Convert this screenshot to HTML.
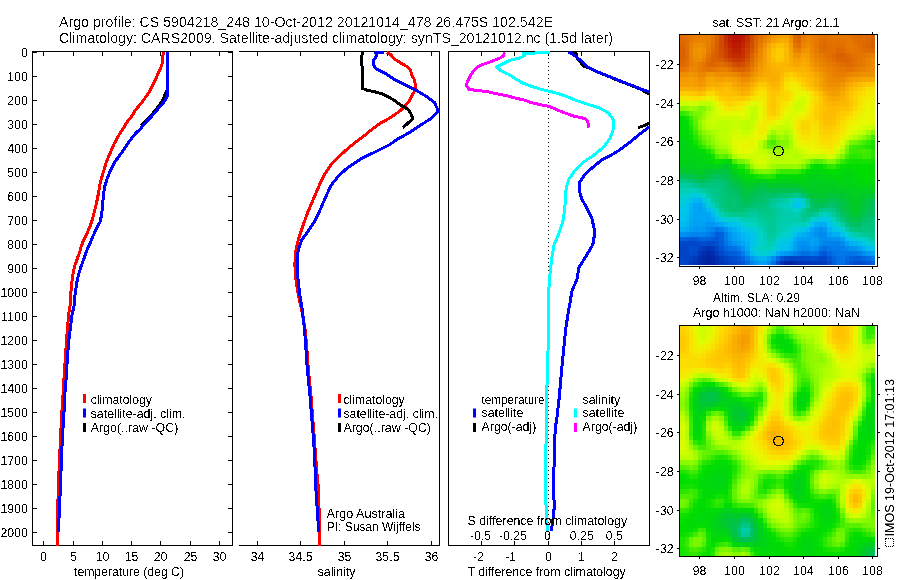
<!DOCTYPE html>
<html><head><meta charset="utf-8"><title>Argo profile</title>
<style>html,body{margin:0;padding:0;background:#fff;overflow:hidden}svg{display:block}</style></head>
<body><svg width="900" height="580" viewBox="0 0 900 580" font-family="Liberation Sans, Arial, Helvetica, sans-serif" fill="#000">
<rect width="900" height="580" fill="#fff"/>
<rect x="32" y="51" width="201" height="1"/>
<rect x="32" y="545" width="201" height="1"/>
<rect x="32" y="51" width="1" height="495"/>
<rect x="232" y="51" width="1" height="495"/>
<rect x="32" y="52" width="5" height="1"/>
<rect x="228" y="52" width="5" height="1"/>
<rect x="32" y="76" width="5" height="1"/>
<rect x="228" y="76" width="5" height="1"/>
<rect x="32" y="100" width="5" height="1"/>
<rect x="228" y="100" width="5" height="1"/>
<rect x="32" y="124" width="5" height="1"/>
<rect x="228" y="124" width="5" height="1"/>
<rect x="32" y="148" width="5" height="1"/>
<rect x="228" y="148" width="5" height="1"/>
<rect x="32" y="172" width="5" height="1"/>
<rect x="228" y="172" width="5" height="1"/>
<rect x="32" y="196" width="5" height="1"/>
<rect x="228" y="196" width="5" height="1"/>
<rect x="32" y="220" width="5" height="1"/>
<rect x="228" y="220" width="5" height="1"/>
<rect x="32" y="244" width="5" height="1"/>
<rect x="228" y="244" width="5" height="1"/>
<rect x="32" y="268" width="5" height="1"/>
<rect x="228" y="268" width="5" height="1"/>
<rect x="32" y="292" width="5" height="1"/>
<rect x="228" y="292" width="5" height="1"/>
<rect x="32" y="316" width="5" height="1"/>
<rect x="228" y="316" width="5" height="1"/>
<rect x="32" y="340" width="5" height="1"/>
<rect x="228" y="340" width="5" height="1"/>
<rect x="32" y="364" width="5" height="1"/>
<rect x="228" y="364" width="5" height="1"/>
<rect x="32" y="388" width="5" height="1"/>
<rect x="228" y="388" width="5" height="1"/>
<rect x="32" y="412" width="5" height="1"/>
<rect x="228" y="412" width="5" height="1"/>
<rect x="32" y="436" width="5" height="1"/>
<rect x="228" y="436" width="5" height="1"/>
<rect x="32" y="460" width="5" height="1"/>
<rect x="228" y="460" width="5" height="1"/>
<rect x="32" y="484" width="5" height="1"/>
<rect x="228" y="484" width="5" height="1"/>
<rect x="32" y="508" width="5" height="1"/>
<rect x="228" y="508" width="5" height="1"/>
<rect x="32" y="532" width="5" height="1"/>
<rect x="228" y="532" width="5" height="1"/>
<rect x="43" y="51" width="1" height="5"/>
<rect x="43" y="541" width="1" height="5"/>
<rect x="73" y="51" width="1" height="5"/>
<rect x="73" y="541" width="1" height="5"/>
<rect x="102" y="51" width="1" height="5"/>
<rect x="102" y="541" width="1" height="5"/>
<rect x="131" y="51" width="1" height="5"/>
<rect x="131" y="541" width="1" height="5"/>
<rect x="160" y="51" width="1" height="5"/>
<rect x="160" y="541" width="1" height="5"/>
<rect x="190" y="51" width="1" height="5"/>
<rect x="190" y="541" width="1" height="5"/>
<rect x="219" y="51" width="1" height="5"/>
<rect x="219" y="541" width="1" height="5"/>
<rect x="239" y="51" width="201" height="1"/>
<rect x="239" y="545" width="201" height="1"/>
<rect x="439" y="51" width="1" height="495"/>
<rect x="257" y="51" width="1" height="5"/>
<rect x="257" y="541" width="1" height="5"/>
<rect x="300" y="51" width="1" height="5"/>
<rect x="300" y="541" width="1" height="5"/>
<rect x="344" y="51" width="1" height="5"/>
<rect x="344" y="541" width="1" height="5"/>
<rect x="387" y="51" width="1" height="5"/>
<rect x="387" y="541" width="1" height="5"/>
<rect x="431" y="51" width="1" height="5"/>
<rect x="431" y="541" width="1" height="5"/>
<rect x="448" y="51" width="202" height="1"/>
<rect x="448" y="545" width="202" height="1"/>
<rect x="448" y="51" width="1" height="495"/>
<rect x="649" y="51" width="1" height="495"/>
<rect x="481" y="51" width="1" height="5"/>
<rect x="481" y="541" width="1" height="5"/>
<rect x="514" y="51" width="1" height="5"/>
<rect x="514" y="541" width="1" height="5"/>
<rect x="548" y="51" width="1" height="5"/>
<rect x="548" y="541" width="1" height="5"/>
<rect x="581" y="51" width="1" height="5"/>
<rect x="581" y="541" width="1" height="5"/>
<rect x="614" y="51" width="1" height="5"/>
<rect x="614" y="541" width="1" height="5"/>
<g><rect x="548" y="54" width="1" height="1"/><rect x="548" y="58" width="1" height="1"/><rect x="548" y="62" width="1" height="1"/><rect x="548" y="66" width="1" height="1"/><rect x="548" y="70" width="1" height="1"/><rect x="548" y="74" width="1" height="1"/><rect x="548" y="78" width="1" height="1"/><rect x="548" y="82" width="1" height="1"/><rect x="548" y="86" width="1" height="1"/><rect x="548" y="90" width="1" height="1"/><rect x="548" y="94" width="1" height="1"/><rect x="548" y="98" width="1" height="1"/><rect x="548" y="102" width="1" height="1"/><rect x="548" y="106" width="1" height="1"/><rect x="548" y="110" width="1" height="1"/><rect x="548" y="114" width="1" height="1"/><rect x="548" y="118" width="1" height="1"/><rect x="548" y="122" width="1" height="1"/><rect x="548" y="126" width="1" height="1"/><rect x="548" y="130" width="1" height="1"/><rect x="548" y="134" width="1" height="1"/><rect x="548" y="138" width="1" height="1"/><rect x="548" y="142" width="1" height="1"/><rect x="548" y="146" width="1" height="1"/><rect x="548" y="150" width="1" height="1"/><rect x="548" y="154" width="1" height="1"/><rect x="548" y="158" width="1" height="1"/><rect x="548" y="162" width="1" height="1"/><rect x="548" y="166" width="1" height="1"/><rect x="548" y="170" width="1" height="1"/><rect x="548" y="174" width="1" height="1"/><rect x="548" y="178" width="1" height="1"/><rect x="548" y="182" width="1" height="1"/><rect x="548" y="186" width="1" height="1"/><rect x="548" y="190" width="1" height="1"/><rect x="548" y="194" width="1" height="1"/><rect x="548" y="198" width="1" height="1"/><rect x="548" y="202" width="1" height="1"/><rect x="548" y="206" width="1" height="1"/><rect x="548" y="210" width="1" height="1"/><rect x="548" y="214" width="1" height="1"/><rect x="548" y="218" width="1" height="1"/><rect x="548" y="222" width="1" height="1"/><rect x="548" y="226" width="1" height="1"/><rect x="548" y="230" width="1" height="1"/><rect x="548" y="234" width="1" height="1"/><rect x="548" y="238" width="1" height="1"/><rect x="548" y="242" width="1" height="1"/><rect x="548" y="246" width="1" height="1"/><rect x="548" y="250" width="1" height="1"/><rect x="548" y="254" width="1" height="1"/><rect x="548" y="258" width="1" height="1"/><rect x="548" y="262" width="1" height="1"/><rect x="548" y="266" width="1" height="1"/><rect x="548" y="270" width="1" height="1"/><rect x="548" y="274" width="1" height="1"/><rect x="548" y="278" width="1" height="1"/><rect x="548" y="282" width="1" height="1"/><rect x="548" y="286" width="1" height="1"/><rect x="548" y="290" width="1" height="1"/><rect x="548" y="294" width="1" height="1"/><rect x="548" y="298" width="1" height="1"/><rect x="548" y="302" width="1" height="1"/><rect x="548" y="306" width="1" height="1"/><rect x="548" y="310" width="1" height="1"/><rect x="548" y="314" width="1" height="1"/><rect x="548" y="318" width="1" height="1"/><rect x="548" y="322" width="1" height="1"/><rect x="548" y="326" width="1" height="1"/><rect x="548" y="330" width="1" height="1"/><rect x="548" y="334" width="1" height="1"/><rect x="548" y="338" width="1" height="1"/><rect x="548" y="342" width="1" height="1"/><rect x="548" y="346" width="1" height="1"/><rect x="548" y="350" width="1" height="1"/><rect x="548" y="354" width="1" height="1"/><rect x="548" y="358" width="1" height="1"/><rect x="548" y="362" width="1" height="1"/><rect x="548" y="366" width="1" height="1"/><rect x="548" y="370" width="1" height="1"/><rect x="548" y="374" width="1" height="1"/><rect x="548" y="378" width="1" height="1"/><rect x="548" y="382" width="1" height="1"/><rect x="548" y="386" width="1" height="1"/><rect x="548" y="390" width="1" height="1"/><rect x="548" y="394" width="1" height="1"/><rect x="548" y="398" width="1" height="1"/><rect x="548" y="402" width="1" height="1"/><rect x="548" y="406" width="1" height="1"/><rect x="548" y="410" width="1" height="1"/><rect x="548" y="414" width="1" height="1"/><rect x="548" y="418" width="1" height="1"/><rect x="548" y="422" width="1" height="1"/><rect x="548" y="426" width="1" height="1"/><rect x="548" y="430" width="1" height="1"/><rect x="548" y="434" width="1" height="1"/><rect x="548" y="438" width="1" height="1"/><rect x="548" y="442" width="1" height="1"/><rect x="548" y="446" width="1" height="1"/><rect x="548" y="450" width="1" height="1"/><rect x="548" y="454" width="1" height="1"/><rect x="548" y="458" width="1" height="1"/><rect x="548" y="462" width="1" height="1"/><rect x="548" y="466" width="1" height="1"/><rect x="548" y="470" width="1" height="1"/><rect x="548" y="474" width="1" height="1"/><rect x="548" y="478" width="1" height="1"/><rect x="548" y="482" width="1" height="1"/><rect x="548" y="486" width="1" height="1"/><rect x="548" y="490" width="1" height="1"/><rect x="548" y="494" width="1" height="1"/><rect x="548" y="498" width="1" height="1"/><rect x="548" y="502" width="1" height="1"/><rect x="548" y="506" width="1" height="1"/><rect x="548" y="510" width="1" height="1"/><rect x="548" y="514" width="1" height="1"/><rect x="548" y="518" width="1" height="1"/><rect x="548" y="522" width="1" height="1"/><rect x="548" y="526" width="1" height="1"/><rect x="548" y="530" width="1" height="1"/><rect x="548" y="534" width="1" height="1"/><rect x="548" y="538" width="1" height="1"/><rect x="548" y="542" width="1" height="1"/></g>
<defs><filter id="crisp" x="0" y="0" width="900" height="580" filterUnits="userSpaceOnUse"><feComponentTransfer><feFuncA type="discrete" tableValues="0 1"/></feComponentTransfer></filter><filter id="crisp3" x="0" y="0" width="900" height="580" filterUnits="userSpaceOnUse"><feComponentTransfer><feFuncA type="linear" slope="1.6" intercept="-0.25"/></feComponentTransfer></filter><filter id="crisp2" x="0" y="0" width="900" height="580" filterUnits="userSpaceOnUse"><feComponentTransfer><feFuncA type="discrete" tableValues="0 0 0 1 1"/></feComponentTransfer></filter><clipPath id="c1"><rect x="32" y="51" width="201" height="495"/></clipPath><clipPath id="c2"><rect x="239" y="51" width="201" height="495"/></clipPath><clipPath id="c3"><rect x="448" y="51" width="202" height="495"/></clipPath></defs>
<path d="M163.3,52.0 L162.8,58.0 L162.0,64.0 L160.7,68.0 L158.3,73.0 L154.6,81.4 L149.8,91.0 L143.2,100.7 L135.3,110.3 L132.1,115.7 L127.2,121.9 L123.1,128.8 L117.6,137.1 L113.4,145.3 L109.3,155.0 L105.9,163.3 L103.1,172.9 L100.3,182.6 L98.6,192.0 L97.9,196.2 L96.4,203.4 L94.3,211.7 L92.2,220.0 L89.7,227.2 L86.6,234.5 L83.4,240.7 L80.6,248.0 L80.0,251.2 L77.4,258.4 L74.8,265.7 L73.3,271.9 L72.2,279.1 L71.2,288.4 L70.7,296.7 L70.2,304.5 L69.0,312.4 L67.5,326.9 L66.5,341.4 L65.2,360.0 L64.0,378.6 L63.0,395.2 L61.9,411.7 L60.5,438.3 L59.1,468.5 L58.1,496.4 L57.4,522.0 L57.0,548.0" fill="none" stroke="#ff0000" stroke-width="3" stroke-linejoin="round" stroke-linecap="butt" shape-rendering="crispEdges" clip-path="url(#c1)"/>
<path d="M167.5,52.0 L167.4,89.5 L165.6,93.0 L164.0,97.5 L162.2,101.3 L158.3,106.5 L153.9,112.0 L149.8,117.0 L143.8,122.3 L141.4,125.3" fill="none" stroke="#000000" stroke-width="3" stroke-linejoin="round" stroke-linecap="butt" shape-rendering="crispEdges" clip-path="url(#c1)"/>
<path d="M167.5,52.0 L167.5,94.3 L166.8,97.4 L164.5,101.3 L160.6,105.9 L155.9,111.4 L150.5,117.6 L145.9,122.2 L140.8,128.4 L135.5,133.6 L130.0,140.5 L125.2,147.4 L119.0,156.4 L114.8,161.9 L110.7,170.2 L107.2,178.4 L104.6,187.0 L103.6,194.0 L103.1,198.3 L102.6,206.6 L101.6,214.8 L100.0,222.1 L96.4,228.3 L93.3,235.5 L90.2,242.8 L87.1,249.5 L86.2,252.2 L83.6,259.5 L81.0,266.7 L79.0,272.9 L77.4,279.1 L75.9,288.4 L74.8,296.7 L74.3,304.5 L72.1,314.5 L70.0,331.0 L68.3,345.5 L67.3,360.0 L66.1,378.6 L64.8,395.2 L63.8,415.9 L62.3,438.3 L61.4,461.5 L60.5,484.8 L59.5,508.0 L58.4,532.0" fill="none" stroke="#0000ff" stroke-width="3" stroke-linejoin="round" stroke-linecap="butt" shape-rendering="crispEdges" clip-path="url(#c1)"/>
<path d="M386.9,52.0 L391.0,54.8 L394.3,58.9 L400.8,63.0 L406.5,66.3 L410.6,70.4 L411.9,75.3 L414.7,80.2 L415.5,87.6 L413.9,92.5 L412.2,95.2 L409.7,100.3 L405.5,105.5 L400.3,110.7 L395.2,114.3 L390.0,117.9 L379.5,123.7 L369.7,131.0 L365.2,135.0 L357.6,140.7 L348.1,148.3 L339.6,155.9 L332.0,163.5 L325.4,173.0 L319.7,184.3 L314.0,197.6 L308.3,210.9 L303.5,224.2 L299.7,235.6 L298.2,240.0 L295.5,252.4 L294.9,264.8 L296.1,281.4 L298.6,295.9 L301.7,310.4 L304.8,327.0 L306.5,343.5 L307.5,359.0 L309.0,376.0 L311.0,396.0 L312.6,417.0 L314.3,438.0 L315.8,458.0 L317.0,474.0 L318.0,484.0 L318.9,504.5 L319.5,525.0 L319.5,548.0" fill="none" stroke="#ff0000" stroke-width="3" stroke-linejoin="round" stroke-linecap="butt" shape-rendering="crispEdges" clip-path="url(#c2)"/>
<path d="M362.3,52.0 L361.5,59.7 L362.3,69.6 L362.3,88.4 L366.4,90.0 L374.6,91.7 L382.8,94.1 L390.0,97.8 L395.2,100.9 L400.3,105.0 L404.5,107.1 L408.1,109.7 L410.7,113.3 L412.8,117.9 L412.8,118.8 L408.2,122.9 L402.8,127.8" fill="none" stroke="#000000" stroke-width="3" stroke-linejoin="round" stroke-linecap="butt" shape-rendering="crispEdges" clip-path="url(#c2)"/>
<path d="M384.4,52.4 L375.4,52.9 L377.0,55.6 L373.8,59.7 L373.3,64.7 L376.2,68.8 L384.4,72.9 L394.3,79.4 L404.1,84.3 L415.6,90.0 L425.4,95.8 L434.4,102.3 L438.5,111.3 L431.9,117.9 L420.4,125.3 L410.6,131.8 L403.2,136.0 L397.5,139.2 L389.9,144.5 L374.7,152.1 L361.4,158.7 L348.1,167.3 L338.6,175.8 L331.0,185.3 L325.4,197.6 L319.7,210.9 L314.0,222.3 L306.4,233.7 L301.7,240.0 L298.2,250.4 L297.0,260.7 L297.6,275.2 L299.7,293.8 L302.4,310.4 L304.2,327.0 L305.7,343.5 L306.5,359.0 L308.0,376.0 L310.0,396.0 L311.7,417.0 L313.4,438.0 L314.8,458.5 L315.2,474.0 L315.5,483.8 L316.9,504.5 L318.3,525.2 L318.6,532.0" fill="none" stroke="#0000ff" stroke-width="3" stroke-linejoin="round" stroke-linecap="butt" shape-rendering="crispEdges" clip-path="url(#c2)"/>
<path d="M504.5,52.4 L503.3,55.9 L499.6,58.3 L494.8,60.1 L488.8,62.5 L481.5,64.9 L477.3,67.3 L473.1,71.5 L470.7,75.2 L468.9,78.8 L467.1,82.4 L466.5,86.0 L469.5,89.6 L479.1,90.6 L488.8,92.0 L497.2,93.9 L506.9,95.7 L515.3,98.1 L523.8,99.9 L532.2,102.9 L540.6,104.7 L549.1,106.5 L552.4,107.8 L564.5,112.9 L574.8,116.4 L585.2,118.6 L587.8,121.6 L588.6,127.6" fill="none" stroke="#ff00ff" stroke-width="3" stroke-linejoin="round" stroke-linecap="butt" shape-rendering="crispEdges" clip-path="url(#c3)"/>
<path d="M573.5,52.0 L577.0,54.3 L576.5,57.0 L579.7,61.5 L584.3,66.4 L589.0,67.9 L593.1,69.9 L597.2,72.0 L606.0,75.4 L617.7,80.2 L620.0,81.1 L630.3,85.0 L640.7,89.3 L646.0,92.3 L649.0,94.0 L670.0,100.0 L670.0,120.0 L649.0,123.1 L643.8,125.7 L638.1,127.7" fill="none" stroke="#000000" stroke-width="3" stroke-linejoin="round" stroke-linecap="butt" shape-rendering="crispEdges" clip-path="url(#c3)"/>
<path d="M568.3,52.1 L571.9,53.7 L575.0,55.8 L577.6,58.3 L580.7,60.4 L583.3,63.0 L585.9,65.6 L589.0,67.7 L593.1,69.7 L597.2,71.8 L606.0,75.2 L617.7,80.0 L620.0,80.9 L630.3,84.8 L640.7,89.0 L648.4,91.5 L670.0,100.0 L670.0,120.0 L648.4,127.7 L640.3,133.6 L630.0,142.2 L619.7,150.0 L611.0,155.2 L602.4,159.5 L593.8,166.4 L585.2,174.1 L579.1,182.8 L579.1,189.7 L581.7,199.1 L585.5,205.4 L591.8,217.8 L594.9,232.3 L592.8,244.7 L585.5,257.1 L578.9,267.5 L576.9,279.9 L572.1,290.2 L570.0,302.7 L568.0,314.0 L565.5,330.7 L563.5,351.4 L561.4,372.1 L559.3,397.0 L556.9,417.7 L555.2,429.0 L554.2,456.0 L553.7,487.1 L554.2,507.8 L552.7,522.3 L551.0,531.0" fill="none" stroke="#0000ff" stroke-width="3" stroke-linejoin="round" stroke-linecap="butt" shape-rendering="crispEdges" clip-path="url(#c3)"/>
<path d="M550.3,52.5 L539.4,52.8 L527.4,53.4 L523.2,53.7 L524.4,55.9 L518.9,58.3 L510.5,60.1 L504.5,63.1 L496.6,66.7 L500.8,70.9 L508.1,74.0 L515.3,78.8 L522.6,83.0 L532.2,86.6 L541.9,89.6 L555.0,92.6 L566.3,96.3 L574.8,100.0 L585.2,103.4 L599.0,107.8 L608.4,112.9 L613.6,119.8 L613.3,129.3 L610.2,137.9 L604.1,146.6 L593.8,155.2 L583.4,162.1 L574.8,170.7 L568.8,179.3 L566.2,187.9 L565.3,199.1 L564.8,209.5 L562.8,221.9 L558.6,234.3 L554.1,244.7 L552.0,257.1 L550.4,269.5 L549.3,282.0 L548.6,295.0 L549.0,310.0 L548.4,334.8 L547.5,372.1 L546.5,399.0 L546.3,429.0 L545.9,449.8 L545.3,474.7 L545.5,495.4 L546.5,514.0 L547.3,531.0" fill="none" stroke="#00ffff" stroke-width="3" stroke-linejoin="round" stroke-linecap="butt" shape-rendering="crispEdges" clip-path="url(#c3)"/>
<rect x="83" y="394" width="3" height="9" fill="#ff0000"/>
<rect x="83" y="408.5" width="3" height="9" fill="#0000ff"/>
<rect x="83" y="423" width="3" height="9" fill="#000000"/>
<rect x="338" y="394" width="3" height="9" fill="#ff0000"/>
<rect x="338" y="408.5" width="3" height="9" fill="#0000ff"/>
<rect x="338" y="423" width="3" height="9" fill="#000000"/>
<rect x="473" y="408.5" width="3" height="9" fill="#0000ff"/>
<rect x="473" y="423" width="3" height="9" fill="#000000"/>
<rect x="574" y="408.5" width="3" height="9" fill="#00ffff"/>
<rect x="574" y="423" width="3" height="9" fill="#ff00ff"/>
<g shape-rendering="crispEdges"><rect x="680.0" y="35.0" width="4.9" height="3.4" fill="#e06c00"/><rect x="684.6" y="35.0" width="4.6" height="3.4" fill="#e27000"/><rect x="689.0" y="35.0" width="4.6" height="3.4" fill="#e67900"/><rect x="693.3" y="35.0" width="17.6" height="3.4" fill="#e87d00"/><rect x="710.6" y="35.0" width="4.6" height="3.4" fill="#e47400"/><rect x="714.9" y="35.0" width="4.6" height="3.4" fill="#db6300"/><rect x="719.2" y="35.0" width="4.6" height="3.4" fill="#d14b00"/><rect x="723.6" y="35.0" width="4.6" height="3.4" fill="#c42d00"/><rect x="727.9" y="35.0" width="4.6" height="3.4" fill="#bc1900"/><rect x="732.2" y="35.0" width="8.9" height="3.4" fill="#b80f00"/><rect x="740.9" y="35.0" width="4.6" height="3.4" fill="#bc1900"/><rect x="745.2" y="35.0" width="4.6" height="3.4" fill="#c42d00"/><rect x="749.5" y="35.0" width="4.6" height="3.4" fill="#d14b00"/><rect x="753.9" y="35.0" width="4.6" height="3.4" fill="#da6100"/><rect x="758.2" y="35.0" width="4.6" height="3.4" fill="#e16f00"/><rect x="762.5" y="35.0" width="4.6" height="3.4" fill="#e87c00"/><rect x="766.8" y="35.0" width="4.6" height="3.4" fill="#ec8800"/><rect x="771.1" y="35.0" width="4.6" height="3.4" fill="#f09300"/><rect x="775.5" y="35.0" width="4.6" height="3.4" fill="#f39c00"/><rect x="779.8" y="35.0" width="9.0" height="3.4" fill="#f5a000"/><rect x="788.5" y="35.0" width="4.6" height="3.4" fill="#ee8d00"/><rect x="792.8" y="35.0" width="4.6" height="3.4" fill="#dd6600"/><rect x="797.1" y="35.0" width="4.6" height="3.4" fill="#da5f00"/><rect x="801.4" y="35.0" width="4.6" height="3.4" fill="#e57800"/><rect x="805.8" y="35.0" width="4.6" height="3.4" fill="#ea8200"/><rect x="810.1" y="35.0" width="4.6" height="3.4" fill="#e97f00"/><rect x="814.4" y="35.0" width="4.6" height="3.4" fill="#e67900"/><rect x="818.7" y="35.0" width="4.6" height="3.4" fill="#e27000"/><rect x="823.0" y="35.0" width="4.6" height="3.4" fill="#e16e00"/><rect x="827.4" y="35.0" width="4.6" height="3.4" fill="#e37300"/><rect x="831.7" y="35.0" width="17.6" height="3.4" fill="#e57600"/><rect x="849.0" y="35.0" width="4.6" height="3.4" fill="#e37300"/><rect x="853.3" y="35.0" width="4.6" height="3.4" fill="#e06c00"/><rect x="857.6" y="35.0" width="4.6" height="3.4" fill="#de6900"/><rect x="862.0" y="35.0" width="4.6" height="3.4" fill="#df6b00"/><rect x="866.3" y="35.0" width="4.6" height="3.4" fill="#dd6700"/><rect x="870.6" y="35.0" width="4.7" height="3.4" fill="#d95e00"/><rect x="680.0" y="38.1" width="4.9" height="5.1" fill="#de6900"/><rect x="684.6" y="38.1" width="4.6" height="5.1" fill="#e16f00"/><rect x="689.0" y="38.1" width="4.6" height="5.1" fill="#e77b00"/><rect x="693.3" y="38.1" width="4.6" height="5.1" fill="#ea8200"/><rect x="697.6" y="38.1" width="4.6" height="5.1" fill="#ea8300"/><rect x="701.9" y="38.1" width="4.6" height="5.1" fill="#ea8200"/><rect x="706.3" y="38.1" width="4.6" height="5.1" fill="#e87d00"/><rect x="710.6" y="38.1" width="4.6" height="5.1" fill="#e37200"/><rect x="714.9" y="38.1" width="4.6" height="5.1" fill="#da6100"/><rect x="719.2" y="38.1" width="4.6" height="5.1" fill="#d14b00"/><rect x="723.6" y="38.1" width="4.6" height="5.1" fill="#c53000"/><rect x="727.9" y="38.1" width="4.6" height="5.1" fill="#be1e00"/><rect x="732.2" y="38.1" width="8.9" height="5.1" fill="#b91200"/><rect x="740.9" y="38.1" width="4.6" height="5.1" fill="#be1e00"/><rect x="745.2" y="38.1" width="4.6" height="5.1" fill="#c63100"/><rect x="749.5" y="38.1" width="4.6" height="5.1" fill="#d14c00"/><rect x="753.9" y="38.1" width="4.6" height="5.1" fill="#db6300"/><rect x="758.2" y="38.1" width="4.6" height="5.1" fill="#e37400"/><rect x="762.5" y="38.1" width="4.6" height="5.1" fill="#ea8300"/><rect x="766.8" y="38.1" width="4.6" height="5.1" fill="#f09200"/><rect x="771.1" y="38.1" width="4.6" height="5.1" fill="#f49e00"/><rect x="775.5" y="38.1" width="4.6" height="5.1" fill="#f7a800"/><rect x="779.8" y="38.1" width="4.6" height="5.1" fill="#f8ab00"/><rect x="784.1" y="38.1" width="4.6" height="5.1" fill="#f7a700"/><rect x="788.5" y="38.1" width="4.6" height="5.1" fill="#f09200"/><rect x="792.8" y="38.1" width="4.6" height="5.1" fill="#e06c00"/><rect x="797.1" y="38.1" width="4.6" height="5.1" fill="#dc6500"/><rect x="801.4" y="38.1" width="4.6" height="5.1" fill="#e87d00"/><rect x="805.8" y="38.1" width="4.6" height="5.1" fill="#eb8600"/><rect x="810.1" y="38.1" width="4.6" height="5.1" fill="#e98000"/><rect x="814.4" y="38.1" width="4.6" height="5.1" fill="#e67800"/><rect x="818.7" y="38.1" width="4.6" height="5.1" fill="#e16e00"/><rect x="823.0" y="38.1" width="4.6" height="5.1" fill="#e06c00"/><rect x="827.4" y="38.1" width="4.6" height="5.1" fill="#e37200"/><rect x="831.7" y="38.1" width="4.6" height="5.1" fill="#e47400"/><rect x="836.0" y="38.1" width="4.6" height="5.1" fill="#e37300"/><rect x="840.4" y="38.1" width="4.6" height="5.1" fill="#e47400"/><rect x="844.7" y="38.1" width="4.6" height="5.1" fill="#e57600"/><rect x="849.0" y="38.1" width="4.6" height="5.1" fill="#e47500"/><rect x="853.3" y="38.1" width="4.6" height="5.1" fill="#e16f00"/><rect x="857.6" y="38.1" width="4.6" height="5.1" fill="#df6b00"/><rect x="862.0" y="38.1" width="4.6" height="5.1" fill="#df6a00"/><rect x="866.3" y="38.1" width="4.6" height="5.1" fill="#dd6600"/><rect x="870.6" y="38.1" width="4.7" height="5.1" fill="#d95e00"/><rect x="680.0" y="42.9" width="4.9" height="5.1" fill="#dc6400"/><rect x="684.6" y="42.9" width="4.6" height="5.1" fill="#e06d00"/><rect x="689.0" y="42.9" width="4.6" height="5.1" fill="#e98100"/><rect x="693.3" y="42.9" width="4.6" height="5.1" fill="#ee8c00"/><rect x="697.6" y="42.9" width="4.6" height="5.1" fill="#ef9000"/><rect x="701.9" y="42.9" width="4.6" height="5.1" fill="#ed8b00"/><rect x="706.3" y="42.9" width="4.6" height="5.1" fill="#e87e00"/><rect x="710.6" y="42.9" width="4.6" height="5.1" fill="#e16f00"/><rect x="714.9" y="42.9" width="4.6" height="5.1" fill="#d95e00"/><rect x="719.2" y="42.9" width="4.6" height="5.1" fill="#d04a00"/><rect x="723.6" y="42.9" width="4.6" height="5.1" fill="#c83700"/><rect x="727.9" y="42.9" width="4.6" height="5.1" fill="#c12600"/><rect x="732.2" y="42.9" width="8.9" height="5.1" fill="#bc1a00"/><rect x="740.9" y="42.9" width="4.6" height="5.1" fill="#c12600"/><rect x="745.2" y="42.9" width="4.6" height="5.1" fill="#c93800"/><rect x="749.5" y="42.9" width="4.6" height="5.1" fill="#d24f00"/><rect x="753.9" y="42.9" width="4.6" height="5.1" fill="#dd6600"/><rect x="758.2" y="42.9" width="4.6" height="5.1" fill="#e87d00"/><rect x="762.5" y="42.9" width="4.6" height="5.1" fill="#f09200"/><rect x="766.8" y="42.9" width="4.6" height="5.1" fill="#f6a500"/><rect x="771.1" y="42.9" width="4.6" height="5.1" fill="#fbb400"/><rect x="775.5" y="42.9" width="8.9" height="5.1" fill="#fec100"/><rect x="784.1" y="42.9" width="4.6" height="5.1" fill="#fbb400"/><rect x="788.5" y="42.9" width="4.6" height="5.1" fill="#f39b00"/><rect x="792.8" y="42.9" width="4.6" height="5.1" fill="#e57700"/><rect x="797.1" y="42.9" width="4.6" height="5.1" fill="#e27000"/><rect x="801.4" y="42.9" width="4.6" height="5.1" fill="#eb8600"/><rect x="805.8" y="42.9" width="4.6" height="5.1" fill="#ee8c00"/><rect x="810.1" y="42.9" width="4.6" height="5.1" fill="#ea8200"/><rect x="814.4" y="42.9" width="4.6" height="5.1" fill="#e57700"/><rect x="818.7" y="42.9" width="4.6" height="5.1" fill="#df6a00"/><rect x="823.0" y="42.9" width="4.6" height="5.1" fill="#de6800"/><rect x="827.4" y="42.9" width="4.6" height="5.1" fill="#e16f00"/><rect x="831.7" y="42.9" width="4.6" height="5.1" fill="#e27100"/><rect x="836.0" y="42.9" width="4.6" height="5.1" fill="#e06d00"/><rect x="840.4" y="42.9" width="4.6" height="5.1" fill="#e16f00"/><rect x="844.7" y="42.9" width="4.6" height="5.1" fill="#e57700"/><rect x="849.0" y="42.9" width="4.6" height="5.1" fill="#e67900"/><rect x="853.3" y="42.9" width="4.6" height="5.1" fill="#e47500"/><rect x="857.6" y="42.9" width="4.6" height="5.1" fill="#e16f00"/><rect x="862.0" y="42.9" width="4.6" height="5.1" fill="#de6900"/><rect x="866.3" y="42.9" width="4.6" height="5.1" fill="#db6300"/><rect x="870.6" y="42.9" width="4.7" height="5.1" fill="#d85d00"/><rect x="680.0" y="47.8" width="4.9" height="5.1" fill="#da6100"/><rect x="684.6" y="47.8" width="4.6" height="5.1" fill="#e06c00"/><rect x="689.0" y="47.8" width="4.6" height="5.1" fill="#ea8300"/><rect x="693.3" y="47.8" width="4.6" height="5.1" fill="#ef9100"/><rect x="697.6" y="47.8" width="4.6" height="5.1" fill="#f19600"/><rect x="701.9" y="47.8" width="4.6" height="5.1" fill="#ee8e00"/><rect x="706.3" y="47.8" width="4.6" height="5.1" fill="#e77b00"/><rect x="710.6" y="47.8" width="4.6" height="5.1" fill="#df6a00"/><rect x="714.9" y="47.8" width="4.6" height="5.1" fill="#d85c00"/><rect x="719.2" y="47.8" width="4.6" height="5.1" fill="#d14c00"/><rect x="723.6" y="47.8" width="4.6" height="5.1" fill="#ca3c00"/><rect x="727.9" y="47.8" width="4.6" height="5.1" fill="#c42e00"/><rect x="732.2" y="47.8" width="8.9" height="5.1" fill="#bf2100"/><rect x="740.9" y="47.8" width="4.6" height="5.1" fill="#c42e00"/><rect x="745.2" y="47.8" width="4.6" height="5.1" fill="#cc3f00"/><rect x="749.5" y="47.8" width="4.6" height="5.1" fill="#d55600"/><rect x="753.9" y="47.8" width="4.6" height="5.1" fill="#e06c00"/><rect x="758.2" y="47.8" width="4.6" height="5.1" fill="#eb8400"/><rect x="762.5" y="47.8" width="4.6" height="5.1" fill="#f39b00"/><rect x="766.8" y="47.8" width="4.6" height="5.1" fill="#f9af00"/><rect x="771.1" y="47.8" width="4.6" height="5.1" fill="#fec000"/><rect x="775.5" y="47.8" width="4.6" height="5.1" fill="#fdcc00"/><rect x="779.8" y="47.8" width="4.6" height="5.1" fill="#feca00"/><rect x="784.1" y="47.8" width="4.6" height="5.1" fill="#fcba00"/><rect x="788.5" y="47.8" width="4.6" height="5.1" fill="#f6a300"/><rect x="792.8" y="47.8" width="4.6" height="5.1" fill="#eb8500"/><rect x="797.1" y="47.8" width="4.6" height="5.1" fill="#e97f00"/><rect x="801.4" y="47.8" width="4.6" height="5.1" fill="#f09200"/><rect x="805.8" y="47.8" width="4.6" height="5.1" fill="#f09400"/><rect x="810.1" y="47.8" width="4.6" height="5.1" fill="#eb8600"/><rect x="814.4" y="47.8" width="4.6" height="5.1" fill="#e67900"/><rect x="818.7" y="47.8" width="4.6" height="5.1" fill="#e16e00"/><rect x="823.0" y="47.8" width="4.6" height="5.1" fill="#df6a00"/><rect x="827.4" y="47.8" width="4.6" height="5.1" fill="#e16f00"/><rect x="831.7" y="47.8" width="4.6" height="5.1" fill="#e16e00"/><rect x="836.0" y="47.8" width="4.6" height="5.1" fill="#de6800"/><rect x="840.4" y="47.8" width="4.6" height="5.1" fill="#de6900"/><rect x="844.7" y="47.8" width="4.6" height="5.1" fill="#e37200"/><rect x="849.0" y="47.8" width="4.6" height="5.1" fill="#e57600"/><rect x="853.3" y="47.8" width="4.6" height="5.1" fill="#e47600"/><rect x="857.6" y="47.8" width="4.6" height="5.1" fill="#e37300"/><rect x="862.0" y="47.8" width="4.6" height="5.1" fill="#e06d00"/><rect x="866.3" y="47.8" width="4.6" height="5.1" fill="#df6a00"/><rect x="870.6" y="47.8" width="4.7" height="5.1" fill="#de6800"/><rect x="680.0" y="52.6" width="4.9" height="5.1" fill="#da6100"/><rect x="684.6" y="52.6" width="4.6" height="5.1" fill="#e06c00"/><rect x="689.0" y="52.6" width="4.6" height="5.1" fill="#ea8300"/><rect x="693.3" y="52.6" width="4.6" height="5.1" fill="#ef9000"/><rect x="697.6" y="52.6" width="4.6" height="5.1" fill="#f19400"/><rect x="701.9" y="52.6" width="4.6" height="5.1" fill="#ed8a00"/><rect x="706.3" y="52.6" width="4.6" height="5.1" fill="#e37200"/><rect x="710.6" y="52.6" width="4.6" height="5.1" fill="#db6300"/><rect x="714.9" y="52.6" width="4.6" height="5.1" fill="#d85c00"/><rect x="719.2" y="52.6" width="4.6" height="5.1" fill="#d35000"/><rect x="723.6" y="52.6" width="4.6" height="5.1" fill="#cc4000"/><rect x="727.9" y="52.6" width="4.6" height="5.1" fill="#c73300"/><rect x="732.2" y="52.6" width="8.9" height="5.1" fill="#c32a00"/><rect x="740.9" y="52.6" width="4.6" height="5.1" fill="#c73300"/><rect x="745.2" y="52.6" width="4.6" height="5.1" fill="#ce4600"/><rect x="749.5" y="52.6" width="4.6" height="5.1" fill="#da6000"/><rect x="753.9" y="52.6" width="4.6" height="5.1" fill="#e57600"/><rect x="758.2" y="52.6" width="4.6" height="5.1" fill="#ed8a00"/><rect x="762.5" y="52.6" width="4.6" height="5.1" fill="#f49e00"/><rect x="766.8" y="52.6" width="4.6" height="5.1" fill="#fab100"/><rect x="771.1" y="52.6" width="4.6" height="5.1" fill="#ffc100"/><rect x="775.5" y="52.6" width="4.6" height="5.1" fill="#fdcd00"/><rect x="779.8" y="52.6" width="4.6" height="5.1" fill="#feca00"/><rect x="784.1" y="52.6" width="4.6" height="5.1" fill="#fcba00"/><rect x="788.5" y="52.6" width="4.6" height="5.1" fill="#f7a800"/><rect x="792.8" y="52.6" width="4.6" height="5.1" fill="#f19500"/><rect x="797.1" y="52.6" width="4.6" height="5.1" fill="#f09200"/><rect x="801.4" y="52.6" width="4.6" height="5.1" fill="#f59f00"/><rect x="805.8" y="52.6" width="4.6" height="5.1" fill="#f49c00"/><rect x="810.1" y="52.6" width="4.6" height="5.1" fill="#ed8b00"/><rect x="814.4" y="52.6" width="4.6" height="5.1" fill="#e97f00"/><rect x="818.7" y="52.6" width="4.6" height="5.1" fill="#e67900"/><rect x="823.0" y="52.6" width="4.6" height="5.1" fill="#e47400"/><rect x="827.4" y="52.6" width="4.6" height="5.1" fill="#e16f00"/><rect x="831.7" y="52.6" width="4.6" height="5.1" fill="#de6900"/><rect x="836.0" y="52.6" width="4.6" height="5.1" fill="#db6100"/><rect x="840.4" y="52.6" width="4.6" height="5.1" fill="#da6100"/><rect x="844.7" y="52.6" width="4.6" height="5.1" fill="#dd6700"/><rect x="849.0" y="52.6" width="4.6" height="5.1" fill="#e06d00"/><rect x="853.3" y="52.6" width="4.6" height="5.1" fill="#e27100"/><rect x="857.6" y="52.6" width="4.6" height="5.1" fill="#e47400"/><rect x="862.0" y="52.6" width="4.6" height="5.1" fill="#e57600"/><rect x="866.3" y="52.6" width="4.6" height="5.1" fill="#e67900"/><rect x="870.6" y="52.6" width="4.7" height="5.1" fill="#e97f00"/><rect x="680.0" y="57.5" width="4.9" height="5.1" fill="#dc6400"/><rect x="684.6" y="57.5" width="4.6" height="5.1" fill="#e16e00"/><rect x="689.0" y="57.5" width="4.6" height="5.1" fill="#ea8200"/><rect x="693.3" y="57.5" width="4.6" height="5.1" fill="#ee8c00"/><rect x="697.6" y="57.5" width="4.6" height="5.1" fill="#ee8d00"/><rect x="701.9" y="57.5" width="4.6" height="5.1" fill="#ea8200"/><rect x="706.3" y="57.5" width="4.6" height="5.1" fill="#e06c00"/><rect x="710.6" y="57.5" width="8.9" height="5.1" fill="#da6100"/><rect x="719.2" y="57.5" width="4.6" height="5.1" fill="#d85c00"/><rect x="723.6" y="57.5" width="4.6" height="5.1" fill="#d24f00"/><rect x="727.9" y="57.5" width="4.6" height="5.1" fill="#cd4300"/><rect x="732.2" y="57.5" width="4.6" height="5.1" fill="#c93900"/><rect x="736.5" y="57.5" width="4.6" height="5.1" fill="#c83700"/><rect x="740.9" y="57.5" width="4.6" height="5.1" fill="#cb3e00"/><rect x="745.2" y="57.5" width="4.6" height="5.1" fill="#d35000"/><rect x="749.5" y="57.5" width="4.6" height="5.1" fill="#de6900"/><rect x="753.9" y="57.5" width="4.6" height="5.1" fill="#e87e00"/><rect x="758.2" y="57.5" width="4.6" height="5.1" fill="#ef8f00"/><rect x="762.5" y="57.5" width="4.6" height="5.1" fill="#f5a000"/><rect x="766.8" y="57.5" width="4.6" height="5.1" fill="#fab100"/><rect x="771.1" y="57.5" width="4.6" height="5.1" fill="#febe00"/><rect x="775.5" y="57.5" width="4.6" height="5.1" fill="#fec700"/><rect x="779.8" y="57.5" width="4.6" height="5.1" fill="#ffc500"/><rect x="784.1" y="57.5" width="4.6" height="5.1" fill="#fcb800"/><rect x="788.5" y="57.5" width="4.6" height="5.1" fill="#f8ac00"/><rect x="792.8" y="57.5" width="4.6" height="5.1" fill="#f5a000"/><rect x="797.1" y="57.5" width="4.6" height="5.1" fill="#f49e00"/><rect x="801.4" y="57.5" width="4.6" height="5.1" fill="#f7a800"/><rect x="805.8" y="57.5" width="4.6" height="5.1" fill="#f6a300"/><rect x="810.1" y="57.5" width="4.6" height="5.1" fill="#f09100"/><rect x="814.4" y="57.5" width="4.6" height="5.1" fill="#eb8600"/><rect x="818.7" y="57.5" width="4.6" height="5.1" fill="#ea8100"/><rect x="823.0" y="57.5" width="4.6" height="5.1" fill="#e77b00"/><rect x="827.4" y="57.5" width="4.6" height="5.1" fill="#e37400"/><rect x="831.7" y="57.5" width="4.6" height="5.1" fill="#e06c00"/><rect x="836.0" y="57.5" width="4.6" height="5.1" fill="#dc6500"/><rect x="840.4" y="57.5" width="4.6" height="5.1" fill="#db6200"/><rect x="844.7" y="57.5" width="4.6" height="5.1" fill="#dc6400"/><rect x="849.0" y="57.5" width="4.6" height="5.1" fill="#de6900"/><rect x="853.3" y="57.5" width="4.6" height="5.1" fill="#e27000"/><rect x="857.6" y="57.5" width="4.6" height="5.1" fill="#e47600"/><rect x="862.0" y="57.5" width="4.6" height="5.1" fill="#e77b00"/><rect x="866.3" y="57.5" width="4.6" height="5.1" fill="#ea8100"/><rect x="870.6" y="57.5" width="4.7" height="5.1" fill="#ed8a00"/><rect x="680.0" y="62.3" width="4.9" height="5.1" fill="#de6900"/><rect x="684.6" y="62.3" width="4.6" height="5.1" fill="#e27000"/><rect x="689.0" y="62.3" width="4.6" height="5.1" fill="#e97f00"/><rect x="693.3" y="62.3" width="4.6" height="5.1" fill="#eb8400"/><rect x="697.6" y="62.3" width="4.6" height="5.1" fill="#e87e00"/><rect x="701.9" y="62.3" width="4.6" height="5.1" fill="#e47500"/><rect x="706.3" y="62.3" width="4.6" height="5.1" fill="#de6800"/><rect x="710.6" y="62.3" width="4.6" height="5.1" fill="#dc6400"/><rect x="714.9" y="62.3" width="4.6" height="5.1" fill="#e06c00"/><rect x="719.2" y="62.3" width="4.6" height="5.1" fill="#e06d00"/><rect x="723.6" y="62.3" width="4.6" height="5.1" fill="#de6800"/><rect x="727.9" y="62.3" width="4.6" height="5.1" fill="#d95e00"/><rect x="732.2" y="62.3" width="4.6" height="5.1" fill="#d24e00"/><rect x="736.5" y="62.3" width="4.6" height="5.1" fill="#cf4800"/><rect x="740.9" y="62.3" width="4.6" height="5.1" fill="#d24f00"/><rect x="745.2" y="62.3" width="4.6" height="5.1" fill="#d85d00"/><rect x="749.5" y="62.3" width="4.6" height="5.1" fill="#e27100"/><rect x="753.9" y="62.3" width="4.6" height="5.1" fill="#ea8300"/><rect x="758.2" y="62.3" width="4.6" height="5.1" fill="#f19500"/><rect x="762.5" y="62.3" width="4.6" height="5.1" fill="#f6a300"/><rect x="766.8" y="62.3" width="4.6" height="5.1" fill="#f9ae00"/><rect x="771.1" y="62.3" width="4.6" height="5.1" fill="#fbb600"/><rect x="775.5" y="62.3" width="4.6" height="5.1" fill="#fcb900"/><rect x="779.8" y="62.3" width="4.6" height="5.1" fill="#fcb800"/><rect x="784.1" y="62.3" width="4.6" height="5.1" fill="#fbb400"/><rect x="788.5" y="62.3" width="4.6" height="5.1" fill="#f9ae00"/><rect x="792.8" y="62.3" width="8.9" height="5.1" fill="#f7a600"/><rect x="801.4" y="62.3" width="4.6" height="5.1" fill="#f9ac00"/><rect x="805.8" y="62.3" width="4.6" height="5.1" fill="#f7a800"/><rect x="810.1" y="62.3" width="4.6" height="5.1" fill="#f29900"/><rect x="814.4" y="62.3" width="4.6" height="5.1" fill="#ee8d00"/><rect x="818.7" y="62.3" width="4.6" height="5.1" fill="#eb8600"/><rect x="823.0" y="62.3" width="4.6" height="5.1" fill="#e98000"/><rect x="827.4" y="62.3" width="4.6" height="5.1" fill="#e77b00"/><rect x="831.7" y="62.3" width="4.6" height="5.1" fill="#e57600"/><rect x="836.0" y="62.3" width="4.6" height="5.1" fill="#e27100"/><rect x="840.4" y="62.3" width="4.6" height="5.1" fill="#e06d00"/><rect x="844.7" y="62.3" width="4.6" height="5.1" fill="#de6900"/><rect x="849.0" y="62.3" width="4.6" height="5.1" fill="#df6b00"/><rect x="853.3" y="62.3" width="4.6" height="5.1" fill="#e27200"/><rect x="857.6" y="62.3" width="4.6" height="5.1" fill="#e57700"/><rect x="862.0" y="62.3" width="4.6" height="5.1" fill="#e77b00"/><rect x="866.3" y="62.3" width="4.6" height="5.1" fill="#ea8100"/><rect x="870.6" y="62.3" width="4.7" height="5.1" fill="#ed8a00"/><rect x="680.0" y="67.1" width="4.9" height="5.1" fill="#e57700"/><rect x="684.6" y="67.1" width="4.6" height="5.1" fill="#e77c00"/><rect x="689.0" y="67.1" width="8.9" height="5.1" fill="#eb8600"/><rect x="697.6" y="67.1" width="4.6" height="5.1" fill="#e87d00"/><rect x="701.9" y="67.1" width="4.6" height="5.1" fill="#e57700"/><rect x="706.3" y="67.1" width="4.6" height="5.1" fill="#e47400"/><rect x="710.6" y="67.1" width="4.6" height="5.1" fill="#e57600"/><rect x="714.9" y="67.1" width="4.6" height="5.1" fill="#e77b00"/><rect x="719.2" y="67.1" width="8.9" height="5.1" fill="#e87d00"/><rect x="727.9" y="67.1" width="4.6" height="5.1" fill="#e47500"/><rect x="732.2" y="67.1" width="4.6" height="5.1" fill="#de6800"/><rect x="736.5" y="67.1" width="4.6" height="5.1" fill="#db6100"/><rect x="740.9" y="67.1" width="4.6" height="5.1" fill="#db6200"/><rect x="745.2" y="67.1" width="4.6" height="5.1" fill="#df6b00"/><rect x="749.5" y="67.1" width="4.6" height="5.1" fill="#e77c00"/><rect x="753.9" y="67.1" width="4.6" height="5.1" fill="#ed8c00"/><rect x="758.2" y="67.1" width="4.6" height="5.1" fill="#f39b00"/><rect x="762.5" y="67.1" width="4.6" height="5.1" fill="#f7a600"/><rect x="766.8" y="67.1" width="4.6" height="5.1" fill="#f9ac00"/><rect x="771.1" y="67.1" width="4.6" height="5.1" fill="#fab000"/><rect x="775.5" y="67.1" width="4.6" height="5.1" fill="#fab100"/><rect x="779.8" y="67.1" width="4.6" height="5.1" fill="#fbb400"/><rect x="784.1" y="67.1" width="8.9" height="5.1" fill="#fcb900"/><rect x="792.8" y="67.1" width="4.6" height="5.1" fill="#fab300"/><rect x="797.1" y="67.1" width="4.6" height="5.1" fill="#fab100"/><rect x="801.4" y="67.1" width="4.6" height="5.1" fill="#fab300"/><rect x="805.8" y="67.1" width="4.6" height="5.1" fill="#f9ae00"/><rect x="810.1" y="67.1" width="4.6" height="5.1" fill="#f6a200"/><rect x="814.4" y="67.1" width="4.6" height="5.1" fill="#f29800"/><rect x="818.7" y="67.1" width="4.6" height="5.1" fill="#ee8e00"/><rect x="823.0" y="67.1" width="4.6" height="5.1" fill="#ec8700"/><rect x="827.4" y="67.1" width="4.6" height="5.1" fill="#ea8100"/><rect x="831.7" y="67.1" width="4.6" height="5.1" fill="#e87d00"/><rect x="836.0" y="67.1" width="4.6" height="5.1" fill="#e67900"/><rect x="840.4" y="67.1" width="4.6" height="5.1" fill="#e57600"/><rect x="844.7" y="67.1" width="4.6" height="5.1" fill="#e37300"/><rect x="849.0" y="67.1" width="4.6" height="5.1" fill="#e47500"/><rect x="853.3" y="67.1" width="4.6" height="5.1" fill="#e77b00"/><rect x="857.6" y="67.1" width="4.6" height="5.1" fill="#e97f00"/><rect x="862.0" y="67.1" width="4.6" height="5.1" fill="#ea8200"/><rect x="866.3" y="67.1" width="4.6" height="5.1" fill="#ec8700"/><rect x="870.6" y="67.1" width="4.7" height="5.1" fill="#ee8d00"/><rect x="680.0" y="72.0" width="4.9" height="5.1" fill="#ee8e00"/><rect x="684.6" y="72.0" width="4.6" height="5.1" fill="#ef9000"/><rect x="689.0" y="72.0" width="4.6" height="5.1" fill="#f19600"/><rect x="693.3" y="72.0" width="4.6" height="5.1" fill="#f09300"/><rect x="697.6" y="72.0" width="8.9" height="5.1" fill="#ec8800"/><rect x="706.3" y="72.0" width="4.6" height="5.1" fill="#f09300"/><rect x="710.6" y="72.0" width="4.6" height="5.1" fill="#f19600"/><rect x="714.9" y="72.0" width="4.6" height="5.1" fill="#ef9000"/><rect x="719.2" y="72.0" width="4.6" height="5.1" fill="#ee8e00"/><rect x="723.6" y="72.0" width="4.6" height="5.1" fill="#ef8f00"/><rect x="727.9" y="72.0" width="4.6" height="5.1" fill="#ee8d00"/><rect x="732.2" y="72.0" width="4.6" height="5.1" fill="#ec8700"/><rect x="736.5" y="72.0" width="4.6" height="5.1" fill="#e98000"/><rect x="740.9" y="72.0" width="4.6" height="5.1" fill="#e67800"/><rect x="745.2" y="72.0" width="4.6" height="5.1" fill="#e77c00"/><rect x="749.5" y="72.0" width="4.6" height="5.1" fill="#ed8b00"/><rect x="753.9" y="72.0" width="4.6" height="5.1" fill="#f29700"/><rect x="758.2" y="72.0" width="4.6" height="5.1" fill="#f6a200"/><rect x="762.5" y="72.0" width="4.6" height="5.1" fill="#f8a900"/><rect x="766.8" y="72.0" width="4.6" height="5.1" fill="#f8ab00"/><rect x="771.1" y="72.0" width="4.6" height="5.1" fill="#f9ae00"/><rect x="775.5" y="72.0" width="4.6" height="5.1" fill="#fab000"/><rect x="779.8" y="72.0" width="4.6" height="5.1" fill="#fcb900"/><rect x="784.1" y="72.0" width="4.6" height="5.1" fill="#fec800"/><rect x="788.5" y="72.0" width="4.6" height="5.1" fill="#fecc00"/><rect x="792.8" y="72.0" width="4.6" height="5.1" fill="#ffc500"/><rect x="797.1" y="72.0" width="4.6" height="5.1" fill="#febf00"/><rect x="801.4" y="72.0" width="4.6" height="5.1" fill="#fdbb00"/><rect x="805.8" y="72.0" width="4.6" height="5.1" fill="#fbb600"/><rect x="810.1" y="72.0" width="4.6" height="5.1" fill="#f9ae00"/><rect x="814.4" y="72.0" width="4.6" height="5.1" fill="#f6a500"/><rect x="818.7" y="72.0" width="4.6" height="5.1" fill="#f39900"/><rect x="823.0" y="72.0" width="4.6" height="5.1" fill="#ef8f00"/><rect x="827.4" y="72.0" width="4.6" height="5.1" fill="#ec8700"/><rect x="831.7" y="72.0" width="4.6" height="5.1" fill="#e98000"/><rect x="836.0" y="72.0" width="4.6" height="5.1" fill="#e87d00"/><rect x="840.4" y="72.0" width="4.6" height="5.1" fill="#e87e00"/><rect x="844.7" y="72.0" width="4.6" height="5.1" fill="#ea8200"/><rect x="849.0" y="72.0" width="4.6" height="5.1" fill="#ec8700"/><rect x="853.3" y="72.0" width="4.6" height="5.1" fill="#ed8b00"/><rect x="857.6" y="72.0" width="4.6" height="5.1" fill="#ef8f00"/><rect x="862.0" y="72.0" width="4.6" height="5.1" fill="#ef9100"/><rect x="866.3" y="72.0" width="4.6" height="5.1" fill="#f09200"/><rect x="870.6" y="72.0" width="4.7" height="5.1" fill="#f09300"/><rect x="680.0" y="76.8" width="4.9" height="5.1" fill="#f39b00"/><rect x="684.6" y="76.8" width="4.6" height="5.1" fill="#f49c00"/><rect x="689.0" y="76.8" width="4.6" height="5.1" fill="#f59f00"/><rect x="693.3" y="76.8" width="4.6" height="5.1" fill="#f39b00"/><rect x="697.6" y="76.8" width="4.6" height="5.1" fill="#ef9100"/><rect x="701.9" y="76.8" width="4.6" height="5.1" fill="#f19400"/><rect x="706.3" y="76.8" width="4.6" height="5.1" fill="#f6a400"/><rect x="710.6" y="76.8" width="4.6" height="5.1" fill="#f7a800"/><rect x="714.9" y="76.8" width="4.6" height="5.1" fill="#f5a000"/><rect x="719.2" y="76.8" width="4.6" height="5.1" fill="#f49e00"/><rect x="723.6" y="76.8" width="4.6" height="5.1" fill="#f6a200"/><rect x="727.9" y="76.8" width="4.6" height="5.1" fill="#f5a100"/><rect x="732.2" y="76.8" width="4.6" height="5.1" fill="#f49c00"/><rect x="736.5" y="76.8" width="4.6" height="5.1" fill="#f19500"/><rect x="740.9" y="76.8" width="4.6" height="5.1" fill="#ed8b00"/><rect x="745.2" y="76.8" width="4.6" height="5.1" fill="#ee8d00"/><rect x="749.5" y="76.8" width="4.6" height="5.1" fill="#f39a00"/><rect x="753.9" y="76.8" width="4.6" height="5.1" fill="#f7a600"/><rect x="758.2" y="76.8" width="4.6" height="5.1" fill="#fab100"/><rect x="762.5" y="76.8" width="4.6" height="5.1" fill="#fbb500"/><rect x="766.8" y="76.8" width="4.6" height="5.1" fill="#fab000"/><rect x="771.1" y="76.8" width="4.6" height="5.1" fill="#f9af00"/><rect x="775.5" y="76.8" width="4.6" height="5.1" fill="#fab200"/><rect x="779.8" y="76.8" width="4.6" height="5.1" fill="#febf00"/><rect x="784.1" y="76.8" width="4.6" height="5.1" fill="#fcd500"/><rect x="788.5" y="76.8" width="4.6" height="5.1" fill="#fbdd00"/><rect x="792.8" y="76.8" width="4.6" height="5.1" fill="#fcd700"/><rect x="797.1" y="76.8" width="4.6" height="5.1" fill="#fdcf00"/><rect x="801.4" y="76.8" width="4.6" height="5.1" fill="#ffc500"/><rect x="805.8" y="76.8" width="4.6" height="5.1" fill="#fdbc00"/><rect x="810.1" y="76.8" width="4.6" height="5.1" fill="#fbb600"/><rect x="814.4" y="76.8" width="4.6" height="5.1" fill="#f9ad00"/><rect x="818.7" y="76.8" width="4.6" height="5.1" fill="#f5a000"/><rect x="823.0" y="76.8" width="4.6" height="5.1" fill="#f19400"/><rect x="827.4" y="76.8" width="4.6" height="5.1" fill="#ed8b00"/><rect x="831.7" y="76.8" width="4.6" height="5.1" fill="#eb8600"/><rect x="836.0" y="76.8" width="4.6" height="5.1" fill="#eb8400"/><rect x="840.4" y="76.8" width="4.6" height="5.1" fill="#ec8800"/><rect x="844.7" y="76.8" width="4.6" height="5.1" fill="#f09200"/><rect x="849.0" y="76.8" width="4.6" height="5.1" fill="#f39a00"/><rect x="853.3" y="76.8" width="4.6" height="5.1" fill="#f49e00"/><rect x="857.6" y="76.8" width="4.6" height="5.1" fill="#f6a300"/><rect x="862.0" y="76.8" width="4.6" height="5.1" fill="#f7a600"/><rect x="866.3" y="76.8" width="4.6" height="5.1" fill="#f8a900"/><rect x="870.6" y="76.8" width="4.7" height="5.1" fill="#f8aa00"/><rect x="680.0" y="81.7" width="4.9" height="5.1" fill="#f49e00"/><rect x="684.6" y="81.7" width="4.6" height="5.1" fill="#f59f00"/><rect x="689.0" y="81.7" width="4.6" height="5.1" fill="#f5a000"/><rect x="693.3" y="81.7" width="4.6" height="5.1" fill="#f49d00"/><rect x="697.6" y="81.7" width="4.6" height="5.1" fill="#f29700"/><rect x="701.9" y="81.7" width="4.6" height="5.1" fill="#f39b00"/><rect x="706.3" y="81.7" width="4.6" height="5.1" fill="#f8a900"/><rect x="710.6" y="81.7" width="4.6" height="5.1" fill="#f9ae00"/><rect x="714.9" y="81.7" width="4.6" height="5.1" fill="#f8ac00"/><rect x="719.2" y="81.7" width="4.6" height="5.1" fill="#f9ae00"/><rect x="723.6" y="81.7" width="4.6" height="5.1" fill="#fbb500"/><rect x="727.9" y="81.7" width="4.6" height="5.1" fill="#fab300"/><rect x="732.2" y="81.7" width="4.6" height="5.1" fill="#f7a800"/><rect x="736.5" y="81.7" width="4.6" height="5.1" fill="#f5a000"/><rect x="740.9" y="81.7" width="4.6" height="5.1" fill="#f39a00"/><rect x="745.2" y="81.7" width="4.6" height="5.1" fill="#f49e00"/><rect x="749.5" y="81.7" width="4.6" height="5.1" fill="#f8aa00"/><rect x="753.9" y="81.7" width="4.6" height="5.1" fill="#fcb800"/><rect x="758.2" y="81.7" width="4.6" height="5.1" fill="#fec700"/><rect x="762.5" y="81.7" width="4.6" height="5.1" fill="#fec800"/><rect x="766.8" y="81.7" width="4.6" height="5.1" fill="#fdbc00"/><rect x="771.1" y="81.7" width="4.6" height="5.1" fill="#fbb500"/><rect x="775.5" y="81.7" width="4.6" height="5.1" fill="#fbb600"/><rect x="779.8" y="81.7" width="4.6" height="5.1" fill="#fec600"/><rect x="784.1" y="81.7" width="4.6" height="5.1" fill="#fae100"/><rect x="788.5" y="81.7" width="4.6" height="5.1" fill="#f2eb00"/><rect x="792.8" y="81.7" width="4.6" height="5.1" fill="#f3ea00"/><rect x="797.1" y="81.7" width="4.6" height="5.1" fill="#fae100"/><rect x="801.4" y="81.7" width="4.6" height="5.1" fill="#fdcf00"/><rect x="805.8" y="81.7" width="4.6" height="5.1" fill="#ffc300"/><rect x="810.1" y="81.7" width="4.6" height="5.1" fill="#fdbb00"/><rect x="814.4" y="81.7" width="4.6" height="5.1" fill="#f9af00"/><rect x="818.7" y="81.7" width="4.6" height="5.1" fill="#f5a000"/><rect x="823.0" y="81.7" width="4.6" height="5.1" fill="#f19600"/><rect x="827.4" y="81.7" width="4.6" height="5.1" fill="#ef8f00"/><rect x="831.7" y="81.7" width="4.6" height="5.1" fill="#ee8d00"/><rect x="836.0" y="81.7" width="4.6" height="5.1" fill="#ee8e00"/><rect x="840.4" y="81.7" width="4.6" height="5.1" fill="#f19600"/><rect x="844.7" y="81.7" width="4.6" height="5.1" fill="#f6a200"/><rect x="849.0" y="81.7" width="4.6" height="5.1" fill="#f9ac00"/><rect x="853.3" y="81.7" width="4.6" height="5.1" fill="#fbb400"/><rect x="857.6" y="81.7" width="4.6" height="5.1" fill="#fdbb00"/><rect x="862.0" y="81.7" width="4.6" height="5.1" fill="#ffc200"/><rect x="866.3" y="81.7" width="4.6" height="5.1" fill="#fec900"/><rect x="870.6" y="81.7" width="4.7" height="5.1" fill="#fdd000"/><rect x="680.0" y="86.5" width="4.9" height="5.1" fill="#fab000"/><rect x="684.6" y="86.5" width="4.6" height="5.1" fill="#f9af00"/><rect x="689.0" y="86.5" width="4.6" height="5.1" fill="#f9ae00"/><rect x="693.3" y="86.5" width="4.6" height="5.1" fill="#f8ab00"/><rect x="697.6" y="86.5" width="4.6" height="5.1" fill="#f7a600"/><rect x="701.9" y="86.5" width="4.6" height="5.1" fill="#f8ab00"/><rect x="706.3" y="86.5" width="4.6" height="5.1" fill="#fdbb00"/><rect x="710.6" y="86.5" width="4.6" height="5.1" fill="#fec000"/><rect x="714.9" y="86.5" width="8.9" height="5.1" fill="#fcb900"/><rect x="723.6" y="86.5" width="4.6" height="5.1" fill="#fec000"/><rect x="727.9" y="86.5" width="4.6" height="5.1" fill="#febe00"/><rect x="732.2" y="86.5" width="4.6" height="5.1" fill="#fab300"/><rect x="736.5" y="86.5" width="4.6" height="5.1" fill="#f8ac00"/><rect x="740.9" y="86.5" width="4.6" height="5.1" fill="#f7a700"/><rect x="745.2" y="86.5" width="4.6" height="5.1" fill="#f8ac00"/><rect x="749.5" y="86.5" width="4.6" height="5.1" fill="#fcba00"/><rect x="753.9" y="86.5" width="4.6" height="5.1" fill="#fec900"/><rect x="758.2" y="86.5" width="4.6" height="5.1" fill="#fcd700"/><rect x="762.5" y="86.5" width="4.6" height="5.1" fill="#fcd600"/><rect x="766.8" y="86.5" width="4.6" height="5.1" fill="#ffc500"/><rect x="771.1" y="86.5" width="4.6" height="5.1" fill="#fdbc00"/><rect x="775.5" y="86.5" width="4.6" height="5.1" fill="#febe00"/><rect x="779.8" y="86.5" width="4.6" height="5.1" fill="#fecb00"/><rect x="784.1" y="86.5" width="4.6" height="5.1" fill="#fae200"/><rect x="788.5" y="86.5" width="4.6" height="5.1" fill="#f0ed00"/><rect x="792.8" y="86.5" width="4.6" height="5.1" fill="#ecf200"/><rect x="797.1" y="86.5" width="4.6" height="5.1" fill="#f0ee00"/><rect x="801.4" y="86.5" width="4.6" height="5.1" fill="#fae200"/><rect x="805.8" y="86.5" width="4.6" height="5.1" fill="#fcd500"/><rect x="810.1" y="86.5" width="4.6" height="5.1" fill="#fec900"/><rect x="814.4" y="86.5" width="4.6" height="5.1" fill="#fdbb00"/><rect x="818.7" y="86.5" width="4.6" height="5.1" fill="#f8aa00"/><rect x="823.0" y="86.5" width="4.6" height="5.1" fill="#f49e00"/><rect x="827.4" y="86.5" width="4.6" height="5.1" fill="#f29700"/><rect x="831.7" y="86.5" width="4.6" height="5.1" fill="#f19500"/><rect x="836.0" y="86.5" width="4.6" height="5.1" fill="#f29800"/><rect x="840.4" y="86.5" width="4.6" height="5.1" fill="#f5a100"/><rect x="844.7" y="86.5" width="4.6" height="5.1" fill="#f9af00"/><rect x="849.0" y="86.5" width="4.6" height="5.1" fill="#fdbb00"/><rect x="853.3" y="86.5" width="4.6" height="5.1" fill="#ffc400"/><rect x="857.6" y="86.5" width="4.6" height="5.1" fill="#fdcc00"/><rect x="862.0" y="86.5" width="4.6" height="5.1" fill="#fcd400"/><rect x="866.3" y="86.5" width="4.6" height="5.1" fill="#fbdd00"/><rect x="870.6" y="86.5" width="4.7" height="5.1" fill="#f7e500"/><rect x="680.0" y="91.3" width="4.9" height="5.1" fill="#fdce00"/><rect x="684.6" y="91.3" width="4.6" height="5.1" fill="#fecc00"/><rect x="689.0" y="91.3" width="4.6" height="5.1" fill="#fec800"/><rect x="693.3" y="91.3" width="4.6" height="5.1" fill="#ffc400"/><rect x="697.6" y="91.3" width="4.6" height="5.1" fill="#fdbc00"/><rect x="701.9" y="91.3" width="4.6" height="5.1" fill="#ffc400"/><rect x="706.3" y="91.3" width="4.6" height="5.1" fill="#fcd700"/><rect x="710.6" y="91.3" width="4.6" height="5.1" fill="#fbd900"/><rect x="714.9" y="91.3" width="4.6" height="5.1" fill="#fec800"/><rect x="719.2" y="91.3" width="4.6" height="5.1" fill="#fec000"/><rect x="723.6" y="91.3" width="4.6" height="5.1" fill="#ffc200"/><rect x="727.9" y="91.3" width="4.6" height="5.1" fill="#fec100"/><rect x="732.2" y="91.3" width="4.6" height="5.1" fill="#febe00"/><rect x="736.5" y="91.3" width="4.6" height="5.1" fill="#fcb800"/><rect x="740.9" y="91.3" width="4.6" height="5.1" fill="#fab100"/><rect x="745.2" y="91.3" width="4.6" height="5.1" fill="#fbb700"/><rect x="749.5" y="91.3" width="4.6" height="5.1" fill="#fec800"/><rect x="753.9" y="91.3" width="4.6" height="5.1" fill="#fcd700"/><rect x="758.2" y="91.3" width="4.6" height="5.1" fill="#f8e300"/><rect x="762.5" y="91.3" width="4.6" height="5.1" fill="#fae000"/><rect x="766.8" y="91.3" width="4.6" height="5.1" fill="#fecb00"/><rect x="771.1" y="91.3" width="4.6" height="5.1" fill="#ffc400"/><rect x="775.5" y="91.3" width="4.6" height="5.1" fill="#fec900"/><rect x="779.8" y="91.3" width="4.6" height="5.1" fill="#fdd000"/><rect x="784.1" y="91.3" width="4.6" height="5.1" fill="#fcd700"/><rect x="788.5" y="91.3" width="4.6" height="5.1" fill="#f8e300"/><rect x="792.8" y="91.3" width="4.6" height="5.1" fill="#edf100"/><rect x="797.1" y="91.3" width="8.9" height="5.1" fill="#e8f800"/><rect x="805.8" y="91.3" width="4.6" height="5.1" fill="#eef000"/><rect x="810.1" y="91.3" width="4.6" height="5.1" fill="#fae100"/><rect x="814.4" y="91.3" width="4.6" height="5.1" fill="#fdcf00"/><rect x="818.7" y="91.3" width="4.6" height="5.1" fill="#fdbd00"/><rect x="823.0" y="91.3" width="4.6" height="5.1" fill="#f9ad00"/><rect x="827.4" y="91.3" width="4.6" height="5.1" fill="#f5a200"/><rect x="831.7" y="91.3" width="4.6" height="5.1" fill="#f49d00"/><rect x="836.0" y="91.3" width="4.6" height="5.1" fill="#f5a100"/><rect x="840.4" y="91.3" width="4.6" height="5.1" fill="#f8aa00"/><rect x="844.7" y="91.3" width="4.6" height="5.1" fill="#fcb800"/><rect x="849.0" y="91.3" width="4.6" height="5.1" fill="#ffc400"/><rect x="853.3" y="91.3" width="4.6" height="5.1" fill="#fdce00"/><rect x="857.6" y="91.3" width="4.6" height="5.1" fill="#fcd700"/><rect x="862.0" y="91.3" width="4.6" height="5.1" fill="#fae000"/><rect x="866.3" y="91.3" width="4.6" height="5.1" fill="#f6e600"/><rect x="870.6" y="91.3" width="4.7" height="5.1" fill="#f1ec00"/><rect x="680.0" y="96.2" width="4.9" height="5.1" fill="#f2eb00"/><rect x="684.6" y="96.2" width="4.6" height="5.1" fill="#f3e900"/><rect x="689.0" y="96.2" width="4.6" height="5.1" fill="#f6e600"/><rect x="693.3" y="96.2" width="4.6" height="5.1" fill="#f8e300"/><rect x="697.6" y="96.2" width="4.6" height="5.1" fill="#f9e200"/><rect x="701.9" y="96.2" width="4.6" height="5.1" fill="#f5e700"/><rect x="706.3" y="96.2" width="4.6" height="5.1" fill="#ecf300"/><rect x="710.6" y="96.2" width="4.6" height="5.1" fill="#eef000"/><rect x="714.9" y="96.2" width="4.6" height="5.1" fill="#fbdd00"/><rect x="719.2" y="96.2" width="4.6" height="5.1" fill="#fdcf00"/><rect x="723.6" y="96.2" width="4.6" height="5.1" fill="#feca00"/><rect x="727.9" y="96.2" width="4.6" height="5.1" fill="#fec800"/><rect x="732.2" y="96.2" width="4.6" height="5.1" fill="#feca00"/><rect x="736.5" y="96.2" width="4.6" height="5.1" fill="#fec900"/><rect x="740.9" y="96.2" width="4.6" height="5.1" fill="#fec700"/><rect x="745.2" y="96.2" width="4.6" height="5.1" fill="#fdce00"/><rect x="749.5" y="96.2" width="4.6" height="5.1" fill="#fae000"/><rect x="753.9" y="96.2" width="4.6" height="5.1" fill="#f3ea00"/><rect x="758.2" y="96.2" width="4.6" height="5.1" fill="#f0ed00"/><rect x="762.5" y="96.2" width="4.6" height="5.1" fill="#f7e500"/><rect x="766.8" y="96.2" width="4.6" height="5.1" fill="#fdce00"/><rect x="771.1" y="96.2" width="4.6" height="5.1" fill="#fec600"/><rect x="775.5" y="96.2" width="4.6" height="5.1" fill="#fdd000"/><rect x="779.8" y="96.2" width="4.6" height="5.1" fill="#fcd600"/><rect x="784.1" y="96.2" width="4.6" height="5.1" fill="#fbd900"/><rect x="788.5" y="96.2" width="4.6" height="5.1" fill="#f7e500"/><rect x="792.8" y="96.2" width="4.6" height="5.1" fill="#e8f700"/><rect x="797.1" y="96.2" width="4.6" height="5.1" fill="#d9fb00"/><rect x="801.4" y="96.2" width="4.6" height="5.1" fill="#d5fc00"/><rect x="805.8" y="96.2" width="4.6" height="5.1" fill="#e4fa00"/><rect x="810.1" y="96.2" width="4.6" height="5.1" fill="#f4e800"/><rect x="814.4" y="96.2" width="4.6" height="5.1" fill="#fcd700"/><rect x="818.7" y="96.2" width="4.6" height="5.1" fill="#fec700"/><rect x="823.0" y="96.2" width="4.6" height="5.1" fill="#fcb800"/><rect x="827.4" y="96.2" width="4.6" height="5.1" fill="#f8ac00"/><rect x="831.7" y="96.2" width="4.6" height="5.1" fill="#f7a800"/><rect x="836.0" y="96.2" width="4.6" height="5.1" fill="#f8ab00"/><rect x="840.4" y="96.2" width="4.6" height="5.1" fill="#fab100"/><rect x="844.7" y="96.2" width="4.6" height="5.1" fill="#fdbb00"/><rect x="849.0" y="96.2" width="4.6" height="5.1" fill="#fec700"/><rect x="853.3" y="96.2" width="4.6" height="5.1" fill="#fcd200"/><rect x="857.6" y="96.2" width="4.6" height="5.1" fill="#fbdd00"/><rect x="862.0" y="96.2" width="4.6" height="5.1" fill="#f6e700"/><rect x="866.3" y="96.2" width="4.6" height="5.1" fill="#f0ed00"/><rect x="870.6" y="96.2" width="4.7" height="5.1" fill="#ecf200"/><rect x="680.0" y="101.0" width="4.9" height="5.1" fill="#cbfd00"/><rect x="684.6" y="101.0" width="4.6" height="5.1" fill="#cefd00"/><rect x="689.0" y="101.0" width="4.6" height="5.1" fill="#d3fc00"/><rect x="693.3" y="101.0" width="4.6" height="5.1" fill="#cefd00"/><rect x="697.6" y="101.0" width="4.6" height="5.1" fill="#c0fe00"/><rect x="701.9" y="101.0" width="4.6" height="5.1" fill="#bbff00"/><rect x="706.3" y="101.0" width="4.6" height="5.1" fill="#befe00"/><rect x="710.6" y="101.0" width="4.6" height="5.1" fill="#cffd00"/><rect x="714.9" y="101.0" width="4.6" height="5.1" fill="#e9f600"/><rect x="719.2" y="101.0" width="4.6" height="5.1" fill="#f6e600"/><rect x="723.6" y="101.0" width="4.6" height="5.1" fill="#fcd700"/><rect x="727.9" y="101.0" width="4.6" height="5.1" fill="#fdd100"/><rect x="732.2" y="101.0" width="4.6" height="5.1" fill="#fcd700"/><rect x="736.5" y="101.0" width="4.6" height="5.1" fill="#fbdd00"/><rect x="740.9" y="101.0" width="4.6" height="5.1" fill="#f8e400"/><rect x="745.2" y="101.0" width="4.6" height="5.1" fill="#efee00"/><rect x="749.5" y="101.0" width="4.6" height="5.1" fill="#e0fb00"/><rect x="753.9" y="101.0" width="4.6" height="5.1" fill="#dcfb00"/><rect x="758.2" y="101.0" width="4.6" height="5.1" fill="#e9f600"/><rect x="762.5" y="101.0" width="4.6" height="5.1" fill="#f6e600"/><rect x="766.8" y="101.0" width="4.6" height="5.1" fill="#fecc00"/><rect x="771.1" y="101.0" width="4.6" height="5.1" fill="#ffc500"/><rect x="775.5" y="101.0" width="4.6" height="5.1" fill="#fcd200"/><rect x="779.8" y="101.0" width="4.6" height="5.1" fill="#fbde00"/><rect x="784.1" y="101.0" width="4.6" height="5.1" fill="#f5e700"/><rect x="788.5" y="101.0" width="4.6" height="5.1" fill="#ebf300"/><rect x="792.8" y="101.0" width="4.6" height="5.1" fill="#d3fc00"/><rect x="797.1" y="101.0" width="4.6" height="5.1" fill="#cafd00"/><rect x="801.4" y="101.0" width="4.6" height="5.1" fill="#d4fc00"/><rect x="805.8" y="101.0" width="4.6" height="5.1" fill="#e8f700"/><rect x="810.1" y="101.0" width="4.6" height="5.1" fill="#f7e500"/><rect x="814.4" y="101.0" width="4.6" height="5.1" fill="#fcd400"/><rect x="818.7" y="101.0" width="4.6" height="5.1" fill="#fec800"/><rect x="823.0" y="101.0" width="4.6" height="5.1" fill="#fdbe00"/><rect x="827.4" y="101.0" width="4.6" height="5.1" fill="#fbb600"/><rect x="831.7" y="101.0" width="4.6" height="5.1" fill="#fbb300"/><rect x="836.0" y="101.0" width="4.6" height="5.1" fill="#fbb600"/><rect x="840.4" y="101.0" width="4.6" height="5.1" fill="#fcb800"/><rect x="844.7" y="101.0" width="4.6" height="5.1" fill="#fcba00"/><rect x="849.0" y="101.0" width="4.6" height="5.1" fill="#ffc300"/><rect x="853.3" y="101.0" width="4.6" height="5.1" fill="#fdd100"/><rect x="857.6" y="101.0" width="4.6" height="5.1" fill="#fadf00"/><rect x="862.0" y="101.0" width="4.6" height="5.1" fill="#f2ea00"/><rect x="866.3" y="101.0" width="4.6" height="5.1" fill="#ecf200"/><rect x="870.6" y="101.0" width="4.7" height="5.1" fill="#e9f600"/><rect x="680.0" y="105.9" width="4.9" height="5.1" fill="#88f800"/><rect x="684.6" y="105.9" width="4.6" height="5.1" fill="#8ff900"/><rect x="689.0" y="105.9" width="4.6" height="5.1" fill="#9cfb00"/><rect x="693.3" y="105.9" width="4.6" height="5.1" fill="#97fa00"/><rect x="697.6" y="105.9" width="4.6" height="5.1" fill="#7ff700"/><rect x="701.9" y="105.9" width="4.6" height="5.1" fill="#82f800"/><rect x="706.3" y="105.9" width="4.6" height="5.1" fill="#9ffc00"/><rect x="710.6" y="105.9" width="4.6" height="5.1" fill="#befe00"/><rect x="714.9" y="105.9" width="4.6" height="5.1" fill="#d7fc00"/><rect x="719.2" y="105.9" width="4.6" height="5.1" fill="#eaf500"/><rect x="723.6" y="105.9" width="4.6" height="5.1" fill="#f5e800"/><rect x="727.9" y="105.9" width="4.6" height="5.1" fill="#f8e300"/><rect x="732.2" y="105.9" width="4.6" height="5.1" fill="#f4e800"/><rect x="736.5" y="105.9" width="4.6" height="5.1" fill="#f0ed00"/><rect x="740.9" y="105.9" width="4.6" height="5.1" fill="#ebf300"/><rect x="745.2" y="105.9" width="4.6" height="5.1" fill="#dffb00"/><rect x="749.5" y="105.9" width="4.6" height="5.1" fill="#c4fe00"/><rect x="753.9" y="105.9" width="4.6" height="5.1" fill="#c6fe00"/><rect x="758.2" y="105.9" width="4.6" height="5.1" fill="#e4fa00"/><rect x="762.5" y="105.9" width="4.6" height="5.1" fill="#f5e700"/><rect x="766.8" y="105.9" width="4.6" height="5.1" fill="#fdce00"/><rect x="771.1" y="105.9" width="4.6" height="5.1" fill="#fec700"/><rect x="775.5" y="105.9" width="4.6" height="5.1" fill="#fcd500"/><rect x="779.8" y="105.9" width="4.6" height="5.1" fill="#f8e400"/><rect x="784.1" y="105.9" width="4.6" height="5.1" fill="#edf100"/><rect x="788.5" y="105.9" width="4.6" height="5.1" fill="#e1fb00"/><rect x="792.8" y="105.9" width="4.6" height="5.1" fill="#cefd00"/><rect x="797.1" y="105.9" width="4.6" height="5.1" fill="#ccfd00"/><rect x="801.4" y="105.9" width="4.6" height="5.1" fill="#ddfb00"/><rect x="805.8" y="105.9" width="4.6" height="5.1" fill="#ecf200"/><rect x="810.1" y="105.9" width="4.6" height="5.1" fill="#fae100"/><rect x="814.4" y="105.9" width="4.6" height="5.1" fill="#fdd100"/><rect x="818.7" y="105.9" width="4.6" height="5.1" fill="#fec700"/><rect x="823.0" y="105.9" width="4.6" height="5.1" fill="#febf00"/><rect x="827.4" y="105.9" width="4.6" height="5.1" fill="#fdbb00"/><rect x="831.7" y="105.9" width="4.6" height="5.1" fill="#fcba00"/><rect x="836.0" y="105.9" width="4.6" height="5.1" fill="#febe00"/><rect x="840.4" y="105.9" width="4.6" height="5.1" fill="#fec000"/><rect x="844.7" y="105.9" width="4.6" height="5.1" fill="#fec100"/><rect x="849.0" y="105.9" width="4.6" height="5.1" fill="#fec900"/><rect x="853.3" y="105.9" width="4.6" height="5.1" fill="#fcd800"/><rect x="857.6" y="105.9" width="4.6" height="5.1" fill="#f7e500"/><rect x="862.0" y="105.9" width="4.6" height="5.1" fill="#efee00"/><rect x="866.3" y="105.9" width="4.6" height="5.1" fill="#eaf500"/><rect x="870.6" y="105.9" width="4.7" height="5.1" fill="#e7f800"/><rect x="680.0" y="110.7" width="4.9" height="5.1" fill="#31e800"/><rect x="684.6" y="110.7" width="4.6" height="5.1" fill="#43ec00"/><rect x="689.0" y="110.7" width="4.6" height="5.1" fill="#67f400"/><rect x="693.3" y="110.7" width="4.6" height="5.1" fill="#78f600"/><rect x="697.6" y="110.7" width="4.6" height="5.1" fill="#7df700"/><rect x="701.9" y="110.7" width="4.6" height="5.1" fill="#90fa00"/><rect x="706.3" y="110.7" width="4.6" height="5.1" fill="#b3fe00"/><rect x="710.6" y="110.7" width="4.6" height="5.1" fill="#c7fd00"/><rect x="714.9" y="110.7" width="4.6" height="5.1" fill="#d5fc00"/><rect x="719.2" y="110.7" width="4.6" height="5.1" fill="#defb00"/><rect x="723.6" y="110.7" width="4.6" height="5.1" fill="#e3fa00"/><rect x="727.9" y="110.7" width="4.6" height="5.1" fill="#e5fa00"/><rect x="732.2" y="110.7" width="8.9" height="5.1" fill="#e2fa00"/><rect x="740.9" y="110.7" width="4.6" height="5.1" fill="#e6fa00"/><rect x="745.2" y="110.7" width="4.6" height="5.1" fill="#dbfb00"/><rect x="749.5" y="110.7" width="4.6" height="5.1" fill="#c0fe00"/><rect x="753.9" y="110.7" width="4.6" height="5.1" fill="#c3fe00"/><rect x="758.2" y="110.7" width="4.6" height="5.1" fill="#e3fa00"/><rect x="762.5" y="110.7" width="4.6" height="5.1" fill="#f4e800"/><rect x="766.8" y="110.7" width="4.6" height="5.1" fill="#fcd200"/><rect x="771.1" y="110.7" width="4.6" height="5.1" fill="#fdcc00"/><rect x="775.5" y="110.7" width="4.6" height="5.1" fill="#fbd900"/><rect x="779.8" y="110.7" width="4.6" height="5.1" fill="#f4e800"/><rect x="784.1" y="110.7" width="4.6" height="5.1" fill="#e7f900"/><rect x="788.5" y="110.7" width="4.6" height="5.1" fill="#d9fb00"/><rect x="792.8" y="110.7" width="4.6" height="5.1" fill="#dafb00"/><rect x="797.1" y="110.7" width="4.6" height="5.1" fill="#e1fb00"/><rect x="801.4" y="110.7" width="4.6" height="5.1" fill="#eaf500"/><rect x="805.8" y="110.7" width="4.6" height="5.1" fill="#f2eb00"/><rect x="810.1" y="110.7" width="4.6" height="5.1" fill="#fbdc00"/><rect x="814.4" y="110.7" width="4.6" height="5.1" fill="#fdce00"/><rect x="818.7" y="110.7" width="4.6" height="5.1" fill="#ffc400"/><rect x="823.0" y="110.7" width="4.6" height="5.1" fill="#fdbc00"/><rect x="827.4" y="110.7" width="4.6" height="5.1" fill="#fcba00"/><rect x="831.7" y="110.7" width="4.6" height="5.1" fill="#fdbc00"/><rect x="836.0" y="110.7" width="4.6" height="5.1" fill="#ffc300"/><rect x="840.4" y="110.7" width="4.6" height="5.1" fill="#fec900"/><rect x="844.7" y="110.7" width="4.6" height="5.1" fill="#fdce00"/><rect x="849.0" y="110.7" width="4.6" height="5.1" fill="#fcd800"/><rect x="853.3" y="110.7" width="4.6" height="5.1" fill="#f6e600"/><rect x="857.6" y="110.7" width="4.6" height="5.1" fill="#efee00"/><rect x="862.0" y="110.7" width="4.6" height="5.1" fill="#ecf200"/><rect x="866.3" y="110.7" width="4.6" height="5.1" fill="#e9f600"/><rect x="870.6" y="110.7" width="4.7" height="5.1" fill="#e7f900"/><rect x="680.0" y="115.5" width="4.9" height="5.1" fill="#00dd02"/><rect x="684.6" y="115.5" width="4.6" height="5.1" fill="#10e100"/><rect x="689.0" y="115.5" width="4.6" height="5.1" fill="#3aea00"/><rect x="693.3" y="115.5" width="4.6" height="5.1" fill="#63f300"/><rect x="697.6" y="115.5" width="4.6" height="5.1" fill="#81f800"/><rect x="701.9" y="115.5" width="4.6" height="5.1" fill="#9ffc00"/><rect x="706.3" y="115.5" width="4.6" height="5.1" fill="#befe00"/><rect x="710.6" y="115.5" width="4.6" height="5.1" fill="#cbfd00"/><rect x="714.9" y="115.5" width="8.9" height="5.1" fill="#cffd00"/><rect x="723.6" y="115.5" width="4.6" height="5.1" fill="#ccfd00"/><rect x="727.9" y="115.5" width="4.6" height="5.1" fill="#cbfd00"/><rect x="732.2" y="115.5" width="4.6" height="5.1" fill="#ccfd00"/><rect x="736.5" y="115.5" width="4.6" height="5.1" fill="#d0fc00"/><rect x="740.9" y="115.5" width="4.6" height="5.1" fill="#d6fc00"/><rect x="745.2" y="115.5" width="4.6" height="5.1" fill="#d0fc00"/><rect x="749.5" y="115.5" width="4.6" height="5.1" fill="#befe00"/><rect x="753.9" y="115.5" width="4.6" height="5.1" fill="#c7fe00"/><rect x="758.2" y="115.5" width="4.6" height="5.1" fill="#e7f900"/><rect x="762.5" y="115.5" width="4.6" height="5.1" fill="#f3ea00"/><rect x="766.8" y="115.5" width="4.6" height="5.1" fill="#fbdd00"/><rect x="771.1" y="115.5" width="4.6" height="5.1" fill="#fbdc00"/><rect x="775.5" y="115.5" width="4.6" height="5.1" fill="#f6e600"/><rect x="779.8" y="115.5" width="4.6" height="5.1" fill="#edf200"/><rect x="784.1" y="115.5" width="4.6" height="5.1" fill="#dafb00"/><rect x="788.5" y="115.5" width="4.6" height="5.1" fill="#d6fc00"/><rect x="792.8" y="115.5" width="4.6" height="5.1" fill="#e7f900"/><rect x="797.1" y="115.5" width="4.6" height="5.1" fill="#eef000"/><rect x="801.4" y="115.5" width="4.6" height="5.1" fill="#f4e900"/><rect x="805.8" y="115.5" width="4.6" height="5.1" fill="#f9e200"/><rect x="810.1" y="115.5" width="4.6" height="5.1" fill="#fbdb00"/><rect x="814.4" y="115.5" width="4.6" height="5.1" fill="#fdd100"/><rect x="818.7" y="115.5" width="4.6" height="5.1" fill="#ffc500"/><rect x="823.0" y="115.5" width="4.6" height="5.1" fill="#fdbd00"/><rect x="827.4" y="115.5" width="4.6" height="5.1" fill="#fdbc00"/><rect x="831.7" y="115.5" width="4.6" height="5.1" fill="#fec000"/><rect x="836.0" y="115.5" width="4.6" height="5.1" fill="#fec900"/><rect x="840.4" y="115.5" width="4.6" height="5.1" fill="#fdd100"/><rect x="844.7" y="115.5" width="4.6" height="5.1" fill="#fbdb00"/><rect x="849.0" y="115.5" width="4.6" height="5.1" fill="#f7e500"/><rect x="853.3" y="115.5" width="4.6" height="5.1" fill="#efee00"/><rect x="857.6" y="115.5" width="4.6" height="5.1" fill="#ebf400"/><rect x="862.0" y="115.5" width="4.6" height="5.1" fill="#eaf500"/><rect x="866.3" y="115.5" width="4.6" height="5.1" fill="#e8f800"/><rect x="870.6" y="115.5" width="4.7" height="5.1" fill="#e5fa00"/><rect x="680.0" y="120.4" width="4.9" height="5.1" fill="#00db07"/><rect x="684.6" y="120.4" width="4.6" height="5.1" fill="#03df00"/><rect x="689.0" y="120.4" width="4.6" height="5.1" fill="#2be700"/><rect x="693.3" y="120.4" width="4.6" height="5.1" fill="#5df200"/><rect x="697.6" y="120.4" width="4.6" height="5.1" fill="#8cf900"/><rect x="701.9" y="120.4" width="4.6" height="5.1" fill="#affe00"/><rect x="706.3" y="120.4" width="4.6" height="5.1" fill="#c5fe00"/><rect x="710.6" y="120.4" width="4.6" height="5.1" fill="#cafd00"/><rect x="714.9" y="120.4" width="4.6" height="5.1" fill="#c4fe00"/><rect x="719.2" y="120.4" width="4.6" height="5.1" fill="#c0fe00"/><rect x="723.6" y="120.4" width="4.6" height="5.1" fill="#bffe00"/><rect x="727.9" y="120.4" width="4.6" height="5.1" fill="#c1fe00"/><rect x="732.2" y="120.4" width="8.9" height="5.1" fill="#c6fe00"/><rect x="740.9" y="120.4" width="4.6" height="5.1" fill="#c0fe00"/><rect x="745.2" y="120.4" width="4.6" height="5.1" fill="#befe00"/><rect x="749.5" y="120.4" width="4.6" height="5.1" fill="#c0fe00"/><rect x="753.9" y="120.4" width="4.6" height="5.1" fill="#d2fc00"/><rect x="758.2" y="120.4" width="4.6" height="5.1" fill="#ecf200"/><rect x="762.5" y="120.4" width="4.6" height="5.1" fill="#f2eb00"/><rect x="766.8" y="120.4" width="4.6" height="5.1" fill="#f0ed00"/><rect x="771.1" y="120.4" width="4.6" height="5.1" fill="#ecf200"/><rect x="775.5" y="120.4" width="4.6" height="5.1" fill="#e6fa00"/><rect x="779.8" y="120.4" width="4.6" height="5.1" fill="#dafb00"/><rect x="784.1" y="120.4" width="4.6" height="5.1" fill="#cffd00"/><rect x="788.5" y="120.4" width="4.6" height="5.1" fill="#d9fc00"/><rect x="792.8" y="120.4" width="4.6" height="5.1" fill="#eef000"/><rect x="797.1" y="120.4" width="4.6" height="5.1" fill="#f9e300"/><rect x="801.4" y="120.4" width="4.6" height="5.1" fill="#fbd800"/><rect x="805.8" y="120.4" width="4.6" height="5.1" fill="#fcd600"/><rect x="810.1" y="120.4" width="4.6" height="5.1" fill="#fade00"/><rect x="814.4" y="120.4" width="4.6" height="5.1" fill="#fbda00"/><rect x="818.7" y="120.4" width="4.6" height="5.1" fill="#feca00"/><rect x="823.0" y="120.4" width="9.0" height="5.1" fill="#fec100"/><rect x="831.7" y="120.4" width="4.6" height="5.1" fill="#ffc600"/><rect x="836.0" y="120.4" width="4.6" height="5.1" fill="#fdcf00"/><rect x="840.4" y="120.4" width="4.6" height="5.1" fill="#fbdb00"/><rect x="844.7" y="120.4" width="4.6" height="5.1" fill="#f5e700"/><rect x="849.0" y="120.4" width="4.6" height="5.1" fill="#efee00"/><rect x="853.3" y="120.4" width="4.6" height="5.1" fill="#ecf200"/><rect x="857.6" y="120.4" width="4.6" height="5.1" fill="#eaf500"/><rect x="862.0" y="120.4" width="4.6" height="5.1" fill="#e8f800"/><rect x="866.3" y="120.4" width="4.6" height="5.1" fill="#e5fa00"/><rect x="870.6" y="120.4" width="4.7" height="5.1" fill="#dffb00"/><rect x="680.0" y="125.2" width="4.9" height="5.1" fill="#00da09"/><rect x="684.6" y="125.2" width="4.6" height="5.1" fill="#00dd02"/><rect x="689.0" y="125.2" width="4.6" height="5.1" fill="#1ee400"/><rect x="693.3" y="125.2" width="4.6" height="5.1" fill="#4fef00"/><rect x="697.6" y="125.2" width="4.6" height="5.1" fill="#85f800"/><rect x="701.9" y="125.2" width="4.6" height="5.1" fill="#a7fd00"/><rect x="706.3" y="125.2" width="4.6" height="5.1" fill="#bdff00"/><rect x="710.6" y="125.2" width="4.6" height="5.1" fill="#c1fe00"/><rect x="714.9" y="125.2" width="4.6" height="5.1" fill="#bcff00"/><rect x="719.2" y="125.2" width="4.6" height="5.1" fill="#baff00"/><rect x="723.6" y="125.2" width="4.6" height="5.1" fill="#bbff00"/><rect x="727.9" y="125.2" width="4.6" height="5.1" fill="#bffe00"/><rect x="732.2" y="125.2" width="4.6" height="5.1" fill="#c8fd00"/><rect x="736.5" y="125.2" width="4.6" height="5.1" fill="#c7fe00"/><rect x="740.9" y="125.2" width="4.6" height="5.1" fill="#bbff00"/><rect x="745.2" y="125.2" width="4.6" height="5.1" fill="#bcff00"/><rect x="749.5" y="125.2" width="4.6" height="5.1" fill="#c8fd00"/><rect x="753.9" y="125.2" width="4.6" height="5.1" fill="#ddfb00"/><rect x="758.2" y="125.2" width="4.6" height="5.1" fill="#efee00"/><rect x="762.5" y="125.2" width="4.6" height="5.1" fill="#f0ee00"/><rect x="766.8" y="125.2" width="4.6" height="5.1" fill="#defb00"/><rect x="771.1" y="125.2" width="4.6" height="5.1" fill="#cefd00"/><rect x="775.5" y="125.2" width="4.6" height="5.1" fill="#cbfd00"/><rect x="779.8" y="125.2" width="4.6" height="5.1" fill="#c7fd00"/><rect x="784.1" y="125.2" width="4.6" height="5.1" fill="#c1fe00"/><rect x="788.5" y="125.2" width="4.6" height="5.1" fill="#d1fc00"/><rect x="792.8" y="125.2" width="4.6" height="5.1" fill="#eef000"/><rect x="797.1" y="125.2" width="4.6" height="5.1" fill="#fae000"/><rect x="801.4" y="125.2" width="4.6" height="5.1" fill="#fcd300"/><rect x="805.8" y="125.2" width="4.6" height="5.1" fill="#fcd400"/><rect x="810.1" y="125.2" width="4.6" height="5.1" fill="#f9e200"/><rect x="814.4" y="125.2" width="4.6" height="5.1" fill="#fae000"/><rect x="818.7" y="125.2" width="4.6" height="5.1" fill="#fdcf00"/><rect x="823.0" y="125.2" width="4.6" height="5.1" fill="#fec700"/><rect x="827.4" y="125.2" width="4.6" height="5.1" fill="#fec800"/><rect x="831.7" y="125.2" width="4.6" height="5.1" fill="#fdcd00"/><rect x="836.0" y="125.2" width="4.6" height="5.1" fill="#fcd600"/><rect x="840.4" y="125.2" width="4.6" height="5.1" fill="#f9e200"/><rect x="844.7" y="125.2" width="4.6" height="5.1" fill="#efef00"/><rect x="849.0" y="125.2" width="4.6" height="5.1" fill="#e9f700"/><rect x="853.3" y="125.2" width="4.6" height="5.1" fill="#e6f900"/><rect x="857.6" y="125.2" width="4.6" height="5.1" fill="#e1fb00"/><rect x="862.0" y="125.2" width="4.6" height="5.1" fill="#d9fb00"/><rect x="866.3" y="125.2" width="4.6" height="5.1" fill="#d0fc00"/><rect x="870.6" y="125.2" width="4.7" height="5.1" fill="#c5fe00"/><rect x="680.0" y="130.1" width="4.9" height="5.1" fill="#00da09"/><rect x="684.6" y="130.1" width="4.6" height="5.1" fill="#00dc04"/><rect x="689.0" y="130.1" width="4.6" height="5.1" fill="#11e200"/><rect x="693.3" y="130.1" width="4.6" height="5.1" fill="#38ea00"/><rect x="697.6" y="130.1" width="4.6" height="5.1" fill="#6bf400"/><rect x="701.9" y="130.1" width="4.6" height="5.1" fill="#87f800"/><rect x="706.3" y="130.1" width="4.6" height="5.1" fill="#9cfb00"/><rect x="710.6" y="130.1" width="4.6" height="5.1" fill="#abfd00"/><rect x="714.9" y="130.1" width="4.6" height="5.1" fill="#b4fe00"/><rect x="719.2" y="130.1" width="4.6" height="5.1" fill="#bbff00"/><rect x="723.6" y="130.1" width="4.6" height="5.1" fill="#befe00"/><rect x="727.9" y="130.1" width="4.6" height="5.1" fill="#c6fe00"/><rect x="732.2" y="130.1" width="4.6" height="5.1" fill="#d1fc00"/><rect x="736.5" y="130.1" width="4.6" height="5.1" fill="#d2fc00"/><rect x="740.9" y="130.1" width="4.6" height="5.1" fill="#c7fe00"/><rect x="745.2" y="130.1" width="4.6" height="5.1" fill="#c8fd00"/><rect x="749.5" y="130.1" width="4.6" height="5.1" fill="#d7fc00"/><rect x="753.9" y="130.1" width="4.6" height="5.1" fill="#e7f800"/><rect x="758.2" y="130.1" width="4.6" height="5.1" fill="#f1ec00"/><rect x="762.5" y="130.1" width="4.6" height="5.1" fill="#ebf400"/><rect x="766.8" y="130.1" width="4.6" height="5.1" fill="#bcff00"/><rect x="771.1" y="130.1" width="4.6" height="5.1" fill="#9ffc00"/><rect x="775.5" y="130.1" width="4.6" height="5.1" fill="#b7ff00"/><rect x="779.8" y="130.1" width="4.6" height="5.1" fill="#baff00"/><rect x="784.1" y="130.1" width="4.6" height="5.1" fill="#aafd00"/><rect x="788.5" y="130.1" width="4.6" height="5.1" fill="#bffe00"/><rect x="792.8" y="130.1" width="4.6" height="5.1" fill="#e7f900"/><rect x="797.1" y="130.1" width="4.6" height="5.1" fill="#f4e800"/><rect x="801.4" y="130.1" width="9.0" height="5.1" fill="#fbdb00"/><rect x="810.1" y="130.1" width="4.6" height="5.1" fill="#f6e600"/><rect x="814.4" y="130.1" width="4.6" height="5.1" fill="#f7e500"/><rect x="818.7" y="130.1" width="4.6" height="5.1" fill="#fcd400"/><rect x="823.0" y="130.1" width="4.6" height="5.1" fill="#fdce00"/><rect x="827.4" y="130.1" width="4.6" height="5.1" fill="#fdd100"/><rect x="831.7" y="130.1" width="4.6" height="5.1" fill="#fcd600"/><rect x="836.0" y="130.1" width="4.6" height="5.1" fill="#fbdc00"/><rect x="840.4" y="130.1" width="4.6" height="5.1" fill="#f6e600"/><rect x="844.7" y="130.1" width="4.6" height="5.1" fill="#eaf500"/><rect x="849.0" y="130.1" width="4.6" height="5.1" fill="#defb00"/><rect x="853.3" y="130.1" width="4.6" height="5.1" fill="#d5fc00"/><rect x="857.6" y="130.1" width="4.6" height="5.1" fill="#c9fd00"/><rect x="862.0" y="130.1" width="4.6" height="5.1" fill="#bbff00"/><rect x="866.3" y="130.1" width="4.6" height="5.1" fill="#a0fc00"/><rect x="870.6" y="130.1" width="4.7" height="5.1" fill="#81f800"/><rect x="680.0" y="134.9" width="4.9" height="5.1" fill="#00d80c"/><rect x="684.6" y="134.9" width="4.6" height="5.1" fill="#00da08"/><rect x="689.0" y="134.9" width="4.6" height="5.1" fill="#05df00"/><rect x="693.3" y="134.9" width="4.6" height="5.1" fill="#24e600"/><rect x="697.6" y="134.9" width="4.6" height="5.1" fill="#4cee00"/><rect x="701.9" y="134.9" width="4.6" height="5.1" fill="#6ff500"/><rect x="706.3" y="134.9" width="4.6" height="5.1" fill="#84f800"/><rect x="710.6" y="134.9" width="4.6" height="5.1" fill="#98fb00"/><rect x="714.9" y="134.9" width="4.6" height="5.1" fill="#abfd00"/><rect x="719.2" y="134.9" width="4.6" height="5.1" fill="#b9ff00"/><rect x="723.6" y="134.9" width="4.6" height="5.1" fill="#bdfe00"/><rect x="727.9" y="134.9" width="4.6" height="5.1" fill="#c8fd00"/><rect x="732.2" y="134.9" width="4.6" height="5.1" fill="#d9fb00"/><rect x="736.5" y="134.9" width="4.6" height="5.1" fill="#defb00"/><rect x="740.9" y="134.9" width="4.6" height="5.1" fill="#d6fc00"/><rect x="745.2" y="134.9" width="4.6" height="5.1" fill="#d8fc00"/><rect x="749.5" y="134.9" width="4.6" height="5.1" fill="#e5fa00"/><rect x="753.9" y="134.9" width="4.6" height="5.1" fill="#e9f700"/><rect x="758.2" y="134.9" width="4.6" height="5.1" fill="#e9f600"/><rect x="762.5" y="134.9" width="4.6" height="5.1" fill="#d3fc00"/><rect x="766.8" y="134.9" width="4.6" height="5.1" fill="#8cf900"/><rect x="771.1" y="134.9" width="4.6" height="5.1" fill="#71f500"/><rect x="775.5" y="134.9" width="4.6" height="5.1" fill="#94fa00"/><rect x="779.8" y="134.9" width="4.6" height="5.1" fill="#a1fc00"/><rect x="784.1" y="134.9" width="4.6" height="5.1" fill="#95fa00"/><rect x="788.5" y="134.9" width="4.6" height="5.1" fill="#b1fe00"/><rect x="792.8" y="134.9" width="4.6" height="5.1" fill="#dcfb00"/><rect x="797.1" y="134.9" width="4.6" height="5.1" fill="#eeef00"/><rect x="801.4" y="134.9" width="4.6" height="5.1" fill="#f7e500"/><rect x="805.8" y="134.9" width="4.6" height="5.1" fill="#f8e400"/><rect x="810.1" y="134.9" width="4.6" height="5.1" fill="#f2eb00"/><rect x="814.4" y="134.9" width="4.6" height="5.1" fill="#f4e800"/><rect x="818.7" y="134.9" width="4.6" height="5.1" fill="#fbdb00"/><rect x="823.0" y="134.9" width="4.6" height="5.1" fill="#fcd500"/><rect x="827.4" y="134.9" width="4.6" height="5.1" fill="#fbd900"/><rect x="831.7" y="134.9" width="4.6" height="5.1" fill="#fbdd00"/><rect x="836.0" y="134.9" width="4.6" height="5.1" fill="#f8e300"/><rect x="840.4" y="134.9" width="4.6" height="5.1" fill="#efef00"/><rect x="844.7" y="134.9" width="4.6" height="5.1" fill="#d7fc00"/><rect x="849.0" y="134.9" width="4.6" height="5.1" fill="#c1fe00"/><rect x="853.3" y="134.9" width="4.6" height="5.1" fill="#b6ff00"/><rect x="857.6" y="134.9" width="4.6" height="5.1" fill="#a1fc00"/><rect x="862.0" y="134.9" width="4.6" height="5.1" fill="#88f800"/><rect x="866.3" y="134.9" width="4.6" height="5.1" fill="#6bf400"/><rect x="870.6" y="134.9" width="4.7" height="5.1" fill="#3feb00"/><rect x="680.0" y="139.7" width="4.9" height="5.1" fill="#00d513"/><rect x="684.6" y="139.7" width="4.6" height="5.1" fill="#00d70e"/><rect x="689.0" y="139.7" width="4.6" height="5.1" fill="#00dc03"/><rect x="693.3" y="139.7" width="4.6" height="5.1" fill="#15e200"/><rect x="697.6" y="139.7" width="4.6" height="5.1" fill="#35e900"/><rect x="701.9" y="139.7" width="4.6" height="5.1" fill="#57f000"/><rect x="706.3" y="139.7" width="4.6" height="5.1" fill="#76f600"/><rect x="710.6" y="139.7" width="4.6" height="5.1" fill="#8df900"/><rect x="714.9" y="139.7" width="4.6" height="5.1" fill="#a3fc00"/><rect x="719.2" y="139.7" width="4.6" height="5.1" fill="#b2fe00"/><rect x="723.6" y="139.7" width="4.6" height="5.1" fill="#b9ff00"/><rect x="727.9" y="139.7" width="4.6" height="5.1" fill="#c7fd00"/><rect x="732.2" y="139.7" width="4.6" height="5.1" fill="#dffb00"/><rect x="736.5" y="139.7" width="4.6" height="5.1" fill="#e8f800"/><rect x="740.9" y="139.7" width="4.6" height="5.1" fill="#e7f800"/><rect x="745.2" y="139.7" width="4.6" height="5.1" fill="#e9f700"/><rect x="749.5" y="139.7" width="4.6" height="5.1" fill="#ecf300"/><rect x="753.9" y="139.7" width="4.6" height="5.1" fill="#e6fa00"/><rect x="758.2" y="139.7" width="4.6" height="5.1" fill="#c6fe00"/><rect x="762.5" y="139.7" width="4.6" height="5.1" fill="#97fa00"/><rect x="766.8" y="139.7" width="4.6" height="5.1" fill="#56f000"/><rect x="771.1" y="139.7" width="4.6" height="5.1" fill="#43ec00"/><rect x="775.5" y="139.7" width="4.6" height="5.1" fill="#71f500"/><rect x="779.8" y="139.7" width="4.6" height="5.1" fill="#83f800"/><rect x="784.1" y="139.7" width="4.6" height="5.1" fill="#86f800"/><rect x="788.5" y="139.7" width="4.6" height="5.1" fill="#a9fd00"/><rect x="792.8" y="139.7" width="4.6" height="5.1" fill="#d6fc00"/><rect x="797.1" y="139.7" width="4.6" height="5.1" fill="#e9f600"/><rect x="801.4" y="139.7" width="4.6" height="5.1" fill="#eef100"/><rect x="805.8" y="139.7" width="4.6" height="5.1" fill="#efef00"/><rect x="810.1" y="139.7" width="4.6" height="5.1" fill="#eef000"/><rect x="814.4" y="139.7" width="4.6" height="5.1" fill="#f1ec00"/><rect x="818.7" y="139.7" width="4.6" height="5.1" fill="#f9e200"/><rect x="823.0" y="139.7" width="4.6" height="5.1" fill="#fbdd00"/><rect x="827.4" y="139.7" width="4.6" height="5.1" fill="#fade00"/><rect x="831.7" y="139.7" width="4.6" height="5.1" fill="#f8e300"/><rect x="836.0" y="139.7" width="4.6" height="5.1" fill="#f2ea00"/><rect x="840.4" y="139.7" width="4.6" height="5.1" fill="#e2fa00"/><rect x="844.7" y="139.7" width="4.6" height="5.1" fill="#a9fd00"/><rect x="849.0" y="139.7" width="4.6" height="5.1" fill="#7af700"/><rect x="853.3" y="139.7" width="4.6" height="5.1" fill="#6ff500"/><rect x="857.6" y="139.7" width="4.6" height="5.1" fill="#5df100"/><rect x="862.0" y="139.7" width="4.6" height="5.1" fill="#45ed00"/><rect x="866.3" y="139.7" width="4.6" height="5.1" fill="#2fe800"/><rect x="870.6" y="139.7" width="4.7" height="5.1" fill="#19e300"/><rect x="680.0" y="144.6" width="4.9" height="5.1" fill="#00d316"/><rect x="684.6" y="144.6" width="4.6" height="5.1" fill="#00d512"/><rect x="689.0" y="144.6" width="4.6" height="5.1" fill="#00d90a"/><rect x="693.3" y="144.6" width="4.6" height="5.1" fill="#00de01"/><rect x="697.6" y="144.6" width="4.6" height="5.1" fill="#15e200"/><rect x="701.9" y="144.6" width="4.6" height="5.1" fill="#31e800"/><rect x="706.3" y="144.6" width="4.6" height="5.1" fill="#52ef00"/><rect x="710.6" y="144.6" width="4.6" height="5.1" fill="#75f600"/><rect x="714.9" y="144.6" width="4.6" height="5.1" fill="#92fa00"/><rect x="719.2" y="144.6" width="4.6" height="5.1" fill="#a3fc00"/><rect x="723.6" y="144.6" width="4.6" height="5.1" fill="#a8fd00"/><rect x="727.9" y="144.6" width="4.6" height="5.1" fill="#bffe00"/><rect x="732.2" y="144.6" width="4.6" height="5.1" fill="#dcfb00"/><rect x="736.5" y="144.6" width="4.6" height="5.1" fill="#e9f700"/><rect x="740.9" y="144.6" width="4.6" height="5.1" fill="#eaf500"/><rect x="745.2" y="144.6" width="9.0" height="5.1" fill="#ebf400"/><rect x="753.9" y="144.6" width="4.6" height="5.1" fill="#dffb00"/><rect x="758.2" y="144.6" width="4.6" height="5.1" fill="#baff00"/><rect x="762.5" y="144.6" width="4.6" height="5.1" fill="#8af900"/><rect x="766.8" y="144.6" width="4.6" height="5.1" fill="#66f300"/><rect x="771.1" y="144.6" width="4.6" height="5.1" fill="#5bf100"/><rect x="775.5" y="144.6" width="4.6" height="5.1" fill="#74f600"/><rect x="779.8" y="144.6" width="4.6" height="5.1" fill="#83f800"/><rect x="784.1" y="144.6" width="4.6" height="5.1" fill="#8ff900"/><rect x="788.5" y="144.6" width="4.6" height="5.1" fill="#abfd00"/><rect x="792.8" y="144.6" width="4.6" height="5.1" fill="#cafd00"/><rect x="797.1" y="144.6" width="4.6" height="5.1" fill="#dcfb00"/><rect x="801.4" y="144.6" width="4.6" height="5.1" fill="#e5fa00"/><rect x="805.8" y="144.6" width="4.6" height="5.1" fill="#e8f700"/><rect x="810.1" y="144.6" width="4.6" height="5.1" fill="#eaf500"/><rect x="814.4" y="144.6" width="4.6" height="5.1" fill="#edf100"/><rect x="818.7" y="144.6" width="4.6" height="5.1" fill="#f2eb00"/><rect x="823.0" y="144.6" width="4.6" height="5.1" fill="#f5e700"/><rect x="827.4" y="144.6" width="4.6" height="5.1" fill="#f7e500"/><rect x="831.7" y="144.6" width="4.6" height="5.1" fill="#f3ea00"/><rect x="836.0" y="144.6" width="4.6" height="5.1" fill="#e9f600"/><rect x="840.4" y="144.6" width="4.6" height="5.1" fill="#c9fd00"/><rect x="844.7" y="144.6" width="4.6" height="5.1" fill="#7ef700"/><rect x="849.0" y="144.6" width="4.6" height="5.1" fill="#43ec00"/><rect x="853.3" y="144.6" width="4.6" height="5.1" fill="#3bea00"/><rect x="857.6" y="144.6" width="4.6" height="5.1" fill="#33e900"/><rect x="862.0" y="144.6" width="4.6" height="5.1" fill="#2be700"/><rect x="866.3" y="144.6" width="4.6" height="5.1" fill="#1fe400"/><rect x="870.6" y="144.6" width="4.7" height="5.1" fill="#10e100"/><rect x="680.0" y="149.4" width="4.9" height="5.1" fill="#00d316"/><rect x="684.6" y="149.4" width="4.6" height="5.1" fill="#00d415"/><rect x="689.0" y="149.4" width="4.6" height="5.1" fill="#00d512"/><rect x="693.3" y="149.4" width="4.6" height="5.1" fill="#00d70e"/><rect x="697.6" y="149.4" width="4.6" height="5.1" fill="#00da08"/><rect x="701.9" y="149.4" width="4.6" height="5.1" fill="#00de00"/><rect x="706.3" y="149.4" width="4.6" height="5.1" fill="#16e300"/><rect x="710.6" y="149.4" width="4.6" height="5.1" fill="#40eb00"/><rect x="714.9" y="149.4" width="4.6" height="5.1" fill="#79f600"/><rect x="719.2" y="149.4" width="4.6" height="5.1" fill="#8df900"/><rect x="723.6" y="149.4" width="4.6" height="5.1" fill="#8cf900"/><rect x="727.9" y="149.4" width="4.6" height="5.1" fill="#a8fd00"/><rect x="732.2" y="149.4" width="4.6" height="5.1" fill="#d1fc00"/><rect x="736.5" y="149.4" width="4.6" height="5.1" fill="#e3fa00"/><rect x="740.9" y="149.4" width="4.6" height="5.1" fill="#e7f900"/><rect x="745.2" y="149.4" width="4.6" height="5.1" fill="#e6fa00"/><rect x="749.5" y="149.4" width="4.6" height="5.1" fill="#defb00"/><rect x="753.9" y="149.4" width="4.6" height="5.1" fill="#d5fc00"/><rect x="758.2" y="149.4" width="4.6" height="5.1" fill="#c8fd00"/><rect x="762.5" y="149.4" width="4.6" height="5.1" fill="#bcff00"/><rect x="766.8" y="149.4" width="4.6" height="5.1" fill="#acfd00"/><rect x="771.1" y="149.4" width="4.6" height="5.1" fill="#a1fc00"/><rect x="775.5" y="149.4" width="4.6" height="5.1" fill="#9dfb00"/><rect x="779.8" y="149.4" width="4.6" height="5.1" fill="#a2fc00"/><rect x="784.1" y="149.4" width="4.6" height="5.1" fill="#b0fe00"/><rect x="788.5" y="149.4" width="4.6" height="5.1" fill="#b8ff00"/><rect x="792.8" y="149.4" width="4.6" height="5.1" fill="#baff00"/><rect x="797.1" y="149.4" width="4.6" height="5.1" fill="#c3fe00"/><rect x="801.4" y="149.4" width="4.6" height="5.1" fill="#d5fc00"/><rect x="805.8" y="149.4" width="4.6" height="5.1" fill="#e1fb00"/><rect x="810.1" y="149.4" width="4.6" height="5.1" fill="#e6fa00"/><rect x="814.4" y="149.4" width="8.9" height="5.1" fill="#e8f800"/><rect x="823.0" y="149.4" width="4.6" height="5.1" fill="#ebf400"/><rect x="827.4" y="149.4" width="4.6" height="5.1" fill="#f0ee00"/><rect x="831.7" y="149.4" width="4.6" height="5.1" fill="#ebf300"/><rect x="836.0" y="149.4" width="4.6" height="5.1" fill="#d1fc00"/><rect x="840.4" y="149.4" width="4.6" height="5.1" fill="#a8fd00"/><rect x="844.7" y="149.4" width="4.6" height="5.1" fill="#69f400"/><rect x="849.0" y="149.4" width="4.6" height="5.1" fill="#3bea00"/><rect x="853.3" y="149.4" width="4.6" height="5.1" fill="#38ea00"/><rect x="857.6" y="149.4" width="4.6" height="5.1" fill="#3bea00"/><rect x="862.0" y="149.4" width="4.6" height="5.1" fill="#43ec00"/><rect x="866.3" y="149.4" width="4.6" height="5.1" fill="#3ceb00"/><rect x="870.6" y="149.4" width="4.7" height="5.1" fill="#24e600"/><rect x="680.0" y="154.3" width="13.6" height="5.1" fill="#00d316"/><rect x="693.3" y="154.3" width="4.6" height="5.1" fill="#00d415"/><rect x="697.6" y="154.3" width="4.6" height="5.1" fill="#00d511"/><rect x="701.9" y="154.3" width="4.6" height="5.1" fill="#00d80d"/><rect x="706.3" y="154.3" width="4.6" height="5.1" fill="#00db06"/><rect x="710.6" y="154.3" width="4.6" height="5.1" fill="#13e200"/><rect x="714.9" y="154.3" width="4.6" height="5.1" fill="#4aee00"/><rect x="719.2" y="154.3" width="4.6" height="5.1" fill="#5ef200"/><rect x="723.6" y="154.3" width="4.6" height="5.1" fill="#4fef00"/><rect x="727.9" y="154.3" width="4.6" height="5.1" fill="#71f500"/><rect x="732.2" y="154.3" width="4.6" height="5.1" fill="#acfd00"/><rect x="736.5" y="154.3" width="4.6" height="5.1" fill="#c5fe00"/><rect x="740.9" y="154.3" width="4.6" height="5.1" fill="#c8fd00"/><rect x="745.2" y="154.3" width="4.6" height="5.1" fill="#cbfd00"/><rect x="749.5" y="154.3" width="4.6" height="5.1" fill="#cefd00"/><rect x="753.9" y="154.3" width="4.6" height="5.1" fill="#d0fc00"/><rect x="758.2" y="154.3" width="4.6" height="5.1" fill="#d2fc00"/><rect x="762.5" y="154.3" width="4.6" height="5.1" fill="#cefd00"/><rect x="766.8" y="154.3" width="4.6" height="5.1" fill="#c5fe00"/><rect x="771.1" y="154.3" width="4.6" height="5.1" fill="#bcff00"/><rect x="775.5" y="154.3" width="8.9" height="5.1" fill="#b3fe00"/><rect x="784.1" y="154.3" width="8.9" height="5.1" fill="#bcff00"/><rect x="792.8" y="154.3" width="4.6" height="5.1" fill="#b2fe00"/><rect x="797.1" y="154.3" width="4.6" height="5.1" fill="#b6ff00"/><rect x="801.4" y="154.3" width="4.6" height="5.1" fill="#c3fe00"/><rect x="805.8" y="154.3" width="4.6" height="5.1" fill="#c8fd00"/><rect x="810.1" y="154.3" width="4.6" height="5.1" fill="#c5fe00"/><rect x="814.4" y="154.3" width="4.6" height="5.1" fill="#c3fe00"/><rect x="818.7" y="154.3" width="4.6" height="5.1" fill="#c1fe00"/><rect x="823.0" y="154.3" width="4.6" height="5.1" fill="#c7fd00"/><rect x="827.4" y="154.3" width="4.6" height="5.1" fill="#d7fc00"/><rect x="831.7" y="154.3" width="4.6" height="5.1" fill="#cefd00"/><rect x="836.0" y="154.3" width="4.6" height="5.1" fill="#a7fd00"/><rect x="840.4" y="154.3" width="4.6" height="5.1" fill="#79f600"/><rect x="844.7" y="154.3" width="4.6" height="5.1" fill="#45ed00"/><rect x="849.0" y="154.3" width="8.9" height="5.1" fill="#29e700"/><rect x="857.6" y="154.3" width="4.6" height="5.1" fill="#2fe800"/><rect x="862.0" y="154.3" width="4.6" height="5.1" fill="#3ceb00"/><rect x="866.3" y="154.3" width="4.6" height="5.1" fill="#38ea00"/><rect x="870.6" y="154.3" width="4.7" height="5.1" fill="#23e500"/><rect x="680.0" y="159.1" width="17.9" height="5.1" fill="#00d316"/><rect x="697.6" y="159.1" width="4.6" height="5.1" fill="#00d415"/><rect x="701.9" y="159.1" width="4.6" height="5.1" fill="#00d512"/><rect x="706.3" y="159.1" width="4.6" height="5.1" fill="#00d80d"/><rect x="710.6" y="159.1" width="4.6" height="5.1" fill="#00db06"/><rect x="714.9" y="159.1" width="4.6" height="5.1" fill="#08e000"/><rect x="719.2" y="159.1" width="4.6" height="5.1" fill="#02de00"/><rect x="723.6" y="159.1" width="4.6" height="5.1" fill="#00d80d"/><rect x="727.9" y="159.1" width="4.6" height="5.1" fill="#00dc03"/><rect x="732.2" y="159.1" width="4.6" height="5.1" fill="#4cee00"/><rect x="736.5" y="159.1" width="4.6" height="5.1" fill="#75f600"/><rect x="740.9" y="159.1" width="4.6" height="5.1" fill="#76f600"/><rect x="745.2" y="159.1" width="4.6" height="5.1" fill="#91fa00"/><rect x="749.5" y="159.1" width="4.6" height="5.1" fill="#c0fe00"/><rect x="753.9" y="159.1" width="4.6" height="5.1" fill="#d2fc00"/><rect x="758.2" y="159.1" width="4.6" height="5.1" fill="#d7fc00"/><rect x="762.5" y="159.1" width="4.6" height="5.1" fill="#d2fc00"/><rect x="766.8" y="159.1" width="4.6" height="5.1" fill="#c3fe00"/><rect x="771.1" y="159.1" width="4.6" height="5.1" fill="#baff00"/><rect x="775.5" y="159.1" width="8.9" height="5.1" fill="#b7ff00"/><rect x="784.1" y="159.1" width="4.6" height="5.1" fill="#baff00"/><rect x="788.5" y="159.1" width="8.9" height="5.1" fill="#bcff00"/><rect x="797.1" y="159.1" width="4.6" height="5.1" fill="#b7ff00"/><rect x="801.4" y="159.1" width="4.6" height="5.1" fill="#a7fd00"/><rect x="805.8" y="159.1" width="4.6" height="5.1" fill="#8ef900"/><rect x="810.1" y="159.1" width="4.6" height="5.1" fill="#6bf400"/><rect x="814.4" y="159.1" width="4.6" height="5.1" fill="#55f000"/><rect x="818.7" y="159.1" width="4.6" height="5.1" fill="#5bf100"/><rect x="823.0" y="159.1" width="4.6" height="5.1" fill="#6ef500"/><rect x="827.4" y="159.1" width="4.6" height="5.1" fill="#86f800"/><rect x="831.7" y="159.1" width="4.6" height="5.1" fill="#81f800"/><rect x="836.0" y="159.1" width="4.6" height="5.1" fill="#5af100"/><rect x="840.4" y="159.1" width="4.6" height="5.1" fill="#35e900"/><rect x="844.7" y="159.1" width="4.6" height="5.1" fill="#1be400"/><rect x="849.0" y="159.1" width="8.9" height="5.1" fill="#0ee100"/><rect x="857.6" y="159.1" width="4.6" height="5.1" fill="#10e100"/><rect x="862.0" y="159.1" width="4.6" height="5.1" fill="#14e200"/><rect x="866.3" y="159.1" width="4.6" height="5.1" fill="#13e200"/><rect x="870.6" y="159.1" width="4.7" height="5.1" fill="#0ce000"/><rect x="680.0" y="163.9" width="9.3" height="5.1" fill="#00cf1f"/><rect x="689.0" y="163.9" width="4.6" height="5.1" fill="#00d01d"/><rect x="693.3" y="163.9" width="4.6" height="5.1" fill="#00d11c"/><rect x="697.6" y="163.9" width="8.9" height="5.1" fill="#00d11a"/><rect x="706.3" y="163.9" width="8.9" height="5.1" fill="#00d11b"/><rect x="714.9" y="163.9" width="4.6" height="5.1" fill="#00d11a"/><rect x="719.2" y="163.9" width="4.6" height="5.1" fill="#00ce20"/><rect x="723.6" y="163.9" width="4.6" height="5.1" fill="#00c82c"/><rect x="727.9" y="163.9" width="4.6" height="5.1" fill="#00cd23"/><rect x="732.2" y="163.9" width="4.6" height="5.1" fill="#00dc04"/><rect x="736.5" y="163.9" width="4.6" height="5.1" fill="#1ee400"/><rect x="740.9" y="163.9" width="4.6" height="5.1" fill="#22e500"/><rect x="745.2" y="163.9" width="4.6" height="5.1" fill="#50ef00"/><rect x="749.5" y="163.9" width="4.6" height="5.1" fill="#97fa00"/><rect x="753.9" y="163.9" width="4.6" height="5.1" fill="#bbff00"/><rect x="758.2" y="163.9" width="4.6" height="5.1" fill="#c3fe00"/><rect x="762.5" y="163.9" width="4.6" height="5.1" fill="#c0fe00"/><rect x="766.8" y="163.9" width="4.6" height="5.1" fill="#aefe00"/><rect x="771.1" y="163.9" width="4.6" height="5.1" fill="#9ffc00"/><rect x="775.5" y="163.9" width="4.6" height="5.1" fill="#97fa00"/><rect x="779.8" y="163.9" width="9.0" height="5.1" fill="#94fa00"/><rect x="788.5" y="163.9" width="4.6" height="5.1" fill="#96fa00"/><rect x="792.8" y="163.9" width="4.6" height="5.1" fill="#9cfb00"/><rect x="797.1" y="163.9" width="4.6" height="5.1" fill="#91fa00"/><rect x="801.4" y="163.9" width="4.6" height="5.1" fill="#75f600"/><rect x="805.8" y="163.9" width="4.6" height="5.1" fill="#47ed00"/><rect x="810.1" y="163.9" width="4.6" height="5.1" fill="#0ee100"/><rect x="814.4" y="163.9" width="4.6" height="5.1" fill="#00dc03"/><rect x="818.7" y="163.9" width="4.6" height="5.1" fill="#03df00"/><rect x="823.0" y="163.9" width="4.6" height="5.1" fill="#15e200"/><rect x="827.4" y="163.9" width="4.6" height="5.1" fill="#2fe800"/><rect x="831.7" y="163.9" width="4.6" height="5.1" fill="#30e800"/><rect x="836.0" y="163.9" width="4.6" height="5.1" fill="#17e300"/><rect x="840.4" y="163.9" width="4.6" height="5.1" fill="#05df00"/><rect x="844.7" y="163.9" width="4.6" height="5.1" fill="#00dc03"/><rect x="849.0" y="163.9" width="4.6" height="5.1" fill="#00dc04"/><rect x="853.3" y="163.9" width="4.6" height="5.1" fill="#00dd01"/><rect x="857.6" y="163.9" width="17.7" height="5.1" fill="#00de00"/><rect x="680.0" y="168.8" width="4.9" height="5.1" fill="#00c732"/><rect x="684.6" y="168.8" width="4.6" height="5.1" fill="#00c82f"/><rect x="689.0" y="168.8" width="4.6" height="5.1" fill="#00ca2a"/><rect x="693.3" y="168.8" width="4.6" height="5.1" fill="#00cc26"/><rect x="697.6" y="168.8" width="4.6" height="5.1" fill="#00cd22"/><rect x="701.9" y="168.8" width="4.6" height="5.1" fill="#00cb26"/><rect x="706.3" y="168.8" width="4.6" height="5.1" fill="#00c731"/><rect x="710.6" y="168.8" width="4.6" height="5.1" fill="#00c639"/><rect x="714.9" y="168.8" width="4.6" height="5.1" fill="#00c63c"/><rect x="719.2" y="168.8" width="4.6" height="5.1" fill="#00c53e"/><rect x="723.6" y="168.8" width="4.6" height="5.1" fill="#00c53f"/><rect x="727.9" y="168.8" width="4.6" height="5.1" fill="#00c732"/><rect x="732.2" y="168.8" width="4.6" height="5.1" fill="#00d218"/><rect x="736.5" y="168.8" width="4.6" height="5.1" fill="#00da09"/><rect x="740.9" y="168.8" width="4.6" height="5.1" fill="#00dc04"/><rect x="745.2" y="168.8" width="4.6" height="5.1" fill="#15e200"/><rect x="749.5" y="168.8" width="4.6" height="5.1" fill="#45ed00"/><rect x="753.9" y="168.8" width="4.6" height="5.1" fill="#6af400"/><rect x="758.2" y="168.8" width="4.6" height="5.1" fill="#7cf700"/><rect x="762.5" y="168.8" width="4.6" height="5.1" fill="#81f800"/><rect x="766.8" y="168.8" width="4.6" height="5.1" fill="#79f700"/><rect x="771.1" y="168.8" width="4.6" height="5.1" fill="#69f400"/><rect x="775.5" y="168.8" width="4.6" height="5.1" fill="#48ed00"/><rect x="779.8" y="168.8" width="9.0" height="5.1" fill="#37ea00"/><rect x="788.5" y="168.8" width="4.6" height="5.1" fill="#38ea00"/><rect x="792.8" y="168.8" width="4.6" height="5.1" fill="#3bea00"/><rect x="797.1" y="168.8" width="4.6" height="5.1" fill="#30e800"/><rect x="801.4" y="168.8" width="4.6" height="5.1" fill="#17e300"/><rect x="805.8" y="168.8" width="4.6" height="5.1" fill="#00de01"/><rect x="810.1" y="168.8" width="4.6" height="5.1" fill="#00d80c"/><rect x="814.4" y="168.8" width="4.6" height="5.1" fill="#00d70f"/><rect x="818.7" y="168.8" width="4.6" height="5.1" fill="#00d90a"/><rect x="823.0" y="168.8" width="4.6" height="5.1" fill="#00db05"/><rect x="827.4" y="168.8" width="4.6" height="5.1" fill="#00de00"/><rect x="831.7" y="168.8" width="4.6" height="5.1" fill="#01de00"/><rect x="836.0" y="168.8" width="4.6" height="5.1" fill="#00dd03"/><rect x="840.4" y="168.8" width="4.6" height="5.1" fill="#00da08"/><rect x="844.7" y="168.8" width="4.6" height="5.1" fill="#00d70e"/><rect x="849.0" y="168.8" width="4.6" height="5.1" fill="#00d80d"/><rect x="853.3" y="168.8" width="4.6" height="5.1" fill="#00dc04"/><rect x="857.6" y="168.8" width="17.7" height="5.1" fill="#00de00"/><rect x="680.0" y="173.6" width="4.9" height="5.1" fill="#00c254"/><rect x="684.6" y="173.6" width="4.6" height="5.1" fill="#00c24f"/><rect x="689.0" y="173.6" width="4.6" height="5.1" fill="#00c447"/><rect x="693.3" y="173.6" width="4.6" height="5.1" fill="#00c53e"/><rect x="697.6" y="173.6" width="4.6" height="5.1" fill="#00c736"/><rect x="701.9" y="173.6" width="4.6" height="5.1" fill="#00c63a"/><rect x="706.3" y="173.6" width="4.6" height="5.1" fill="#00c34a"/><rect x="710.6" y="173.6" width="4.6" height="5.1" fill="#00c255"/><rect x="714.9" y="173.6" width="4.6" height="5.1" fill="#00c15a"/><rect x="719.2" y="173.6" width="4.6" height="5.1" fill="#00c159"/><rect x="723.6" y="173.6" width="4.6" height="5.1" fill="#00c252"/><rect x="727.9" y="173.6" width="4.6" height="5.1" fill="#00c543"/><rect x="732.2" y="173.6" width="4.6" height="5.1" fill="#00c92a"/><rect x="736.5" y="173.6" width="4.6" height="5.1" fill="#00d11b"/><rect x="740.9" y="173.6" width="4.6" height="5.1" fill="#00d513"/><rect x="745.2" y="173.6" width="4.6" height="5.1" fill="#00d90a"/><rect x="749.5" y="173.6" width="4.6" height="5.1" fill="#00dd02"/><rect x="753.9" y="173.6" width="4.6" height="5.1" fill="#0ce100"/><rect x="758.2" y="173.6" width="4.6" height="5.1" fill="#1ae300"/><rect x="762.5" y="173.6" width="4.6" height="5.1" fill="#24e600"/><rect x="766.8" y="173.6" width="4.6" height="5.1" fill="#2be700"/><rect x="771.1" y="173.6" width="4.6" height="5.1" fill="#1ee400"/><rect x="775.5" y="173.6" width="4.6" height="5.1" fill="#00dd01"/><rect x="779.8" y="173.6" width="9.0" height="5.1" fill="#00da08"/><rect x="788.5" y="173.6" width="4.6" height="5.1" fill="#00da07"/><rect x="792.8" y="173.6" width="4.6" height="5.1" fill="#00db06"/><rect x="797.1" y="173.6" width="4.6" height="5.1" fill="#00da08"/><rect x="801.4" y="173.6" width="4.6" height="5.1" fill="#00d80d"/><rect x="805.8" y="173.6" width="4.6" height="5.1" fill="#00d512"/><rect x="810.1" y="173.6" width="4.6" height="5.1" fill="#00d316"/><rect x="814.4" y="173.6" width="4.6" height="5.1" fill="#00d317"/><rect x="818.7" y="173.6" width="4.6" height="5.1" fill="#00d414"/><rect x="823.0" y="173.6" width="4.6" height="5.1" fill="#00d611"/><rect x="827.4" y="173.6" width="4.6" height="5.1" fill="#00d60f"/><rect x="831.7" y="173.6" width="4.6" height="5.1" fill="#00d70e"/><rect x="836.0" y="173.6" width="4.6" height="5.1" fill="#00d80c"/><rect x="840.4" y="173.6" width="4.6" height="5.1" fill="#00d70e"/><rect x="844.7" y="173.6" width="4.6" height="5.1" fill="#00d414"/><rect x="849.0" y="173.6" width="4.6" height="5.1" fill="#00d512"/><rect x="853.3" y="173.6" width="4.6" height="5.1" fill="#00da08"/><rect x="857.6" y="173.6" width="4.6" height="5.1" fill="#00dc03"/><rect x="862.0" y="173.6" width="4.6" height="5.1" fill="#00dd03"/><rect x="866.3" y="173.6" width="9.0" height="5.1" fill="#00dd02"/><rect x="680.0" y="178.5" width="4.9" height="5.1" fill="#00c683"/><rect x="684.6" y="178.5" width="4.6" height="5.1" fill="#00c57e"/><rect x="689.0" y="178.5" width="4.6" height="5.1" fill="#00c372"/><rect x="693.3" y="178.5" width="4.6" height="5.1" fill="#00c166"/><rect x="697.6" y="178.5" width="8.9" height="5.1" fill="#00c157"/><rect x="706.3" y="178.5" width="4.6" height="5.1" fill="#00c165"/><rect x="710.6" y="178.5" width="4.6" height="5.1" fill="#00c26e"/><rect x="714.9" y="178.5" width="4.6" height="5.1" fill="#00c373"/><rect x="719.2" y="178.5" width="4.6" height="5.1" fill="#00c370"/><rect x="723.6" y="178.5" width="4.6" height="5.1" fill="#00c166"/><rect x="727.9" y="178.5" width="4.6" height="5.1" fill="#00c255"/><rect x="732.2" y="178.5" width="4.6" height="5.1" fill="#00c53e"/><rect x="736.5" y="178.5" width="4.6" height="5.1" fill="#00c92c"/><rect x="740.9" y="178.5" width="4.6" height="5.1" fill="#00ce20"/><rect x="745.2" y="178.5" width="4.6" height="5.1" fill="#00d218"/><rect x="749.5" y="178.5" width="4.6" height="5.1" fill="#00d316"/><rect x="753.9" y="178.5" width="4.6" height="5.1" fill="#00d317"/><rect x="758.2" y="178.5" width="4.6" height="5.1" fill="#00d01d"/><rect x="762.5" y="178.5" width="4.6" height="5.1" fill="#00d11b"/><rect x="766.8" y="178.5" width="4.6" height="5.1" fill="#00d513"/><rect x="771.1" y="178.5" width="4.6" height="5.1" fill="#00d611"/><rect x="775.5" y="178.5" width="4.6" height="5.1" fill="#00d415"/><rect x="779.8" y="178.5" width="9.0" height="5.1" fill="#00d218"/><rect x="788.5" y="178.5" width="4.6" height="5.1" fill="#00d316"/><rect x="792.8" y="178.5" width="4.6" height="5.1" fill="#00d513"/><rect x="797.1" y="178.5" width="4.6" height="5.1" fill="#00d512"/><rect x="801.4" y="178.5" width="4.6" height="5.1" fill="#00d513"/><rect x="805.8" y="178.5" width="4.6" height="5.1" fill="#00d316"/><rect x="810.1" y="178.5" width="4.6" height="5.1" fill="#00d11b"/><rect x="814.4" y="178.5" width="4.6" height="5.1" fill="#00d01d"/><rect x="818.7" y="178.5" width="4.6" height="5.1" fill="#00d11c"/><rect x="823.0" y="178.5" width="4.6" height="5.1" fill="#00d11b"/><rect x="827.4" y="178.5" width="4.6" height="5.1" fill="#00d11a"/><rect x="831.7" y="178.5" width="4.6" height="5.1" fill="#00d317"/><rect x="836.0" y="178.5" width="4.6" height="5.1" fill="#00d512"/><rect x="840.4" y="178.5" width="4.6" height="5.1" fill="#00d511"/><rect x="844.7" y="178.5" width="4.6" height="5.1" fill="#00d415"/><rect x="849.0" y="178.5" width="4.6" height="5.1" fill="#00d513"/><rect x="853.3" y="178.5" width="4.6" height="5.1" fill="#00d80d"/><rect x="857.6" y="178.5" width="4.6" height="5.1" fill="#00d909"/><rect x="862.0" y="178.5" width="4.6" height="5.1" fill="#00da08"/><rect x="866.3" y="178.5" width="9.0" height="5.1" fill="#00db07"/><rect x="680.0" y="183.3" width="4.9" height="5.1" fill="#00cca4"/><rect x="684.6" y="183.3" width="4.6" height="5.1" fill="#00cba1"/><rect x="689.0" y="183.3" width="4.6" height="5.1" fill="#00ca9a"/><rect x="693.3" y="183.3" width="4.6" height="5.1" fill="#00c88e"/><rect x="697.6" y="183.3" width="4.6" height="5.1" fill="#00c57e"/><rect x="701.9" y="183.3" width="4.6" height="5.1" fill="#00c478"/><rect x="706.3" y="183.3" width="4.6" height="5.1" fill="#00c57c"/><rect x="710.6" y="183.3" width="4.6" height="5.1" fill="#00c57f"/><rect x="714.9" y="183.3" width="4.6" height="5.1" fill="#00c581"/><rect x="719.2" y="183.3" width="4.6" height="5.1" fill="#00c57c"/><rect x="723.6" y="183.3" width="4.6" height="5.1" fill="#00c370"/><rect x="727.9" y="183.3" width="4.6" height="5.1" fill="#00c062"/><rect x="732.2" y="183.3" width="4.6" height="5.1" fill="#00c250"/><rect x="736.5" y="183.3" width="4.6" height="5.1" fill="#00c53f"/><rect x="740.9" y="183.3" width="4.6" height="5.1" fill="#00c82e"/><rect x="745.2" y="183.3" width="4.6" height="5.1" fill="#00cb27"/><rect x="749.5" y="183.3" width="4.6" height="5.1" fill="#00ca2a"/><rect x="753.9" y="183.3" width="4.6" height="5.1" fill="#00c830"/><rect x="758.2" y="183.3" width="8.9" height="5.1" fill="#00c63b"/><rect x="766.8" y="183.3" width="4.6" height="5.1" fill="#00c830"/><rect x="771.1" y="183.3" width="4.6" height="5.1" fill="#00c92c"/><rect x="775.5" y="183.3" width="4.6" height="5.1" fill="#00c82d"/><rect x="779.8" y="183.3" width="9.0" height="5.1" fill="#00c82e"/><rect x="788.5" y="183.3" width="4.6" height="5.1" fill="#00c82d"/><rect x="792.8" y="183.3" width="4.6" height="5.1" fill="#00c92b"/><rect x="797.1" y="183.3" width="4.6" height="5.1" fill="#00cb27"/><rect x="801.4" y="183.3" width="4.6" height="5.1" fill="#00ce21"/><rect x="805.8" y="183.3" width="4.6" height="5.1" fill="#00cf1f"/><rect x="810.1" y="183.3" width="4.6" height="5.1" fill="#00ce20"/><rect x="814.4" y="183.3" width="13.3" height="5.1" fill="#00ce21"/><rect x="827.4" y="183.3" width="4.6" height="5.1" fill="#00cd22"/><rect x="831.7" y="183.3" width="4.6" height="5.1" fill="#00ce20"/><rect x="836.0" y="183.3" width="4.6" height="5.1" fill="#00d11b"/><rect x="840.4" y="183.3" width="8.9" height="5.1" fill="#00d219"/><rect x="849.0" y="183.3" width="4.6" height="5.1" fill="#00d317"/><rect x="853.3" y="183.3" width="4.6" height="5.1" fill="#00d414"/><rect x="857.6" y="183.3" width="4.6" height="5.1" fill="#00d511"/><rect x="862.0" y="183.3" width="13.3" height="5.1" fill="#00d610"/><rect x="680.0" y="188.1" width="4.9" height="5.1" fill="#00ceb5"/><rect x="684.6" y="188.1" width="4.6" height="5.1" fill="#00cfb8"/><rect x="689.0" y="188.1" width="4.6" height="5.1" fill="#00d0bf"/><rect x="693.3" y="188.1" width="4.6" height="5.1" fill="#00d0bb"/><rect x="697.6" y="188.1" width="4.6" height="5.1" fill="#00cdac"/><rect x="701.9" y="188.1" width="4.6" height="5.1" fill="#00ca9e"/><rect x="706.3" y="188.1" width="4.6" height="5.1" fill="#00c891"/><rect x="710.6" y="188.1" width="4.6" height="5.1" fill="#00c789"/><rect x="714.9" y="188.1" width="4.6" height="5.1" fill="#00c684"/><rect x="719.2" y="188.1" width="4.6" height="5.1" fill="#00c57d"/><rect x="723.6" y="188.1" width="4.6" height="5.1" fill="#00c372"/><rect x="727.9" y="188.1" width="4.6" height="5.1" fill="#00c269"/><rect x="732.2" y="188.1" width="4.6" height="5.1" fill="#00c062"/><rect x="736.5" y="188.1" width="4.6" height="5.1" fill="#00c253"/><rect x="740.9" y="188.1" width="4.6" height="5.1" fill="#00c53f"/><rect x="745.2" y="188.1" width="4.6" height="5.1" fill="#00c638"/><rect x="749.5" y="188.1" width="4.6" height="5.1" fill="#00c540"/><rect x="753.9" y="188.1" width="4.6" height="5.1" fill="#00c448"/><rect x="758.2" y="188.1" width="8.9" height="5.1" fill="#00c251"/><rect x="766.8" y="188.1" width="4.6" height="5.1" fill="#00c448"/><rect x="771.1" y="188.1" width="4.6" height="5.1" fill="#00c446"/><rect x="775.5" y="188.1" width="4.6" height="5.1" fill="#00c34c"/><rect x="779.8" y="188.1" width="9.0" height="5.1" fill="#00c34f"/><rect x="788.5" y="188.1" width="4.6" height="5.1" fill="#00c250"/><rect x="792.8" y="188.1" width="4.6" height="5.1" fill="#00c252"/><rect x="797.1" y="188.1" width="4.6" height="5.1" fill="#00c34a"/><rect x="801.4" y="188.1" width="4.6" height="5.1" fill="#00c638"/><rect x="805.8" y="188.1" width="4.6" height="5.1" fill="#00c92b"/><rect x="810.1" y="188.1" width="4.6" height="5.1" fill="#00cc26"/><rect x="814.4" y="188.1" width="8.9" height="5.1" fill="#00cd23"/><rect x="823.0" y="188.1" width="4.6" height="5.1" fill="#00cc25"/><rect x="827.4" y="188.1" width="4.6" height="5.1" fill="#00ca28"/><rect x="831.7" y="188.1" width="4.6" height="5.1" fill="#00ca29"/><rect x="836.0" y="188.1" width="4.6" height="5.1" fill="#00cb27"/><rect x="840.4" y="188.1" width="4.6" height="5.1" fill="#00cc24"/><rect x="844.7" y="188.1" width="4.6" height="5.1" fill="#00cf1f"/><rect x="849.0" y="188.1" width="4.6" height="5.1" fill="#00d01d"/><rect x="853.3" y="188.1" width="8.9" height="5.1" fill="#00d11c"/><rect x="862.0" y="188.1" width="13.3" height="5.1" fill="#00d01d"/><rect x="680.0" y="193.0" width="4.9" height="5.1" fill="#00d2c7"/><rect x="684.6" y="193.0" width="4.6" height="5.1" fill="#00d0ce"/><rect x="689.0" y="193.0" width="4.6" height="5.1" fill="#00cbdb"/><rect x="693.3" y="193.0" width="4.6" height="5.1" fill="#00c9df"/><rect x="697.6" y="193.0" width="4.6" height="5.1" fill="#00ccd9"/><rect x="701.9" y="193.0" width="4.6" height="5.1" fill="#00d1ca"/><rect x="706.3" y="193.0" width="4.6" height="5.1" fill="#00cca9"/><rect x="710.6" y="193.0" width="4.6" height="5.1" fill="#00c892"/><rect x="714.9" y="193.0" width="4.6" height="5.1" fill="#00c687"/><rect x="719.2" y="193.0" width="4.6" height="5.1" fill="#00c57d"/><rect x="723.6" y="193.0" width="4.6" height="5.1" fill="#00c373"/><rect x="727.9" y="193.0" width="4.6" height="5.1" fill="#00c26e"/><rect x="732.2" y="193.0" width="4.6" height="5.1" fill="#00c26d"/><rect x="736.5" y="193.0" width="4.6" height="5.1" fill="#00c062"/><rect x="740.9" y="193.0" width="4.6" height="5.1" fill="#00c34c"/><rect x="745.2" y="193.0" width="4.6" height="5.1" fill="#00c446"/><rect x="749.5" y="193.0" width="4.6" height="5.1" fill="#00c251"/><rect x="753.9" y="193.0" width="4.6" height="5.1" fill="#00c159"/><rect x="758.2" y="193.0" width="4.6" height="5.1" fill="#00c060"/><rect x="762.5" y="193.0" width="8.9" height="5.1" fill="#00c163"/><rect x="771.1" y="193.0" width="4.6" height="5.1" fill="#00c167"/><rect x="775.5" y="193.0" width="4.6" height="5.1" fill="#00c370"/><rect x="779.8" y="193.0" width="4.6" height="5.1" fill="#00c475"/><rect x="784.1" y="193.0" width="4.6" height="5.1" fill="#00c476"/><rect x="788.5" y="193.0" width="4.6" height="5.1" fill="#00c57f"/><rect x="792.8" y="193.0" width="4.6" height="5.1" fill="#00c88f"/><rect x="797.1" y="193.0" width="4.6" height="5.1" fill="#00c789"/><rect x="801.4" y="193.0" width="4.6" height="5.1" fill="#00c26b"/><rect x="805.8" y="193.0" width="4.6" height="5.1" fill="#00c251"/><rect x="810.1" y="193.0" width="4.6" height="5.1" fill="#00c63a"/><rect x="814.4" y="193.0" width="4.6" height="5.1" fill="#00c82e"/><rect x="818.7" y="193.0" width="4.6" height="5.1" fill="#00c82c"/><rect x="823.0" y="193.0" width="4.6" height="5.1" fill="#00c830"/><rect x="827.4" y="193.0" width="4.6" height="5.1" fill="#00c638"/><rect x="831.7" y="193.0" width="4.6" height="5.1" fill="#00c63a"/><rect x="836.0" y="193.0" width="4.6" height="5.1" fill="#00c637"/><rect x="840.4" y="193.0" width="4.6" height="5.1" fill="#00c731"/><rect x="844.7" y="193.0" width="4.6" height="5.1" fill="#00cb27"/><rect x="849.0" y="193.0" width="4.6" height="5.1" fill="#00cd22"/><rect x="853.3" y="193.0" width="4.6" height="5.1" fill="#00ce21"/><rect x="857.6" y="193.0" width="4.6" height="5.1" fill="#00cd23"/><rect x="862.0" y="193.0" width="4.6" height="5.1" fill="#00ca28"/><rect x="866.3" y="193.0" width="4.6" height="5.1" fill="#00c82d"/><rect x="870.6" y="193.0" width="4.7" height="5.1" fill="#00c732"/><rect x="680.0" y="197.8" width="4.9" height="5.1" fill="#00cdd5"/><rect x="684.6" y="197.8" width="4.6" height="5.1" fill="#00c9df"/><rect x="689.0" y="197.8" width="4.6" height="5.1" fill="#00c0f0"/><rect x="693.3" y="197.8" width="4.6" height="5.1" fill="#00b6f2"/><rect x="697.6" y="197.8" width="4.6" height="5.1" fill="#00b4f2"/><rect x="701.9" y="197.8" width="4.6" height="5.1" fill="#00c4ed"/><rect x="706.3" y="197.8" width="4.6" height="5.1" fill="#00d1c2"/><rect x="710.6" y="197.8" width="4.6" height="5.1" fill="#00ca9c"/><rect x="714.9" y="197.8" width="4.6" height="5.1" fill="#00c78a"/><rect x="719.2" y="197.8" width="4.6" height="5.1" fill="#00c57d"/><rect x="723.6" y="197.8" width="4.6" height="5.1" fill="#00c373"/><rect x="727.9" y="197.8" width="4.6" height="5.1" fill="#00c370"/><rect x="732.2" y="197.8" width="4.6" height="5.1" fill="#00c373"/><rect x="736.5" y="197.8" width="4.6" height="5.1" fill="#00c26a"/><rect x="740.9" y="197.8" width="4.6" height="5.1" fill="#00c255"/><rect x="745.2" y="197.8" width="4.6" height="5.1" fill="#00c251"/><rect x="749.5" y="197.8" width="4.6" height="5.1" fill="#00c05d"/><rect x="753.9" y="197.8" width="4.6" height="5.1" fill="#00c165"/><rect x="758.2" y="197.8" width="4.6" height="5.1" fill="#00c268"/><rect x="762.5" y="197.8" width="4.6" height="5.1" fill="#00c372"/><rect x="766.8" y="197.8" width="4.6" height="5.1" fill="#00c581"/><rect x="771.1" y="197.8" width="4.6" height="5.1" fill="#00c88e"/><rect x="775.5" y="197.8" width="4.6" height="5.1" fill="#00ca9a"/><rect x="779.8" y="197.8" width="4.6" height="5.1" fill="#00cba2"/><rect x="784.1" y="197.8" width="4.6" height="5.1" fill="#00cca6"/><rect x="788.5" y="197.8" width="4.6" height="5.1" fill="#00d0be"/><rect x="792.8" y="197.8" width="8.9" height="5.1" fill="#00c9e0"/><rect x="801.4" y="197.8" width="4.6" height="5.1" fill="#00d0bf"/><rect x="805.8" y="197.8" width="4.6" height="5.1" fill="#00c88f"/><rect x="810.1" y="197.8" width="4.6" height="5.1" fill="#00c05d"/><rect x="814.4" y="197.8" width="4.6" height="5.1" fill="#00c443"/><rect x="818.7" y="197.8" width="4.6" height="5.1" fill="#00c53f"/><rect x="823.0" y="197.8" width="4.6" height="5.1" fill="#00c444"/><rect x="827.4" y="197.8" width="4.6" height="5.1" fill="#00c253"/><rect x="831.7" y="197.8" width="4.6" height="5.1" fill="#00c255"/><rect x="836.0" y="197.8" width="4.6" height="5.1" fill="#00c34c"/><rect x="840.4" y="197.8" width="4.6" height="5.1" fill="#00c540"/><rect x="844.7" y="197.8" width="4.6" height="5.1" fill="#00c731"/><rect x="849.0" y="197.8" width="4.6" height="5.1" fill="#00ca28"/><rect x="853.3" y="197.8" width="4.6" height="5.1" fill="#00cc25"/><rect x="857.6" y="197.8" width="4.6" height="5.1" fill="#00ca28"/><rect x="862.0" y="197.8" width="4.6" height="5.1" fill="#00c734"/><rect x="866.3" y="197.8" width="4.6" height="5.1" fill="#00c541"/><rect x="870.6" y="197.8" width="4.7" height="5.1" fill="#00c250"/><rect x="680.0" y="202.7" width="4.9" height="5.1" fill="#00c9df"/><rect x="684.6" y="202.7" width="4.6" height="5.1" fill="#00c5ea"/><rect x="689.0" y="202.7" width="4.6" height="5.1" fill="#00b4f2"/><rect x="693.3" y="202.7" width="4.6" height="5.1" fill="#00a7f4"/><rect x="697.6" y="202.7" width="4.6" height="5.1" fill="#00a2f5"/><rect x="701.9" y="202.7" width="4.6" height="5.1" fill="#00b2f2"/><rect x="706.3" y="202.7" width="4.6" height="5.1" fill="#00cadc"/><rect x="710.6" y="202.7" width="4.6" height="5.1" fill="#00cfb9"/><rect x="714.9" y="202.7" width="4.6" height="5.1" fill="#00ca9b"/><rect x="719.2" y="202.7" width="4.6" height="5.1" fill="#00c685"/><rect x="723.6" y="202.7" width="4.6" height="5.1" fill="#00c477"/><rect x="727.9" y="202.7" width="4.6" height="5.1" fill="#00c371"/><rect x="732.2" y="202.7" width="4.6" height="5.1" fill="#00c373"/><rect x="736.5" y="202.7" width="4.6" height="5.1" fill="#00c26e"/><rect x="740.9" y="202.7" width="4.6" height="5.1" fill="#00c162"/><rect x="745.2" y="202.7" width="4.6" height="5.1" fill="#00c163"/><rect x="749.5" y="202.7" width="4.6" height="5.1" fill="#00c36f"/><rect x="753.9" y="202.7" width="4.6" height="5.1" fill="#00c475"/><rect x="758.2" y="202.7" width="4.6" height="5.1" fill="#00c375"/><rect x="762.5" y="202.7" width="4.6" height="5.1" fill="#00c57c"/><rect x="766.8" y="202.7" width="4.6" height="5.1" fill="#00c78d"/><rect x="771.1" y="202.7" width="4.6" height="5.1" fill="#00ca9c"/><rect x="775.5" y="202.7" width="4.6" height="5.1" fill="#00cdab"/><rect x="779.8" y="202.7" width="4.6" height="5.1" fill="#00ceb5"/><rect x="784.1" y="202.7" width="4.6" height="5.1" fill="#00d0ba"/><rect x="788.5" y="202.7" width="4.6" height="5.1" fill="#00cfd0"/><rect x="792.8" y="202.7" width="8.9" height="5.1" fill="#00c4ee"/><rect x="801.4" y="202.7" width="4.6" height="5.1" fill="#00cfcf"/><rect x="805.8" y="202.7" width="4.6" height="5.1" fill="#00cba1"/><rect x="810.1" y="202.7" width="4.6" height="5.1" fill="#00c26f"/><rect x="814.4" y="202.7" width="4.6" height="5.1" fill="#00c158"/><rect x="818.7" y="202.7" width="4.6" height="5.1" fill="#00c05d"/><rect x="823.0" y="202.7" width="4.6" height="5.1" fill="#00c165"/><rect x="827.4" y="202.7" width="4.6" height="5.1" fill="#00c370"/><rect x="831.7" y="202.7" width="4.6" height="5.1" fill="#00c26d"/><rect x="836.0" y="202.7" width="4.6" height="5.1" fill="#00c05c"/><rect x="840.4" y="202.7" width="4.6" height="5.1" fill="#00c34b"/><rect x="844.7" y="202.7" width="4.6" height="5.1" fill="#00c639"/><rect x="849.0" y="202.7" width="4.6" height="5.1" fill="#00c82c"/><rect x="853.3" y="202.7" width="4.6" height="5.1" fill="#00cb26"/><rect x="857.6" y="202.7" width="4.6" height="5.1" fill="#00c92b"/><rect x="862.0" y="202.7" width="4.6" height="5.1" fill="#00c63c"/><rect x="866.3" y="202.7" width="4.6" height="5.1" fill="#00c34e"/><rect x="870.6" y="202.7" width="4.7" height="5.1" fill="#00c060"/><rect x="680.0" y="207.5" width="4.9" height="5.1" fill="#00c7e5"/><rect x="684.6" y="207.5" width="4.6" height="5.1" fill="#00c3ef"/><rect x="689.0" y="207.5" width="4.6" height="5.1" fill="#00b1f3"/><rect x="693.3" y="207.5" width="4.6" height="5.1" fill="#00a6f4"/><rect x="697.6" y="207.5" width="4.6" height="5.1" fill="#00a2f5"/><rect x="701.9" y="207.5" width="4.6" height="5.1" fill="#00a9f4"/><rect x="706.3" y="207.5" width="4.6" height="5.1" fill="#00baf1"/><rect x="710.6" y="207.5" width="4.6" height="5.1" fill="#00c9df"/><rect x="714.9" y="207.5" width="4.6" height="5.1" fill="#00cfb9"/><rect x="719.2" y="207.5" width="4.6" height="5.1" fill="#00c996"/><rect x="723.6" y="207.5" width="4.6" height="5.1" fill="#00c580"/><rect x="727.9" y="207.5" width="4.6" height="5.1" fill="#00c373"/><rect x="732.2" y="207.5" width="8.9" height="5.1" fill="#00c36f"/><rect x="740.9" y="207.5" width="4.6" height="5.1" fill="#00c373"/><rect x="745.2" y="207.5" width="4.6" height="5.1" fill="#00c57c"/><rect x="749.5" y="207.5" width="4.6" height="5.1" fill="#00c788"/><rect x="753.9" y="207.5" width="4.6" height="5.1" fill="#00c78b"/><rect x="758.2" y="207.5" width="4.6" height="5.1" fill="#00c684"/><rect x="762.5" y="207.5" width="4.6" height="5.1" fill="#00c683"/><rect x="766.8" y="207.5" width="4.6" height="5.1" fill="#00c686"/><rect x="771.1" y="207.5" width="4.6" height="5.1" fill="#00c88f"/><rect x="775.5" y="207.5" width="4.6" height="5.1" fill="#00cb9f"/><rect x="779.8" y="207.5" width="4.6" height="5.1" fill="#00ccaa"/><rect x="784.1" y="207.5" width="4.6" height="5.1" fill="#00ceaf"/><rect x="788.5" y="207.5" width="4.6" height="5.1" fill="#00d0bb"/><rect x="792.8" y="207.5" width="4.6" height="5.1" fill="#00d1cc"/><rect x="797.1" y="207.5" width="4.6" height="5.1" fill="#00d1c4"/><rect x="801.4" y="207.5" width="4.6" height="5.1" fill="#00cb9f"/><rect x="805.8" y="207.5" width="4.6" height="5.1" fill="#00c683"/><rect x="810.1" y="207.5" width="4.6" height="5.1" fill="#00c26d"/><rect x="814.4" y="207.5" width="4.6" height="5.1" fill="#00c26e"/><rect x="818.7" y="207.5" width="4.6" height="5.1" fill="#00c685"/><rect x="823.0" y="207.5" width="4.6" height="5.1" fill="#00c890"/><rect x="827.4" y="207.5" width="4.6" height="5.1" fill="#00c88f"/><rect x="831.7" y="207.5" width="4.6" height="5.1" fill="#00c682"/><rect x="836.0" y="207.5" width="4.6" height="5.1" fill="#00c168"/><rect x="840.4" y="207.5" width="4.6" height="5.1" fill="#00c252"/><rect x="844.7" y="207.5" width="4.6" height="5.1" fill="#00c53e"/><rect x="849.0" y="207.5" width="4.6" height="5.1" fill="#00c82f"/><rect x="853.3" y="207.5" width="4.6" height="5.1" fill="#00cc25"/><rect x="857.6" y="207.5" width="4.6" height="5.1" fill="#00c92b"/><rect x="862.0" y="207.5" width="4.6" height="5.1" fill="#00c541"/><rect x="866.3" y="207.5" width="4.6" height="5.1" fill="#00c253"/><rect x="870.6" y="207.5" width="4.7" height="5.1" fill="#00c062"/><rect x="680.0" y="212.3" width="4.9" height="5.1" fill="#00c5ea"/><rect x="684.6" y="212.3" width="4.6" height="5.1" fill="#00c0f0"/><rect x="689.0" y="212.3" width="4.6" height="5.1" fill="#00aef3"/><rect x="693.3" y="212.3" width="4.6" height="5.1" fill="#00a4f4"/><rect x="697.6" y="212.3" width="4.6" height="5.1" fill="#00a3f5"/><rect x="701.9" y="212.3" width="4.6" height="5.1" fill="#00a4f4"/><rect x="706.3" y="212.3" width="4.6" height="5.1" fill="#00a9f4"/><rect x="710.6" y="212.3" width="4.6" height="5.1" fill="#00bbf1"/><rect x="714.9" y="212.3" width="4.6" height="5.1" fill="#00cdd7"/><rect x="719.2" y="212.3" width="4.6" height="5.1" fill="#00cfb8"/><rect x="723.6" y="212.3" width="4.6" height="5.1" fill="#00cba1"/><rect x="727.9" y="212.3" width="4.6" height="5.1" fill="#00c892"/><rect x="732.2" y="212.3" width="4.6" height="5.1" fill="#00c78b"/><rect x="736.5" y="212.3" width="4.6" height="5.1" fill="#00c78a"/><rect x="740.9" y="212.3" width="4.6" height="5.1" fill="#00c88e"/><rect x="745.2" y="212.3" width="4.6" height="5.1" fill="#00c994"/><rect x="749.5" y="212.3" width="4.6" height="5.1" fill="#00ca9e"/><rect x="753.9" y="212.3" width="4.6" height="5.1" fill="#00ca9d"/><rect x="758.2" y="212.3" width="4.6" height="5.1" fill="#00c891"/><rect x="762.5" y="212.3" width="4.6" height="5.1" fill="#00c78a"/><rect x="766.8" y="212.3" width="4.6" height="5.1" fill="#00c687"/><rect x="771.1" y="212.3" width="4.6" height="5.1" fill="#00c78d"/><rect x="775.5" y="212.3" width="4.6" height="5.1" fill="#00ca9c"/><rect x="779.8" y="212.3" width="4.6" height="5.1" fill="#00cca6"/><rect x="784.1" y="212.3" width="4.6" height="5.1" fill="#00cdaa"/><rect x="788.5" y="212.3" width="4.6" height="5.1" fill="#00cdaf"/><rect x="792.8" y="212.3" width="4.6" height="5.1" fill="#00ceb3"/><rect x="797.1" y="212.3" width="4.6" height="5.1" fill="#00cca7"/><rect x="801.4" y="212.3" width="4.6" height="5.1" fill="#00c78b"/><rect x="805.8" y="212.3" width="4.6" height="5.1" fill="#00c682"/><rect x="810.1" y="212.3" width="4.6" height="5.1" fill="#00c789"/><rect x="814.4" y="212.3" width="4.6" height="5.1" fill="#00ca9b"/><rect x="818.7" y="212.3" width="4.6" height="5.1" fill="#00cfb9"/><rect x="823.0" y="212.3" width="4.6" height="5.1" fill="#00d1c1"/><rect x="827.4" y="212.3" width="4.6" height="5.1" fill="#00ceb4"/><rect x="831.7" y="212.3" width="4.6" height="5.1" fill="#00ca9d"/><rect x="836.0" y="212.3" width="4.6" height="5.1" fill="#00c57e"/><rect x="840.4" y="212.3" width="4.6" height="5.1" fill="#00c163"/><rect x="844.7" y="212.3" width="4.6" height="5.1" fill="#00c34b"/><rect x="849.0" y="212.3" width="4.6" height="5.1" fill="#00c639"/><rect x="853.3" y="212.3" width="4.6" height="5.1" fill="#00c82f"/><rect x="857.6" y="212.3" width="4.6" height="5.1" fill="#00c636"/><rect x="862.0" y="212.3" width="4.6" height="5.1" fill="#00c34e"/><rect x="866.3" y="212.3" width="4.6" height="5.1" fill="#00c05f"/><rect x="870.6" y="212.3" width="4.7" height="5.1" fill="#00c168"/><rect x="680.0" y="217.2" width="4.9" height="5.1" fill="#00c4ee"/><rect x="684.6" y="217.2" width="4.6" height="5.1" fill="#00bcf1"/><rect x="689.0" y="217.2" width="4.6" height="5.1" fill="#00aaf4"/><rect x="693.3" y="217.2" width="4.6" height="5.1" fill="#00a3f5"/><rect x="697.6" y="217.2" width="8.9" height="5.1" fill="#00a4f4"/><rect x="706.3" y="217.2" width="4.6" height="5.1" fill="#00a1f5"/><rect x="710.6" y="217.2" width="4.6" height="5.1" fill="#00aaf4"/><rect x="714.9" y="217.2" width="4.6" height="5.1" fill="#00c0f0"/><rect x="719.2" y="217.2" width="4.6" height="5.1" fill="#00c8e2"/><rect x="723.6" y="217.2" width="4.6" height="5.1" fill="#00cdd6"/><rect x="727.9" y="217.2" width="4.6" height="5.1" fill="#00cfd0"/><rect x="732.2" y="217.2" width="4.6" height="5.1" fill="#00d0cd"/><rect x="736.5" y="217.2" width="4.6" height="5.1" fill="#00d1c5"/><rect x="740.9" y="217.2" width="4.6" height="5.1" fill="#00cfb5"/><rect x="745.2" y="217.2" width="4.6" height="5.1" fill="#00cdaf"/><rect x="749.5" y="217.2" width="4.6" height="5.1" fill="#00ceb0"/><rect x="753.9" y="217.2" width="4.6" height="5.1" fill="#00cdaa"/><rect x="758.2" y="217.2" width="4.6" height="5.1" fill="#00ca9d"/><rect x="762.5" y="217.2" width="4.6" height="5.1" fill="#00c994"/><rect x="766.8" y="217.2" width="4.6" height="5.1" fill="#00c88f"/><rect x="771.1" y="217.2" width="4.6" height="5.1" fill="#00c994"/><rect x="775.5" y="217.2" width="4.6" height="5.1" fill="#00cba3"/><rect x="779.8" y="217.2" width="4.6" height="5.1" fill="#00cdaa"/><rect x="784.1" y="217.2" width="4.6" height="5.1" fill="#00cdac"/><rect x="788.5" y="217.2" width="4.6" height="5.1" fill="#00cdad"/><rect x="792.8" y="217.2" width="4.6" height="5.1" fill="#00cdaf"/><rect x="797.1" y="217.2" width="4.6" height="5.1" fill="#00cca6"/><rect x="801.4" y="217.2" width="4.6" height="5.1" fill="#00c893"/><rect x="805.8" y="217.2" width="4.6" height="5.1" fill="#00ca9e"/><rect x="810.1" y="217.2" width="4.6" height="5.1" fill="#00d1c5"/><rect x="814.4" y="217.2" width="4.6" height="5.1" fill="#00cbdb"/><rect x="818.7" y="217.2" width="4.6" height="5.1" fill="#00c6e9"/><rect x="823.0" y="217.2" width="4.6" height="5.1" fill="#00c6e8"/><rect x="827.4" y="217.2" width="4.6" height="5.1" fill="#00ccd7"/><rect x="831.7" y="217.2" width="4.6" height="5.1" fill="#00d1c1"/><rect x="836.0" y="217.2" width="4.6" height="5.1" fill="#00cba0"/><rect x="840.4" y="217.2" width="4.6" height="5.1" fill="#00c57f"/><rect x="844.7" y="217.2" width="4.6" height="5.1" fill="#00c05e"/><rect x="849.0" y="217.2" width="4.6" height="5.1" fill="#00c34b"/><rect x="853.3" y="217.2" width="4.6" height="5.1" fill="#00c446"/><rect x="857.6" y="217.2" width="4.6" height="5.1" fill="#00c34e"/><rect x="862.0" y="217.2" width="4.6" height="5.1" fill="#00c163"/><rect x="866.3" y="217.2" width="4.6" height="5.1" fill="#00c370"/><rect x="870.6" y="217.2" width="4.7" height="5.1" fill="#00c373"/><rect x="680.0" y="222.0" width="4.9" height="5.1" fill="#00bcf1"/><rect x="684.6" y="222.0" width="4.6" height="5.1" fill="#00b4f2"/><rect x="689.0" y="222.0" width="4.6" height="5.1" fill="#00a5f4"/><rect x="693.3" y="222.0" width="4.6" height="5.1" fill="#009ff5"/><rect x="697.6" y="222.0" width="4.6" height="5.1" fill="#00a1f5"/><rect x="701.9" y="222.0" width="4.6" height="5.1" fill="#009ff5"/><rect x="706.3" y="222.0" width="8.9" height="5.1" fill="#0097f3"/><rect x="714.9" y="222.0" width="4.6" height="5.1" fill="#009ff5"/><rect x="719.2" y="222.0" width="4.6" height="5.1" fill="#00a9f4"/><rect x="723.6" y="222.0" width="4.6" height="5.1" fill="#00b5f2"/><rect x="727.9" y="222.0" width="4.6" height="5.1" fill="#00bef1"/><rect x="732.2" y="222.0" width="4.6" height="5.1" fill="#00c2f0"/><rect x="736.5" y="222.0" width="4.6" height="5.1" fill="#00c7e6"/><rect x="740.9" y="222.0" width="4.6" height="5.1" fill="#00cdd4"/><rect x="745.2" y="222.0" width="4.6" height="5.1" fill="#00d1cb"/><rect x="749.5" y="222.0" width="4.6" height="5.1" fill="#00d2c8"/><rect x="753.9" y="222.0" width="4.6" height="5.1" fill="#00d0be"/><rect x="758.2" y="222.0" width="4.6" height="5.1" fill="#00cdac"/><rect x="762.5" y="222.0" width="4.6" height="5.1" fill="#00ca9e"/><rect x="766.8" y="222.0" width="4.6" height="5.1" fill="#00c995"/><rect x="771.1" y="222.0" width="4.6" height="5.1" fill="#00c998"/><rect x="775.5" y="222.0" width="4.6" height="5.1" fill="#00cca6"/><rect x="779.8" y="222.0" width="4.6" height="5.1" fill="#00cdae"/><rect x="784.1" y="222.0" width="4.6" height="5.1" fill="#00ceb2"/><rect x="788.5" y="222.0" width="4.6" height="5.1" fill="#00cfb7"/><rect x="792.8" y="222.0" width="8.9" height="5.1" fill="#00d0be"/><rect x="801.4" y="222.0" width="4.6" height="5.1" fill="#00cfb7"/><rect x="805.8" y="222.0" width="4.6" height="5.1" fill="#00d1ca"/><rect x="810.1" y="222.0" width="4.6" height="5.1" fill="#00c4ee"/><rect x="814.4" y="222.0" width="4.6" height="5.1" fill="#00b2f2"/><rect x="818.7" y="222.0" width="4.6" height="5.1" fill="#00a9f4"/><rect x="823.0" y="222.0" width="4.6" height="5.1" fill="#00aff3"/><rect x="827.4" y="222.0" width="4.6" height="5.1" fill="#00c3ef"/><rect x="831.7" y="222.0" width="4.6" height="5.1" fill="#00cbda"/><rect x="836.0" y="222.0" width="4.6" height="5.1" fill="#00d2c8"/><rect x="840.4" y="222.0" width="4.6" height="5.1" fill="#00cca5"/><rect x="844.7" y="222.0" width="4.6" height="5.1" fill="#00c47b"/><rect x="849.0" y="222.0" width="4.6" height="5.1" fill="#00c164"/><rect x="853.3" y="222.0" width="4.6" height="5.1" fill="#00c060"/><rect x="857.6" y="222.0" width="4.6" height="5.1" fill="#00c165"/><rect x="862.0" y="222.0" width="4.6" height="5.1" fill="#00c373"/><rect x="866.3" y="222.0" width="4.6" height="5.1" fill="#00c47a"/><rect x="870.6" y="222.0" width="4.7" height="5.1" fill="#00c47b"/><rect x="680.0" y="226.9" width="4.9" height="5.1" fill="#00aef3"/><rect x="684.6" y="226.9" width="4.6" height="5.1" fill="#00a9f4"/><rect x="689.0" y="226.9" width="4.6" height="5.1" fill="#009ef4"/><rect x="693.3" y="226.9" width="8.9" height="5.1" fill="#0099f3"/><rect x="701.9" y="226.9" width="4.6" height="5.1" fill="#0096f2"/><rect x="706.3" y="226.9" width="4.6" height="5.1" fill="#008df0"/><rect x="710.6" y="226.9" width="4.6" height="5.1" fill="#0083ed"/><rect x="714.9" y="226.9" width="4.6" height="5.1" fill="#0075e7"/><rect x="719.2" y="226.9" width="4.6" height="5.1" fill="#007bea"/><rect x="723.6" y="226.9" width="4.6" height="5.1" fill="#0092f1"/><rect x="727.9" y="226.9" width="4.6" height="5.1" fill="#00a3f5"/><rect x="732.2" y="226.9" width="4.6" height="5.1" fill="#00aef3"/><rect x="736.5" y="226.9" width="4.6" height="5.1" fill="#00baf1"/><rect x="740.9" y="226.9" width="4.6" height="5.1" fill="#00c5ec"/><rect x="745.2" y="226.9" width="4.6" height="5.1" fill="#00c8e2"/><rect x="749.5" y="226.9" width="4.6" height="5.1" fill="#00c9df"/><rect x="753.9" y="226.9" width="4.6" height="5.1" fill="#00ced4"/><rect x="758.2" y="226.9" width="4.6" height="5.1" fill="#00d0be"/><rect x="762.5" y="226.9" width="4.6" height="5.1" fill="#00cca9"/><rect x="766.8" y="226.9" width="4.6" height="5.1" fill="#00c999"/><rect x="771.1" y="226.9" width="4.6" height="5.1" fill="#00c998"/><rect x="775.5" y="226.9" width="4.6" height="5.1" fill="#00cca6"/><rect x="779.8" y="226.9" width="4.6" height="5.1" fill="#00ceb2"/><rect x="784.1" y="226.9" width="4.6" height="5.1" fill="#00d0bc"/><rect x="788.5" y="226.9" width="4.6" height="5.1" fill="#00d1ca"/><rect x="792.8" y="226.9" width="4.6" height="5.1" fill="#00cbda"/><rect x="797.1" y="226.9" width="4.6" height="5.1" fill="#00c8e4"/><rect x="801.4" y="226.9" width="4.6" height="5.1" fill="#00c6e8"/><rect x="805.8" y="226.9" width="4.6" height="5.1" fill="#00bcf1"/><rect x="810.1" y="226.9" width="4.6" height="5.1" fill="#00a7f4"/><rect x="814.4" y="226.9" width="4.6" height="5.1" fill="#0097f2"/><rect x="818.7" y="226.9" width="4.6" height="5.1" fill="#008ef0"/><rect x="823.0" y="226.9" width="4.6" height="5.1" fill="#0098f3"/><rect x="827.4" y="226.9" width="4.6" height="5.1" fill="#00b4f2"/><rect x="831.7" y="226.9" width="4.6" height="5.1" fill="#00c4ee"/><rect x="836.0" y="226.9" width="4.6" height="5.1" fill="#00c6e8"/><rect x="840.4" y="226.9" width="4.6" height="5.1" fill="#00ced2"/><rect x="844.7" y="226.9" width="4.6" height="5.1" fill="#00cba3"/><rect x="849.0" y="226.9" width="4.6" height="5.1" fill="#00c685"/><rect x="853.3" y="226.9" width="4.6" height="5.1" fill="#00c57d"/><rect x="857.6" y="226.9" width="4.6" height="5.1" fill="#00c47b"/><rect x="862.0" y="226.9" width="4.6" height="5.1" fill="#00c57e"/><rect x="866.3" y="226.9" width="9.0" height="5.1" fill="#00c580"/><rect x="680.0" y="231.7" width="4.9" height="5.1" fill="#0091f1"/><rect x="684.6" y="231.7" width="4.6" height="5.1" fill="#008df0"/><rect x="689.0" y="231.7" width="4.6" height="5.1" fill="#0085ed"/><rect x="693.3" y="231.7" width="4.6" height="5.1" fill="#0083ed"/><rect x="697.6" y="231.7" width="4.6" height="5.1" fill="#0086ee"/><rect x="701.9" y="231.7" width="4.6" height="5.1" fill="#0084ed"/><rect x="706.3" y="231.7" width="4.6" height="5.1" fill="#007ceb"/><rect x="710.6" y="231.7" width="4.6" height="5.1" fill="#006ee4"/><rect x="714.9" y="231.7" width="4.6" height="5.1" fill="#005bda"/><rect x="719.2" y="231.7" width="4.6" height="5.1" fill="#0061dd"/><rect x="723.6" y="231.7" width="4.6" height="5.1" fill="#007fec"/><rect x="727.9" y="231.7" width="4.6" height="5.1" fill="#0093f1"/><rect x="732.2" y="231.7" width="4.6" height="5.1" fill="#00a2f5"/><rect x="736.5" y="231.7" width="4.6" height="5.1" fill="#00aff3"/><rect x="740.9" y="231.7" width="4.6" height="5.1" fill="#00b9f1"/><rect x="745.2" y="231.7" width="4.6" height="5.1" fill="#00c1f0"/><rect x="749.5" y="231.7" width="4.6" height="5.1" fill="#00c4ed"/><rect x="753.9" y="231.7" width="4.6" height="5.1" fill="#00c9df"/><rect x="758.2" y="231.7" width="4.6" height="5.1" fill="#00d1ca"/><rect x="762.5" y="231.7" width="4.6" height="5.1" fill="#00ceb2"/><rect x="766.8" y="231.7" width="9.0" height="5.1" fill="#00ca9e"/><rect x="775.5" y="231.7" width="4.6" height="5.1" fill="#00ceb3"/><rect x="779.8" y="231.7" width="4.6" height="5.1" fill="#00d1c2"/><rect x="784.1" y="231.7" width="4.6" height="5.1" fill="#00d1cb"/><rect x="788.5" y="231.7" width="4.6" height="5.1" fill="#00cbda"/><rect x="792.8" y="231.7" width="4.6" height="5.1" fill="#00c2f0"/><rect x="797.1" y="231.7" width="4.6" height="5.1" fill="#00b4f2"/><rect x="801.4" y="231.7" width="4.6" height="5.1" fill="#00aef3"/><rect x="805.8" y="231.7" width="4.6" height="5.1" fill="#00a5f4"/><rect x="810.1" y="231.7" width="4.6" height="5.1" fill="#009bf4"/><rect x="814.4" y="231.7" width="4.6" height="5.1" fill="#0090f1"/><rect x="818.7" y="231.7" width="4.6" height="5.1" fill="#0086ee"/><rect x="823.0" y="231.7" width="4.6" height="5.1" fill="#008def"/><rect x="827.4" y="231.7" width="4.6" height="5.1" fill="#00a3f5"/><rect x="831.7" y="231.7" width="8.9" height="5.1" fill="#00aef3"/><rect x="840.4" y="231.7" width="4.6" height="5.1" fill="#00bff1"/><rect x="844.7" y="231.7" width="4.6" height="5.1" fill="#00cfcf"/><rect x="849.0" y="231.7" width="4.6" height="5.1" fill="#00ceb2"/><rect x="853.3" y="231.7" width="4.6" height="5.1" fill="#00cca7"/><rect x="857.6" y="231.7" width="4.6" height="5.1" fill="#00ca9e"/><rect x="862.0" y="231.7" width="4.6" height="5.1" fill="#00c998"/><rect x="866.3" y="231.7" width="4.6" height="5.1" fill="#00c891"/><rect x="870.6" y="231.7" width="4.7" height="5.1" fill="#00c78a"/><rect x="680.0" y="236.5" width="4.9" height="5.1" fill="#0062de"/><rect x="684.6" y="236.5" width="4.6" height="5.1" fill="#005edc"/><rect x="689.0" y="236.5" width="4.6" height="5.1" fill="#0058d8"/><rect x="693.3" y="236.5" width="4.6" height="5.1" fill="#0059d9"/><rect x="697.6" y="236.5" width="4.6" height="5.1" fill="#0064de"/><rect x="701.9" y="236.5" width="4.6" height="5.1" fill="#0066e0"/><rect x="706.3" y="236.5" width="4.6" height="5.1" fill="#0061dd"/><rect x="710.6" y="236.5" width="4.6" height="5.1" fill="#005cda"/><rect x="714.9" y="236.5" width="4.6" height="5.1" fill="#0056d8"/><rect x="719.2" y="236.5" width="4.6" height="5.1" fill="#0061dd"/><rect x="723.6" y="236.5" width="4.6" height="5.1" fill="#007bea"/><rect x="727.9" y="236.5" width="4.6" height="5.1" fill="#008ff0"/><rect x="732.2" y="236.5" width="4.6" height="5.1" fill="#00a0f5"/><rect x="736.5" y="236.5" width="4.6" height="5.1" fill="#00abf3"/><rect x="740.9" y="236.5" width="4.6" height="5.1" fill="#00b2f2"/><rect x="745.2" y="236.5" width="4.6" height="5.1" fill="#00baf1"/><rect x="749.5" y="236.5" width="4.6" height="5.1" fill="#00c1f0"/><rect x="753.9" y="236.5" width="4.6" height="5.1" fill="#00c8e4"/><rect x="758.2" y="236.5" width="4.6" height="5.1" fill="#00cfcf"/><rect x="762.5" y="236.5" width="4.6" height="5.1" fill="#00cfb9"/><rect x="766.8" y="236.5" width="4.6" height="5.1" fill="#00cba4"/><rect x="771.1" y="236.5" width="4.6" height="5.1" fill="#00cdaa"/><rect x="775.5" y="236.5" width="4.6" height="5.1" fill="#00d1cc"/><rect x="779.8" y="236.5" width="4.6" height="5.1" fill="#00ccd9"/><rect x="784.1" y="236.5" width="4.6" height="5.1" fill="#00cbdc"/><rect x="788.5" y="236.5" width="4.6" height="5.1" fill="#00c5ec"/><rect x="792.8" y="236.5" width="4.6" height="5.1" fill="#00aef3"/><rect x="797.1" y="236.5" width="4.6" height="5.1" fill="#00a0f5"/><rect x="801.4" y="236.5" width="9.0" height="5.1" fill="#009ef4"/><rect x="810.1" y="236.5" width="4.6" height="5.1" fill="#00a2f5"/><rect x="814.4" y="236.5" width="4.6" height="5.1" fill="#009df4"/><rect x="818.7" y="236.5" width="4.6" height="5.1" fill="#0090f1"/><rect x="823.0" y="236.5" width="4.6" height="5.1" fill="#008cef"/><rect x="827.4" y="236.5" width="4.6" height="5.1" fill="#0090f0"/><rect x="831.7" y="236.5" width="8.9" height="5.1" fill="#0092f1"/><rect x="840.4" y="236.5" width="4.6" height="5.1" fill="#00a1f5"/><rect x="844.7" y="236.5" width="4.6" height="5.1" fill="#00bff1"/><rect x="849.0" y="236.5" width="4.6" height="5.1" fill="#00c9e0"/><rect x="853.3" y="236.5" width="4.6" height="5.1" fill="#00ccd8"/><rect x="857.6" y="236.5" width="4.6" height="5.1" fill="#00cfcf"/><rect x="862.0" y="236.5" width="4.6" height="5.1" fill="#00d1c5"/><rect x="866.3" y="236.5" width="4.6" height="5.1" fill="#00ceb2"/><rect x="870.6" y="236.5" width="4.7" height="5.1" fill="#00ca99"/><rect x="680.0" y="241.4" width="4.9" height="5.1" fill="#0048ca"/><rect x="684.6" y="241.4" width="4.6" height="5.1" fill="#0047c9"/><rect x="689.0" y="241.4" width="4.6" height="5.1" fill="#0046c8"/><rect x="693.3" y="241.4" width="4.6" height="5.1" fill="#0048ca"/><rect x="697.6" y="241.4" width="4.6" height="5.1" fill="#004cce"/><rect x="701.9" y="241.4" width="4.6" height="5.1" fill="#004dcf"/><rect x="706.3" y="241.4" width="4.6" height="5.1" fill="#0049cb"/><rect x="710.6" y="241.4" width="4.6" height="5.1" fill="#004acc"/><rect x="714.9" y="241.4" width="4.6" height="5.1" fill="#0050d2"/><rect x="719.2" y="241.4" width="4.6" height="5.1" fill="#005ddb"/><rect x="723.6" y="241.4" width="4.6" height="5.1" fill="#0072e6"/><rect x="727.9" y="241.4" width="4.6" height="5.1" fill="#0084ed"/><rect x="732.2" y="241.4" width="4.6" height="5.1" fill="#0091f1"/><rect x="736.5" y="241.4" width="4.6" height="5.1" fill="#009cf4"/><rect x="740.9" y="241.4" width="4.6" height="5.1" fill="#00a6f4"/><rect x="745.2" y="241.4" width="4.6" height="5.1" fill="#00b2f2"/><rect x="749.5" y="241.4" width="4.6" height="5.1" fill="#00c2f0"/><rect x="753.9" y="241.4" width="4.6" height="5.1" fill="#00c9df"/><rect x="758.2" y="241.4" width="4.6" height="5.1" fill="#00d0ce"/><rect x="762.5" y="241.4" width="4.6" height="5.1" fill="#00d0bd"/><rect x="766.8" y="241.4" width="4.6" height="5.1" fill="#00cdae"/><rect x="771.1" y="241.4" width="4.6" height="5.1" fill="#00cfba"/><rect x="775.5" y="241.4" width="4.6" height="5.1" fill="#00ccd9"/><rect x="779.8" y="241.4" width="9.0" height="5.1" fill="#00c6e8"/><rect x="788.5" y="241.4" width="4.6" height="5.1" fill="#00bcf1"/><rect x="792.8" y="241.4" width="4.6" height="5.1" fill="#00a2f5"/><rect x="797.1" y="241.4" width="4.6" height="5.1" fill="#0094f2"/><rect x="801.4" y="241.4" width="4.6" height="5.1" fill="#0091f1"/><rect x="805.8" y="241.4" width="4.6" height="5.1" fill="#0095f2"/><rect x="810.1" y="241.4" width="4.6" height="5.1" fill="#00a0f5"/><rect x="814.4" y="241.4" width="4.6" height="5.1" fill="#009cf4"/><rect x="818.7" y="241.4" width="4.6" height="5.1" fill="#008bef"/><rect x="823.0" y="241.4" width="9.0" height="5.1" fill="#0082ec"/><rect x="831.7" y="241.4" width="8.9" height="5.1" fill="#0081ec"/><rect x="840.4" y="241.4" width="4.6" height="5.1" fill="#008cef"/><rect x="844.7" y="241.4" width="4.6" height="5.1" fill="#00a2f5"/><rect x="849.0" y="241.4" width="4.6" height="5.1" fill="#00b0f3"/><rect x="853.3" y="241.4" width="4.6" height="5.1" fill="#00b6f2"/><rect x="857.6" y="241.4" width="4.6" height="5.1" fill="#00bff0"/><rect x="862.0" y="241.4" width="4.6" height="5.1" fill="#00c7e6"/><rect x="866.3" y="241.4" width="4.6" height="5.1" fill="#00cdd5"/><rect x="870.6" y="241.4" width="4.7" height="5.1" fill="#00d0bd"/><rect x="680.0" y="246.2" width="4.9" height="5.1" fill="#0043c5"/><rect x="684.6" y="246.2" width="4.6" height="5.1" fill="#0046c8"/><rect x="689.0" y="246.2" width="4.6" height="5.1" fill="#004cce"/><rect x="693.3" y="246.2" width="4.6" height="5.1" fill="#004bcd"/><rect x="697.6" y="246.2" width="4.6" height="5.1" fill="#0041c3"/><rect x="701.9" y="246.2" width="4.6" height="5.1" fill="#0039bb"/><rect x="706.3" y="246.2" width="4.6" height="5.1" fill="#0034b6"/><rect x="710.6" y="246.2" width="4.6" height="5.1" fill="#0039bb"/><rect x="714.9" y="246.2" width="4.6" height="5.1" fill="#0046c8"/><rect x="719.2" y="246.2" width="4.6" height="5.1" fill="#0054d6"/><rect x="723.6" y="246.2" width="4.6" height="5.1" fill="#0065df"/><rect x="727.9" y="246.2" width="4.6" height="5.1" fill="#006fe4"/><rect x="732.2" y="246.2" width="4.6" height="5.1" fill="#0074e7"/><rect x="736.5" y="246.2" width="4.6" height="5.1" fill="#0081ec"/><rect x="740.9" y="246.2" width="4.6" height="5.1" fill="#0093f1"/><rect x="745.2" y="246.2" width="4.6" height="5.1" fill="#00abf3"/><rect x="749.5" y="246.2" width="4.6" height="5.1" fill="#00c6e9"/><rect x="753.9" y="246.2" width="4.6" height="5.1" fill="#00ced2"/><rect x="758.2" y="246.2" width="4.6" height="5.1" fill="#00d1c4"/><rect x="762.5" y="246.2" width="4.6" height="5.1" fill="#00d0bc"/><rect x="766.8" y="246.2" width="4.6" height="5.1" fill="#00d0bd"/><rect x="771.1" y="246.2" width="4.6" height="5.1" fill="#00d1cb"/><rect x="775.5" y="246.2" width="4.6" height="5.1" fill="#00c8e2"/><rect x="779.8" y="246.2" width="4.6" height="5.1" fill="#00c4ee"/><rect x="784.1" y="246.2" width="4.6" height="5.1" fill="#00c2f0"/><rect x="788.5" y="246.2" width="4.6" height="5.1" fill="#00b6f2"/><rect x="792.8" y="246.2" width="4.6" height="5.1" fill="#00a0f5"/><rect x="797.1" y="246.2" width="4.6" height="5.1" fill="#0091f1"/><rect x="801.4" y="246.2" width="4.6" height="5.1" fill="#0088ee"/><rect x="805.8" y="246.2" width="4.6" height="5.1" fill="#0089ee"/><rect x="810.1" y="246.2" width="4.6" height="5.1" fill="#0095f2"/><rect x="814.4" y="246.2" width="4.6" height="5.1" fill="#008ef0"/><rect x="818.7" y="246.2" width="4.6" height="5.1" fill="#0075e7"/><rect x="823.0" y="246.2" width="4.6" height="5.1" fill="#006ce3"/><rect x="827.4" y="246.2" width="4.6" height="5.1" fill="#0077e8"/><rect x="831.7" y="246.2" width="8.9" height="5.1" fill="#007cea"/><rect x="840.4" y="246.2" width="4.6" height="5.1" fill="#0080ec"/><rect x="844.7" y="246.2" width="4.6" height="5.1" fill="#0089ee"/><rect x="849.0" y="246.2" width="4.6" height="5.1" fill="#0090f0"/><rect x="853.3" y="246.2" width="4.6" height="5.1" fill="#0095f2"/><rect x="857.6" y="246.2" width="4.6" height="5.1" fill="#00a0f5"/><rect x="862.0" y="246.2" width="4.6" height="5.1" fill="#00b0f3"/><rect x="866.3" y="246.2" width="4.6" height="5.1" fill="#00bef1"/><rect x="870.6" y="246.2" width="4.7" height="5.1" fill="#00c6e9"/><rect x="680.0" y="251.1" width="4.9" height="5.1" fill="#0042c4"/><rect x="684.6" y="251.1" width="4.6" height="5.1" fill="#0045c7"/><rect x="689.0" y="251.1" width="4.6" height="5.1" fill="#004acc"/><rect x="693.3" y="251.1" width="4.6" height="5.1" fill="#0046c8"/><rect x="697.6" y="251.1" width="4.6" height="5.1" fill="#0037b9"/><rect x="701.9" y="251.1" width="4.6" height="5.1" fill="#002eae"/><rect x="706.3" y="251.1" width="4.6" height="5.1" fill="#0029a8"/><rect x="710.6" y="251.1" width="4.6" height="5.1" fill="#002dae"/><rect x="714.9" y="251.1" width="4.6" height="5.1" fill="#003cbe"/><rect x="719.2" y="251.1" width="4.6" height="5.1" fill="#0049cb"/><rect x="723.6" y="251.1" width="4.6" height="5.1" fill="#0055d7"/><rect x="727.9" y="251.1" width="4.6" height="5.1" fill="#005cda"/><rect x="732.2" y="251.1" width="4.6" height="5.1" fill="#005ddb"/><rect x="736.5" y="251.1" width="4.6" height="5.1" fill="#0069e1"/><rect x="740.9" y="251.1" width="4.6" height="5.1" fill="#007fec"/><rect x="745.2" y="251.1" width="4.6" height="5.1" fill="#0099f3"/><rect x="749.5" y="251.1" width="4.6" height="5.1" fill="#00baf1"/><rect x="753.9" y="251.1" width="4.6" height="5.1" fill="#00c8e2"/><rect x="758.2" y="251.1" width="4.6" height="5.1" fill="#00cdd7"/><rect x="762.5" y="251.1" width="4.6" height="5.1" fill="#00cdd6"/><rect x="766.8" y="251.1" width="4.6" height="5.1" fill="#00c9df"/><rect x="771.1" y="251.1" width="4.6" height="5.1" fill="#00c3f0"/><rect x="775.5" y="251.1" width="4.6" height="5.1" fill="#00adf3"/><rect x="779.8" y="251.1" width="4.6" height="5.1" fill="#009ff5"/><rect x="784.1" y="251.1" width="4.6" height="5.1" fill="#0099f3"/><rect x="788.5" y="251.1" width="4.6" height="5.1" fill="#008ff0"/><rect x="792.8" y="251.1" width="4.6" height="5.1" fill="#0083ed"/><rect x="797.1" y="251.1" width="4.6" height="5.1" fill="#0078e9"/><rect x="801.4" y="251.1" width="4.6" height="5.1" fill="#006fe4"/><rect x="805.8" y="251.1" width="4.6" height="5.1" fill="#0070e4"/><rect x="810.1" y="251.1" width="4.6" height="5.1" fill="#007bea"/><rect x="814.4" y="251.1" width="4.6" height="5.1" fill="#0074e6"/><rect x="818.7" y="251.1" width="4.6" height="5.1" fill="#005bda"/><rect x="823.0" y="251.1" width="4.6" height="5.1" fill="#0057d8"/><rect x="827.4" y="251.1" width="4.6" height="5.1" fill="#0067e0"/><rect x="831.7" y="251.1" width="4.6" height="5.1" fill="#0072e5"/><rect x="836.0" y="251.1" width="4.6" height="5.1" fill="#0076e8"/><rect x="840.4" y="251.1" width="4.6" height="5.1" fill="#0078e8"/><rect x="844.7" y="251.1" width="9.0" height="5.1" fill="#0075e7"/><rect x="853.3" y="251.1" width="4.6" height="5.1" fill="#0078e8"/><rect x="857.6" y="251.1" width="4.6" height="5.1" fill="#0080ec"/><rect x="862.0" y="251.1" width="4.6" height="5.1" fill="#008ef0"/><rect x="866.3" y="251.1" width="4.6" height="5.1" fill="#009af3"/><rect x="870.6" y="251.1" width="4.7" height="5.1" fill="#00a3f5"/><rect x="680.0" y="255.9" width="4.9" height="5.1" fill="#0045c7"/><rect x="684.6" y="255.9" width="4.6" height="5.1" fill="#0043c5"/><rect x="689.0" y="255.9" width="4.6" height="5.1" fill="#003fc1"/><rect x="693.3" y="255.9" width="4.6" height="5.1" fill="#0039bb"/><rect x="697.6" y="255.9" width="4.6" height="5.1" fill="#002fb0"/><rect x="701.9" y="255.9" width="4.6" height="5.1" fill="#0029a8"/><rect x="706.3" y="255.9" width="4.6" height="5.1" fill="#0024a2"/><rect x="710.6" y="255.9" width="4.6" height="5.1" fill="#0027a5"/><rect x="714.9" y="255.9" width="4.6" height="5.1" fill="#0030b2"/><rect x="719.2" y="255.9" width="4.6" height="5.1" fill="#003abc"/><rect x="723.6" y="255.9" width="4.6" height="5.1" fill="#0044c6"/><rect x="727.9" y="255.9" width="4.6" height="5.1" fill="#004bcd"/><rect x="732.2" y="255.9" width="4.6" height="5.1" fill="#004fd1"/><rect x="736.5" y="255.9" width="4.6" height="5.1" fill="#0057d8"/><rect x="740.9" y="255.9" width="4.6" height="5.1" fill="#0065df"/><rect x="745.2" y="255.9" width="4.6" height="5.1" fill="#007bea"/><rect x="749.5" y="255.9" width="4.6" height="5.1" fill="#0096f2"/><rect x="753.9" y="255.9" width="4.6" height="5.1" fill="#00a8f4"/><rect x="758.2" y="255.9" width="4.6" height="5.1" fill="#00b4f2"/><rect x="762.5" y="255.9" width="4.6" height="5.1" fill="#00b2f2"/><rect x="766.8" y="255.9" width="4.6" height="5.1" fill="#00a4f4"/><rect x="771.1" y="255.9" width="4.6" height="5.1" fill="#008df0"/><rect x="775.5" y="255.9" width="4.6" height="5.1" fill="#006ce3"/><rect x="779.8" y="255.9" width="4.6" height="5.1" fill="#0055d7"/><rect x="784.1" y="255.9" width="4.6" height="5.1" fill="#0049cb"/><rect x="788.5" y="255.9" width="4.6" height="5.1" fill="#0044c6"/><rect x="792.8" y="255.9" width="4.6" height="5.1" fill="#0046c8"/><rect x="797.1" y="255.9" width="4.6" height="5.1" fill="#0047c9"/><rect x="801.4" y="255.9" width="4.6" height="5.1" fill="#0046c8"/><rect x="805.8" y="255.9" width="4.6" height="5.1" fill="#0048ca"/><rect x="810.1" y="255.9" width="4.6" height="5.1" fill="#004dcf"/><rect x="814.4" y="255.9" width="4.6" height="5.1" fill="#004bcd"/><rect x="818.7" y="255.9" width="4.6" height="5.1" fill="#0042c4"/><rect x="823.0" y="255.9" width="4.6" height="5.1" fill="#0045c7"/><rect x="827.4" y="255.9" width="4.6" height="5.1" fill="#0053d5"/><rect x="831.7" y="255.9" width="4.6" height="5.1" fill="#0062de"/><rect x="836.0" y="255.9" width="4.6" height="5.1" fill="#0071e5"/><rect x="840.4" y="255.9" width="4.6" height="5.1" fill="#0073e6"/><rect x="844.7" y="255.9" width="4.6" height="5.1" fill="#0068e0"/><rect x="849.0" y="255.9" width="4.6" height="5.1" fill="#0060dc"/><rect x="853.3" y="255.9" width="4.6" height="5.1" fill="#005bda"/><rect x="857.6" y="255.9" width="4.6" height="5.1" fill="#005ddb"/><rect x="862.0" y="255.9" width="4.6" height="5.1" fill="#0065df"/><rect x="866.3" y="255.9" width="4.6" height="5.1" fill="#006ee4"/><rect x="870.6" y="255.9" width="4.7" height="5.1" fill="#0078e8"/><rect x="680.0" y="260.7" width="4.9" height="4.6" fill="#0047c9"/><rect x="684.6" y="260.7" width="4.6" height="4.6" fill="#0043c5"/><rect x="689.0" y="260.7" width="4.6" height="4.6" fill="#003abc"/><rect x="693.3" y="260.7" width="4.6" height="4.6" fill="#0032b4"/><rect x="697.6" y="260.7" width="4.6" height="4.6" fill="#002cac"/><rect x="701.9" y="260.7" width="4.6" height="4.6" fill="#0027a5"/><rect x="706.3" y="260.7" width="4.6" height="4.6" fill="#00229f"/><rect x="710.6" y="260.7" width="4.6" height="4.6" fill="#0024a1"/><rect x="714.9" y="260.7" width="4.6" height="4.6" fill="#002bab"/><rect x="719.2" y="260.7" width="4.6" height="4.6" fill="#0033b5"/><rect x="723.6" y="260.7" width="4.6" height="4.6" fill="#003cbe"/><rect x="727.9" y="260.7" width="4.6" height="4.6" fill="#0043c5"/><rect x="732.2" y="260.7" width="4.6" height="4.6" fill="#0048ca"/><rect x="736.5" y="260.7" width="4.6" height="4.6" fill="#004fd1"/><rect x="740.9" y="260.7" width="4.6" height="4.6" fill="#0058d8"/><rect x="745.2" y="260.7" width="4.6" height="4.6" fill="#006ae2"/><rect x="749.5" y="260.7" width="4.6" height="4.6" fill="#0083ed"/><rect x="753.9" y="260.7" width="4.6" height="4.6" fill="#0095f2"/><rect x="758.2" y="260.7" width="4.6" height="4.6" fill="#00a1f5"/><rect x="762.5" y="260.7" width="4.6" height="4.6" fill="#009ef4"/><rect x="766.8" y="260.7" width="4.6" height="4.6" fill="#008df0"/><rect x="771.1" y="260.7" width="4.6" height="4.6" fill="#0071e5"/><rect x="775.5" y="260.7" width="4.6" height="4.6" fill="#004acc"/><rect x="779.8" y="260.7" width="4.6" height="4.6" fill="#0032b4"/><rect x="784.1" y="260.7" width="4.6" height="4.6" fill="#0026a4"/><rect x="788.5" y="260.7" width="4.6" height="4.6" fill="#0024a1"/><rect x="792.8" y="260.7" width="4.6" height="4.6" fill="#002bab"/><rect x="797.1" y="260.7" width="4.6" height="4.6" fill="#0030b2"/><rect x="801.4" y="260.7" width="4.6" height="4.6" fill="#0034b6"/><rect x="805.8" y="260.7" width="4.6" height="4.6" fill="#0036b8"/><rect x="810.1" y="260.7" width="8.9" height="4.6" fill="#0038ba"/><rect x="818.7" y="260.7" width="4.6" height="4.6" fill="#0036b8"/><rect x="823.0" y="260.7" width="4.6" height="4.6" fill="#003cbe"/><rect x="827.4" y="260.7" width="4.6" height="4.6" fill="#004acc"/><rect x="831.7" y="260.7" width="4.6" height="4.6" fill="#005bda"/><rect x="836.0" y="260.7" width="4.6" height="4.6" fill="#006fe4"/><rect x="840.4" y="260.7" width="4.6" height="4.6" fill="#0071e5"/><rect x="844.7" y="260.7" width="4.6" height="4.6" fill="#0061dd"/><rect x="849.0" y="260.7" width="4.6" height="4.6" fill="#0055d7"/><rect x="853.3" y="260.7" width="4.6" height="4.6" fill="#004ed0"/><rect x="857.6" y="260.7" width="4.6" height="4.6" fill="#004cce"/><rect x="862.0" y="260.7" width="4.6" height="4.6" fill="#0050d2"/><rect x="866.3" y="260.7" width="4.6" height="4.6" fill="#0056d8"/><rect x="870.6" y="260.7" width="4.7" height="4.6" fill="#0060dc"/></g><rect x="679" y="34" width="199" height="1"/><rect x="679" y="266" width="199" height="1"/><rect x="679" y="34" width="1" height="233"/><rect x="877" y="34" width="1" height="233"/><rect x="699" y="32" width="1" height="2"/><rect x="699" y="267" width="1" height="2"/><rect x="734" y="32" width="1" height="2"/><rect x="734" y="267" width="1" height="2"/><rect x="769" y="32" width="1" height="2"/><rect x="769" y="267" width="1" height="2"/><rect x="803" y="32" width="1" height="2"/><rect x="803" y="267" width="1" height="2"/><rect x="838" y="32" width="1" height="2"/><rect x="838" y="267" width="1" height="2"/><rect x="872" y="32" width="1" height="2"/><rect x="872" y="267" width="1" height="2"/><rect x="677" y="64" width="2" height="1"/><rect x="878" y="64" width="2" height="1"/><rect x="677" y="103" width="2" height="1"/><rect x="878" y="103" width="2" height="1"/><rect x="677" y="141" width="2" height="1"/><rect x="878" y="141" width="2" height="1"/><rect x="677" y="180" width="2" height="1"/><rect x="878" y="180" width="2" height="1"/><rect x="677" y="219" width="2" height="1"/><rect x="878" y="219" width="2" height="1"/><rect x="677" y="257" width="2" height="1"/><rect x="878" y="257" width="2" height="1"/><circle cx="778.5" cy="151" r="4.8" fill="none" stroke="#000" stroke-width="1.2" shape-rendering="crispEdges"/>
<g shape-rendering="crispEdges"><rect x="680.0" y="326.0" width="4.9" height="3.4" fill="#fcd200"/><rect x="684.6" y="326.0" width="4.6" height="3.4" fill="#fbdb00"/><rect x="689.0" y="326.0" width="4.6" height="3.4" fill="#f2eb00"/><rect x="693.3" y="326.0" width="4.6" height="3.4" fill="#e7f900"/><rect x="697.6" y="326.0" width="4.6" height="3.4" fill="#d2fc00"/><rect x="701.9" y="326.0" width="4.6" height="3.4" fill="#ccfd00"/><rect x="706.3" y="326.0" width="4.6" height="3.4" fill="#d7fc00"/><rect x="710.6" y="326.0" width="4.6" height="3.4" fill="#e8f700"/><rect x="714.9" y="326.0" width="4.6" height="3.4" fill="#f4e900"/><rect x="719.2" y="326.0" width="4.6" height="3.4" fill="#fbdd00"/><rect x="723.6" y="326.0" width="4.6" height="3.4" fill="#fcd600"/><rect x="727.9" y="326.0" width="4.6" height="3.4" fill="#fecc00"/><rect x="732.2" y="326.0" width="4.6" height="3.4" fill="#febf00"/><rect x="736.5" y="326.0" width="4.6" height="3.4" fill="#fbb400"/><rect x="740.9" y="326.0" width="8.9" height="3.4" fill="#f8ab00"/><rect x="749.5" y="326.0" width="4.6" height="3.4" fill="#fbb400"/><rect x="753.9" y="326.0" width="4.6" height="3.4" fill="#fec900"/><rect x="758.2" y="326.0" width="4.6" height="3.4" fill="#f6e600"/><rect x="762.5" y="326.0" width="4.6" height="3.4" fill="#dffb00"/><rect x="766.8" y="326.0" width="4.6" height="3.4" fill="#b5fe00"/><rect x="771.1" y="326.0" width="4.6" height="3.4" fill="#81f800"/><rect x="775.5" y="326.0" width="8.9" height="3.4" fill="#52ef00"/><rect x="784.1" y="326.0" width="4.6" height="3.4" fill="#81f800"/><rect x="788.5" y="326.0" width="4.6" height="3.4" fill="#a1fc00"/><rect x="792.8" y="326.0" width="4.6" height="3.4" fill="#baff00"/><rect x="797.1" y="326.0" width="8.9" height="3.4" fill="#c2fe00"/><rect x="805.8" y="326.0" width="4.6" height="3.4" fill="#c0fe00"/><rect x="810.1" y="326.0" width="4.6" height="3.4" fill="#bbff00"/><rect x="814.4" y="326.0" width="4.6" height="3.4" fill="#c2fe00"/><rect x="818.7" y="326.0" width="4.6" height="3.4" fill="#d4fc00"/><rect x="823.0" y="326.0" width="4.6" height="3.4" fill="#ebf400"/><rect x="827.4" y="326.0" width="4.6" height="3.4" fill="#fadf00"/><rect x="831.7" y="326.0" width="4.6" height="3.4" fill="#fdcd00"/><rect x="836.0" y="326.0" width="8.9" height="3.4" fill="#ffc200"/><rect x="844.7" y="326.0" width="4.6" height="3.4" fill="#fdcd00"/><rect x="849.0" y="326.0" width="4.6" height="3.4" fill="#fadf00"/><rect x="853.3" y="326.0" width="4.6" height="3.4" fill="#ebf400"/><rect x="857.6" y="326.0" width="4.6" height="3.4" fill="#c3fe00"/><rect x="862.0" y="326.0" width="4.6" height="3.4" fill="#74f600"/><rect x="866.3" y="326.0" width="4.6" height="3.4" fill="#31e800"/><rect x="870.6" y="326.0" width="4.7" height="3.4" fill="#27e600"/><rect x="680.0" y="329.1" width="4.9" height="5.1" fill="#fdd000"/><rect x="684.6" y="329.1" width="4.6" height="5.1" fill="#fbd800"/><rect x="689.0" y="329.1" width="4.6" height="5.1" fill="#f4e800"/><rect x="693.3" y="329.1" width="4.6" height="5.1" fill="#e9f600"/><rect x="697.6" y="329.1" width="4.6" height="5.1" fill="#d3fc00"/><rect x="701.9" y="329.1" width="4.6" height="5.1" fill="#cdfd00"/><rect x="706.3" y="329.1" width="4.6" height="5.1" fill="#dbfb00"/><rect x="710.6" y="329.1" width="4.6" height="5.1" fill="#eaf500"/><rect x="714.9" y="329.1" width="4.6" height="5.1" fill="#f5e700"/><rect x="719.2" y="329.1" width="4.6" height="5.1" fill="#fbdb00"/><rect x="723.6" y="329.1" width="4.6" height="5.1" fill="#fcd300"/><rect x="727.9" y="329.1" width="4.6" height="5.1" fill="#fec800"/><rect x="732.2" y="329.1" width="4.6" height="5.1" fill="#fdbb00"/><rect x="736.5" y="329.1" width="4.6" height="5.1" fill="#f9b000"/><rect x="740.9" y="329.1" width="4.6" height="5.1" fill="#f7a700"/><rect x="745.2" y="329.1" width="4.6" height="5.1" fill="#f7a800"/><rect x="749.5" y="329.1" width="4.6" height="5.1" fill="#fbb400"/><rect x="753.9" y="329.1" width="4.6" height="5.1" fill="#fecb00"/><rect x="758.2" y="329.1" width="4.6" height="5.1" fill="#f3ea00"/><rect x="762.5" y="329.1" width="4.6" height="5.1" fill="#d4fc00"/><rect x="766.8" y="329.1" width="4.6" height="5.1" fill="#9cfb00"/><rect x="771.1" y="329.1" width="4.6" height="5.1" fill="#65f300"/><rect x="775.5" y="329.1" width="8.9" height="5.1" fill="#38ea00"/><rect x="784.1" y="329.1" width="4.6" height="5.1" fill="#65f300"/><rect x="788.5" y="329.1" width="4.6" height="5.1" fill="#86f800"/><rect x="792.8" y="329.1" width="4.6" height="5.1" fill="#a3fc00"/><rect x="797.1" y="329.1" width="4.6" height="5.1" fill="#b5fe00"/><rect x="801.4" y="329.1" width="4.6" height="5.1" fill="#bbff00"/><rect x="805.8" y="329.1" width="4.6" height="5.1" fill="#bcff00"/><rect x="810.1" y="329.1" width="4.6" height="5.1" fill="#b8ff00"/><rect x="814.4" y="329.1" width="4.6" height="5.1" fill="#c0fe00"/><rect x="818.7" y="329.1" width="4.6" height="5.1" fill="#d3fc00"/><rect x="823.0" y="329.1" width="4.6" height="5.1" fill="#ebf400"/><rect x="827.4" y="329.1" width="4.6" height="5.1" fill="#fbdd00"/><rect x="831.7" y="329.1" width="4.6" height="5.1" fill="#fecb00"/><rect x="836.0" y="329.1" width="8.9" height="5.1" fill="#ffc300"/><rect x="844.7" y="329.1" width="4.6" height="5.1" fill="#fecc00"/><rect x="849.0" y="329.1" width="4.6" height="5.1" fill="#fbde00"/><rect x="853.3" y="329.1" width="4.6" height="5.1" fill="#eaf500"/><rect x="857.6" y="329.1" width="4.6" height="5.1" fill="#c2fe00"/><rect x="862.0" y="329.1" width="4.6" height="5.1" fill="#73f600"/><rect x="866.3" y="329.1" width="4.6" height="5.1" fill="#36e900"/><rect x="870.6" y="329.1" width="4.7" height="5.1" fill="#35e900"/><rect x="680.0" y="333.9" width="4.9" height="5.1" fill="#fecb00"/><rect x="684.6" y="333.9" width="4.6" height="5.1" fill="#fcd300"/><rect x="689.0" y="333.9" width="4.6" height="5.1" fill="#f9e300"/><rect x="693.3" y="333.9" width="4.6" height="5.1" fill="#edf200"/><rect x="697.6" y="333.9" width="4.6" height="5.1" fill="#d6fc00"/><rect x="701.9" y="333.9" width="4.6" height="5.1" fill="#d0fc00"/><rect x="706.3" y="333.9" width="4.6" height="5.1" fill="#e1fa00"/><rect x="710.6" y="333.9" width="4.6" height="5.1" fill="#edf100"/><rect x="714.9" y="333.9" width="4.6" height="5.1" fill="#f8e400"/><rect x="719.2" y="333.9" width="4.6" height="5.1" fill="#fcd700"/><rect x="723.6" y="333.9" width="4.6" height="5.1" fill="#fdcc00"/><rect x="727.9" y="333.9" width="4.6" height="5.1" fill="#fec000"/><rect x="732.2" y="333.9" width="4.6" height="5.1" fill="#fab200"/><rect x="736.5" y="333.9" width="4.6" height="5.1" fill="#f7a700"/><rect x="740.9" y="333.9" width="4.6" height="5.1" fill="#f49e00"/><rect x="745.2" y="333.9" width="4.6" height="5.1" fill="#f6a200"/><rect x="749.5" y="333.9" width="4.6" height="5.1" fill="#fab300"/><rect x="753.9" y="333.9" width="4.6" height="5.1" fill="#fdcf00"/><rect x="758.2" y="333.9" width="4.6" height="5.1" fill="#edf200"/><rect x="762.5" y="333.9" width="4.6" height="5.1" fill="#befe00"/><rect x="766.8" y="333.9" width="4.6" height="5.1" fill="#69f400"/><rect x="771.1" y="333.9" width="4.6" height="5.1" fill="#1ce400"/><rect x="775.5" y="333.9" width="8.9" height="5.1" fill="#02de00"/><rect x="784.1" y="333.9" width="4.6" height="5.1" fill="#1ce400"/><rect x="788.5" y="333.9" width="4.6" height="5.1" fill="#43ec00"/><rect x="792.8" y="333.9" width="4.6" height="5.1" fill="#73f600"/><rect x="797.1" y="333.9" width="4.6" height="5.1" fill="#90fa00"/><rect x="801.4" y="333.9" width="4.6" height="5.1" fill="#a6fc00"/><rect x="805.8" y="333.9" width="4.6" height="5.1" fill="#b1fe00"/><rect x="810.1" y="333.9" width="4.6" height="5.1" fill="#affe00"/><rect x="814.4" y="333.9" width="4.6" height="5.1" fill="#bdff00"/><rect x="818.7" y="333.9" width="4.6" height="5.1" fill="#d2fc00"/><rect x="823.0" y="333.9" width="4.6" height="5.1" fill="#ecf300"/><rect x="827.4" y="333.9" width="4.6" height="5.1" fill="#fbda00"/><rect x="831.7" y="333.9" width="4.6" height="5.1" fill="#fec900"/><rect x="836.0" y="333.9" width="4.6" height="5.1" fill="#ffc400"/><rect x="840.4" y="333.9" width="4.6" height="5.1" fill="#ffc500"/><rect x="844.7" y="333.9" width="4.6" height="5.1" fill="#feca00"/><rect x="849.0" y="333.9" width="4.6" height="5.1" fill="#fbdc00"/><rect x="853.3" y="333.9" width="4.6" height="5.1" fill="#eaf500"/><rect x="857.6" y="333.9" width="4.6" height="5.1" fill="#c1fe00"/><rect x="862.0" y="333.9" width="4.6" height="5.1" fill="#72f600"/><rect x="866.3" y="333.9" width="4.6" height="5.1" fill="#40eb00"/><rect x="870.6" y="333.9" width="4.7" height="5.1" fill="#52ef00"/><rect x="680.0" y="338.8" width="4.9" height="5.1" fill="#fec900"/><rect x="684.6" y="338.8" width="4.6" height="5.1" fill="#fdd100"/><rect x="689.0" y="338.8" width="4.6" height="5.1" fill="#fae100"/><rect x="693.3" y="338.8" width="4.6" height="5.1" fill="#efef00"/><rect x="697.6" y="338.8" width="4.6" height="5.1" fill="#dffb00"/><rect x="701.9" y="338.8" width="4.6" height="5.1" fill="#dbfb00"/><rect x="706.3" y="338.8" width="4.6" height="5.1" fill="#eaf500"/><rect x="710.6" y="338.8" width="4.6" height="5.1" fill="#f3ea00"/><rect x="714.9" y="338.8" width="4.6" height="5.1" fill="#fbde00"/><rect x="719.2" y="338.8" width="4.6" height="5.1" fill="#fdd100"/><rect x="723.6" y="338.8" width="4.6" height="5.1" fill="#fec600"/><rect x="727.9" y="338.8" width="4.6" height="5.1" fill="#fcba00"/><rect x="732.2" y="338.8" width="4.6" height="5.1" fill="#f9ae00"/><rect x="736.5" y="338.8" width="4.6" height="5.1" fill="#f6a400"/><rect x="740.9" y="338.8" width="4.6" height="5.1" fill="#f49c00"/><rect x="745.2" y="338.8" width="4.6" height="5.1" fill="#f5a200"/><rect x="749.5" y="338.8" width="4.6" height="5.1" fill="#fbb400"/><rect x="753.9" y="338.8" width="4.6" height="5.1" fill="#fdd100"/><rect x="758.2" y="338.8" width="4.6" height="5.1" fill="#ebf400"/><rect x="762.5" y="338.8" width="4.6" height="5.1" fill="#b9ff00"/><rect x="766.8" y="338.8" width="4.6" height="5.1" fill="#52ef00"/><rect x="771.1" y="338.8" width="4.6" height="5.1" fill="#04df00"/><rect x="775.5" y="338.8" width="4.6" height="5.1" fill="#00db06"/><rect x="779.8" y="338.8" width="4.6" height="5.1" fill="#00da08"/><rect x="784.1" y="338.8" width="4.6" height="5.1" fill="#00dc05"/><rect x="788.5" y="338.8" width="4.6" height="5.1" fill="#10e100"/><rect x="792.8" y="338.8" width="4.6" height="5.1" fill="#40eb00"/><rect x="797.1" y="338.8" width="4.6" height="5.1" fill="#6ff500"/><rect x="801.4" y="338.8" width="4.6" height="5.1" fill="#8ff900"/><rect x="805.8" y="338.8" width="4.6" height="5.1" fill="#a0fc00"/><rect x="810.1" y="338.8" width="4.6" height="5.1" fill="#a3fc00"/><rect x="814.4" y="338.8" width="4.6" height="5.1" fill="#b6ff00"/><rect x="818.7" y="338.8" width="4.6" height="5.1" fill="#ccfd00"/><rect x="823.0" y="338.8" width="4.6" height="5.1" fill="#e8f800"/><rect x="827.4" y="338.8" width="4.6" height="5.1" fill="#fae100"/><rect x="831.7" y="338.8" width="4.6" height="5.1" fill="#fdd100"/><rect x="836.0" y="338.8" width="4.6" height="5.1" fill="#feca00"/><rect x="840.4" y="338.8" width="4.6" height="5.1" fill="#fec900"/><rect x="844.7" y="338.8" width="4.6" height="5.1" fill="#fdce00"/><rect x="849.0" y="338.8" width="4.6" height="5.1" fill="#fade00"/><rect x="853.3" y="338.8" width="4.6" height="5.1" fill="#eaf500"/><rect x="857.6" y="338.8" width="4.6" height="5.1" fill="#c6fe00"/><rect x="862.0" y="338.8" width="4.6" height="5.1" fill="#88f800"/><rect x="866.3" y="338.8" width="4.6" height="5.1" fill="#6ef500"/><rect x="870.6" y="338.8" width="4.7" height="5.1" fill="#81f800"/><rect x="680.0" y="343.6" width="4.9" height="5.1" fill="#fec900"/><rect x="684.6" y="343.6" width="4.6" height="5.1" fill="#fcd200"/><rect x="689.0" y="343.6" width="4.6" height="5.1" fill="#f8e400"/><rect x="693.3" y="343.6" width="4.6" height="5.1" fill="#efef00"/><rect x="697.6" y="343.6" width="4.6" height="5.1" fill="#eaf500"/><rect x="701.9" y="343.6" width="4.6" height="5.1" fill="#ebf400"/><rect x="706.3" y="343.6" width="4.6" height="5.1" fill="#f2eb00"/><rect x="710.6" y="343.6" width="4.6" height="5.1" fill="#fae100"/><rect x="714.9" y="343.6" width="4.6" height="5.1" fill="#fcd400"/><rect x="719.2" y="343.6" width="4.6" height="5.1" fill="#fec900"/><rect x="723.6" y="343.6" width="4.6" height="5.1" fill="#fec000"/><rect x="727.9" y="343.6" width="4.6" height="5.1" fill="#fcb700"/><rect x="732.2" y="343.6" width="4.6" height="5.1" fill="#f9ae00"/><rect x="736.5" y="343.6" width="4.6" height="5.1" fill="#f7a700"/><rect x="740.9" y="343.6" width="4.6" height="5.1" fill="#f5a000"/><rect x="745.2" y="343.6" width="4.6" height="5.1" fill="#f7a600"/><rect x="749.5" y="343.6" width="4.6" height="5.1" fill="#fcb800"/><rect x="753.9" y="343.6" width="4.6" height="5.1" fill="#fdd200"/><rect x="758.2" y="343.6" width="4.6" height="5.1" fill="#eef000"/><rect x="762.5" y="343.6" width="4.6" height="5.1" fill="#c4fe00"/><rect x="766.8" y="343.6" width="4.6" height="5.1" fill="#6ef500"/><rect x="771.1" y="343.6" width="4.6" height="5.1" fill="#1de400"/><rect x="775.5" y="343.6" width="4.6" height="5.1" fill="#04df00"/><rect x="779.8" y="343.6" width="4.6" height="5.1" fill="#00dc05"/><rect x="784.1" y="343.6" width="4.6" height="5.1" fill="#00da08"/><rect x="788.5" y="343.6" width="4.6" height="5.1" fill="#00dc03"/><rect x="792.8" y="343.6" width="4.6" height="5.1" fill="#1be400"/><rect x="797.1" y="343.6" width="4.6" height="5.1" fill="#46ed00"/><rect x="801.4" y="343.6" width="4.6" height="5.1" fill="#76f600"/><rect x="805.8" y="343.6" width="4.6" height="5.1" fill="#8cf900"/><rect x="810.1" y="343.6" width="4.6" height="5.1" fill="#95fa00"/><rect x="814.4" y="343.6" width="4.6" height="5.1" fill="#a8fd00"/><rect x="818.7" y="343.6" width="4.6" height="5.1" fill="#c0fe00"/><rect x="823.0" y="343.6" width="4.6" height="5.1" fill="#d8fc00"/><rect x="827.4" y="343.6" width="4.6" height="5.1" fill="#edf100"/><rect x="831.7" y="343.6" width="4.6" height="5.1" fill="#f9e300"/><rect x="836.0" y="343.6" width="4.6" height="5.1" fill="#fcd400"/><rect x="840.4" y="343.6" width="4.6" height="5.1" fill="#fdd000"/><rect x="844.7" y="343.6" width="4.6" height="5.1" fill="#fcd800"/><rect x="849.0" y="343.6" width="4.6" height="5.1" fill="#f7e400"/><rect x="853.3" y="343.6" width="4.6" height="5.1" fill="#ebf400"/><rect x="857.6" y="343.6" width="4.6" height="5.1" fill="#d4fc00"/><rect x="862.0" y="343.6" width="4.6" height="5.1" fill="#b5fe00"/><rect x="866.3" y="343.6" width="4.6" height="5.1" fill="#a6fc00"/><rect x="870.6" y="343.6" width="4.7" height="5.1" fill="#b9ff00"/><rect x="680.0" y="348.5" width="4.9" height="5.1" fill="#fdcd00"/><rect x="684.6" y="348.5" width="4.6" height="5.1" fill="#fcd500"/><rect x="689.0" y="348.5" width="4.6" height="5.1" fill="#f8e300"/><rect x="693.3" y="348.5" width="4.6" height="5.1" fill="#f3ea00"/><rect x="697.6" y="348.5" width="4.6" height="5.1" fill="#f1ec00"/><rect x="701.9" y="348.5" width="4.6" height="5.1" fill="#f4e900"/><rect x="706.3" y="348.5" width="4.6" height="5.1" fill="#fae000"/><rect x="710.6" y="348.5" width="4.6" height="5.1" fill="#fcd600"/><rect x="714.9" y="348.5" width="4.6" height="5.1" fill="#fdcc00"/><rect x="719.2" y="348.5" width="4.6" height="5.1" fill="#ffc500"/><rect x="723.6" y="348.5" width="4.6" height="5.1" fill="#febe00"/><rect x="727.9" y="348.5" width="4.6" height="5.1" fill="#fcb700"/><rect x="732.2" y="348.5" width="4.6" height="5.1" fill="#fab000"/><rect x="736.5" y="348.5" width="4.6" height="5.1" fill="#f8ab00"/><rect x="740.9" y="348.5" width="4.6" height="5.1" fill="#f7a800"/><rect x="745.2" y="348.5" width="4.6" height="5.1" fill="#f9af00"/><rect x="749.5" y="348.5" width="4.6" height="5.1" fill="#febf00"/><rect x="753.9" y="348.5" width="4.6" height="5.1" fill="#fcd400"/><rect x="758.2" y="348.5" width="4.6" height="5.1" fill="#f0ed00"/><rect x="762.5" y="348.5" width="4.6" height="5.1" fill="#d1fc00"/><rect x="766.8" y="348.5" width="4.6" height="5.1" fill="#92fa00"/><rect x="771.1" y="348.5" width="4.6" height="5.1" fill="#55f000"/><rect x="775.5" y="348.5" width="4.6" height="5.1" fill="#2fe800"/><rect x="779.8" y="348.5" width="4.6" height="5.1" fill="#12e200"/><rect x="784.1" y="348.5" width="4.6" height="5.1" fill="#00de01"/><rect x="788.5" y="348.5" width="4.6" height="5.1" fill="#00de00"/><rect x="792.8" y="348.5" width="4.6" height="5.1" fill="#14e200"/><rect x="797.1" y="348.5" width="4.6" height="5.1" fill="#38ea00"/><rect x="801.4" y="348.5" width="4.6" height="5.1" fill="#6df500"/><rect x="805.8" y="348.5" width="4.6" height="5.1" fill="#84f800"/><rect x="810.1" y="348.5" width="4.6" height="5.1" fill="#8ef900"/><rect x="814.4" y="348.5" width="4.6" height="5.1" fill="#9cfb00"/><rect x="818.7" y="348.5" width="4.6" height="5.1" fill="#adfd00"/><rect x="823.0" y="348.5" width="4.6" height="5.1" fill="#c2fe00"/><rect x="827.4" y="348.5" width="4.6" height="5.1" fill="#d9fb00"/><rect x="831.7" y="348.5" width="4.6" height="5.1" fill="#ecf200"/><rect x="836.0" y="348.5" width="4.6" height="5.1" fill="#fae100"/><rect x="840.4" y="348.5" width="4.6" height="5.1" fill="#fbdb00"/><rect x="844.7" y="348.5" width="4.6" height="5.1" fill="#fae100"/><rect x="849.0" y="348.5" width="4.6" height="5.1" fill="#f3ea00"/><rect x="853.3" y="348.5" width="4.6" height="5.1" fill="#eaf500"/><rect x="857.6" y="348.5" width="4.6" height="5.1" fill="#dcfb00"/><rect x="862.0" y="348.5" width="4.6" height="5.1" fill="#c8fd00"/><rect x="866.3" y="348.5" width="4.6" height="5.1" fill="#c3fe00"/><rect x="870.6" y="348.5" width="4.7" height="5.1" fill="#cbfd00"/><rect x="680.0" y="353.3" width="4.9" height="5.1" fill="#fcd700"/><rect x="684.6" y="353.3" width="4.6" height="5.1" fill="#fbd900"/><rect x="689.0" y="353.3" width="4.6" height="5.1" fill="#fbde00"/><rect x="693.3" y="353.3" width="8.9" height="5.1" fill="#fae100"/><rect x="701.9" y="353.3" width="4.6" height="5.1" fill="#fbdd00"/><rect x="706.3" y="353.3" width="4.6" height="5.1" fill="#fcd400"/><rect x="710.6" y="353.3" width="4.6" height="5.1" fill="#fdcc00"/><rect x="714.9" y="353.3" width="4.6" height="5.1" fill="#fec700"/><rect x="719.2" y="353.3" width="4.6" height="5.1" fill="#ffc400"/><rect x="723.6" y="353.3" width="4.6" height="5.1" fill="#ffc100"/><rect x="727.9" y="353.3" width="4.6" height="5.1" fill="#fdbc00"/><rect x="732.2" y="353.3" width="4.6" height="5.1" fill="#fbb400"/><rect x="736.5" y="353.3" width="4.6" height="5.1" fill="#fab100"/><rect x="740.9" y="353.3" width="4.6" height="5.1" fill="#fbb400"/><rect x="745.2" y="353.3" width="4.6" height="5.1" fill="#fdbc00"/><rect x="749.5" y="353.3" width="4.6" height="5.1" fill="#fec800"/><rect x="753.9" y="353.3" width="4.6" height="5.1" fill="#fbd900"/><rect x="758.2" y="353.3" width="4.6" height="5.1" fill="#f2ec00"/><rect x="762.5" y="353.3" width="4.6" height="5.1" fill="#e1fb00"/><rect x="766.8" y="353.3" width="4.6" height="5.1" fill="#c2fe00"/><rect x="771.1" y="353.3" width="4.6" height="5.1" fill="#99fb00"/><rect x="775.5" y="353.3" width="4.6" height="5.1" fill="#70f500"/><rect x="779.8" y="353.3" width="4.6" height="5.1" fill="#46ed00"/><rect x="784.1" y="353.3" width="4.6" height="5.1" fill="#2de700"/><rect x="788.5" y="353.3" width="4.6" height="5.1" fill="#24e600"/><rect x="792.8" y="353.3" width="4.6" height="5.1" fill="#2be700"/><rect x="797.1" y="353.3" width="4.6" height="5.1" fill="#46ed00"/><rect x="801.4" y="353.3" width="4.6" height="5.1" fill="#73f600"/><rect x="805.8" y="353.3" width="4.6" height="5.1" fill="#87f800"/><rect x="810.1" y="353.3" width="4.6" height="5.1" fill="#8ff900"/><rect x="814.4" y="353.3" width="4.6" height="5.1" fill="#93fa00"/><rect x="818.7" y="353.3" width="4.6" height="5.1" fill="#91fa00"/><rect x="823.0" y="353.3" width="4.6" height="5.1" fill="#a0fc00"/><rect x="827.4" y="353.3" width="4.6" height="5.1" fill="#befe00"/><rect x="831.7" y="353.3" width="4.6" height="5.1" fill="#d8fc00"/><rect x="836.0" y="353.3" width="4.6" height="5.1" fill="#eef000"/><rect x="840.4" y="353.3" width="4.6" height="5.1" fill="#f5e800"/><rect x="844.7" y="353.3" width="4.6" height="5.1" fill="#f3e900"/><rect x="849.0" y="353.3" width="4.6" height="5.1" fill="#efee00"/><rect x="853.3" y="353.3" width="4.6" height="5.1" fill="#e9f600"/><rect x="857.6" y="353.3" width="4.6" height="5.1" fill="#dffb00"/><rect x="862.0" y="353.3" width="4.6" height="5.1" fill="#d1fc00"/><rect x="866.3" y="353.3" width="4.6" height="5.1" fill="#cbfd00"/><rect x="870.6" y="353.3" width="4.7" height="5.1" fill="#cefd00"/><rect x="680.0" y="358.1" width="13.6" height="5.1" fill="#fbdd00"/><rect x="693.3" y="358.1" width="4.6" height="5.1" fill="#fbdc00"/><rect x="697.6" y="358.1" width="4.6" height="5.1" fill="#fbdb00"/><rect x="701.9" y="358.1" width="4.6" height="5.1" fill="#fcd700"/><rect x="706.3" y="358.1" width="4.6" height="5.1" fill="#fdcf00"/><rect x="710.6" y="358.1" width="4.6" height="5.1" fill="#feca00"/><rect x="714.9" y="358.1" width="4.6" height="5.1" fill="#fec600"/><rect x="719.2" y="358.1" width="4.6" height="5.1" fill="#ffc600"/><rect x="723.6" y="358.1" width="4.6" height="5.1" fill="#fec800"/><rect x="727.9" y="358.1" width="4.6" height="5.1" fill="#ffc400"/><rect x="732.2" y="358.1" width="4.6" height="5.1" fill="#fcba00"/><rect x="736.5" y="358.1" width="4.6" height="5.1" fill="#fbb700"/><rect x="740.9" y="358.1" width="4.6" height="5.1" fill="#fdbb00"/><rect x="745.2" y="358.1" width="4.6" height="5.1" fill="#ffc600"/><rect x="749.5" y="358.1" width="4.6" height="5.1" fill="#fcd400"/><rect x="753.9" y="358.1" width="4.6" height="5.1" fill="#fae100"/><rect x="758.2" y="358.1" width="4.6" height="5.1" fill="#f2eb00"/><rect x="762.5" y="358.1" width="4.6" height="5.1" fill="#ecf200"/><rect x="766.8" y="358.1" width="4.6" height="5.1" fill="#e7f900"/><rect x="771.1" y="358.1" width="4.6" height="5.1" fill="#d5fc00"/><rect x="775.5" y="358.1" width="4.6" height="5.1" fill="#bbff00"/><rect x="779.8" y="358.1" width="4.6" height="5.1" fill="#96fa00"/><rect x="784.1" y="358.1" width="4.6" height="5.1" fill="#75f600"/><rect x="788.5" y="358.1" width="4.6" height="5.1" fill="#56f000"/><rect x="792.8" y="358.1" width="4.6" height="5.1" fill="#41ec00"/><rect x="797.1" y="358.1" width="4.6" height="5.1" fill="#4bee00"/><rect x="801.4" y="358.1" width="4.6" height="5.1" fill="#71f500"/><rect x="805.8" y="358.1" width="4.6" height="5.1" fill="#84f800"/><rect x="810.1" y="358.1" width="4.6" height="5.1" fill="#8ef900"/><rect x="814.4" y="358.1" width="4.6" height="5.1" fill="#91fa00"/><rect x="818.7" y="358.1" width="4.6" height="5.1" fill="#8bf900"/><rect x="823.0" y="358.1" width="4.6" height="5.1" fill="#94fa00"/><rect x="827.4" y="358.1" width="4.6" height="5.1" fill="#adfd00"/><rect x="831.7" y="358.1" width="4.6" height="5.1" fill="#c7fd00"/><rect x="836.0" y="358.1" width="4.6" height="5.1" fill="#e3fa00"/><rect x="840.4" y="358.1" width="4.6" height="5.1" fill="#ecf300"/><rect x="844.7" y="358.1" width="4.6" height="5.1" fill="#edf100"/><rect x="849.0" y="358.1" width="4.6" height="5.1" fill="#ebf300"/><rect x="853.3" y="358.1" width="4.6" height="5.1" fill="#e7f900"/><rect x="857.6" y="358.1" width="4.6" height="5.1" fill="#ddfb00"/><rect x="862.0" y="358.1" width="4.6" height="5.1" fill="#cffd00"/><rect x="866.3" y="358.1" width="4.6" height="5.1" fill="#c5fe00"/><rect x="870.6" y="358.1" width="4.7" height="5.1" fill="#bffe00"/><rect x="680.0" y="363.0" width="13.6" height="5.1" fill="#fadf00"/><rect x="693.3" y="363.0" width="4.6" height="5.1" fill="#fade00"/><rect x="697.6" y="363.0" width="4.6" height="5.1" fill="#fbdc00"/><rect x="701.9" y="363.0" width="4.6" height="5.1" fill="#fbd800"/><rect x="706.3" y="363.0" width="4.6" height="5.1" fill="#fcd300"/><rect x="710.6" y="363.0" width="4.6" height="5.1" fill="#fdce00"/><rect x="714.9" y="363.0" width="4.6" height="5.1" fill="#feca00"/><rect x="719.2" y="363.0" width="4.6" height="5.1" fill="#fecb00"/><rect x="723.6" y="363.0" width="4.6" height="5.1" fill="#fdd200"/><rect x="727.9" y="363.0" width="4.6" height="5.1" fill="#fdce00"/><rect x="732.2" y="363.0" width="4.6" height="5.1" fill="#fec100"/><rect x="736.5" y="363.0" width="4.6" height="5.1" fill="#fdbb00"/><rect x="740.9" y="363.0" width="4.6" height="5.1" fill="#febf00"/><rect x="745.2" y="363.0" width="4.6" height="5.1" fill="#fdcc00"/><rect x="749.5" y="363.0" width="4.6" height="5.1" fill="#f9e200"/><rect x="753.9" y="363.0" width="4.6" height="5.1" fill="#f2eb00"/><rect x="758.2" y="363.0" width="4.6" height="5.1" fill="#f3ea00"/><rect x="762.5" y="363.0" width="4.6" height="5.1" fill="#f6e600"/><rect x="766.8" y="363.0" width="4.6" height="5.1" fill="#fadf00"/><rect x="771.1" y="363.0" width="4.6" height="5.1" fill="#f9e200"/><rect x="775.5" y="363.0" width="4.6" height="5.1" fill="#f0ee00"/><rect x="779.8" y="363.0" width="4.6" height="5.1" fill="#dffb00"/><rect x="784.1" y="363.0" width="4.6" height="5.1" fill="#baff00"/><rect x="788.5" y="363.0" width="4.6" height="5.1" fill="#88f800"/><rect x="792.8" y="363.0" width="4.6" height="5.1" fill="#56f000"/><rect x="797.1" y="363.0" width="4.6" height="5.1" fill="#47ed00"/><rect x="801.4" y="363.0" width="4.6" height="5.1" fill="#66f300"/><rect x="805.8" y="363.0" width="4.6" height="5.1" fill="#7cf700"/><rect x="810.1" y="363.0" width="4.6" height="5.1" fill="#8cf900"/><rect x="814.4" y="363.0" width="4.6" height="5.1" fill="#96fa00"/><rect x="818.7" y="363.0" width="4.6" height="5.1" fill="#9cfb00"/><rect x="823.0" y="363.0" width="4.6" height="5.1" fill="#a5fc00"/><rect x="827.4" y="363.0" width="4.6" height="5.1" fill="#b2fe00"/><rect x="831.7" y="363.0" width="4.6" height="5.1" fill="#c1fe00"/><rect x="836.0" y="363.0" width="4.6" height="5.1" fill="#d2fc00"/><rect x="840.4" y="363.0" width="4.6" height="5.1" fill="#dffb00"/><rect x="844.7" y="363.0" width="9.0" height="5.1" fill="#e7f900"/><rect x="853.3" y="363.0" width="4.6" height="5.1" fill="#e2fa00"/><rect x="857.6" y="363.0" width="4.6" height="5.1" fill="#d5fc00"/><rect x="862.0" y="363.0" width="4.6" height="5.1" fill="#c2fe00"/><rect x="866.3" y="363.0" width="4.6" height="5.1" fill="#a9fd00"/><rect x="870.6" y="363.0" width="4.7" height="5.1" fill="#8df900"/><rect x="680.0" y="367.8" width="4.9" height="5.1" fill="#f8e400"/><rect x="684.6" y="367.8" width="4.6" height="5.1" fill="#f6e600"/><rect x="689.0" y="367.8" width="4.6" height="5.1" fill="#f2eb00"/><rect x="693.3" y="367.8" width="4.6" height="5.1" fill="#f0ee00"/><rect x="697.6" y="367.8" width="4.6" height="5.1" fill="#eeef00"/><rect x="701.9" y="367.8" width="4.6" height="5.1" fill="#f0ee00"/><rect x="706.3" y="367.8" width="4.6" height="5.1" fill="#f3e900"/><rect x="710.6" y="367.8" width="4.6" height="5.1" fill="#f8e400"/><rect x="714.9" y="367.8" width="4.6" height="5.1" fill="#fbdb00"/><rect x="719.2" y="367.8" width="4.6" height="5.1" fill="#fbd900"/><rect x="723.6" y="367.8" width="4.6" height="5.1" fill="#fadf00"/><rect x="727.9" y="367.8" width="4.6" height="5.1" fill="#fbd900"/><rect x="732.2" y="367.8" width="4.6" height="5.1" fill="#fec700"/><rect x="736.5" y="367.8" width="4.6" height="5.1" fill="#fec000"/><rect x="740.9" y="367.8" width="4.6" height="5.1" fill="#ffc500"/><rect x="745.2" y="367.8" width="4.6" height="5.1" fill="#fcd400"/><rect x="749.5" y="367.8" width="4.6" height="5.1" fill="#f0ed00"/><rect x="753.9" y="367.8" width="4.6" height="5.1" fill="#eaf500"/><rect x="758.2" y="367.8" width="4.6" height="5.1" fill="#efee00"/><rect x="762.5" y="367.8" width="4.6" height="5.1" fill="#f8e300"/><rect x="766.8" y="367.8" width="4.6" height="5.1" fill="#fdd100"/><rect x="771.1" y="367.8" width="4.6" height="5.1" fill="#fdcd00"/><rect x="775.5" y="367.8" width="4.6" height="5.1" fill="#fcd800"/><rect x="779.8" y="367.8" width="4.6" height="5.1" fill="#f3ea00"/><rect x="784.1" y="367.8" width="4.6" height="5.1" fill="#d9fb00"/><rect x="788.5" y="367.8" width="4.6" height="5.1" fill="#adfd00"/><rect x="792.8" y="367.8" width="4.6" height="5.1" fill="#70f500"/><rect x="797.1" y="367.8" width="4.6" height="5.1" fill="#4cee00"/><rect x="801.4" y="367.8" width="4.6" height="5.1" fill="#59f100"/><rect x="805.8" y="367.8" width="4.6" height="5.1" fill="#6ff500"/><rect x="810.1" y="367.8" width="4.6" height="5.1" fill="#85f800"/><rect x="814.4" y="367.8" width="4.6" height="5.1" fill="#96fa00"/><rect x="818.7" y="367.8" width="4.6" height="5.1" fill="#a3fc00"/><rect x="823.0" y="367.8" width="4.6" height="5.1" fill="#aefe00"/><rect x="827.4" y="367.8" width="4.6" height="5.1" fill="#b5fe00"/><rect x="831.7" y="367.8" width="4.6" height="5.1" fill="#bffe00"/><rect x="836.0" y="367.8" width="4.6" height="5.1" fill="#cafd00"/><rect x="840.4" y="367.8" width="4.6" height="5.1" fill="#d5fc00"/><rect x="844.7" y="367.8" width="4.6" height="5.1" fill="#e0fb00"/><rect x="849.0" y="367.8" width="4.6" height="5.1" fill="#e2fa00"/><rect x="853.3" y="367.8" width="4.6" height="5.1" fill="#dbfb00"/><rect x="857.6" y="367.8" width="4.6" height="5.1" fill="#cafd00"/><rect x="862.0" y="367.8" width="4.6" height="5.1" fill="#a8fd00"/><rect x="866.3" y="367.8" width="4.6" height="5.1" fill="#80f700"/><rect x="870.6" y="367.8" width="4.7" height="5.1" fill="#54f000"/><rect x="680.0" y="372.7" width="4.9" height="5.1" fill="#f2ea00"/><rect x="684.6" y="372.7" width="4.6" height="5.1" fill="#edf100"/><rect x="689.0" y="372.7" width="4.6" height="5.1" fill="#dcfb00"/><rect x="693.3" y="372.7" width="4.6" height="5.1" fill="#c8fd00"/><rect x="697.6" y="372.7" width="4.6" height="5.1" fill="#b7ff00"/><rect x="701.9" y="372.7" width="4.6" height="5.1" fill="#b2fe00"/><rect x="706.3" y="372.7" width="4.6" height="5.1" fill="#bffe00"/><rect x="710.6" y="372.7" width="4.6" height="5.1" fill="#d2fc00"/><rect x="714.9" y="372.7" width="4.6" height="5.1" fill="#e9f600"/><rect x="719.2" y="372.7" width="4.6" height="5.1" fill="#efee00"/><rect x="723.6" y="372.7" width="4.6" height="5.1" fill="#f0ed00"/><rect x="727.9" y="372.7" width="4.6" height="5.1" fill="#f8e300"/><rect x="732.2" y="372.7" width="4.6" height="5.1" fill="#fdcd00"/><rect x="736.5" y="372.7" width="4.6" height="5.1" fill="#ffc500"/><rect x="740.9" y="372.7" width="4.6" height="5.1" fill="#fecb00"/><rect x="745.2" y="372.7" width="4.6" height="5.1" fill="#fbde00"/><rect x="749.5" y="372.7" width="4.6" height="5.1" fill="#e7f800"/><rect x="753.9" y="372.7" width="4.6" height="5.1" fill="#d9fb00"/><rect x="758.2" y="372.7" width="4.6" height="5.1" fill="#e7f900"/><rect x="762.5" y="372.7" width="4.6" height="5.1" fill="#f3ea00"/><rect x="766.8" y="372.7" width="4.6" height="5.1" fill="#fdd200"/><rect x="771.1" y="372.7" width="4.6" height="5.1" fill="#fec900"/><rect x="775.5" y="372.7" width="4.6" height="5.1" fill="#fdd100"/><rect x="779.8" y="372.7" width="4.6" height="5.1" fill="#f9e200"/><rect x="784.1" y="372.7" width="4.6" height="5.1" fill="#e9f600"/><rect x="788.5" y="372.7" width="4.6" height="5.1" fill="#c6fe00"/><rect x="792.8" y="372.7" width="4.6" height="5.1" fill="#88f800"/><rect x="797.1" y="372.7" width="4.6" height="5.1" fill="#59f100"/><rect x="801.4" y="372.7" width="4.6" height="5.1" fill="#4cee00"/><rect x="805.8" y="372.7" width="4.6" height="5.1" fill="#59f100"/><rect x="810.1" y="372.7" width="4.6" height="5.1" fill="#7bf700"/><rect x="814.4" y="372.7" width="4.6" height="5.1" fill="#91fa00"/><rect x="818.7" y="372.7" width="4.6" height="5.1" fill="#a2fc00"/><rect x="823.0" y="372.7" width="4.6" height="5.1" fill="#aefe00"/><rect x="827.4" y="372.7" width="4.6" height="5.1" fill="#b5fe00"/><rect x="831.7" y="372.7" width="4.6" height="5.1" fill="#bffe00"/><rect x="836.0" y="372.7" width="4.6" height="5.1" fill="#cafd00"/><rect x="840.4" y="372.7" width="4.6" height="5.1" fill="#d5fc00"/><rect x="844.7" y="372.7" width="9.0" height="5.1" fill="#e0fb00"/><rect x="853.3" y="372.7" width="4.6" height="5.1" fill="#d3fc00"/><rect x="857.6" y="372.7" width="4.6" height="5.1" fill="#baff00"/><rect x="862.0" y="372.7" width="4.6" height="5.1" fill="#7ff700"/><rect x="866.3" y="372.7" width="4.6" height="5.1" fill="#43ec00"/><rect x="870.6" y="372.7" width="4.7" height="5.1" fill="#15e200"/><rect x="680.0" y="377.5" width="4.9" height="5.1" fill="#e8f700"/><rect x="684.6" y="377.5" width="4.6" height="5.1" fill="#dafb00"/><rect x="689.0" y="377.5" width="4.6" height="5.1" fill="#b6ff00"/><rect x="693.3" y="377.5" width="4.6" height="5.1" fill="#89f900"/><rect x="697.6" y="377.5" width="4.6" height="5.1" fill="#65f300"/><rect x="701.9" y="377.5" width="4.6" height="5.1" fill="#54f000"/><rect x="706.3" y="377.5" width="4.6" height="5.1" fill="#62f200"/><rect x="710.6" y="377.5" width="4.6" height="5.1" fill="#81f800"/><rect x="714.9" y="377.5" width="4.6" height="5.1" fill="#affe00"/><rect x="719.2" y="377.5" width="4.6" height="5.1" fill="#c6fe00"/><rect x="723.6" y="377.5" width="4.6" height="5.1" fill="#cffd00"/><rect x="727.9" y="377.5" width="4.6" height="5.1" fill="#e6fa00"/><rect x="732.2" y="377.5" width="4.6" height="5.1" fill="#f6e600"/><rect x="736.5" y="377.5" width="4.6" height="5.1" fill="#fbdc00"/><rect x="740.9" y="377.5" width="4.6" height="5.1" fill="#fadf00"/><rect x="745.2" y="377.5" width="4.6" height="5.1" fill="#f1ec00"/><rect x="749.5" y="377.5" width="4.6" height="5.1" fill="#d7fc00"/><rect x="753.9" y="377.5" width="4.6" height="5.1" fill="#c6fe00"/><rect x="758.2" y="377.5" width="4.6" height="5.1" fill="#ccfd00"/><rect x="762.5" y="377.5" width="4.6" height="5.1" fill="#e7f800"/><rect x="766.8" y="377.5" width="4.6" height="5.1" fill="#fbdb00"/><rect x="771.1" y="377.5" width="4.6" height="5.1" fill="#fdcc00"/><rect x="775.5" y="377.5" width="4.6" height="5.1" fill="#fdd000"/><rect x="779.8" y="377.5" width="4.6" height="5.1" fill="#fbde00"/><rect x="784.1" y="377.5" width="4.6" height="5.1" fill="#ecf200"/><rect x="788.5" y="377.5" width="4.6" height="5.1" fill="#ccfd00"/><rect x="792.8" y="377.5" width="4.6" height="5.1" fill="#8ff900"/><rect x="797.1" y="377.5" width="4.6" height="5.1" fill="#59f100"/><rect x="801.4" y="377.5" width="4.6" height="5.1" fill="#39ea00"/><rect x="805.8" y="377.5" width="4.6" height="5.1" fill="#41ec00"/><rect x="810.1" y="377.5" width="4.6" height="5.1" fill="#6ff500"/><rect x="814.4" y="377.5" width="4.6" height="5.1" fill="#8cf900"/><rect x="818.7" y="377.5" width="4.6" height="5.1" fill="#a6fd00"/><rect x="823.0" y="377.5" width="4.6" height="5.1" fill="#b9ff00"/><rect x="827.4" y="377.5" width="4.6" height="5.1" fill="#c1fe00"/><rect x="831.7" y="377.5" width="4.6" height="5.1" fill="#cdfd00"/><rect x="836.0" y="377.5" width="4.6" height="5.1" fill="#defb00"/><rect x="840.4" y="377.5" width="4.6" height="5.1" fill="#e8f700"/><rect x="844.7" y="377.5" width="4.6" height="5.1" fill="#ecf200"/><rect x="849.0" y="377.5" width="4.6" height="5.1" fill="#ebf400"/><rect x="853.3" y="377.5" width="4.6" height="5.1" fill="#e2fa00"/><rect x="857.6" y="377.5" width="4.6" height="5.1" fill="#c2fe00"/><rect x="862.0" y="377.5" width="4.6" height="5.1" fill="#79f600"/><rect x="866.3" y="377.5" width="4.6" height="5.1" fill="#2be700"/><rect x="870.6" y="377.5" width="4.7" height="5.1" fill="#00dc03"/><rect x="680.0" y="382.3" width="4.9" height="5.1" fill="#cafd00"/><rect x="684.6" y="382.3" width="4.6" height="5.1" fill="#b6ff00"/><rect x="689.0" y="382.3" width="4.6" height="5.1" fill="#78f600"/><rect x="693.3" y="382.3" width="4.6" height="5.1" fill="#3feb00"/><rect x="697.6" y="382.3" width="4.6" height="5.1" fill="#1ce400"/><rect x="701.9" y="382.3" width="4.6" height="5.1" fill="#04df00"/><rect x="706.3" y="382.3" width="4.6" height="5.1" fill="#00dc04"/><rect x="710.6" y="382.3" width="4.6" height="5.1" fill="#02de00"/><rect x="714.9" y="382.3" width="4.6" height="5.1" fill="#27e600"/><rect x="719.2" y="382.3" width="4.6" height="5.1" fill="#4cee00"/><rect x="723.6" y="382.3" width="4.6" height="5.1" fill="#70f500"/><rect x="727.9" y="382.3" width="4.6" height="5.1" fill="#97fa00"/><rect x="732.2" y="382.3" width="4.6" height="5.1" fill="#c4fe00"/><rect x="736.5" y="382.3" width="4.6" height="5.1" fill="#d9fc00"/><rect x="740.9" y="382.3" width="4.6" height="5.1" fill="#e2fa00"/><rect x="745.2" y="382.3" width="4.6" height="5.1" fill="#dcfb00"/><rect x="749.5" y="382.3" width="4.6" height="5.1" fill="#c7fd00"/><rect x="753.9" y="382.3" width="4.6" height="5.1" fill="#b4fe00"/><rect x="758.2" y="382.3" width="4.6" height="5.1" fill="#9efb00"/><rect x="762.5" y="382.3" width="4.6" height="5.1" fill="#c1fe00"/><rect x="766.8" y="382.3" width="4.6" height="5.1" fill="#f1ec00"/><rect x="771.1" y="382.3" width="4.6" height="5.1" fill="#fcd800"/><rect x="775.5" y="382.3" width="4.6" height="5.1" fill="#fcd400"/><rect x="779.8" y="382.3" width="4.6" height="5.1" fill="#fadf00"/><rect x="784.1" y="382.3" width="4.6" height="5.1" fill="#eaf500"/><rect x="788.5" y="382.3" width="4.6" height="5.1" fill="#c6fe00"/><rect x="792.8" y="382.3" width="4.6" height="5.1" fill="#87f800"/><rect x="797.1" y="382.3" width="4.6" height="5.1" fill="#4aed00"/><rect x="801.4" y="382.3" width="4.6" height="5.1" fill="#22e500"/><rect x="805.8" y="382.3" width="4.6" height="5.1" fill="#28e600"/><rect x="810.1" y="382.3" width="4.6" height="5.1" fill="#5cf100"/><rect x="814.4" y="382.3" width="4.6" height="5.1" fill="#88f800"/><rect x="818.7" y="382.3" width="4.6" height="5.1" fill="#b2fe00"/><rect x="823.0" y="382.3" width="4.6" height="5.1" fill="#c7fd00"/><rect x="827.4" y="382.3" width="4.6" height="5.1" fill="#d4fc00"/><rect x="831.7" y="382.3" width="4.6" height="5.1" fill="#e7f800"/><rect x="836.0" y="382.3" width="4.6" height="5.1" fill="#f4e900"/><rect x="840.4" y="382.3" width="4.6" height="5.1" fill="#fadf00"/><rect x="844.7" y="382.3" width="4.6" height="5.1" fill="#fbdb00"/><rect x="849.0" y="382.3" width="4.6" height="5.1" fill="#fade00"/><rect x="853.3" y="382.3" width="4.6" height="5.1" fill="#f5e700"/><rect x="857.6" y="382.3" width="4.6" height="5.1" fill="#e2fa00"/><rect x="862.0" y="382.3" width="4.6" height="5.1" fill="#97fa00"/><rect x="866.3" y="382.3" width="4.6" height="5.1" fill="#40eb00"/><rect x="870.6" y="382.3" width="4.7" height="5.1" fill="#00de00"/><rect x="680.0" y="387.2" width="4.9" height="5.1" fill="#b0fe00"/><rect x="684.6" y="387.2" width="4.6" height="5.1" fill="#8ff900"/><rect x="689.0" y="387.2" width="4.6" height="5.1" fill="#40eb00"/><rect x="693.3" y="387.2" width="4.6" height="5.1" fill="#00de00"/><rect x="697.6" y="387.2" width="4.6" height="5.1" fill="#00d70e"/><rect x="701.9" y="387.2" width="4.6" height="5.1" fill="#00d11c"/><rect x="706.3" y="387.2" width="8.9" height="5.1" fill="#00ca28"/><rect x="714.9" y="387.2" width="4.6" height="5.1" fill="#00d01d"/><rect x="719.2" y="387.2" width="4.6" height="5.1" fill="#00d70f"/><rect x="723.6" y="387.2" width="4.6" height="5.1" fill="#06df00"/><rect x="727.9" y="387.2" width="4.6" height="5.1" fill="#3aea00"/><rect x="732.2" y="387.2" width="4.6" height="5.1" fill="#74f600"/><rect x="736.5" y="387.2" width="4.6" height="5.1" fill="#94fa00"/><rect x="740.9" y="387.2" width="4.6" height="5.1" fill="#adfd00"/><rect x="745.2" y="387.2" width="4.6" height="5.1" fill="#b1fe00"/><rect x="749.5" y="387.2" width="4.6" height="5.1" fill="#a0fc00"/><rect x="753.9" y="387.2" width="4.6" height="5.1" fill="#88f800"/><rect x="758.2" y="387.2" width="4.6" height="5.1" fill="#68f400"/><rect x="762.5" y="387.2" width="4.6" height="5.1" fill="#94fa00"/><rect x="766.8" y="387.2" width="4.6" height="5.1" fill="#e6fa00"/><rect x="771.1" y="387.2" width="4.6" height="5.1" fill="#f8e400"/><rect x="775.5" y="387.2" width="4.6" height="5.1" fill="#fbdc00"/><rect x="779.8" y="387.2" width="4.6" height="5.1" fill="#f8e400"/><rect x="784.1" y="387.2" width="4.6" height="5.1" fill="#e5fa00"/><rect x="788.5" y="387.2" width="4.6" height="5.1" fill="#baff00"/><rect x="792.8" y="387.2" width="4.6" height="5.1" fill="#71f500"/><rect x="797.1" y="387.2" width="4.6" height="5.1" fill="#2ae700"/><rect x="801.4" y="387.2" width="4.6" height="5.1" fill="#05df00"/><rect x="805.8" y="387.2" width="4.6" height="5.1" fill="#11e200"/><rect x="810.1" y="387.2" width="4.6" height="5.1" fill="#4fef00"/><rect x="814.4" y="387.2" width="4.6" height="5.1" fill="#89f900"/><rect x="818.7" y="387.2" width="4.6" height="5.1" fill="#bcff00"/><rect x="823.0" y="387.2" width="4.6" height="5.1" fill="#d5fc00"/><rect x="827.4" y="387.2" width="4.6" height="5.1" fill="#e7f900"/><rect x="831.7" y="387.2" width="4.6" height="5.1" fill="#f2eb00"/><rect x="836.0" y="387.2" width="4.6" height="5.1" fill="#fbd900"/><rect x="840.4" y="387.2" width="4.6" height="5.1" fill="#fdcd00"/><rect x="844.7" y="387.2" width="4.6" height="5.1" fill="#feca00"/><rect x="849.0" y="387.2" width="4.6" height="5.1" fill="#fdce00"/><rect x="853.3" y="387.2" width="4.6" height="5.1" fill="#fbda00"/><rect x="857.6" y="387.2" width="4.6" height="5.1" fill="#ecf300"/><rect x="862.0" y="387.2" width="4.6" height="5.1" fill="#a7fd00"/><rect x="866.3" y="387.2" width="4.6" height="5.1" fill="#4aee00"/><rect x="870.6" y="387.2" width="4.7" height="5.1" fill="#03df00"/><rect x="680.0" y="392.0" width="4.9" height="5.1" fill="#9dfb00"/><rect x="684.6" y="392.0" width="4.6" height="5.1" fill="#7cf700"/><rect x="689.0" y="392.0" width="4.6" height="5.1" fill="#20e500"/><rect x="693.3" y="392.0" width="4.6" height="5.1" fill="#00d611"/><rect x="697.6" y="392.0" width="4.6" height="5.1" fill="#00cc24"/><rect x="701.9" y="392.0" width="4.6" height="5.1" fill="#00c636"/><rect x="706.3" y="392.0" width="4.6" height="5.1" fill="#00c447"/><rect x="710.6" y="392.0" width="4.6" height="5.1" fill="#00c446"/><rect x="714.9" y="392.0" width="4.6" height="5.1" fill="#00c735"/><rect x="719.2" y="392.0" width="4.6" height="5.1" fill="#00cd24"/><rect x="723.6" y="392.0" width="4.6" height="5.1" fill="#00d513"/><rect x="727.9" y="392.0" width="4.6" height="5.1" fill="#00dc03"/><rect x="732.2" y="392.0" width="4.6" height="5.1" fill="#1ee400"/><rect x="736.5" y="392.0" width="4.6" height="5.1" fill="#41ec00"/><rect x="740.9" y="392.0" width="4.6" height="5.1" fill="#5ff200"/><rect x="745.2" y="392.0" width="4.6" height="5.1" fill="#64f300"/><rect x="749.5" y="392.0" width="4.6" height="5.1" fill="#51ef00"/><rect x="753.9" y="392.0" width="4.6" height="5.1" fill="#3deb00"/><rect x="758.2" y="392.0" width="4.6" height="5.1" fill="#26e600"/><rect x="762.5" y="392.0" width="4.6" height="5.1" fill="#6ef500"/><rect x="766.8" y="392.0" width="4.6" height="5.1" fill="#d0fc00"/><rect x="771.1" y="392.0" width="4.6" height="5.1" fill="#efef00"/><rect x="775.5" y="392.0" width="4.6" height="5.1" fill="#f6e600"/><rect x="779.8" y="392.0" width="4.6" height="5.1" fill="#f1ed00"/><rect x="784.1" y="392.0" width="4.6" height="5.1" fill="#d5fc00"/><rect x="788.5" y="392.0" width="4.6" height="5.1" fill="#9efb00"/><rect x="792.8" y="392.0" width="4.6" height="5.1" fill="#40eb00"/><rect x="797.1" y="392.0" width="4.6" height="5.1" fill="#00dd03"/><rect x="801.4" y="392.0" width="4.6" height="5.1" fill="#00d80c"/><rect x="805.8" y="392.0" width="4.6" height="5.1" fill="#00dd01"/><rect x="810.1" y="392.0" width="4.6" height="5.1" fill="#48ed00"/><rect x="814.4" y="392.0" width="4.6" height="5.1" fill="#8df900"/><rect x="818.7" y="392.0" width="4.6" height="5.1" fill="#c5fe00"/><rect x="823.0" y="392.0" width="4.6" height="5.1" fill="#e3fa00"/><rect x="827.4" y="392.0" width="4.6" height="5.1" fill="#f0ee00"/><rect x="831.7" y="392.0" width="4.6" height="5.1" fill="#fae000"/><rect x="836.0" y="392.0" width="4.6" height="5.1" fill="#fdcf00"/><rect x="840.4" y="392.0" width="4.6" height="5.1" fill="#ffc500"/><rect x="844.7" y="392.0" width="4.6" height="5.1" fill="#ffc200"/><rect x="849.0" y="392.0" width="4.6" height="5.1" fill="#fec800"/><rect x="853.3" y="392.0" width="4.6" height="5.1" fill="#fcd600"/><rect x="857.6" y="392.0" width="4.6" height="5.1" fill="#edf100"/><rect x="862.0" y="392.0" width="4.6" height="5.1" fill="#a9fd00"/><rect x="866.3" y="392.0" width="4.6" height="5.1" fill="#4aee00"/><rect x="870.6" y="392.0" width="4.7" height="5.1" fill="#03df00"/><rect x="680.0" y="396.9" width="4.9" height="5.1" fill="#90fa00"/><rect x="684.6" y="396.9" width="4.6" height="5.1" fill="#6ff500"/><rect x="689.0" y="396.9" width="4.6" height="5.1" fill="#0fe100"/><rect x="693.3" y="396.9" width="4.6" height="5.1" fill="#00d218"/><rect x="697.6" y="396.9" width="4.6" height="5.1" fill="#00c82d"/><rect x="701.9" y="396.9" width="4.6" height="5.1" fill="#00c53e"/><rect x="706.3" y="396.9" width="4.6" height="5.1" fill="#00c449"/><rect x="710.6" y="396.9" width="4.6" height="5.1" fill="#00c446"/><rect x="714.9" y="396.9" width="4.6" height="5.1" fill="#00c735"/><rect x="719.2" y="396.9" width="4.6" height="5.1" fill="#00cb27"/><rect x="723.6" y="396.9" width="4.6" height="5.1" fill="#00d01c"/><rect x="727.9" y="396.9" width="4.6" height="5.1" fill="#00d414"/><rect x="732.2" y="396.9" width="4.6" height="5.1" fill="#00d70e"/><rect x="736.5" y="396.9" width="4.6" height="5.1" fill="#00db06"/><rect x="740.9" y="396.9" width="4.6" height="5.1" fill="#0ee100"/><rect x="745.2" y="396.9" width="4.6" height="5.1" fill="#17e300"/><rect x="749.5" y="396.9" width="8.9" height="5.1" fill="#0fe100"/><rect x="758.2" y="396.9" width="4.6" height="5.1" fill="#17e300"/><rect x="762.5" y="396.9" width="4.6" height="5.1" fill="#69f400"/><rect x="766.8" y="396.9" width="4.6" height="5.1" fill="#cafd00"/><rect x="771.1" y="396.9" width="4.6" height="5.1" fill="#ebf400"/><rect x="775.5" y="396.9" width="4.6" height="5.1" fill="#f2eb00"/><rect x="779.8" y="396.9" width="4.6" height="5.1" fill="#edf200"/><rect x="784.1" y="396.9" width="4.6" height="5.1" fill="#ccfd00"/><rect x="788.5" y="396.9" width="4.6" height="5.1" fill="#8df900"/><rect x="792.8" y="396.9" width="4.6" height="5.1" fill="#25e600"/><rect x="797.1" y="396.9" width="4.6" height="5.1" fill="#00d80c"/><rect x="801.4" y="396.9" width="4.6" height="5.1" fill="#00d511"/><rect x="805.8" y="396.9" width="4.6" height="5.1" fill="#00dd01"/><rect x="810.1" y="396.9" width="4.6" height="5.1" fill="#5bf100"/><rect x="814.4" y="396.9" width="4.6" height="5.1" fill="#a0fc00"/><rect x="818.7" y="396.9" width="4.6" height="5.1" fill="#d0fc00"/><rect x="823.0" y="396.9" width="4.6" height="5.1" fill="#ebf400"/><rect x="827.4" y="396.9" width="4.6" height="5.1" fill="#f7e500"/><rect x="831.7" y="396.9" width="4.6" height="5.1" fill="#fcd600"/><rect x="836.0" y="396.9" width="4.6" height="5.1" fill="#fec800"/><rect x="840.4" y="396.9" width="4.6" height="5.1" fill="#fec000"/><rect x="844.7" y="396.9" width="4.6" height="5.1" fill="#febf00"/><rect x="849.0" y="396.9" width="4.6" height="5.1" fill="#fec700"/><rect x="853.3" y="396.9" width="4.6" height="5.1" fill="#fbd900"/><rect x="857.6" y="396.9" width="4.6" height="5.1" fill="#e9f600"/><rect x="862.0" y="396.9" width="4.6" height="5.1" fill="#98fb00"/><rect x="866.3" y="396.9" width="4.6" height="5.1" fill="#36e900"/><rect x="870.6" y="396.9" width="4.7" height="5.1" fill="#00dd02"/><rect x="680.0" y="401.7" width="4.9" height="5.1" fill="#88f800"/><rect x="684.6" y="401.7" width="4.6" height="5.1" fill="#67f400"/><rect x="689.0" y="401.7" width="4.6" height="5.1" fill="#0ce100"/><rect x="693.3" y="401.7" width="4.6" height="5.1" fill="#00d316"/><rect x="697.6" y="401.7" width="4.6" height="5.1" fill="#00cb28"/><rect x="701.9" y="401.7" width="4.6" height="5.1" fill="#00c830"/><rect x="706.3" y="401.7" width="4.6" height="5.1" fill="#00c82f"/><rect x="710.6" y="401.7" width="4.6" height="5.1" fill="#00ca29"/><rect x="714.9" y="401.7" width="4.6" height="5.1" fill="#00d01d"/><rect x="719.2" y="401.7" width="8.9" height="5.1" fill="#00d317"/><rect x="727.9" y="401.7" width="4.6" height="5.1" fill="#00d219"/><rect x="732.2" y="401.7" width="4.6" height="5.1" fill="#00cf1f"/><rect x="736.5" y="401.7" width="4.6" height="5.1" fill="#00d01c"/><rect x="740.9" y="401.7" width="4.6" height="5.1" fill="#00d611"/><rect x="745.2" y="401.7" width="4.6" height="5.1" fill="#00d90a"/><rect x="749.5" y="401.7" width="4.6" height="5.1" fill="#00db06"/><rect x="753.9" y="401.7" width="4.6" height="5.1" fill="#0ce100"/><rect x="758.2" y="401.7" width="4.6" height="5.1" fill="#3bea00"/><rect x="762.5" y="401.7" width="4.6" height="5.1" fill="#8af900"/><rect x="766.8" y="401.7" width="4.6" height="5.1" fill="#d4fc00"/><rect x="771.1" y="401.7" width="4.6" height="5.1" fill="#edf100"/><rect x="775.5" y="401.7" width="4.6" height="5.1" fill="#f3ea00"/><rect x="779.8" y="401.7" width="4.6" height="5.1" fill="#ecf200"/><rect x="784.1" y="401.7" width="4.6" height="5.1" fill="#c8fd00"/><rect x="788.5" y="401.7" width="4.6" height="5.1" fill="#87f800"/><rect x="792.8" y="401.7" width="4.6" height="5.1" fill="#22e500"/><rect x="797.1" y="401.7" width="4.6" height="5.1" fill="#00d90b"/><rect x="801.4" y="401.7" width="4.6" height="5.1" fill="#00d70e"/><rect x="805.8" y="401.7" width="4.6" height="5.1" fill="#13e200"/><rect x="810.1" y="401.7" width="4.6" height="5.1" fill="#7ff700"/><rect x="814.4" y="401.7" width="4.6" height="5.1" fill="#befe00"/><rect x="818.7" y="401.7" width="4.6" height="5.1" fill="#defb00"/><rect x="823.0" y="401.7" width="4.6" height="5.1" fill="#f0ee00"/><rect x="827.4" y="401.7" width="4.6" height="5.1" fill="#fadf00"/><rect x="831.7" y="401.7" width="4.6" height="5.1" fill="#fdd000"/><rect x="836.0" y="401.7" width="4.6" height="5.1" fill="#ffc400"/><rect x="840.4" y="401.7" width="4.6" height="5.1" fill="#febf00"/><rect x="844.7" y="401.7" width="4.6" height="5.1" fill="#fec000"/><rect x="849.0" y="401.7" width="4.6" height="5.1" fill="#fdcd00"/><rect x="853.3" y="401.7" width="4.6" height="5.1" fill="#f8e300"/><rect x="857.6" y="401.7" width="4.6" height="5.1" fill="#d9fb00"/><rect x="862.0" y="401.7" width="4.6" height="5.1" fill="#73f600"/><rect x="866.3" y="401.7" width="4.6" height="5.1" fill="#0ce100"/><rect x="870.6" y="401.7" width="4.7" height="5.1" fill="#00da07"/><rect x="680.0" y="406.5" width="4.9" height="5.1" fill="#92fa00"/><rect x="684.6" y="406.5" width="4.6" height="5.1" fill="#71f500"/><rect x="689.0" y="406.5" width="4.6" height="5.1" fill="#12e200"/><rect x="693.3" y="406.5" width="4.6" height="5.1" fill="#00d513"/><rect x="697.6" y="406.5" width="4.6" height="5.1" fill="#00ce21"/><rect x="701.9" y="406.5" width="4.6" height="5.1" fill="#00ce20"/><rect x="706.3" y="406.5" width="4.6" height="5.1" fill="#00d611"/><rect x="710.6" y="406.5" width="4.6" height="5.1" fill="#00dc05"/><rect x="714.9" y="406.5" width="4.6" height="5.1" fill="#07df00"/><rect x="719.2" y="406.5" width="4.6" height="5.1" fill="#02de00"/><rect x="723.6" y="406.5" width="4.6" height="5.1" fill="#00d90b"/><rect x="727.9" y="406.5" width="4.6" height="5.1" fill="#00d219"/><rect x="732.2" y="406.5" width="4.6" height="5.1" fill="#00ca29"/><rect x="736.5" y="406.5" width="4.6" height="5.1" fill="#00c92c"/><rect x="740.9" y="406.5" width="4.6" height="5.1" fill="#00cd23"/><rect x="745.2" y="406.5" width="4.6" height="5.1" fill="#00d218"/><rect x="749.5" y="406.5" width="4.6" height="5.1" fill="#00d80d"/><rect x="753.9" y="406.5" width="4.6" height="5.1" fill="#16e300"/><rect x="758.2" y="406.5" width="4.6" height="5.1" fill="#63f300"/><rect x="762.5" y="406.5" width="4.6" height="5.1" fill="#adfd00"/><rect x="766.8" y="406.5" width="4.6" height="5.1" fill="#e6fa00"/><rect x="771.1" y="406.5" width="4.6" height="5.1" fill="#f4e900"/><rect x="775.5" y="406.5" width="4.6" height="5.1" fill="#f8e400"/><rect x="779.8" y="406.5" width="4.6" height="5.1" fill="#efef00"/><rect x="784.1" y="406.5" width="4.6" height="5.1" fill="#cafd00"/><rect x="788.5" y="406.5" width="4.6" height="5.1" fill="#8bf900"/><rect x="792.8" y="406.5" width="4.6" height="5.1" fill="#31e800"/><rect x="797.1" y="406.5" width="4.6" height="5.1" fill="#00de00"/><rect x="801.4" y="406.5" width="4.6" height="5.1" fill="#06df00"/><rect x="805.8" y="406.5" width="4.6" height="5.1" fill="#43ec00"/><rect x="810.1" y="406.5" width="4.6" height="5.1" fill="#a0fc00"/><rect x="814.4" y="406.5" width="4.6" height="5.1" fill="#d0fc00"/><rect x="818.7" y="406.5" width="4.6" height="5.1" fill="#e9f600"/><rect x="823.0" y="406.5" width="4.6" height="5.1" fill="#f5e700"/><rect x="827.4" y="406.5" width="4.6" height="5.1" fill="#fcd700"/><rect x="831.7" y="406.5" width="4.6" height="5.1" fill="#feca00"/><rect x="836.0" y="406.5" width="4.6" height="5.1" fill="#ffc200"/><rect x="840.4" y="406.5" width="4.6" height="5.1" fill="#fec100"/><rect x="844.7" y="406.5" width="4.6" height="5.1" fill="#fec600"/><rect x="849.0" y="406.5" width="4.6" height="5.1" fill="#fcd700"/><rect x="853.3" y="406.5" width="4.6" height="5.1" fill="#eef000"/><rect x="857.6" y="406.5" width="4.6" height="5.1" fill="#c1fe00"/><rect x="862.0" y="406.5" width="4.6" height="5.1" fill="#4cee00"/><rect x="866.3" y="406.5" width="4.6" height="5.1" fill="#00dc05"/><rect x="870.6" y="406.5" width="4.7" height="5.1" fill="#00d90b"/><rect x="680.0" y="411.4" width="4.9" height="5.1" fill="#acfd00"/><rect x="684.6" y="411.4" width="4.6" height="5.1" fill="#85f800"/><rect x="689.0" y="411.4" width="4.6" height="5.1" fill="#20e500"/><rect x="693.3" y="411.4" width="4.6" height="5.1" fill="#00d70f"/><rect x="697.6" y="411.4" width="4.6" height="5.1" fill="#00d218"/><rect x="701.9" y="411.4" width="4.6" height="5.1" fill="#00d80c"/><rect x="706.3" y="411.4" width="4.6" height="5.1" fill="#31e800"/><rect x="710.6" y="411.4" width="4.6" height="5.1" fill="#5ff200"/><rect x="714.9" y="411.4" width="4.6" height="5.1" fill="#6df500"/><rect x="719.2" y="411.4" width="4.6" height="5.1" fill="#53ef00"/><rect x="723.6" y="411.4" width="4.6" height="5.1" fill="#13e200"/><rect x="727.9" y="411.4" width="4.6" height="5.1" fill="#00d512"/><rect x="732.2" y="411.4" width="4.6" height="5.1" fill="#00c92b"/><rect x="736.5" y="411.4" width="4.6" height="5.1" fill="#00c736"/><rect x="740.9" y="411.4" width="4.6" height="5.1" fill="#00c731"/><rect x="745.2" y="411.4" width="4.6" height="5.1" fill="#00cd23"/><rect x="749.5" y="411.4" width="4.6" height="5.1" fill="#00d80d"/><rect x="753.9" y="411.4" width="4.6" height="5.1" fill="#2ce700"/><rect x="758.2" y="411.4" width="4.6" height="5.1" fill="#85f800"/><rect x="762.5" y="411.4" width="4.6" height="5.1" fill="#c9fd00"/><rect x="766.8" y="411.4" width="4.6" height="5.1" fill="#f2eb00"/><rect x="771.1" y="411.4" width="4.6" height="5.1" fill="#fbda00"/><rect x="775.5" y="411.4" width="4.6" height="5.1" fill="#fbd800"/><rect x="779.8" y="411.4" width="4.6" height="5.1" fill="#f5e800"/><rect x="784.1" y="411.4" width="4.6" height="5.1" fill="#d1fc00"/><rect x="788.5" y="411.4" width="4.6" height="5.1" fill="#97fa00"/><rect x="792.8" y="411.4" width="4.6" height="5.1" fill="#50ef00"/><rect x="797.1" y="411.4" width="4.6" height="5.1" fill="#31e800"/><rect x="801.4" y="411.4" width="4.6" height="5.1" fill="#4dee00"/><rect x="805.8" y="411.4" width="4.6" height="5.1" fill="#82f800"/><rect x="810.1" y="411.4" width="4.6" height="5.1" fill="#c0fe00"/><rect x="814.4" y="411.4" width="4.6" height="5.1" fill="#e2fa00"/><rect x="818.7" y="411.4" width="4.6" height="5.1" fill="#f0ed00"/><rect x="823.0" y="411.4" width="4.6" height="5.1" fill="#fade00"/><rect x="827.4" y="411.4" width="4.6" height="5.1" fill="#fdcf00"/><rect x="831.7" y="411.4" width="4.6" height="5.1" fill="#ffc500"/><rect x="836.0" y="411.4" width="4.6" height="5.1" fill="#ffc300"/><rect x="840.4" y="411.4" width="4.6" height="5.1" fill="#fec600"/><rect x="844.7" y="411.4" width="4.6" height="5.1" fill="#fdd000"/><rect x="849.0" y="411.4" width="4.6" height="5.1" fill="#f7e500"/><rect x="853.3" y="411.4" width="4.6" height="5.1" fill="#dafb00"/><rect x="857.6" y="411.4" width="4.6" height="5.1" fill="#9bfb00"/><rect x="862.0" y="411.4" width="4.6" height="5.1" fill="#2fe800"/><rect x="866.3" y="411.4" width="4.6" height="5.1" fill="#00da08"/><rect x="870.6" y="411.4" width="4.7" height="5.1" fill="#00d80c"/><rect x="680.0" y="416.2" width="4.9" height="5.1" fill="#c2fe00"/><rect x="684.6" y="416.2" width="4.6" height="5.1" fill="#9bfb00"/><rect x="689.0" y="416.2" width="4.6" height="5.1" fill="#2ce700"/><rect x="693.3" y="416.2" width="4.6" height="5.1" fill="#00d80c"/><rect x="697.6" y="416.2" width="4.6" height="5.1" fill="#00d513"/><rect x="701.9" y="416.2" width="4.6" height="5.1" fill="#05df00"/><rect x="706.3" y="416.2" width="4.6" height="5.1" fill="#78f600"/><rect x="710.6" y="416.2" width="4.6" height="5.1" fill="#a2fc00"/><rect x="714.9" y="416.2" width="4.6" height="5.1" fill="#a5fc00"/><rect x="719.2" y="416.2" width="4.6" height="5.1" fill="#87f800"/><rect x="723.6" y="416.2" width="4.6" height="5.1" fill="#36e900"/><rect x="727.9" y="416.2" width="4.6" height="5.1" fill="#00d90a"/><rect x="732.2" y="416.2" width="4.6" height="5.1" fill="#00cb26"/><rect x="736.5" y="416.2" width="4.6" height="5.1" fill="#00c732"/><rect x="740.9" y="416.2" width="4.6" height="5.1" fill="#00c82e"/><rect x="745.2" y="416.2" width="4.6" height="5.1" fill="#00cf1e"/><rect x="749.5" y="416.2" width="4.6" height="5.1" fill="#00dd03"/><rect x="753.9" y="416.2" width="4.6" height="5.1" fill="#58f000"/><rect x="758.2" y="416.2" width="4.6" height="5.1" fill="#b2fe00"/><rect x="762.5" y="416.2" width="4.6" height="5.1" fill="#e6fa00"/><rect x="766.8" y="416.2" width="4.6" height="5.1" fill="#fbdd00"/><rect x="771.1" y="416.2" width="8.9" height="5.1" fill="#fdcd00"/><rect x="779.8" y="416.2" width="4.6" height="5.1" fill="#fbdd00"/><rect x="784.1" y="416.2" width="4.6" height="5.1" fill="#e8f800"/><rect x="788.5" y="416.2" width="4.6" height="5.1" fill="#c3fe00"/><rect x="792.8" y="416.2" width="4.6" height="5.1" fill="#96fa00"/><rect x="797.1" y="416.2" width="4.6" height="5.1" fill="#85f800"/><rect x="801.4" y="416.2" width="4.6" height="5.1" fill="#96fa00"/><rect x="805.8" y="416.2" width="4.6" height="5.1" fill="#b8ff00"/><rect x="810.1" y="416.2" width="4.6" height="5.1" fill="#d6fc00"/><rect x="814.4" y="416.2" width="4.6" height="5.1" fill="#ecf300"/><rect x="818.7" y="416.2" width="4.6" height="5.1" fill="#f8e400"/><rect x="823.0" y="416.2" width="4.6" height="5.1" fill="#fcd500"/><rect x="827.4" y="416.2" width="4.6" height="5.1" fill="#fec800"/><rect x="831.7" y="416.2" width="4.6" height="5.1" fill="#ffc200"/><rect x="836.0" y="416.2" width="4.6" height="5.1" fill="#ffc300"/><rect x="840.4" y="416.2" width="4.6" height="5.1" fill="#fecb00"/><rect x="844.7" y="416.2" width="4.6" height="5.1" fill="#fbda00"/><rect x="849.0" y="416.2" width="4.6" height="5.1" fill="#edf200"/><rect x="853.3" y="416.2" width="4.6" height="5.1" fill="#bcff00"/><rect x="857.6" y="416.2" width="4.6" height="5.1" fill="#6ef500"/><rect x="862.0" y="416.2" width="4.6" height="5.1" fill="#13e200"/><rect x="866.3" y="416.2" width="4.6" height="5.1" fill="#00d80c"/><rect x="870.6" y="416.2" width="4.7" height="5.1" fill="#00d80d"/><rect x="680.0" y="421.1" width="4.9" height="5.1" fill="#d4fc00"/><rect x="684.6" y="421.1" width="4.6" height="5.1" fill="#b2fe00"/><rect x="689.0" y="421.1" width="4.6" height="5.1" fill="#37ea00"/><rect x="693.3" y="421.1" width="4.6" height="5.1" fill="#00d80c"/><rect x="697.6" y="421.1" width="4.6" height="5.1" fill="#00d513"/><rect x="701.9" y="421.1" width="4.6" height="5.1" fill="#19e300"/><rect x="706.3" y="421.1" width="4.6" height="5.1" fill="#a2fc00"/><rect x="710.6" y="421.1" width="4.6" height="5.1" fill="#cafd00"/><rect x="714.9" y="421.1" width="4.6" height="5.1" fill="#c6fe00"/><rect x="719.2" y="421.1" width="4.6" height="5.1" fill="#a6fc00"/><rect x="723.6" y="421.1" width="4.6" height="5.1" fill="#50ef00"/><rect x="727.9" y="421.1" width="4.6" height="5.1" fill="#00dd02"/><rect x="732.2" y="421.1" width="4.6" height="5.1" fill="#00d11a"/><rect x="736.5" y="421.1" width="4.6" height="5.1" fill="#00cd23"/><rect x="740.9" y="421.1" width="4.6" height="5.1" fill="#00d11b"/><rect x="745.2" y="421.1" width="4.6" height="5.1" fill="#00d909"/><rect x="749.5" y="421.1" width="4.6" height="5.1" fill="#2fe800"/><rect x="753.9" y="421.1" width="4.6" height="5.1" fill="#8cf900"/><rect x="758.2" y="421.1" width="4.6" height="5.1" fill="#d9fc00"/><rect x="762.5" y="421.1" width="4.6" height="5.1" fill="#f5e700"/><rect x="766.8" y="421.1" width="4.6" height="5.1" fill="#fdcf00"/><rect x="771.1" y="421.1" width="8.9" height="5.1" fill="#ffc200"/><rect x="779.8" y="421.1" width="4.6" height="5.1" fill="#fdcd00"/><rect x="784.1" y="421.1" width="4.6" height="5.1" fill="#fae100"/><rect x="788.5" y="421.1" width="4.6" height="5.1" fill="#eef000"/><rect x="792.8" y="421.1" width="4.6" height="5.1" fill="#e0fb00"/><rect x="797.1" y="421.1" width="4.6" height="5.1" fill="#d3fc00"/><rect x="801.4" y="421.1" width="4.6" height="5.1" fill="#d2fc00"/><rect x="805.8" y="421.1" width="4.6" height="5.1" fill="#dafb00"/><rect x="810.1" y="421.1" width="4.6" height="5.1" fill="#e9f700"/><rect x="814.4" y="421.1" width="4.6" height="5.1" fill="#f3ea00"/><rect x="818.7" y="421.1" width="4.6" height="5.1" fill="#fbd900"/><rect x="823.0" y="421.1" width="4.6" height="5.1" fill="#fecb00"/><rect x="827.4" y="421.1" width="4.6" height="5.1" fill="#ffc300"/><rect x="831.7" y="421.1" width="4.6" height="5.1" fill="#febf00"/><rect x="836.0" y="421.1" width="4.6" height="5.1" fill="#ffc200"/><rect x="840.4" y="421.1" width="4.6" height="5.1" fill="#fdce00"/><rect x="844.7" y="421.1" width="4.6" height="5.1" fill="#f8e400"/><rect x="849.0" y="421.1" width="4.6" height="5.1" fill="#defb00"/><rect x="853.3" y="421.1" width="4.6" height="5.1" fill="#8bf900"/><rect x="857.6" y="421.1" width="4.6" height="5.1" fill="#2ee800"/><rect x="862.0" y="421.1" width="4.6" height="5.1" fill="#00dc04"/><rect x="866.3" y="421.1" width="4.6" height="5.1" fill="#00d70f"/><rect x="870.6" y="421.1" width="4.7" height="5.1" fill="#00d70e"/><rect x="680.0" y="425.9" width="4.9" height="5.1" fill="#dafb00"/><rect x="684.6" y="425.9" width="4.6" height="5.1" fill="#b9ff00"/><rect x="689.0" y="425.9" width="4.6" height="5.1" fill="#3aea00"/><rect x="693.3" y="425.9" width="4.6" height="5.1" fill="#00d80c"/><rect x="697.6" y="425.9" width="4.6" height="5.1" fill="#00d611"/><rect x="701.9" y="425.9" width="4.6" height="5.1" fill="#22e500"/><rect x="706.3" y="425.9" width="4.6" height="5.1" fill="#a9fd00"/><rect x="710.6" y="425.9" width="8.9" height="5.1" fill="#d0fc00"/><rect x="719.2" y="425.9" width="4.6" height="5.1" fill="#bbff00"/><rect x="723.6" y="425.9" width="4.6" height="5.1" fill="#78f600"/><rect x="727.9" y="425.9" width="4.6" height="5.1" fill="#2be700"/><rect x="732.2" y="425.9" width="4.6" height="5.1" fill="#00da08"/><rect x="736.5" y="425.9" width="4.6" height="5.1" fill="#00d80d"/><rect x="740.9" y="425.9" width="4.6" height="5.1" fill="#06df00"/><rect x="745.2" y="425.9" width="4.6" height="5.1" fill="#3eeb00"/><rect x="749.5" y="425.9" width="4.6" height="5.1" fill="#80f700"/><rect x="753.9" y="425.9" width="4.6" height="5.1" fill="#c2fe00"/><rect x="758.2" y="425.9" width="4.6" height="5.1" fill="#efef00"/><rect x="762.5" y="425.9" width="4.6" height="5.1" fill="#fcd600"/><rect x="766.8" y="425.9" width="4.6" height="5.1" fill="#ffc200"/><rect x="771.1" y="425.9" width="4.6" height="5.1" fill="#fcb800"/><rect x="775.5" y="425.9" width="4.6" height="5.1" fill="#fcba00"/><rect x="779.8" y="425.9" width="4.6" height="5.1" fill="#ffc200"/><rect x="784.1" y="425.9" width="4.6" height="5.1" fill="#fdcf00"/><rect x="788.5" y="425.9" width="4.6" height="5.1" fill="#fbdc00"/><rect x="792.8" y="425.9" width="4.6" height="5.1" fill="#f4e800"/><rect x="797.1" y="425.9" width="4.6" height="5.1" fill="#eef000"/><rect x="801.4" y="425.9" width="4.6" height="5.1" fill="#eaf500"/><rect x="805.8" y="425.9" width="4.6" height="5.1" fill="#ebf400"/><rect x="810.1" y="425.9" width="4.6" height="5.1" fill="#f0ee00"/><rect x="814.4" y="425.9" width="4.6" height="5.1" fill="#f9e300"/><rect x="818.7" y="425.9" width="4.6" height="5.1" fill="#fdd100"/><rect x="823.0" y="425.9" width="4.6" height="5.1" fill="#ffc500"/><rect x="827.4" y="425.9" width="8.9" height="5.1" fill="#fec000"/><rect x="836.0" y="425.9" width="4.6" height="5.1" fill="#ffc300"/><rect x="840.4" y="425.9" width="4.6" height="5.1" fill="#fdd100"/><rect x="844.7" y="425.9" width="4.6" height="5.1" fill="#f3ea00"/><rect x="849.0" y="425.9" width="4.6" height="5.1" fill="#cefd00"/><rect x="853.3" y="425.9" width="4.6" height="5.1" fill="#6bf400"/><rect x="857.6" y="425.9" width="4.6" height="5.1" fill="#08e000"/><rect x="862.0" y="425.9" width="4.6" height="5.1" fill="#00d90a"/><rect x="866.3" y="425.9" width="4.6" height="5.1" fill="#00d610"/><rect x="870.6" y="425.9" width="4.7" height="5.1" fill="#00d70e"/><rect x="680.0" y="430.7" width="4.9" height="5.1" fill="#d3fc00"/><rect x="684.6" y="430.7" width="4.6" height="5.1" fill="#b0fe00"/><rect x="689.0" y="430.7" width="4.6" height="5.1" fill="#36e900"/><rect x="693.3" y="430.7" width="4.6" height="5.1" fill="#00d90a"/><rect x="697.6" y="430.7" width="4.6" height="5.1" fill="#00d80c"/><rect x="701.9" y="430.7" width="4.6" height="5.1" fill="#20e500"/><rect x="706.3" y="430.7" width="4.6" height="5.1" fill="#8df900"/><rect x="710.6" y="430.7" width="4.6" height="5.1" fill="#befe00"/><rect x="714.9" y="430.7" width="4.6" height="5.1" fill="#cafd00"/><rect x="719.2" y="430.7" width="4.6" height="5.1" fill="#c3fe00"/><rect x="723.6" y="430.7" width="4.6" height="5.1" fill="#a2fc00"/><rect x="727.9" y="430.7" width="4.6" height="5.1" fill="#74f600"/><rect x="732.2" y="430.7" width="4.6" height="5.1" fill="#2be700"/><rect x="736.5" y="430.7" width="4.6" height="5.1" fill="#27e600"/><rect x="740.9" y="430.7" width="4.6" height="5.1" fill="#6bf400"/><rect x="745.2" y="430.7" width="4.6" height="5.1" fill="#9efb00"/><rect x="749.5" y="430.7" width="4.6" height="5.1" fill="#c9fd00"/><rect x="753.9" y="430.7" width="4.6" height="5.1" fill="#eaf500"/><rect x="758.2" y="430.7" width="4.6" height="5.1" fill="#fade00"/><rect x="762.5" y="430.7" width="4.6" height="5.1" fill="#fec800"/><rect x="766.8" y="430.7" width="4.6" height="5.1" fill="#fbb600"/><rect x="771.1" y="430.7" width="4.6" height="5.1" fill="#f9b000"/><rect x="775.5" y="430.7" width="4.6" height="5.1" fill="#fbb600"/><rect x="779.8" y="430.7" width="4.6" height="5.1" fill="#fdbe00"/><rect x="784.1" y="430.7" width="4.6" height="5.1" fill="#ffc500"/><rect x="788.5" y="430.7" width="4.6" height="5.1" fill="#fdd000"/><rect x="792.8" y="430.7" width="4.6" height="5.1" fill="#fadf00"/><rect x="797.1" y="430.7" width="4.6" height="5.1" fill="#f4e800"/><rect x="801.4" y="430.7" width="9.0" height="5.1" fill="#f0ee00"/><rect x="810.1" y="430.7" width="4.6" height="5.1" fill="#f5e700"/><rect x="814.4" y="430.7" width="4.6" height="5.1" fill="#fbdd00"/><rect x="818.7" y="430.7" width="4.6" height="5.1" fill="#fdcd00"/><rect x="823.0" y="430.7" width="4.6" height="5.1" fill="#ffc400"/><rect x="827.4" y="430.7" width="4.6" height="5.1" fill="#ffc200"/><rect x="831.7" y="430.7" width="4.6" height="5.1" fill="#ffc300"/><rect x="836.0" y="430.7" width="4.6" height="5.1" fill="#fec600"/><rect x="840.4" y="430.7" width="4.6" height="5.1" fill="#fcd500"/><rect x="844.7" y="430.7" width="4.6" height="5.1" fill="#f0ed00"/><rect x="849.0" y="430.7" width="4.6" height="5.1" fill="#c8fd00"/><rect x="853.3" y="430.7" width="4.6" height="5.1" fill="#5bf100"/><rect x="857.6" y="430.7" width="4.6" height="5.1" fill="#00dd01"/><rect x="862.0" y="430.7" width="4.6" height="5.1" fill="#00d90a"/><rect x="866.3" y="430.7" width="4.6" height="5.1" fill="#00d70e"/><rect x="870.6" y="430.7" width="4.7" height="5.1" fill="#00d80b"/><rect x="680.0" y="435.6" width="4.9" height="5.1" fill="#d3fc00"/><rect x="684.6" y="435.6" width="4.6" height="5.1" fill="#b5fe00"/><rect x="689.0" y="435.6" width="4.6" height="5.1" fill="#4bee00"/><rect x="693.3" y="435.6" width="4.6" height="5.1" fill="#01de00"/><rect x="697.6" y="435.6" width="4.6" height="5.1" fill="#00dd03"/><rect x="701.9" y="435.6" width="4.6" height="5.1" fill="#22e500"/><rect x="706.3" y="435.6" width="4.6" height="5.1" fill="#77f600"/><rect x="710.6" y="435.6" width="4.6" height="5.1" fill="#a4fc00"/><rect x="714.9" y="435.6" width="4.6" height="5.1" fill="#bffe00"/><rect x="719.2" y="435.6" width="4.6" height="5.1" fill="#c2fe00"/><rect x="723.6" y="435.6" width="4.6" height="5.1" fill="#b7ff00"/><rect x="727.9" y="435.6" width="4.6" height="5.1" fill="#9afb00"/><rect x="732.2" y="435.6" width="4.6" height="5.1" fill="#73f600"/><rect x="736.5" y="435.6" width="4.6" height="5.1" fill="#76f600"/><rect x="740.9" y="435.6" width="4.6" height="5.1" fill="#a5fc00"/><rect x="745.2" y="435.6" width="4.6" height="5.1" fill="#c9fd00"/><rect x="749.5" y="435.6" width="4.6" height="5.1" fill="#e5fa00"/><rect x="753.9" y="435.6" width="4.6" height="5.1" fill="#f3ea00"/><rect x="758.2" y="435.6" width="4.6" height="5.1" fill="#fbd900"/><rect x="762.5" y="435.6" width="4.6" height="5.1" fill="#fec700"/><rect x="766.8" y="435.6" width="4.6" height="5.1" fill="#fcb700"/><rect x="771.1" y="435.6" width="4.6" height="5.1" fill="#fab000"/><rect x="775.5" y="435.6" width="4.6" height="5.1" fill="#fbb500"/><rect x="779.8" y="435.6" width="4.6" height="5.1" fill="#fcba00"/><rect x="784.1" y="435.6" width="4.6" height="5.1" fill="#fec000"/><rect x="788.5" y="435.6" width="4.6" height="5.1" fill="#feca00"/><rect x="792.8" y="435.6" width="4.6" height="5.1" fill="#fcd700"/><rect x="797.1" y="435.6" width="4.6" height="5.1" fill="#f9e200"/><rect x="801.4" y="435.6" width="4.6" height="5.1" fill="#f2eb00"/><rect x="805.8" y="435.6" width="4.6" height="5.1" fill="#f0ed00"/><rect x="810.1" y="435.6" width="4.6" height="5.1" fill="#f4e900"/><rect x="814.4" y="435.6" width="4.6" height="5.1" fill="#fae100"/><rect x="818.7" y="435.6" width="4.6" height="5.1" fill="#fcd200"/><rect x="823.0" y="435.6" width="4.6" height="5.1" fill="#feca00"/><rect x="827.4" y="435.6" width="8.9" height="5.1" fill="#fec800"/><rect x="836.0" y="435.6" width="4.6" height="5.1" fill="#feca00"/><rect x="840.4" y="435.6" width="4.6" height="5.1" fill="#fbdc00"/><rect x="844.7" y="435.6" width="4.6" height="5.1" fill="#e7f900"/><rect x="849.0" y="435.6" width="4.6" height="5.1" fill="#affe00"/><rect x="853.3" y="435.6" width="4.6" height="5.1" fill="#41ec00"/><rect x="857.6" y="435.6" width="4.6" height="5.1" fill="#00dc04"/><rect x="862.0" y="435.6" width="8.9" height="5.1" fill="#00da08"/><rect x="870.6" y="435.6" width="4.7" height="5.1" fill="#00dc03"/><rect x="680.0" y="440.4" width="4.9" height="5.1" fill="#dafb00"/><rect x="684.6" y="440.4" width="4.6" height="5.1" fill="#c1fe00"/><rect x="689.0" y="440.4" width="4.6" height="5.1" fill="#75f600"/><rect x="693.3" y="440.4" width="4.6" height="5.1" fill="#30e800"/><rect x="697.6" y="440.4" width="4.6" height="5.1" fill="#17e300"/><rect x="701.9" y="440.4" width="4.6" height="5.1" fill="#29e600"/><rect x="706.3" y="440.4" width="4.6" height="5.1" fill="#64f300"/><rect x="710.6" y="440.4" width="4.6" height="5.1" fill="#8af900"/><rect x="714.9" y="440.4" width="4.6" height="5.1" fill="#a8fd00"/><rect x="719.2" y="440.4" width="4.6" height="5.1" fill="#b7ff00"/><rect x="723.6" y="440.4" width="4.6" height="5.1" fill="#b6ff00"/><rect x="727.9" y="440.4" width="4.6" height="5.1" fill="#b2fe00"/><rect x="732.2" y="440.4" width="4.6" height="5.1" fill="#adfd00"/><rect x="736.5" y="440.4" width="4.6" height="5.1" fill="#b8ff00"/><rect x="740.9" y="440.4" width="4.6" height="5.1" fill="#c9fd00"/><rect x="745.2" y="440.4" width="4.6" height="5.1" fill="#dafb00"/><rect x="749.5" y="440.4" width="4.6" height="5.1" fill="#e8f700"/><rect x="753.9" y="440.4" width="4.6" height="5.1" fill="#f1ed00"/><rect x="758.2" y="440.4" width="4.6" height="5.1" fill="#fae200"/><rect x="762.5" y="440.4" width="4.6" height="5.1" fill="#fcd400"/><rect x="766.8" y="440.4" width="4.6" height="5.1" fill="#ffc500"/><rect x="771.1" y="440.4" width="4.6" height="5.1" fill="#fcba00"/><rect x="775.5" y="440.4" width="4.6" height="5.1" fill="#fbb500"/><rect x="779.8" y="440.4" width="4.6" height="5.1" fill="#fcb700"/><rect x="784.1" y="440.4" width="4.6" height="5.1" fill="#febf00"/><rect x="788.5" y="440.4" width="4.6" height="5.1" fill="#fec800"/><rect x="792.8" y="440.4" width="4.6" height="5.1" fill="#fdd100"/><rect x="797.1" y="440.4" width="4.6" height="5.1" fill="#fbdd00"/><rect x="801.4" y="440.4" width="4.6" height="5.1" fill="#f2eb00"/><rect x="805.8" y="440.4" width="4.6" height="5.1" fill="#edf200"/><rect x="810.1" y="440.4" width="4.6" height="5.1" fill="#ecf300"/><rect x="814.4" y="440.4" width="4.6" height="5.1" fill="#f0ee00"/><rect x="818.7" y="440.4" width="4.6" height="5.1" fill="#fae100"/><rect x="823.0" y="440.4" width="4.6" height="5.1" fill="#fcd700"/><rect x="827.4" y="440.4" width="4.6" height="5.1" fill="#fdd100"/><rect x="831.7" y="440.4" width="8.9" height="5.1" fill="#fdcf00"/><rect x="840.4" y="440.4" width="4.6" height="5.1" fill="#f6e600"/><rect x="844.7" y="440.4" width="4.6" height="5.1" fill="#c5fe00"/><rect x="849.0" y="440.4" width="4.6" height="5.1" fill="#75f600"/><rect x="853.3" y="440.4" width="4.6" height="5.1" fill="#1de400"/><rect x="857.6" y="440.4" width="4.6" height="5.1" fill="#00db06"/><rect x="862.0" y="440.4" width="4.6" height="5.1" fill="#00dc04"/><rect x="866.3" y="440.4" width="4.6" height="5.1" fill="#03df00"/><rect x="870.6" y="440.4" width="4.7" height="5.1" fill="#19e300"/><rect x="680.0" y="445.3" width="4.9" height="5.1" fill="#dafb00"/><rect x="684.6" y="445.3" width="4.6" height="5.1" fill="#c8fd00"/><rect x="689.0" y="445.3" width="4.6" height="5.1" fill="#97fa00"/><rect x="693.3" y="445.3" width="4.6" height="5.1" fill="#6bf400"/><rect x="697.6" y="445.3" width="4.6" height="5.1" fill="#45ec00"/><rect x="701.9" y="445.3" width="4.6" height="5.1" fill="#3feb00"/><rect x="706.3" y="445.3" width="4.6" height="5.1" fill="#5bf100"/><rect x="710.6" y="445.3" width="4.6" height="5.1" fill="#73f600"/><rect x="714.9" y="445.3" width="4.6" height="5.1" fill="#85f800"/><rect x="719.2" y="445.3" width="4.6" height="5.1" fill="#92fa00"/><rect x="723.6" y="445.3" width="4.6" height="5.1" fill="#99fb00"/><rect x="727.9" y="445.3" width="4.6" height="5.1" fill="#a5fc00"/><rect x="732.2" y="445.3" width="4.6" height="5.1" fill="#b5fe00"/><rect x="736.5" y="445.3" width="4.6" height="5.1" fill="#c2fe00"/><rect x="740.9" y="445.3" width="4.6" height="5.1" fill="#d0fc00"/><rect x="745.2" y="445.3" width="4.6" height="5.1" fill="#dcfb00"/><rect x="749.5" y="445.3" width="4.6" height="5.1" fill="#e7f900"/><rect x="753.9" y="445.3" width="4.6" height="5.1" fill="#edf200"/><rect x="758.2" y="445.3" width="4.6" height="5.1" fill="#f3e900"/><rect x="762.5" y="445.3" width="4.6" height="5.1" fill="#fadf00"/><rect x="766.8" y="445.3" width="4.6" height="5.1" fill="#fdd000"/><rect x="771.1" y="445.3" width="4.6" height="5.1" fill="#fec600"/><rect x="775.5" y="445.3" width="4.6" height="5.1" fill="#fec000"/><rect x="779.8" y="445.3" width="4.6" height="5.1" fill="#febf00"/><rect x="784.1" y="445.3" width="4.6" height="5.1" fill="#ffc500"/><rect x="788.5" y="445.3" width="4.6" height="5.1" fill="#fdce00"/><rect x="792.8" y="445.3" width="4.6" height="5.1" fill="#fcd800"/><rect x="797.1" y="445.3" width="4.6" height="5.1" fill="#f6e600"/><rect x="801.4" y="445.3" width="4.6" height="5.1" fill="#e9f600"/><rect x="805.8" y="445.3" width="4.6" height="5.1" fill="#dbfb00"/><rect x="810.1" y="445.3" width="4.6" height="5.1" fill="#d2fc00"/><rect x="814.4" y="445.3" width="4.6" height="5.1" fill="#d9fb00"/><rect x="818.7" y="445.3" width="4.6" height="5.1" fill="#ebf400"/><rect x="823.0" y="445.3" width="4.6" height="5.1" fill="#f3ea00"/><rect x="827.4" y="445.3" width="4.6" height="5.1" fill="#f9e300"/><rect x="831.7" y="445.3" width="8.9" height="5.1" fill="#fadf00"/><rect x="840.4" y="445.3" width="4.6" height="5.1" fill="#ecf300"/><rect x="844.7" y="445.3" width="4.6" height="5.1" fill="#a1fc00"/><rect x="849.0" y="445.3" width="4.6" height="5.1" fill="#43ec00"/><rect x="853.3" y="445.3" width="4.6" height="5.1" fill="#08e000"/><rect x="857.6" y="445.3" width="4.6" height="5.1" fill="#00da07"/><rect x="862.0" y="445.3" width="4.6" height="5.1" fill="#00dc04"/><rect x="866.3" y="445.3" width="4.6" height="5.1" fill="#0de100"/><rect x="870.6" y="445.3" width="4.7" height="5.1" fill="#32e800"/><rect x="680.0" y="450.1" width="4.9" height="5.1" fill="#d3fc00"/><rect x="684.6" y="450.1" width="4.6" height="5.1" fill="#cbfd00"/><rect x="689.0" y="450.1" width="4.6" height="5.1" fill="#baff00"/><rect x="693.3" y="450.1" width="4.6" height="5.1" fill="#9dfb00"/><rect x="697.6" y="450.1" width="4.6" height="5.1" fill="#7bf700"/><rect x="701.9" y="450.1" width="4.6" height="5.1" fill="#66f300"/><rect x="706.3" y="450.1" width="4.6" height="5.1" fill="#60f200"/><rect x="710.6" y="450.1" width="4.6" height="5.1" fill="#59f100"/><rect x="714.9" y="450.1" width="4.6" height="5.1" fill="#4fef00"/><rect x="719.2" y="450.1" width="4.6" height="5.1" fill="#50ef00"/><rect x="723.6" y="450.1" width="4.6" height="5.1" fill="#5bf100"/><rect x="727.9" y="450.1" width="4.6" height="5.1" fill="#71f500"/><rect x="732.2" y="450.1" width="4.6" height="5.1" fill="#8bf900"/><rect x="736.5" y="450.1" width="4.6" height="5.1" fill="#a6fd00"/><rect x="740.9" y="450.1" width="4.6" height="5.1" fill="#c0fe00"/><rect x="745.2" y="450.1" width="4.6" height="5.1" fill="#cffd00"/><rect x="749.5" y="450.1" width="4.6" height="5.1" fill="#dcfb00"/><rect x="753.9" y="450.1" width="4.6" height="5.1" fill="#e7f800"/><rect x="758.2" y="450.1" width="4.6" height="5.1" fill="#edf200"/><rect x="762.5" y="450.1" width="4.6" height="5.1" fill="#f4e800"/><rect x="766.8" y="450.1" width="4.6" height="5.1" fill="#fbdc00"/><rect x="771.1" y="450.1" width="4.6" height="5.1" fill="#fcd400"/><rect x="775.5" y="450.1" width="8.9" height="5.1" fill="#fdd000"/><rect x="784.1" y="450.1" width="4.6" height="5.1" fill="#fdd200"/><rect x="788.5" y="450.1" width="4.6" height="5.1" fill="#fbdb00"/><rect x="792.8" y="450.1" width="4.6" height="5.1" fill="#f3ea00"/><rect x="797.1" y="450.1" width="4.6" height="5.1" fill="#e6fa00"/><rect x="801.4" y="450.1" width="4.6" height="5.1" fill="#c7fd00"/><rect x="805.8" y="450.1" width="4.6" height="5.1" fill="#aafd00"/><rect x="810.1" y="450.1" width="4.6" height="5.1" fill="#94fa00"/><rect x="814.4" y="450.1" width="4.6" height="5.1" fill="#9efb00"/><rect x="818.7" y="450.1" width="4.6" height="5.1" fill="#c3fe00"/><rect x="823.0" y="450.1" width="4.6" height="5.1" fill="#d8fc00"/><rect x="827.4" y="450.1" width="4.6" height="5.1" fill="#e7f900"/><rect x="831.7" y="450.1" width="8.9" height="5.1" fill="#ebf400"/><rect x="840.4" y="450.1" width="4.6" height="5.1" fill="#d3fc00"/><rect x="844.7" y="450.1" width="4.6" height="5.1" fill="#83f800"/><rect x="849.0" y="450.1" width="4.6" height="5.1" fill="#2ee800"/><rect x="853.3" y="450.1" width="4.6" height="5.1" fill="#01de00"/><rect x="857.6" y="450.1" width="4.6" height="5.1" fill="#00da08"/><rect x="862.0" y="450.1" width="4.6" height="5.1" fill="#00da07"/><rect x="866.3" y="450.1" width="4.6" height="5.1" fill="#0ce000"/><rect x="870.6" y="450.1" width="4.7" height="5.1" fill="#44ec00"/><rect x="680.0" y="454.9" width="4.9" height="5.1" fill="#bffe00"/><rect x="684.6" y="454.9" width="4.6" height="5.1" fill="#bdff00"/><rect x="689.0" y="454.9" width="4.6" height="5.1" fill="#baff00"/><rect x="693.3" y="454.9" width="4.6" height="5.1" fill="#a4fc00"/><rect x="697.6" y="454.9" width="4.6" height="5.1" fill="#7df700"/><rect x="701.9" y="454.9" width="4.6" height="5.1" fill="#5ff200"/><rect x="706.3" y="454.9" width="4.6" height="5.1" fill="#4cee00"/><rect x="710.6" y="454.9" width="4.6" height="5.1" fill="#36e900"/><rect x="714.9" y="454.9" width="4.6" height="5.1" fill="#1fe400"/><rect x="719.2" y="454.9" width="4.6" height="5.1" fill="#17e300"/><rect x="723.6" y="454.9" width="4.6" height="5.1" fill="#20e500"/><rect x="727.9" y="454.9" width="4.6" height="5.1" fill="#38ea00"/><rect x="732.2" y="454.9" width="4.6" height="5.1" fill="#60f200"/><rect x="736.5" y="454.9" width="4.6" height="5.1" fill="#83f800"/><rect x="740.9" y="454.9" width="4.6" height="5.1" fill="#a6fc00"/><rect x="745.2" y="454.9" width="4.6" height="5.1" fill="#bffe00"/><rect x="749.5" y="454.9" width="4.6" height="5.1" fill="#cdfd00"/><rect x="753.9" y="454.9" width="4.6" height="5.1" fill="#dafb00"/><rect x="758.2" y="454.9" width="4.6" height="5.1" fill="#e7f900"/><rect x="762.5" y="454.9" width="4.6" height="5.1" fill="#edf100"/><rect x="766.8" y="454.9" width="4.6" height="5.1" fill="#f4e900"/><rect x="771.1" y="454.9" width="13.3" height="5.1" fill="#f7e500"/><rect x="784.1" y="454.9" width="4.6" height="5.1" fill="#f6e600"/><rect x="788.5" y="454.9" width="4.6" height="5.1" fill="#efef00"/><rect x="792.8" y="454.9" width="4.6" height="5.1" fill="#dafb00"/><rect x="797.1" y="454.9" width="4.6" height="5.1" fill="#bcff00"/><rect x="801.4" y="454.9" width="4.6" height="5.1" fill="#8ff900"/><rect x="805.8" y="454.9" width="4.6" height="5.1" fill="#6df500"/><rect x="810.1" y="454.9" width="4.6" height="5.1" fill="#50ef00"/><rect x="814.4" y="454.9" width="4.6" height="5.1" fill="#5cf100"/><rect x="818.7" y="454.9" width="4.6" height="5.1" fill="#85f800"/><rect x="823.0" y="454.9" width="4.6" height="5.1" fill="#a6fc00"/><rect x="827.4" y="454.9" width="4.6" height="5.1" fill="#c0fe00"/><rect x="831.7" y="454.9" width="4.6" height="5.1" fill="#cafd00"/><rect x="836.0" y="454.9" width="4.6" height="5.1" fill="#cdfd00"/><rect x="840.4" y="454.9" width="4.6" height="5.1" fill="#b7ff00"/><rect x="844.7" y="454.9" width="4.6" height="5.1" fill="#69f400"/><rect x="849.0" y="454.9" width="4.6" height="5.1" fill="#20e500"/><rect x="853.3" y="454.9" width="4.6" height="5.1" fill="#00dd02"/><rect x="857.6" y="454.9" width="4.6" height="5.1" fill="#00da08"/><rect x="862.0" y="454.9" width="4.6" height="5.1" fill="#00dc05"/><rect x="866.3" y="454.9" width="4.6" height="5.1" fill="#1be400"/><rect x="870.6" y="454.9" width="4.7" height="5.1" fill="#61f200"/><rect x="680.0" y="459.8" width="4.9" height="5.1" fill="#8af900"/><rect x="684.6" y="459.8" width="4.6" height="5.1" fill="#8df900"/><rect x="689.0" y="459.8" width="4.6" height="5.1" fill="#93fa00"/><rect x="693.3" y="459.8" width="4.6" height="5.1" fill="#81f800"/><rect x="697.6" y="459.8" width="4.6" height="5.1" fill="#4fef00"/><rect x="701.9" y="459.8" width="4.6" height="5.1" fill="#2be700"/><rect x="706.3" y="459.8" width="4.6" height="5.1" fill="#1de400"/><rect x="710.6" y="459.8" width="4.6" height="5.1" fill="#0ee100"/><rect x="714.9" y="459.8" width="4.6" height="5.1" fill="#00de00"/><rect x="719.2" y="459.8" width="4.6" height="5.1" fill="#00dd03"/><rect x="723.6" y="459.8" width="4.6" height="5.1" fill="#00dd02"/><rect x="727.9" y="459.8" width="4.6" height="5.1" fill="#0de100"/><rect x="732.2" y="459.8" width="4.6" height="5.1" fill="#2de700"/><rect x="736.5" y="459.8" width="4.6" height="5.1" fill="#57f000"/><rect x="740.9" y="459.8" width="4.6" height="5.1" fill="#83f800"/><rect x="745.2" y="459.8" width="4.6" height="5.1" fill="#a2fc00"/><rect x="749.5" y="459.8" width="4.6" height="5.1" fill="#baff00"/><rect x="753.9" y="459.8" width="4.6" height="5.1" fill="#cafd00"/><rect x="758.2" y="459.8" width="4.6" height="5.1" fill="#dafb00"/><rect x="762.5" y="459.8" width="4.6" height="5.1" fill="#e5fa00"/><rect x="766.8" y="459.8" width="4.6" height="5.1" fill="#e8f800"/><rect x="771.1" y="459.8" width="4.6" height="5.1" fill="#e8f700"/><rect x="775.5" y="459.8" width="4.6" height="5.1" fill="#e6fa00"/><rect x="779.8" y="459.8" width="4.6" height="5.1" fill="#e2fa00"/><rect x="784.1" y="459.8" width="4.6" height="5.1" fill="#dffb00"/><rect x="788.5" y="459.8" width="4.6" height="5.1" fill="#cafd00"/><rect x="792.8" y="459.8" width="4.6" height="5.1" fill="#97fa00"/><rect x="797.1" y="459.8" width="4.6" height="5.1" fill="#67f400"/><rect x="801.4" y="459.8" width="4.6" height="5.1" fill="#3eeb00"/><rect x="805.8" y="459.8" width="4.6" height="5.1" fill="#24e600"/><rect x="810.1" y="459.8" width="4.6" height="5.1" fill="#1be400"/><rect x="814.4" y="459.8" width="4.6" height="5.1" fill="#22e500"/><rect x="818.7" y="459.8" width="4.6" height="5.1" fill="#3bea00"/><rect x="823.0" y="459.8" width="4.6" height="5.1" fill="#5df200"/><rect x="827.4" y="459.8" width="4.6" height="5.1" fill="#81f800"/><rect x="831.7" y="459.8" width="4.6" height="5.1" fill="#97fa00"/><rect x="836.0" y="459.8" width="4.6" height="5.1" fill="#a5fc00"/><rect x="840.4" y="459.8" width="4.6" height="5.1" fill="#90fa00"/><rect x="844.7" y="459.8" width="4.6" height="5.1" fill="#4fef00"/><rect x="849.0" y="459.8" width="4.6" height="5.1" fill="#17e300"/><rect x="853.3" y="459.8" width="4.6" height="5.1" fill="#00dd03"/><rect x="857.6" y="459.8" width="4.6" height="5.1" fill="#00dc05"/><rect x="862.0" y="459.8" width="4.6" height="5.1" fill="#09e000"/><rect x="866.3" y="459.8" width="4.6" height="5.1" fill="#3aea00"/><rect x="870.6" y="459.8" width="4.7" height="5.1" fill="#80f700"/><rect x="680.0" y="464.6" width="4.9" height="5.1" fill="#52ef00"/><rect x="684.6" y="464.6" width="4.6" height="5.1" fill="#5cf100"/><rect x="689.0" y="464.6" width="4.6" height="5.1" fill="#6ff500"/><rect x="693.3" y="464.6" width="4.6" height="5.1" fill="#5ff200"/><rect x="697.6" y="464.6" width="4.6" height="5.1" fill="#2be700"/><rect x="701.9" y="464.6" width="4.6" height="5.1" fill="#0be000"/><rect x="706.3" y="464.6" width="4.6" height="5.1" fill="#00de00"/><rect x="710.6" y="464.6" width="4.6" height="5.1" fill="#00dc04"/><rect x="714.9" y="464.6" width="4.6" height="5.1" fill="#00da09"/><rect x="719.2" y="464.6" width="4.6" height="5.1" fill="#00d90b"/><rect x="723.6" y="464.6" width="4.6" height="5.1" fill="#00d90a"/><rect x="727.9" y="464.6" width="4.6" height="5.1" fill="#00dc04"/><rect x="732.2" y="464.6" width="4.6" height="5.1" fill="#17e300"/><rect x="736.5" y="464.6" width="4.6" height="5.1" fill="#41ec00"/><rect x="740.9" y="464.6" width="4.6" height="5.1" fill="#73f600"/><rect x="745.2" y="464.6" width="4.6" height="5.1" fill="#8ff900"/><rect x="749.5" y="464.6" width="4.6" height="5.1" fill="#a5fc00"/><rect x="753.9" y="464.6" width="4.6" height="5.1" fill="#b7ff00"/><rect x="758.2" y="464.6" width="4.6" height="5.1" fill="#c1fe00"/><rect x="762.5" y="464.6" width="4.6" height="5.1" fill="#c5fe00"/><rect x="766.8" y="464.6" width="4.6" height="5.1" fill="#c4fe00"/><rect x="771.1" y="464.6" width="4.6" height="5.1" fill="#c2fe00"/><rect x="775.5" y="464.6" width="4.6" height="5.1" fill="#c0fe00"/><rect x="779.8" y="464.6" width="4.6" height="5.1" fill="#bbff00"/><rect x="784.1" y="464.6" width="4.6" height="5.1" fill="#affe00"/><rect x="788.5" y="464.6" width="4.6" height="5.1" fill="#8cf900"/><rect x="792.8" y="464.6" width="4.6" height="5.1" fill="#4aed00"/><rect x="797.1" y="464.6" width="4.6" height="5.1" fill="#17e300"/><rect x="801.4" y="464.6" width="4.6" height="5.1" fill="#04df00"/><rect x="805.8" y="464.6" width="4.6" height="5.1" fill="#03df00"/><rect x="810.1" y="464.6" width="4.6" height="5.1" fill="#13e200"/><rect x="814.4" y="464.6" width="4.6" height="5.1" fill="#2ae700"/><rect x="818.7" y="464.6" width="4.6" height="5.1" fill="#47ed00"/><rect x="823.0" y="464.6" width="4.6" height="5.1" fill="#62f300"/><rect x="827.4" y="464.6" width="4.6" height="5.1" fill="#78f600"/><rect x="831.7" y="464.6" width="4.6" height="5.1" fill="#87f800"/><rect x="836.0" y="464.6" width="4.6" height="5.1" fill="#93fa00"/><rect x="840.4" y="464.6" width="4.6" height="5.1" fill="#85f800"/><rect x="844.7" y="464.6" width="4.6" height="5.1" fill="#52ef00"/><rect x="849.0" y="464.6" width="4.6" height="5.1" fill="#29e600"/><rect x="853.3" y="464.6" width="8.9" height="5.1" fill="#11e200"/><rect x="862.0" y="464.6" width="4.6" height="5.1" fill="#29e600"/><rect x="866.3" y="464.6" width="4.6" height="5.1" fill="#5af100"/><rect x="870.6" y="464.6" width="4.7" height="5.1" fill="#94fa00"/><rect x="680.0" y="469.5" width="4.9" height="5.1" fill="#1ce400"/><rect x="684.6" y="469.5" width="4.6" height="5.1" fill="#28e600"/><rect x="689.0" y="469.5" width="4.6" height="5.1" fill="#41ec00"/><rect x="693.3" y="469.5" width="4.6" height="5.1" fill="#3bea00"/><rect x="697.6" y="469.5" width="4.6" height="5.1" fill="#17e300"/><rect x="701.9" y="469.5" width="4.6" height="5.1" fill="#00de00"/><rect x="706.3" y="469.5" width="4.6" height="5.1" fill="#00dc04"/><rect x="710.6" y="469.5" width="4.6" height="5.1" fill="#00da09"/><rect x="714.9" y="469.5" width="4.6" height="5.1" fill="#00d70e"/><rect x="719.2" y="469.5" width="4.6" height="5.1" fill="#00d70f"/><rect x="723.6" y="469.5" width="4.6" height="5.1" fill="#00d80d"/><rect x="727.9" y="469.5" width="4.6" height="5.1" fill="#00dc04"/><rect x="732.2" y="469.5" width="4.6" height="5.1" fill="#1ee400"/><rect x="736.5" y="469.5" width="4.6" height="5.1" fill="#49ed00"/><rect x="740.9" y="469.5" width="4.6" height="5.1" fill="#75f600"/><rect x="745.2" y="469.5" width="4.6" height="5.1" fill="#8bf900"/><rect x="749.5" y="469.5" width="4.6" height="5.1" fill="#97fa00"/><rect x="753.9" y="469.5" width="4.6" height="5.1" fill="#95fa00"/><rect x="758.2" y="469.5" width="4.6" height="5.1" fill="#86f800"/><rect x="762.5" y="469.5" width="4.6" height="5.1" fill="#7cf700"/><rect x="766.8" y="469.5" width="4.6" height="5.1" fill="#76f600"/><rect x="771.1" y="469.5" width="4.6" height="5.1" fill="#79f600"/><rect x="775.5" y="469.5" width="4.6" height="5.1" fill="#85f800"/><rect x="779.8" y="469.5" width="4.6" height="5.1" fill="#7ef700"/><rect x="784.1" y="469.5" width="4.6" height="5.1" fill="#62f200"/><rect x="788.5" y="469.5" width="4.6" height="5.1" fill="#39ea00"/><rect x="792.8" y="469.5" width="4.6" height="5.1" fill="#0ce000"/><rect x="797.1" y="469.5" width="4.6" height="5.1" fill="#00dc05"/><rect x="801.4" y="469.5" width="4.6" height="5.1" fill="#00db06"/><rect x="805.8" y="469.5" width="4.6" height="5.1" fill="#08e000"/><rect x="810.1" y="469.5" width="4.6" height="5.1" fill="#3aea00"/><rect x="814.4" y="469.5" width="4.6" height="5.1" fill="#71f500"/><rect x="818.7" y="469.5" width="4.6" height="5.1" fill="#9dfb00"/><rect x="823.0" y="469.5" width="4.6" height="5.1" fill="#b0fe00"/><rect x="827.4" y="469.5" width="4.6" height="5.1" fill="#aafd00"/><rect x="831.7" y="469.5" width="4.6" height="5.1" fill="#a6fc00"/><rect x="836.0" y="469.5" width="4.6" height="5.1" fill="#a5fc00"/><rect x="840.4" y="469.5" width="4.6" height="5.1" fill="#94fa00"/><rect x="844.7" y="469.5" width="4.6" height="5.1" fill="#72f600"/><rect x="849.0" y="469.5" width="4.6" height="5.1" fill="#53ef00"/><rect x="853.3" y="469.5" width="8.9" height="5.1" fill="#44ec00"/><rect x="862.0" y="469.5" width="4.6" height="5.1" fill="#53ef00"/><rect x="866.3" y="469.5" width="4.6" height="5.1" fill="#76f600"/><rect x="870.6" y="469.5" width="4.7" height="5.1" fill="#a0fc00"/><rect x="680.0" y="474.3" width="4.9" height="5.1" fill="#00de00"/><rect x="684.6" y="474.3" width="4.6" height="5.1" fill="#0ae000"/><rect x="689.0" y="474.3" width="4.6" height="5.1" fill="#1fe400"/><rect x="693.3" y="474.3" width="4.6" height="5.1" fill="#1ee400"/><rect x="697.6" y="474.3" width="4.6" height="5.1" fill="#06df00"/><rect x="701.9" y="474.3" width="4.6" height="5.1" fill="#00dc04"/><rect x="706.3" y="474.3" width="4.6" height="5.1" fill="#00da08"/><rect x="710.6" y="474.3" width="4.6" height="5.1" fill="#00d80c"/><rect x="714.9" y="474.3" width="4.6" height="5.1" fill="#00d611"/><rect x="719.2" y="474.3" width="4.6" height="5.1" fill="#00d511"/><rect x="723.6" y="474.3" width="4.6" height="5.1" fill="#00d70e"/><rect x="727.9" y="474.3" width="4.6" height="5.1" fill="#00dd02"/><rect x="732.2" y="474.3" width="4.6" height="5.1" fill="#2ce700"/><rect x="736.5" y="474.3" width="4.6" height="5.1" fill="#5cf100"/><rect x="740.9" y="474.3" width="4.6" height="5.1" fill="#82f800"/><rect x="745.2" y="474.3" width="4.6" height="5.1" fill="#92fa00"/><rect x="749.5" y="474.3" width="4.6" height="5.1" fill="#93fa00"/><rect x="753.9" y="474.3" width="4.6" height="5.1" fill="#81f800"/><rect x="758.2" y="474.3" width="4.6" height="5.1" fill="#55f000"/><rect x="762.5" y="474.3" width="4.6" height="5.1" fill="#36e900"/><rect x="766.8" y="474.3" width="4.6" height="5.1" fill="#2de700"/><rect x="771.1" y="474.3" width="4.6" height="5.1" fill="#36e900"/><rect x="775.5" y="474.3" width="4.6" height="5.1" fill="#4eee00"/><rect x="779.8" y="474.3" width="4.6" height="5.1" fill="#47ed00"/><rect x="784.1" y="474.3" width="4.6" height="5.1" fill="#1fe400"/><rect x="788.5" y="474.3" width="4.6" height="5.1" fill="#00dd01"/><rect x="792.8" y="474.3" width="4.6" height="5.1" fill="#00d80c"/><rect x="797.1" y="474.3" width="4.6" height="5.1" fill="#00d610"/><rect x="801.4" y="474.3" width="4.6" height="5.1" fill="#00d80c"/><rect x="805.8" y="474.3" width="4.6" height="5.1" fill="#0be000"/><rect x="810.1" y="474.3" width="4.6" height="5.1" fill="#52ef00"/><rect x="814.4" y="474.3" width="4.6" height="5.1" fill="#90fa00"/><rect x="818.7" y="474.3" width="4.6" height="5.1" fill="#c2fe00"/><rect x="823.0" y="474.3" width="4.6" height="5.1" fill="#cdfd00"/><rect x="827.4" y="474.3" width="4.6" height="5.1" fill="#c1fe00"/><rect x="831.7" y="474.3" width="4.6" height="5.1" fill="#b8ff00"/><rect x="836.0" y="474.3" width="4.6" height="5.1" fill="#affe00"/><rect x="840.4" y="474.3" width="4.6" height="5.1" fill="#a3fc00"/><rect x="844.7" y="474.3" width="4.6" height="5.1" fill="#96fa00"/><rect x="849.0" y="474.3" width="4.6" height="5.1" fill="#92fa00"/><rect x="853.3" y="474.3" width="4.6" height="5.1" fill="#95fa00"/><rect x="857.6" y="474.3" width="4.6" height="5.1" fill="#94fa00"/><rect x="862.0" y="474.3" width="4.6" height="5.1" fill="#8df900"/><rect x="866.3" y="474.3" width="4.6" height="5.1" fill="#95fa00"/><rect x="870.6" y="474.3" width="4.7" height="5.1" fill="#aafd00"/><rect x="680.0" y="479.1" width="4.9" height="5.1" fill="#00de00"/><rect x="684.6" y="479.1" width="4.6" height="5.1" fill="#03df00"/><rect x="689.0" y="479.1" width="4.6" height="5.1" fill="#0ae000"/><rect x="693.3" y="479.1" width="4.6" height="5.1" fill="#06df00"/><rect x="697.6" y="479.1" width="4.6" height="5.1" fill="#00dc04"/><rect x="701.9" y="479.1" width="4.6" height="5.1" fill="#00da08"/><rect x="706.3" y="479.1" width="4.6" height="5.1" fill="#00d90b"/><rect x="710.6" y="479.1" width="4.6" height="5.1" fill="#00d70f"/><rect x="714.9" y="479.1" width="8.9" height="5.1" fill="#00d513"/><rect x="723.6" y="479.1" width="4.6" height="5.1" fill="#00d80d"/><rect x="727.9" y="479.1" width="4.6" height="5.1" fill="#06df00"/><rect x="732.2" y="479.1" width="4.6" height="5.1" fill="#42ec00"/><rect x="736.5" y="479.1" width="4.6" height="5.1" fill="#76f600"/><rect x="740.9" y="479.1" width="4.6" height="5.1" fill="#9afb00"/><rect x="745.2" y="479.1" width="4.6" height="5.1" fill="#a6fc00"/><rect x="749.5" y="479.1" width="4.6" height="5.1" fill="#9afb00"/><rect x="753.9" y="479.1" width="4.6" height="5.1" fill="#7bf700"/><rect x="758.2" y="479.1" width="4.6" height="5.1" fill="#38ea00"/><rect x="762.5" y="479.1" width="4.6" height="5.1" fill="#12e200"/><rect x="766.8" y="479.1" width="4.6" height="5.1" fill="#0fe100"/><rect x="771.1" y="479.1" width="4.6" height="5.1" fill="#17e300"/><rect x="775.5" y="479.1" width="4.6" height="5.1" fill="#2be700"/><rect x="779.8" y="479.1" width="4.6" height="5.1" fill="#24e600"/><rect x="784.1" y="479.1" width="4.6" height="5.1" fill="#05df00"/><rect x="788.5" y="479.1" width="4.6" height="5.1" fill="#00d90a"/><rect x="792.8" y="479.1" width="4.6" height="5.1" fill="#00d415"/><rect x="797.1" y="479.1" width="4.6" height="5.1" fill="#00d317"/><rect x="801.4" y="479.1" width="4.6" height="5.1" fill="#00d610"/><rect x="805.8" y="479.1" width="4.6" height="5.1" fill="#0be000"/><rect x="810.1" y="479.1" width="4.6" height="5.1" fill="#5ef200"/><rect x="814.4" y="479.1" width="4.6" height="5.1" fill="#9bfb00"/><rect x="818.7" y="479.1" width="4.6" height="5.1" fill="#c9fd00"/><rect x="823.0" y="479.1" width="4.6" height="5.1" fill="#d3fc00"/><rect x="827.4" y="479.1" width="4.6" height="5.1" fill="#c6fe00"/><rect x="831.7" y="479.1" width="4.6" height="5.1" fill="#bcff00"/><rect x="836.0" y="479.1" width="4.6" height="5.1" fill="#b1fe00"/><rect x="840.4" y="479.1" width="4.6" height="5.1" fill="#b4fe00"/><rect x="844.7" y="479.1" width="4.6" height="5.1" fill="#c3fe00"/><rect x="849.0" y="479.1" width="4.6" height="5.1" fill="#d1fc00"/><rect x="853.3" y="479.1" width="4.6" height="5.1" fill="#e0fb00"/><rect x="857.6" y="479.1" width="4.6" height="5.1" fill="#defb00"/><rect x="862.0" y="479.1" width="4.6" height="5.1" fill="#c9fd00"/><rect x="866.3" y="479.1" width="4.6" height="5.1" fill="#bcff00"/><rect x="870.6" y="479.1" width="4.7" height="5.1" fill="#b3fe00"/><rect x="680.0" y="484.0" width="4.9" height="5.1" fill="#0ee100"/><rect x="684.6" y="484.0" width="4.6" height="5.1" fill="#10e100"/><rect x="689.0" y="484.0" width="4.6" height="5.1" fill="#14e200"/><rect x="693.3" y="484.0" width="4.6" height="5.1" fill="#0ce100"/><rect x="697.6" y="484.0" width="4.6" height="5.1" fill="#00dd03"/><rect x="701.9" y="484.0" width="4.6" height="5.1" fill="#00da08"/><rect x="706.3" y="484.0" width="4.6" height="5.1" fill="#00d90b"/><rect x="710.6" y="484.0" width="4.6" height="5.1" fill="#00d70e"/><rect x="714.9" y="484.0" width="4.6" height="5.1" fill="#00d610"/><rect x="719.2" y="484.0" width="4.6" height="5.1" fill="#00d70e"/><rect x="723.6" y="484.0" width="4.6" height="5.1" fill="#00d909"/><rect x="727.9" y="484.0" width="4.6" height="5.1" fill="#11e200"/><rect x="732.2" y="484.0" width="4.6" height="5.1" fill="#55f000"/><rect x="736.5" y="484.0" width="4.6" height="5.1" fill="#86f800"/><rect x="740.9" y="484.0" width="4.6" height="5.1" fill="#aafd00"/><rect x="745.2" y="484.0" width="4.6" height="5.1" fill="#b0fe00"/><rect x="749.5" y="484.0" width="4.6" height="5.1" fill="#97fa00"/><rect x="753.9" y="484.0" width="4.6" height="5.1" fill="#71f500"/><rect x="758.2" y="484.0" width="4.6" height="5.1" fill="#2ae700"/><rect x="762.5" y="484.0" width="4.6" height="5.1" fill="#0be000"/><rect x="766.8" y="484.0" width="4.6" height="5.1" fill="#16e300"/><rect x="771.1" y="484.0" width="4.6" height="5.1" fill="#27e600"/><rect x="775.5" y="484.0" width="4.6" height="5.1" fill="#3feb00"/><rect x="779.8" y="484.0" width="4.6" height="5.1" fill="#34e900"/><rect x="784.1" y="484.0" width="4.6" height="5.1" fill="#06df00"/><rect x="788.5" y="484.0" width="4.6" height="5.1" fill="#00d80d"/><rect x="792.8" y="484.0" width="4.6" height="5.1" fill="#00d219"/><rect x="797.1" y="484.0" width="4.6" height="5.1" fill="#00d11b"/><rect x="801.4" y="484.0" width="4.6" height="5.1" fill="#00d611"/><rect x="805.8" y="484.0" width="4.6" height="5.1" fill="#08e000"/><rect x="810.1" y="484.0" width="4.6" height="5.1" fill="#53ef00"/><rect x="814.4" y="484.0" width="4.6" height="5.1" fill="#8df900"/><rect x="818.7" y="484.0" width="4.6" height="5.1" fill="#bbff00"/><rect x="823.0" y="484.0" width="4.6" height="5.1" fill="#c2fe00"/><rect x="827.4" y="484.0" width="4.6" height="5.1" fill="#b3fe00"/><rect x="831.7" y="484.0" width="4.6" height="5.1" fill="#a6fc00"/><rect x="836.0" y="484.0" width="4.6" height="5.1" fill="#a1fc00"/><rect x="840.4" y="484.0" width="4.6" height="5.1" fill="#bbff00"/><rect x="844.7" y="484.0" width="4.6" height="5.1" fill="#defb00"/><rect x="849.0" y="484.0" width="4.6" height="5.1" fill="#efee00"/><rect x="853.3" y="484.0" width="4.6" height="5.1" fill="#f9e300"/><rect x="857.6" y="484.0" width="4.6" height="5.1" fill="#f6e600"/><rect x="862.0" y="484.0" width="4.6" height="5.1" fill="#e8f700"/><rect x="866.3" y="484.0" width="4.6" height="5.1" fill="#ccfd00"/><rect x="870.6" y="484.0" width="4.7" height="5.1" fill="#aafd00"/><rect x="680.0" y="488.8" width="4.9" height="5.1" fill="#29e700"/><rect x="684.6" y="488.8" width="4.6" height="5.1" fill="#2fe800"/><rect x="689.0" y="488.8" width="4.6" height="5.1" fill="#3ceb00"/><rect x="693.3" y="488.8" width="4.6" height="5.1" fill="#30e800"/><rect x="697.6" y="488.8" width="4.6" height="5.1" fill="#0ce100"/><rect x="701.9" y="488.8" width="4.6" height="5.1" fill="#00dc04"/><rect x="706.3" y="488.8" width="4.6" height="5.1" fill="#00da08"/><rect x="710.6" y="488.8" width="4.6" height="5.1" fill="#00da09"/><rect x="714.9" y="488.8" width="4.6" height="5.1" fill="#00db07"/><rect x="719.2" y="488.8" width="4.6" height="5.1" fill="#00dc05"/><rect x="723.6" y="488.8" width="4.6" height="5.1" fill="#00dc03"/><rect x="727.9" y="488.8" width="4.6" height="5.1" fill="#1ee400"/><rect x="732.2" y="488.8" width="4.6" height="5.1" fill="#64f300"/><rect x="736.5" y="488.8" width="4.6" height="5.1" fill="#90fa00"/><rect x="740.9" y="488.8" width="4.6" height="5.1" fill="#b3fe00"/><rect x="745.2" y="488.8" width="4.6" height="5.1" fill="#b1fe00"/><rect x="749.5" y="488.8" width="4.6" height="5.1" fill="#8bf900"/><rect x="753.9" y="488.8" width="4.6" height="5.1" fill="#61f200"/><rect x="758.2" y="488.8" width="4.6" height="5.1" fill="#2be700"/><rect x="762.5" y="488.8" width="4.6" height="5.1" fill="#21e500"/><rect x="766.8" y="488.8" width="4.6" height="5.1" fill="#42ec00"/><rect x="771.1" y="488.8" width="4.6" height="5.1" fill="#65f300"/><rect x="775.5" y="488.8" width="4.6" height="5.1" fill="#81f800"/><rect x="779.8" y="488.8" width="4.6" height="5.1" fill="#72f600"/><rect x="784.1" y="488.8" width="4.6" height="5.1" fill="#23e500"/><rect x="788.5" y="488.8" width="4.6" height="5.1" fill="#00d90a"/><rect x="792.8" y="488.8" width="4.6" height="5.1" fill="#00d218"/><rect x="797.1" y="488.8" width="4.6" height="5.1" fill="#00d11a"/><rect x="801.4" y="488.8" width="4.6" height="5.1" fill="#00d60f"/><rect x="805.8" y="488.8" width="4.6" height="5.1" fill="#01de00"/><rect x="810.1" y="488.8" width="4.6" height="5.1" fill="#34e900"/><rect x="814.4" y="488.8" width="4.6" height="5.1" fill="#62f200"/><rect x="818.7" y="488.8" width="4.6" height="5.1" fill="#82f800"/><rect x="823.0" y="488.8" width="4.6" height="5.1" fill="#86f800"/><rect x="827.4" y="488.8" width="4.6" height="5.1" fill="#72f600"/><rect x="831.7" y="488.8" width="4.6" height="5.1" fill="#70f500"/><rect x="836.0" y="488.8" width="4.6" height="5.1" fill="#80f700"/><rect x="840.4" y="488.8" width="4.6" height="5.1" fill="#baff00"/><rect x="844.7" y="488.8" width="4.6" height="5.1" fill="#eef000"/><rect x="849.0" y="488.8" width="4.6" height="5.1" fill="#fbd800"/><rect x="853.3" y="488.8" width="4.6" height="5.1" fill="#fecc00"/><rect x="857.6" y="488.8" width="4.6" height="5.1" fill="#fdd200"/><rect x="862.0" y="488.8" width="4.6" height="5.1" fill="#f3e900"/><rect x="866.3" y="488.8" width="4.6" height="5.1" fill="#d6fc00"/><rect x="870.6" y="488.8" width="4.7" height="5.1" fill="#8ef900"/><rect x="680.0" y="493.7" width="4.9" height="5.1" fill="#4dee00"/><rect x="684.6" y="493.7" width="4.6" height="5.1" fill="#4cee00"/><rect x="689.0" y="493.7" width="4.6" height="5.1" fill="#49ed00"/><rect x="693.3" y="493.7" width="4.6" height="5.1" fill="#34e900"/><rect x="697.6" y="493.7" width="4.6" height="5.1" fill="#0ee100"/><rect x="701.9" y="493.7" width="4.6" height="5.1" fill="#00dd03"/><rect x="706.3" y="493.7" width="4.6" height="5.1" fill="#00dc03"/><rect x="710.6" y="493.7" width="4.6" height="5.1" fill="#00de00"/><rect x="714.9" y="493.7" width="4.6" height="5.1" fill="#0ee100"/><rect x="719.2" y="493.7" width="4.6" height="5.1" fill="#11e100"/><rect x="723.6" y="493.7" width="4.6" height="5.1" fill="#06df00"/><rect x="727.9" y="493.7" width="4.6" height="5.1" fill="#20e500"/><rect x="732.2" y="493.7" width="4.6" height="5.1" fill="#61f200"/><rect x="736.5" y="493.7" width="4.6" height="5.1" fill="#89f900"/><rect x="740.9" y="493.7" width="4.6" height="5.1" fill="#a4fc00"/><rect x="745.2" y="493.7" width="4.6" height="5.1" fill="#a1fc00"/><rect x="749.5" y="493.7" width="4.6" height="5.1" fill="#7ff700"/><rect x="753.9" y="493.7" width="4.6" height="5.1" fill="#63f300"/><rect x="758.2" y="493.7" width="4.6" height="5.1" fill="#4dee00"/><rect x="762.5" y="493.7" width="4.6" height="5.1" fill="#57f000"/><rect x="766.8" y="493.7" width="4.6" height="5.1" fill="#7cf700"/><rect x="771.1" y="493.7" width="4.6" height="5.1" fill="#97fa00"/><rect x="775.5" y="493.7" width="4.6" height="5.1" fill="#b0fe00"/><rect x="779.8" y="493.7" width="4.6" height="5.1" fill="#9cfb00"/><rect x="784.1" y="493.7" width="4.6" height="5.1" fill="#53ef00"/><rect x="788.5" y="493.7" width="4.6" height="5.1" fill="#0ce100"/><rect x="792.8" y="493.7" width="4.6" height="5.1" fill="#00d70e"/><rect x="797.1" y="493.7" width="4.6" height="5.1" fill="#00d414"/><rect x="801.4" y="493.7" width="4.6" height="5.1" fill="#00d70d"/><rect x="805.8" y="493.7" width="4.6" height="5.1" fill="#00dc03"/><rect x="810.1" y="493.7" width="4.6" height="5.1" fill="#19e300"/><rect x="814.4" y="493.7" width="4.6" height="5.1" fill="#32e800"/><rect x="818.7" y="493.7" width="4.6" height="5.1" fill="#44ec00"/><rect x="823.0" y="493.7" width="4.6" height="5.1" fill="#43ec00"/><rect x="827.4" y="493.7" width="4.6" height="5.1" fill="#2ee800"/><rect x="831.7" y="493.7" width="4.6" height="5.1" fill="#3deb00"/><rect x="836.0" y="493.7" width="4.6" height="5.1" fill="#6ef500"/><rect x="840.4" y="493.7" width="4.6" height="5.1" fill="#bbff00"/><rect x="844.7" y="493.7" width="4.6" height="5.1" fill="#f4e900"/><rect x="849.0" y="493.7" width="4.6" height="5.1" fill="#fecb00"/><rect x="853.3" y="493.7" width="4.6" height="5.1" fill="#fdbd00"/><rect x="857.6" y="493.7" width="4.6" height="5.1" fill="#fec700"/><rect x="862.0" y="493.7" width="4.6" height="5.1" fill="#f6e600"/><rect x="866.3" y="493.7" width="4.6" height="5.1" fill="#d2fc00"/><rect x="870.6" y="493.7" width="4.7" height="5.1" fill="#79f600"/><rect x="680.0" y="498.5" width="4.9" height="5.1" fill="#76f600"/><rect x="684.6" y="498.5" width="4.6" height="5.1" fill="#64f300"/><rect x="689.0" y="498.5" width="4.6" height="5.1" fill="#3bea00"/><rect x="693.3" y="498.5" width="4.6" height="5.1" fill="#19e300"/><rect x="697.6" y="498.5" width="4.6" height="5.1" fill="#00dd01"/><rect x="701.9" y="498.5" width="4.6" height="5.1" fill="#00dc03"/><rect x="706.3" y="498.5" width="4.6" height="5.1" fill="#0ae000"/><rect x="710.6" y="498.5" width="4.6" height="5.1" fill="#1fe400"/><rect x="714.9" y="498.5" width="4.6" height="5.1" fill="#36e900"/><rect x="719.2" y="498.5" width="4.6" height="5.1" fill="#32e800"/><rect x="723.6" y="498.5" width="4.6" height="5.1" fill="#11e100"/><rect x="727.9" y="498.5" width="4.6" height="5.1" fill="#19e300"/><rect x="732.2" y="498.5" width="4.6" height="5.1" fill="#4cee00"/><rect x="736.5" y="498.5" width="4.6" height="5.1" fill="#6ff500"/><rect x="740.9" y="498.5" width="4.6" height="5.1" fill="#7df700"/><rect x="745.2" y="498.5" width="4.6" height="5.1" fill="#7ff700"/><rect x="749.5" y="498.5" width="4.6" height="5.1" fill="#74f600"/><rect x="753.9" y="498.5" width="4.6" height="5.1" fill="#75f600"/><rect x="758.2" y="498.5" width="4.6" height="5.1" fill="#85f800"/><rect x="762.5" y="498.5" width="4.6" height="5.1" fill="#9afb00"/><rect x="766.8" y="498.5" width="4.6" height="5.1" fill="#b5fe00"/><rect x="771.1" y="498.5" width="4.6" height="5.1" fill="#c3fe00"/><rect x="775.5" y="498.5" width="4.6" height="5.1" fill="#cdfd00"/><rect x="779.8" y="498.5" width="4.6" height="5.1" fill="#c0fe00"/><rect x="784.1" y="498.5" width="4.6" height="5.1" fill="#8af900"/><rect x="788.5" y="498.5" width="4.6" height="5.1" fill="#4cee00"/><rect x="792.8" y="498.5" width="4.6" height="5.1" fill="#0ce100"/><rect x="797.1" y="498.5" width="4.6" height="5.1" fill="#00da09"/><rect x="801.4" y="498.5" width="4.6" height="5.1" fill="#00d80b"/><rect x="805.8" y="498.5" width="4.6" height="5.1" fill="#00da08"/><rect x="810.1" y="498.5" width="4.6" height="5.1" fill="#03df00"/><rect x="814.4" y="498.5" width="4.6" height="5.1" fill="#0de100"/><rect x="818.7" y="498.5" width="4.6" height="5.1" fill="#0ce000"/><rect x="823.0" y="498.5" width="4.6" height="5.1" fill="#08e000"/><rect x="827.4" y="498.5" width="4.6" height="5.1" fill="#01de00"/><rect x="831.7" y="498.5" width="4.6" height="5.1" fill="#21e500"/><rect x="836.0" y="498.5" width="4.6" height="5.1" fill="#69f400"/><rect x="840.4" y="498.5" width="4.6" height="5.1" fill="#bdff00"/><rect x="844.7" y="498.5" width="4.6" height="5.1" fill="#f4e900"/><rect x="849.0" y="498.5" width="4.6" height="5.1" fill="#feca00"/><rect x="853.3" y="498.5" width="4.6" height="5.1" fill="#fcb800"/><rect x="857.6" y="498.5" width="4.6" height="5.1" fill="#fec600"/><rect x="862.0" y="498.5" width="4.6" height="5.1" fill="#efee00"/><rect x="866.3" y="498.5" width="4.6" height="5.1" fill="#c0fe00"/><rect x="870.6" y="498.5" width="4.7" height="5.1" fill="#68f400"/><rect x="680.0" y="503.3" width="4.9" height="5.1" fill="#70f500"/><rect x="684.6" y="503.3" width="4.6" height="5.1" fill="#59f100"/><rect x="689.0" y="503.3" width="4.6" height="5.1" fill="#29e600"/><rect x="693.3" y="503.3" width="4.6" height="5.1" fill="#07df00"/><rect x="697.6" y="503.3" width="8.9" height="5.1" fill="#00dc05"/><rect x="706.3" y="503.3" width="4.6" height="5.1" fill="#09e000"/><rect x="710.6" y="503.3" width="4.6" height="5.1" fill="#1ce400"/><rect x="714.9" y="503.3" width="4.6" height="5.1" fill="#2ce700"/><rect x="719.2" y="503.3" width="4.6" height="5.1" fill="#20e500"/><rect x="723.6" y="503.3" width="9.0" height="5.1" fill="#00dc03"/><rect x="732.2" y="503.3" width="4.6" height="5.1" fill="#20e500"/><rect x="736.5" y="503.3" width="4.6" height="5.1" fill="#36e900"/><rect x="740.9" y="503.3" width="4.6" height="5.1" fill="#3aea00"/><rect x="745.2" y="503.3" width="4.6" height="5.1" fill="#41ec00"/><rect x="749.5" y="503.3" width="4.6" height="5.1" fill="#49ed00"/><rect x="753.9" y="503.3" width="4.6" height="5.1" fill="#66f300"/><rect x="758.2" y="503.3" width="4.6" height="5.1" fill="#8af900"/><rect x="762.5" y="503.3" width="4.6" height="5.1" fill="#aafd00"/><rect x="766.8" y="503.3" width="4.6" height="5.1" fill="#c3fe00"/><rect x="771.1" y="503.3" width="4.6" height="5.1" fill="#d0fc00"/><rect x="775.5" y="503.3" width="4.6" height="5.1" fill="#d6fc00"/><rect x="779.8" y="503.3" width="4.6" height="5.1" fill="#ccfd00"/><rect x="784.1" y="503.3" width="4.6" height="5.1" fill="#a9fd00"/><rect x="788.5" y="503.3" width="4.6" height="5.1" fill="#7af700"/><rect x="792.8" y="503.3" width="4.6" height="5.1" fill="#39ea00"/><rect x="797.1" y="503.3" width="4.6" height="5.1" fill="#13e200"/><rect x="801.4" y="503.3" width="4.6" height="5.1" fill="#0ce000"/><rect x="805.8" y="503.3" width="4.6" height="5.1" fill="#08e000"/><rect x="810.1" y="503.3" width="4.6" height="5.1" fill="#06df00"/><rect x="814.4" y="503.3" width="4.6" height="5.1" fill="#00dd01"/><rect x="818.7" y="503.3" width="4.6" height="5.1" fill="#00da09"/><rect x="823.0" y="503.3" width="4.6" height="5.1" fill="#00d80c"/><rect x="827.4" y="503.3" width="4.6" height="5.1" fill="#00d90b"/><rect x="831.7" y="503.3" width="4.6" height="5.1" fill="#0ae000"/><rect x="836.0" y="503.3" width="4.6" height="5.1" fill="#50ef00"/><rect x="840.4" y="503.3" width="4.6" height="5.1" fill="#abfd00"/><rect x="844.7" y="503.3" width="4.6" height="5.1" fill="#edf100"/><rect x="849.0" y="503.3" width="4.6" height="5.1" fill="#fcd600"/><rect x="853.3" y="503.3" width="4.6" height="5.1" fill="#fec700"/><rect x="857.6" y="503.3" width="4.6" height="5.1" fill="#fcd400"/><rect x="862.0" y="503.3" width="4.6" height="5.1" fill="#e7f900"/><rect x="866.3" y="503.3" width="4.6" height="5.1" fill="#affe00"/><rect x="870.6" y="503.3" width="4.7" height="5.1" fill="#5ef200"/><rect x="680.0" y="508.2" width="4.9" height="5.1" fill="#34e900"/><rect x="684.6" y="508.2" width="4.6" height="5.1" fill="#29e600"/><rect x="689.0" y="508.2" width="4.6" height="5.1" fill="#11e200"/><rect x="693.3" y="508.2" width="4.6" height="5.1" fill="#00de01"/><rect x="697.6" y="508.2" width="4.6" height="5.1" fill="#00db06"/><rect x="701.9" y="508.2" width="4.6" height="5.1" fill="#00da08"/><rect x="706.3" y="508.2" width="4.6" height="5.1" fill="#00dc05"/><rect x="710.6" y="508.2" width="4.6" height="5.1" fill="#00dc04"/><rect x="714.9" y="508.2" width="4.6" height="5.1" fill="#00db07"/><rect x="719.2" y="508.2" width="4.6" height="5.1" fill="#00d70e"/><rect x="723.6" y="508.2" width="9.0" height="5.1" fill="#00d11b"/><rect x="732.2" y="508.2" width="4.6" height="5.1" fill="#00d70e"/><rect x="736.5" y="508.2" width="4.6" height="5.1" fill="#00d90a"/><rect x="740.9" y="508.2" width="4.6" height="5.1" fill="#00d70e"/><rect x="745.2" y="508.2" width="4.6" height="5.1" fill="#00d90b"/><rect x="749.5" y="508.2" width="4.6" height="5.1" fill="#00de01"/><rect x="753.9" y="508.2" width="4.6" height="5.1" fill="#29e700"/><rect x="758.2" y="508.2" width="4.6" height="5.1" fill="#66f300"/><rect x="762.5" y="508.2" width="4.6" height="5.1" fill="#91fa00"/><rect x="766.8" y="508.2" width="4.6" height="5.1" fill="#b9ff00"/><rect x="771.1" y="508.2" width="4.6" height="5.1" fill="#c9fd00"/><rect x="775.5" y="508.2" width="4.6" height="5.1" fill="#d0fc00"/><rect x="779.8" y="508.2" width="4.6" height="5.1" fill="#cafd00"/><rect x="784.1" y="508.2" width="4.6" height="5.1" fill="#baff00"/><rect x="788.5" y="508.2" width="4.6" height="5.1" fill="#95fa00"/><rect x="792.8" y="508.2" width="4.6" height="5.1" fill="#64f300"/><rect x="797.1" y="508.2" width="4.6" height="5.1" fill="#48ed00"/><rect x="801.4" y="508.2" width="4.6" height="5.1" fill="#55f000"/><rect x="805.8" y="508.2" width="4.6" height="5.1" fill="#48ed00"/><rect x="810.1" y="508.2" width="4.6" height="5.1" fill="#23e500"/><rect x="814.4" y="508.2" width="4.6" height="5.1" fill="#01de00"/><rect x="818.7" y="508.2" width="4.6" height="5.1" fill="#00d80d"/><rect x="823.0" y="508.2" width="4.6" height="5.1" fill="#00d511"/><rect x="827.4" y="508.2" width="4.6" height="5.1" fill="#00d70e"/><rect x="831.7" y="508.2" width="4.6" height="5.1" fill="#00dc03"/><rect x="836.0" y="508.2" width="4.6" height="5.1" fill="#26e600"/><rect x="840.4" y="508.2" width="4.6" height="5.1" fill="#81f800"/><rect x="844.7" y="508.2" width="4.6" height="5.1" fill="#d7fc00"/><rect x="849.0" y="508.2" width="4.6" height="5.1" fill="#f0ed00"/><rect x="853.3" y="508.2" width="4.6" height="5.1" fill="#f5e700"/><rect x="857.6" y="508.2" width="4.6" height="5.1" fill="#efef00"/><rect x="862.0" y="508.2" width="4.6" height="5.1" fill="#d3fc00"/><rect x="866.3" y="508.2" width="4.6" height="5.1" fill="#a3fc00"/><rect x="870.6" y="508.2" width="4.7" height="5.1" fill="#60f200"/><rect x="680.0" y="513.0" width="4.9" height="5.1" fill="#10e100"/><rect x="684.6" y="513.0" width="4.6" height="5.1" fill="#0be000"/><rect x="689.0" y="513.0" width="4.6" height="5.1" fill="#00de00"/><rect x="693.3" y="513.0" width="4.6" height="5.1" fill="#00dc04"/><rect x="697.6" y="513.0" width="4.6" height="5.1" fill="#00da07"/><rect x="701.9" y="513.0" width="4.6" height="5.1" fill="#00d909"/><rect x="706.3" y="513.0" width="4.6" height="5.1" fill="#00d90a"/><rect x="710.6" y="513.0" width="4.6" height="5.1" fill="#00d70e"/><rect x="714.9" y="513.0" width="4.6" height="5.1" fill="#00d316"/><rect x="719.2" y="513.0" width="4.6" height="5.1" fill="#00cf20"/><rect x="723.6" y="513.0" width="4.6" height="5.1" fill="#00c92b"/><rect x="727.9" y="513.0" width="4.6" height="5.1" fill="#00c82d"/><rect x="732.2" y="513.0" width="4.6" height="5.1" fill="#00cb27"/><rect x="736.5" y="513.0" width="4.6" height="5.1" fill="#00ca2a"/><rect x="740.9" y="513.0" width="4.6" height="5.1" fill="#00c736"/><rect x="745.2" y="513.0" width="4.6" height="5.1" fill="#00c732"/><rect x="749.5" y="513.0" width="4.6" height="5.1" fill="#00cf1f"/><rect x="753.9" y="513.0" width="4.6" height="5.1" fill="#00da08"/><rect x="758.2" y="513.0" width="4.6" height="5.1" fill="#30e800"/><rect x="762.5" y="513.0" width="4.6" height="5.1" fill="#72f600"/><rect x="766.8" y="513.0" width="4.6" height="5.1" fill="#a0fc00"/><rect x="771.1" y="513.0" width="4.6" height="5.1" fill="#bcff00"/><rect x="775.5" y="513.0" width="8.9" height="5.1" fill="#c4fe00"/><rect x="784.1" y="513.0" width="4.6" height="5.1" fill="#bdff00"/><rect x="788.5" y="513.0" width="4.6" height="5.1" fill="#a3fc00"/><rect x="792.8" y="513.0" width="4.6" height="5.1" fill="#78f600"/><rect x="797.1" y="513.0" width="4.6" height="5.1" fill="#64f300"/><rect x="801.4" y="513.0" width="4.6" height="5.1" fill="#71f500"/><rect x="805.8" y="513.0" width="4.6" height="5.1" fill="#61f200"/><rect x="810.1" y="513.0" width="4.6" height="5.1" fill="#31e800"/><rect x="814.4" y="513.0" width="4.6" height="5.1" fill="#06df00"/><rect x="818.7" y="513.0" width="4.6" height="5.1" fill="#00d80d"/><rect x="823.0" y="513.0" width="4.6" height="5.1" fill="#00d512"/><rect x="827.4" y="513.0" width="4.6" height="5.1" fill="#00d70e"/><rect x="831.7" y="513.0" width="4.6" height="5.1" fill="#00db06"/><rect x="836.0" y="513.0" width="4.6" height="5.1" fill="#11e200"/><rect x="840.4" y="513.0" width="4.6" height="5.1" fill="#5df200"/><rect x="844.7" y="513.0" width="4.6" height="5.1" fill="#b5fe00"/><rect x="849.0" y="513.0" width="4.6" height="5.1" fill="#d2fc00"/><rect x="853.3" y="513.0" width="4.6" height="5.1" fill="#d7fc00"/><rect x="857.6" y="513.0" width="4.6" height="5.1" fill="#cffd00"/><rect x="862.0" y="513.0" width="4.6" height="5.1" fill="#baff00"/><rect x="866.3" y="513.0" width="4.6" height="5.1" fill="#95fa00"/><rect x="870.6" y="513.0" width="4.7" height="5.1" fill="#6bf400"/><rect x="680.0" y="517.9" width="4.9" height="5.1" fill="#06df00"/><rect x="684.6" y="517.9" width="4.6" height="5.1" fill="#00de00"/><rect x="689.0" y="517.9" width="4.6" height="5.1" fill="#00dc04"/><rect x="693.3" y="517.9" width="4.6" height="5.1" fill="#00da07"/><rect x="697.6" y="517.9" width="4.6" height="5.1" fill="#00da08"/><rect x="701.9" y="517.9" width="4.6" height="5.1" fill="#00d90a"/><rect x="706.3" y="517.9" width="4.6" height="5.1" fill="#00d80c"/><rect x="710.6" y="517.9" width="4.6" height="5.1" fill="#00d511"/><rect x="714.9" y="517.9" width="4.6" height="5.1" fill="#00d11c"/><rect x="719.2" y="517.9" width="4.6" height="5.1" fill="#00cb26"/><rect x="723.6" y="517.9" width="4.6" height="5.1" fill="#00c732"/><rect x="727.9" y="517.9" width="4.6" height="5.1" fill="#00c63a"/><rect x="732.2" y="517.9" width="4.6" height="5.1" fill="#00c53f"/><rect x="736.5" y="517.9" width="4.6" height="5.1" fill="#00c34c"/><rect x="740.9" y="517.9" width="4.6" height="5.1" fill="#00c163"/><rect x="745.2" y="517.9" width="4.6" height="5.1" fill="#00c05f"/><rect x="749.5" y="517.9" width="4.6" height="5.1" fill="#00c541"/><rect x="753.9" y="517.9" width="4.6" height="5.1" fill="#00cd22"/><rect x="758.2" y="517.9" width="4.6" height="5.1" fill="#00dc04"/><rect x="762.5" y="517.9" width="4.6" height="5.1" fill="#3feb00"/><rect x="766.8" y="517.9" width="4.6" height="5.1" fill="#7df700"/><rect x="771.1" y="517.9" width="4.6" height="5.1" fill="#9efb00"/><rect x="775.5" y="517.9" width="4.6" height="5.1" fill="#affe00"/><rect x="779.8" y="517.9" width="4.6" height="5.1" fill="#b8ff00"/><rect x="784.1" y="517.9" width="4.6" height="5.1" fill="#b9ff00"/><rect x="788.5" y="517.9" width="4.6" height="5.1" fill="#a5fc00"/><rect x="792.8" y="517.9" width="4.6" height="5.1" fill="#7ef700"/><rect x="797.1" y="517.9" width="4.6" height="5.1" fill="#67f400"/><rect x="801.4" y="517.9" width="4.6" height="5.1" fill="#64f300"/><rect x="805.8" y="517.9" width="4.6" height="5.1" fill="#52ef00"/><rect x="810.1" y="517.9" width="4.6" height="5.1" fill="#2fe800"/><rect x="814.4" y="517.9" width="4.6" height="5.1" fill="#0de100"/><rect x="818.7" y="517.9" width="4.6" height="5.1" fill="#00da09"/><rect x="823.0" y="517.9" width="4.6" height="5.1" fill="#00d70e"/><rect x="827.4" y="517.9" width="4.6" height="5.1" fill="#00d80c"/><rect x="831.7" y="517.9" width="4.6" height="5.1" fill="#00dc04"/><rect x="836.0" y="517.9" width="4.6" height="5.1" fill="#13e200"/><rect x="840.4" y="517.9" width="4.6" height="5.1" fill="#42ec00"/><rect x="844.7" y="517.9" width="4.6" height="5.1" fill="#7df700"/><rect x="849.0" y="517.9" width="4.6" height="5.1" fill="#95fa00"/><rect x="853.3" y="517.9" width="4.6" height="5.1" fill="#98fb00"/><rect x="857.6" y="517.9" width="4.6" height="5.1" fill="#96fa00"/><rect x="862.0" y="517.9" width="4.6" height="5.1" fill="#8ff900"/><rect x="866.3" y="517.9" width="4.6" height="5.1" fill="#86f800"/><rect x="870.6" y="517.9" width="4.7" height="5.1" fill="#7bf700"/><rect x="680.0" y="522.7" width="4.9" height="5.1" fill="#00de00"/><rect x="684.6" y="522.7" width="4.6" height="5.1" fill="#00dd02"/><rect x="689.0" y="522.7" width="4.6" height="5.1" fill="#00dc05"/><rect x="693.3" y="522.7" width="4.6" height="5.1" fill="#00dc04"/><rect x="697.6" y="522.7" width="4.6" height="5.1" fill="#04df00"/><rect x="701.9" y="522.7" width="4.6" height="5.1" fill="#01de00"/><rect x="706.3" y="522.7" width="4.6" height="5.1" fill="#00da08"/><rect x="710.6" y="522.7" width="4.6" height="5.1" fill="#00d511"/><rect x="714.9" y="522.7" width="4.6" height="5.1" fill="#00d11c"/><rect x="719.2" y="522.7" width="4.6" height="5.1" fill="#00cc25"/><rect x="723.6" y="522.7" width="4.6" height="5.1" fill="#00c82d"/><rect x="727.9" y="522.7" width="4.6" height="5.1" fill="#00c63b"/><rect x="732.2" y="522.7" width="4.6" height="5.1" fill="#00c34c"/><rect x="736.5" y="522.7" width="4.6" height="5.1" fill="#00c166"/><rect x="740.9" y="522.7" width="4.6" height="5.1" fill="#00c789"/><rect x="745.2" y="522.7" width="4.6" height="5.1" fill="#00c686"/><rect x="749.5" y="522.7" width="4.6" height="5.1" fill="#00c05c"/><rect x="753.9" y="522.7" width="4.6" height="5.1" fill="#00c735"/><rect x="758.2" y="522.7" width="4.6" height="5.1" fill="#00d415"/><rect x="762.5" y="522.7" width="4.6" height="5.1" fill="#13e200"/><rect x="766.8" y="522.7" width="4.6" height="5.1" fill="#4eee00"/><rect x="771.1" y="522.7" width="4.6" height="5.1" fill="#77f600"/><rect x="775.5" y="522.7" width="4.6" height="5.1" fill="#8cf900"/><rect x="779.8" y="522.7" width="4.6" height="5.1" fill="#9bfb00"/><rect x="784.1" y="522.7" width="4.6" height="5.1" fill="#a3fc00"/><rect x="788.5" y="522.7" width="4.6" height="5.1" fill="#96fa00"/><rect x="792.8" y="522.7" width="4.6" height="5.1" fill="#75f600"/><rect x="797.1" y="522.7" width="4.6" height="5.1" fill="#59f100"/><rect x="801.4" y="522.7" width="4.6" height="5.1" fill="#4aed00"/><rect x="805.8" y="522.7" width="4.6" height="5.1" fill="#38ea00"/><rect x="810.1" y="522.7" width="4.6" height="5.1" fill="#23e500"/><rect x="814.4" y="522.7" width="4.6" height="5.1" fill="#0ce100"/><rect x="818.7" y="522.7" width="4.6" height="5.1" fill="#00dc05"/><rect x="823.0" y="522.7" width="4.6" height="5.1" fill="#00da08"/><rect x="827.4" y="522.7" width="4.6" height="5.1" fill="#00dc05"/><rect x="831.7" y="522.7" width="4.6" height="5.1" fill="#09e000"/><rect x="836.0" y="522.7" width="4.6" height="5.1" fill="#2be700"/><rect x="840.4" y="522.7" width="4.6" height="5.1" fill="#44ec00"/><rect x="844.7" y="522.7" width="4.6" height="5.1" fill="#53ef00"/><rect x="849.0" y="522.7" width="4.6" height="5.1" fill="#59f100"/><rect x="853.3" y="522.7" width="4.6" height="5.1" fill="#55f000"/><rect x="857.6" y="522.7" width="4.6" height="5.1" fill="#5af100"/><rect x="862.0" y="522.7" width="4.6" height="5.1" fill="#69f400"/><rect x="866.3" y="522.7" width="4.6" height="5.1" fill="#74f600"/><rect x="870.6" y="522.7" width="4.7" height="5.1" fill="#7bf700"/><rect x="680.0" y="527.5" width="4.9" height="5.1" fill="#00de00"/><rect x="684.6" y="527.5" width="4.6" height="5.1" fill="#00de01"/><rect x="689.0" y="527.5" width="4.6" height="5.1" fill="#00dd02"/><rect x="693.3" y="527.5" width="4.6" height="5.1" fill="#0fe100"/><rect x="697.6" y="527.5" width="4.6" height="5.1" fill="#38ea00"/><rect x="701.9" y="527.5" width="4.6" height="5.1" fill="#34e900"/><rect x="706.3" y="527.5" width="4.6" height="5.1" fill="#01de00"/><rect x="710.6" y="527.5" width="4.6" height="5.1" fill="#00d70e"/><rect x="714.9" y="527.5" width="4.6" height="5.1" fill="#00d316"/><rect x="719.2" y="527.5" width="4.6" height="5.1" fill="#00d11b"/><rect x="723.6" y="527.5" width="4.6" height="5.1" fill="#00cf1e"/><rect x="727.9" y="527.5" width="4.6" height="5.1" fill="#00c82e"/><rect x="732.2" y="527.5" width="4.6" height="5.1" fill="#00c34f"/><rect x="736.5" y="527.5" width="4.6" height="5.1" fill="#00c478"/><rect x="740.9" y="527.5" width="4.6" height="5.1" fill="#00cdac"/><rect x="745.2" y="527.5" width="4.6" height="5.1" fill="#00cca9"/><rect x="749.5" y="527.5" width="4.6" height="5.1" fill="#00c370"/><rect x="753.9" y="527.5" width="4.6" height="5.1" fill="#00c541"/><rect x="758.2" y="527.5" width="4.6" height="5.1" fill="#00cf1e"/><rect x="762.5" y="527.5" width="4.6" height="5.1" fill="#00db06"/><rect x="766.8" y="527.5" width="4.6" height="5.1" fill="#13e200"/><rect x="771.1" y="527.5" width="4.6" height="5.1" fill="#38ea00"/><rect x="775.5" y="527.5" width="4.6" height="5.1" fill="#60f200"/><rect x="779.8" y="527.5" width="4.6" height="5.1" fill="#76f600"/><rect x="784.1" y="527.5" width="4.6" height="5.1" fill="#7df700"/><rect x="788.5" y="527.5" width="4.6" height="5.1" fill="#75f600"/><rect x="792.8" y="527.5" width="4.6" height="5.1" fill="#56f000"/><rect x="797.1" y="527.5" width="4.6" height="5.1" fill="#39ea00"/><rect x="801.4" y="527.5" width="4.6" height="5.1" fill="#22e500"/><rect x="805.8" y="527.5" width="4.6" height="5.1" fill="#13e200"/><rect x="810.1" y="527.5" width="4.6" height="5.1" fill="#0ce000"/><rect x="814.4" y="527.5" width="4.6" height="5.1" fill="#04df00"/><rect x="818.7" y="527.5" width="4.6" height="5.1" fill="#00dd02"/><rect x="823.0" y="527.5" width="4.6" height="5.1" fill="#00de01"/><rect x="827.4" y="527.5" width="4.6" height="5.1" fill="#0ce100"/><rect x="831.7" y="527.5" width="4.6" height="5.1" fill="#2be700"/><rect x="836.0" y="527.5" width="4.6" height="5.1" fill="#5bf100"/><rect x="840.4" y="527.5" width="4.6" height="5.1" fill="#64f300"/><rect x="844.7" y="527.5" width="4.6" height="5.1" fill="#44ec00"/><rect x="849.0" y="527.5" width="4.6" height="5.1" fill="#2ee800"/><rect x="853.3" y="527.5" width="4.6" height="5.1" fill="#22e500"/><rect x="857.6" y="527.5" width="4.6" height="5.1" fill="#27e600"/><rect x="862.0" y="527.5" width="4.6" height="5.1" fill="#3feb00"/><rect x="866.3" y="527.5" width="4.6" height="5.1" fill="#55f000"/><rect x="870.6" y="527.5" width="4.7" height="5.1" fill="#6bf400"/><rect x="680.0" y="532.4" width="4.9" height="5.1" fill="#08e000"/><rect x="684.6" y="532.4" width="4.6" height="5.1" fill="#11e100"/><rect x="689.0" y="532.4" width="4.6" height="5.1" fill="#21e500"/><rect x="693.3" y="532.4" width="4.6" height="5.1" fill="#3deb00"/><rect x="697.6" y="532.4" width="4.6" height="5.1" fill="#63f300"/><rect x="701.9" y="532.4" width="4.6" height="5.1" fill="#53ef00"/><rect x="706.3" y="532.4" width="4.6" height="5.1" fill="#0de100"/><rect x="710.6" y="532.4" width="4.6" height="5.1" fill="#00d90b"/><rect x="714.9" y="532.4" width="4.6" height="5.1" fill="#00d70f"/><rect x="719.2" y="532.4" width="4.6" height="5.1" fill="#00d610"/><rect x="723.6" y="532.4" width="4.6" height="5.1" fill="#00d70e"/><rect x="727.9" y="532.4" width="4.6" height="5.1" fill="#00cf1f"/><rect x="732.2" y="532.4" width="4.6" height="5.1" fill="#00c443"/><rect x="736.5" y="532.4" width="4.6" height="5.1" fill="#00c26d"/><rect x="740.9" y="532.4" width="4.6" height="5.1" fill="#00ca9b"/><rect x="745.2" y="532.4" width="4.6" height="5.1" fill="#00c999"/><rect x="749.5" y="532.4" width="4.6" height="5.1" fill="#00c167"/><rect x="753.9" y="532.4" width="4.6" height="5.1" fill="#00c53f"/><rect x="758.2" y="532.4" width="4.6" height="5.1" fill="#00ce21"/><rect x="762.5" y="532.4" width="4.6" height="5.1" fill="#00d70f"/><rect x="766.8" y="532.4" width="4.6" height="5.1" fill="#00db06"/><rect x="771.1" y="532.4" width="4.6" height="5.1" fill="#0ce100"/><rect x="775.5" y="532.4" width="4.6" height="5.1" fill="#30e800"/><rect x="779.8" y="532.4" width="4.6" height="5.1" fill="#48ed00"/><rect x="784.1" y="532.4" width="4.6" height="5.1" fill="#55f000"/><rect x="788.5" y="532.4" width="4.6" height="5.1" fill="#4eee00"/><rect x="792.8" y="532.4" width="4.6" height="5.1" fill="#36e900"/><rect x="797.1" y="532.4" width="4.6" height="5.1" fill="#1ce400"/><rect x="801.4" y="532.4" width="4.6" height="5.1" fill="#00de00"/><rect x="805.8" y="532.4" width="4.6" height="5.1" fill="#00dc05"/><rect x="810.1" y="532.4" width="4.6" height="5.1" fill="#00dc04"/><rect x="814.4" y="532.4" width="4.6" height="5.1" fill="#00dd02"/><rect x="818.7" y="532.4" width="4.6" height="5.1" fill="#04df00"/><rect x="823.0" y="532.4" width="4.6" height="5.1" fill="#13e200"/><rect x="827.4" y="532.4" width="4.6" height="5.1" fill="#29e700"/><rect x="831.7" y="532.4" width="4.6" height="5.1" fill="#4bee00"/><rect x="836.0" y="532.4" width="4.6" height="5.1" fill="#75f600"/><rect x="840.4" y="532.4" width="4.6" height="5.1" fill="#70f500"/><rect x="844.7" y="532.4" width="4.6" height="5.1" fill="#36e900"/><rect x="849.0" y="532.4" width="4.6" height="5.1" fill="#11e200"/><rect x="853.3" y="532.4" width="4.6" height="5.1" fill="#02de00"/><rect x="857.6" y="532.4" width="4.6" height="5.1" fill="#04df00"/><rect x="862.0" y="532.4" width="4.6" height="5.1" fill="#17e300"/><rect x="866.3" y="532.4" width="4.6" height="5.1" fill="#2be700"/><rect x="870.6" y="532.4" width="4.7" height="5.1" fill="#40eb00"/><rect x="680.0" y="537.2" width="4.9" height="5.1" fill="#19e300"/><rect x="684.6" y="537.2" width="4.6" height="5.1" fill="#31e800"/><rect x="689.0" y="537.2" width="4.6" height="5.1" fill="#63f300"/><rect x="693.3" y="537.2" width="4.6" height="5.1" fill="#79f600"/><rect x="697.6" y="537.2" width="4.6" height="5.1" fill="#7df700"/><rect x="701.9" y="537.2" width="4.6" height="5.1" fill="#60f200"/><rect x="706.3" y="537.2" width="4.6" height="5.1" fill="#11e200"/><rect x="710.6" y="537.2" width="4.6" height="5.1" fill="#00da08"/><rect x="714.9" y="537.2" width="4.6" height="5.1" fill="#00db06"/><rect x="719.2" y="537.2" width="4.6" height="5.1" fill="#00dc03"/><rect x="723.6" y="537.2" width="4.6" height="5.1" fill="#05df00"/><rect x="727.9" y="537.2" width="4.6" height="5.1" fill="#00d90b"/><rect x="732.2" y="537.2" width="4.6" height="5.1" fill="#00ca2a"/><rect x="736.5" y="537.2" width="4.6" height="5.1" fill="#00c445"/><rect x="740.9" y="537.2" width="4.6" height="5.1" fill="#00c159"/><rect x="745.2" y="537.2" width="4.6" height="5.1" fill="#00c158"/><rect x="749.5" y="537.2" width="4.6" height="5.1" fill="#00c443"/><rect x="753.9" y="537.2" width="4.6" height="5.1" fill="#00c82f"/><rect x="758.2" y="537.2" width="4.6" height="5.1" fill="#00cf1e"/><rect x="762.5" y="537.2" width="4.6" height="5.1" fill="#00d512"/><rect x="766.8" y="537.2" width="4.6" height="5.1" fill="#00d90a"/><rect x="771.1" y="537.2" width="4.6" height="5.1" fill="#00dd03"/><rect x="775.5" y="537.2" width="4.6" height="5.1" fill="#0ce100"/><rect x="779.8" y="537.2" width="4.6" height="5.1" fill="#1ee400"/><rect x="784.1" y="537.2" width="4.6" height="5.1" fill="#2de700"/><rect x="788.5" y="537.2" width="4.6" height="5.1" fill="#2be700"/><rect x="792.8" y="537.2" width="4.6" height="5.1" fill="#17e300"/><rect x="797.1" y="537.2" width="4.6" height="5.1" fill="#00de00"/><rect x="801.4" y="537.2" width="4.6" height="5.1" fill="#00d80b"/><rect x="805.8" y="537.2" width="4.6" height="5.1" fill="#00d70f"/><rect x="810.1" y="537.2" width="4.6" height="5.1" fill="#00d80c"/><rect x="814.4" y="537.2" width="4.6" height="5.1" fill="#00dc05"/><rect x="818.7" y="537.2" width="4.6" height="5.1" fill="#0ce100"/><rect x="823.0" y="537.2" width="4.6" height="5.1" fill="#29e700"/><rect x="827.4" y="537.2" width="4.6" height="5.1" fill="#4aee00"/><rect x="831.7" y="537.2" width="4.6" height="5.1" fill="#68f400"/><rect x="836.0" y="537.2" width="4.6" height="5.1" fill="#7cf700"/><rect x="840.4" y="537.2" width="4.6" height="5.1" fill="#6df500"/><rect x="844.7" y="537.2" width="4.6" height="5.1" fill="#2ae700"/><rect x="849.0" y="537.2" width="4.6" height="5.1" fill="#02de00"/><rect x="853.3" y="537.2" width="4.6" height="5.1" fill="#00dc04"/><rect x="857.6" y="537.2" width="4.6" height="5.1" fill="#00db06"/><rect x="862.0" y="537.2" width="4.6" height="5.1" fill="#00dc05"/><rect x="866.3" y="537.2" width="4.6" height="5.1" fill="#00dc03"/><rect x="870.6" y="537.2" width="4.7" height="5.1" fill="#00de00"/><rect x="680.0" y="542.1" width="4.9" height="5.1" fill="#1ee400"/><rect x="684.6" y="542.1" width="4.6" height="5.1" fill="#39ea00"/><rect x="689.0" y="542.1" width="4.6" height="5.1" fill="#6ef500"/><rect x="693.3" y="542.1" width="4.6" height="5.1" fill="#7df700"/><rect x="697.6" y="542.1" width="4.6" height="5.1" fill="#74f600"/><rect x="701.9" y="542.1" width="4.6" height="5.1" fill="#50ef00"/><rect x="706.3" y="542.1" width="4.6" height="5.1" fill="#10e100"/><rect x="710.6" y="542.1" width="4.6" height="5.1" fill="#00de01"/><rect x="714.9" y="542.1" width="4.6" height="5.1" fill="#1be400"/><rect x="719.2" y="542.1" width="4.6" height="5.1" fill="#31e800"/><rect x="723.6" y="542.1" width="4.6" height="5.1" fill="#40eb00"/><rect x="727.9" y="542.1" width="4.6" height="5.1" fill="#29e700"/><rect x="732.2" y="542.1" width="4.6" height="5.1" fill="#00da08"/><rect x="736.5" y="542.1" width="4.6" height="5.1" fill="#00d415"/><rect x="740.9" y="542.1" width="4.6" height="5.1" fill="#00d317"/><rect x="745.2" y="542.1" width="4.6" height="5.1" fill="#00d11a"/><rect x="749.5" y="542.1" width="4.6" height="5.1" fill="#00d01e"/><rect x="753.9" y="542.1" width="4.6" height="5.1" fill="#00d01c"/><rect x="758.2" y="542.1" width="4.6" height="5.1" fill="#00d316"/><rect x="762.5" y="542.1" width="4.6" height="5.1" fill="#00d611"/><rect x="766.8" y="542.1" width="4.6" height="5.1" fill="#00d80c"/><rect x="771.1" y="542.1" width="4.6" height="5.1" fill="#00da07"/><rect x="775.5" y="542.1" width="4.6" height="5.1" fill="#00dc04"/><rect x="779.8" y="542.1" width="4.6" height="5.1" fill="#02de00"/><rect x="784.1" y="542.1" width="4.6" height="5.1" fill="#11e200"/><rect x="788.5" y="542.1" width="4.6" height="5.1" fill="#13e200"/><rect x="792.8" y="542.1" width="4.6" height="5.1" fill="#06df00"/><rect x="797.1" y="542.1" width="4.6" height="5.1" fill="#00db05"/><rect x="801.4" y="542.1" width="4.6" height="5.1" fill="#00d610"/><rect x="805.8" y="542.1" width="4.6" height="5.1" fill="#00d513"/><rect x="810.1" y="542.1" width="4.6" height="5.1" fill="#00d70f"/><rect x="814.4" y="542.1" width="4.6" height="5.1" fill="#00db07"/><rect x="818.7" y="542.1" width="4.6" height="5.1" fill="#0be000"/><rect x="823.0" y="542.1" width="4.6" height="5.1" fill="#27e600"/><rect x="827.4" y="542.1" width="4.6" height="5.1" fill="#44ec00"/><rect x="831.7" y="542.1" width="4.6" height="5.1" fill="#59f100"/><rect x="836.0" y="542.1" width="4.6" height="5.1" fill="#65f300"/><rect x="840.4" y="542.1" width="4.6" height="5.1" fill="#4fef00"/><rect x="844.7" y="542.1" width="4.6" height="5.1" fill="#17e300"/><rect x="849.0" y="542.1" width="4.6" height="5.1" fill="#00dc04"/><rect x="853.3" y="542.1" width="4.6" height="5.1" fill="#00da08"/><rect x="857.6" y="542.1" width="4.6" height="5.1" fill="#00d70d"/><rect x="862.0" y="542.1" width="4.6" height="5.1" fill="#00d414"/><rect x="866.3" y="542.1" width="4.6" height="5.1" fill="#00d11a"/><rect x="870.6" y="542.1" width="4.7" height="5.1" fill="#00ce20"/><rect x="680.0" y="546.9" width="4.9" height="5.1" fill="#19e300"/><rect x="684.6" y="546.9" width="4.6" height="5.1" fill="#27e600"/><rect x="689.0" y="546.9" width="4.6" height="5.1" fill="#44ec00"/><rect x="693.3" y="546.9" width="4.6" height="5.1" fill="#4bee00"/><rect x="697.6" y="546.9" width="4.6" height="5.1" fill="#3ceb00"/><rect x="701.9" y="546.9" width="4.6" height="5.1" fill="#26e600"/><rect x="706.3" y="546.9" width="4.6" height="5.1" fill="#09e000"/><rect x="710.6" y="546.9" width="4.6" height="5.1" fill="#1be400"/><rect x="714.9" y="546.9" width="4.6" height="5.1" fill="#5bf100"/><rect x="719.2" y="546.9" width="4.6" height="5.1" fill="#7cf700"/><rect x="723.6" y="546.9" width="4.6" height="5.1" fill="#84f800"/><rect x="727.9" y="546.9" width="4.6" height="5.1" fill="#7bf700"/><rect x="732.2" y="546.9" width="4.6" height="5.1" fill="#5bf100"/><rect x="736.5" y="546.9" width="4.6" height="5.1" fill="#52ef00"/><rect x="740.9" y="546.9" width="4.6" height="5.1" fill="#66f300"/><rect x="745.2" y="546.9" width="4.6" height="5.1" fill="#52ef00"/><rect x="749.5" y="546.9" width="4.6" height="5.1" fill="#14e200"/><rect x="753.9" y="546.9" width="4.6" height="5.1" fill="#00db06"/><rect x="758.2" y="546.9" width="4.6" height="5.1" fill="#00d90a"/><rect x="762.5" y="546.9" width="4.6" height="5.1" fill="#00d80c"/><rect x="766.8" y="546.9" width="4.6" height="5.1" fill="#00d90a"/><rect x="771.1" y="546.9" width="4.6" height="5.1" fill="#00da08"/><rect x="775.5" y="546.9" width="4.6" height="5.1" fill="#00da07"/><rect x="779.8" y="546.9" width="4.6" height="5.1" fill="#00dc04"/><rect x="784.1" y="546.9" width="4.6" height="5.1" fill="#02de00"/><rect x="788.5" y="546.9" width="4.6" height="5.1" fill="#06df00"/><rect x="792.8" y="546.9" width="4.6" height="5.1" fill="#02de00"/><rect x="797.1" y="546.9" width="4.6" height="5.1" fill="#00dc05"/><rect x="801.4" y="546.9" width="4.6" height="5.1" fill="#00d70e"/><rect x="805.8" y="546.9" width="4.6" height="5.1" fill="#00d611"/><rect x="810.1" y="546.9" width="4.6" height="5.1" fill="#00d80c"/><rect x="814.4" y="546.9" width="4.6" height="5.1" fill="#00db07"/><rect x="818.7" y="546.9" width="4.6" height="5.1" fill="#00de00"/><rect x="823.0" y="546.9" width="4.6" height="5.1" fill="#0de100"/><rect x="827.4" y="546.9" width="4.6" height="5.1" fill="#17e300"/><rect x="831.7" y="546.9" width="4.6" height="5.1" fill="#1ee400"/><rect x="836.0" y="546.9" width="4.6" height="5.1" fill="#22e500"/><rect x="840.4" y="546.9" width="4.6" height="5.1" fill="#17e300"/><rect x="844.7" y="546.9" width="4.6" height="5.1" fill="#00dd01"/><rect x="849.0" y="546.9" width="4.6" height="5.1" fill="#00da08"/><rect x="853.3" y="546.9" width="4.6" height="5.1" fill="#00d90b"/><rect x="857.6" y="546.9" width="4.6" height="5.1" fill="#00d414"/><rect x="862.0" y="546.9" width="4.6" height="5.1" fill="#00cc24"/><rect x="866.3" y="546.9" width="4.6" height="5.1" fill="#00c735"/><rect x="870.6" y="546.9" width="4.7" height="5.1" fill="#00c448"/><rect x="680.0" y="551.7" width="4.9" height="4.6" fill="#16e300"/><rect x="684.6" y="551.7" width="4.6" height="4.6" fill="#1ee400"/><rect x="689.0" y="551.7" width="8.9" height="4.6" fill="#2fe800"/><rect x="697.6" y="551.7" width="4.6" height="4.6" fill="#1ee400"/><rect x="701.9" y="551.7" width="4.6" height="4.6" fill="#10e100"/><rect x="706.3" y="551.7" width="4.6" height="4.6" fill="#06df00"/><rect x="710.6" y="551.7" width="4.6" height="4.6" fill="#29e700"/><rect x="714.9" y="551.7" width="4.6" height="4.6" fill="#77f600"/><rect x="719.2" y="551.7" width="4.6" height="4.6" fill="#97fa00"/><rect x="723.6" y="551.7" width="4.6" height="4.6" fill="#9ffc00"/><rect x="727.9" y="551.7" width="4.6" height="4.6" fill="#99fb00"/><rect x="732.2" y="551.7" width="4.6" height="4.6" fill="#86f800"/><rect x="736.5" y="551.7" width="4.6" height="4.6" fill="#88f800"/><rect x="740.9" y="551.7" width="4.6" height="4.6" fill="#9ffc00"/><rect x="745.2" y="551.7" width="4.6" height="4.6" fill="#8cf900"/><rect x="749.5" y="551.7" width="4.6" height="4.6" fill="#42ec00"/><rect x="753.9" y="551.7" width="4.6" height="4.6" fill="#0be000"/><rect x="758.2" y="551.7" width="4.6" height="4.6" fill="#00dc04"/><rect x="762.5" y="551.7" width="17.6" height="4.6" fill="#00da09"/><rect x="779.8" y="551.7" width="4.6" height="4.6" fill="#00db07"/><rect x="784.1" y="551.7" width="4.6" height="4.6" fill="#00dd02"/><rect x="788.5" y="551.7" width="8.9" height="4.6" fill="#00de00"/><rect x="797.1" y="551.7" width="4.6" height="4.6" fill="#00dc04"/><rect x="801.4" y="551.7" width="4.6" height="4.6" fill="#00d70e"/><rect x="805.8" y="551.7" width="4.6" height="4.6" fill="#00d610"/><rect x="810.1" y="551.7" width="4.6" height="4.6" fill="#00d80b"/><rect x="814.4" y="551.7" width="4.6" height="4.6" fill="#00db07"/><rect x="818.7" y="551.7" width="4.6" height="4.6" fill="#00dd02"/><rect x="823.0" y="551.7" width="17.6" height="4.6" fill="#00de00"/><rect x="840.4" y="551.7" width="4.6" height="4.6" fill="#00dd02"/><rect x="844.7" y="551.7" width="4.6" height="4.6" fill="#00db07"/><rect x="849.0" y="551.7" width="4.6" height="4.6" fill="#00d90a"/><rect x="853.3" y="551.7" width="4.6" height="4.6" fill="#00d80c"/><rect x="857.6" y="551.7" width="4.6" height="4.6" fill="#00d218"/><rect x="862.0" y="551.7" width="4.6" height="4.6" fill="#00c92c"/><rect x="866.3" y="551.7" width="4.6" height="4.6" fill="#00c443"/><rect x="870.6" y="551.7" width="4.7" height="4.6" fill="#00c05c"/></g><rect x="679" y="325" width="199" height="1"/><rect x="679" y="556" width="199" height="1"/><rect x="679" y="325" width="1" height="232"/><rect x="877" y="325" width="1" height="232"/><rect x="699" y="323" width="1" height="2"/><rect x="699" y="557" width="1" height="2"/><rect x="734" y="323" width="1" height="2"/><rect x="734" y="557" width="1" height="2"/><rect x="769" y="323" width="1" height="2"/><rect x="769" y="557" width="1" height="2"/><rect x="803" y="323" width="1" height="2"/><rect x="803" y="557" width="1" height="2"/><rect x="838" y="323" width="1" height="2"/><rect x="838" y="557" width="1" height="2"/><rect x="872" y="323" width="1" height="2"/><rect x="872" y="557" width="1" height="2"/><rect x="677" y="355" width="2" height="1"/><rect x="878" y="355" width="2" height="1"/><rect x="677" y="394" width="2" height="1"/><rect x="878" y="394" width="2" height="1"/><rect x="677" y="432" width="2" height="1"/><rect x="878" y="432" width="2" height="1"/><rect x="677" y="471" width="2" height="1"/><rect x="878" y="471" width="2" height="1"/><rect x="677" y="510" width="2" height="1"/><rect x="878" y="510" width="2" height="1"/><rect x="677" y="548" width="2" height="1"/><rect x="878" y="548" width="2" height="1"/><circle cx="778.5" cy="441" r="4.8" fill="none" stroke="#000" stroke-width="1.2" shape-rendering="crispEdges"/>
<rect x="885.5" y="538.5" width="8" height="7.5" fill="none" stroke="#000" stroke-width="1" stroke-dasharray="1,1" shape-rendering="crispEdges"/>
<g filter="url(#crisp2)"><text x="59" y="27" font-size="15.2" textLength="494" lengthAdjust="spacingAndGlyphs">Argo profile: CS 5904218_248 10-Oct-2012 20121014_478 26.475S 102.542E</text>
<text x="59" y="43" font-size="15.2" textLength="554" lengthAdjust="spacingAndGlyphs">Climatology: CARS2009. Satellite-adjusted climatology: synTS_20121012.nc (1.5d later)</text></g><g filter="url(#crisp)"><text x="27.8" y="57.2" font-size="12.3" text-anchor="end">0</text>
<text x="27.8" y="81.2" font-size="12.3" text-anchor="end">100</text>
<text x="27.8" y="105.2" font-size="12.3" text-anchor="end">200</text>
<text x="27.8" y="129.2" font-size="12.3" text-anchor="end">300</text>
<text x="27.8" y="153.2" font-size="12.3" text-anchor="end">400</text>
<text x="27.8" y="177.2" font-size="12.3" text-anchor="end">500</text>
<text x="27.8" y="201.2" font-size="12.3" text-anchor="end">600</text>
<text x="27.8" y="225.2" font-size="12.3" text-anchor="end">700</text>
<text x="27.8" y="249.2" font-size="12.3" text-anchor="end">800</text>
<text x="27.8" y="273.2" font-size="12.3" text-anchor="end">900</text>
<text x="27.8" y="297.2" font-size="12.3" text-anchor="end">1000</text>
<text x="27.8" y="321.2" font-size="12.3" text-anchor="end">1100</text>
<text x="27.8" y="345.2" font-size="12.3" text-anchor="end">1200</text>
<text x="27.8" y="369.2" font-size="12.3" text-anchor="end">1300</text>
<text x="27.8" y="393.2" font-size="12.3" text-anchor="end">1400</text>
<text x="27.8" y="417.2" font-size="12.3" text-anchor="end">1500</text>
<text x="27.8" y="441.2" font-size="12.3" text-anchor="end">1600</text>
<text x="27.8" y="465.2" font-size="12.3" text-anchor="end">1700</text>
<text x="27.8" y="489.2" font-size="12.3" text-anchor="end">1800</text>
<text x="27.8" y="513.2" font-size="12.3" text-anchor="end">1900</text>
<text x="27.8" y="537.2" font-size="12.3" text-anchor="end">2000</text>
<text x="43.5" y="561" font-size="12.3" text-anchor="middle">0</text>
<text x="73.5" y="561" font-size="12.3" text-anchor="middle">5</text>
<text x="102.5" y="561" font-size="12.3" text-anchor="middle">10</text>
<text x="131.5" y="561" font-size="12.3" text-anchor="middle">15</text>
<text x="160.5" y="561" font-size="12.3" text-anchor="middle">20</text>
<text x="190.5" y="561" font-size="12.3" text-anchor="middle">25</text>
<text x="219.5" y="561" font-size="12.3" text-anchor="middle">30</text>
<text x="129" y="575.5" font-size="12.3" text-anchor="middle" textLength="110" lengthAdjust="spacingAndGlyphs">temperature (deg C)</text>
<text x="257.5" y="561" font-size="12.3" text-anchor="middle">34</text>
<text x="300.5" y="561" font-size="12.3" text-anchor="middle">34.5</text>
<text x="344.5" y="561" font-size="12.3" text-anchor="middle">35</text>
<text x="387.5" y="561" font-size="12.3" text-anchor="middle">35.5</text>
<text x="431.5" y="561" font-size="12.3" text-anchor="middle">36</text>
<text x="336.5" y="575.5" font-size="12.3" text-anchor="middle" textLength="37.7" lengthAdjust="spacingAndGlyphs">salinity</text>
<text x="326.6" y="517.8" font-size="12.3" textLength="78.5" lengthAdjust="spacingAndGlyphs">Argo Australia</text>
<text x="326.6" y="531.4" font-size="12.3" textLength="94" lengthAdjust="spacingAndGlyphs">PI: Susan Wijffels</text>
<text x="90.7" y="403.7" font-size="12.3" textLength="61.3" lengthAdjust="spacingAndGlyphs">climatology</text>
<text x="90.7" y="417.6" font-size="12.3" textLength="94.7" lengthAdjust="spacingAndGlyphs">satellite-adj. clim.</text>
<text x="90.7" y="431.6" font-size="12.3" textLength="87.6" lengthAdjust="spacingAndGlyphs">Argo(..raw -QC)</text>
<text x="343.4" y="403.7" font-size="12.3" textLength="61.3" lengthAdjust="spacingAndGlyphs">climatology</text>
<text x="343.4" y="417.6" font-size="12.3" textLength="94.7" lengthAdjust="spacingAndGlyphs">satellite-adj. clim.</text>
<text x="343.4" y="431.6" font-size="12.3" textLength="87.6" lengthAdjust="spacingAndGlyphs">Argo(..raw -QC)</text>
<text x="481.6" y="403.9" font-size="12.3" textLength="63" lengthAdjust="spacingAndGlyphs">temperature</text>
<text x="481.6" y="417.4" font-size="12.3">satellite</text>
<text x="481.6" y="431.2" font-size="12.3">Argo(-adj)</text>
<text x="582.6" y="403.9" font-size="12.3">salinity</text>
<text x="582.6" y="417.4" font-size="12.3">satellite</text>
<text x="582.6" y="431.2" font-size="12.3">Argo(-adj)</text>
<text x="467.6" y="524.7" font-size="12.3" textLength="159.6" lengthAdjust="spacingAndGlyphs">S difference from climatology</text>
<text x="480.6" y="540" font-size="12.3" text-anchor="middle">-0.5</text>
<text x="513" y="540" font-size="12.3" text-anchor="middle">-0.25</text>
<text x="547.5" y="540" font-size="12.3" text-anchor="middle">0</text>
<text x="581.8" y="540" font-size="12.3" text-anchor="middle">0.25</text>
<text x="614.3" y="540" font-size="12.3" text-anchor="middle">0.5</text>
<text x="478.5" y="561" font-size="12.3" text-anchor="middle">-2</text>
<text x="510.6" y="561" font-size="12.3" text-anchor="middle">-1</text>
<text x="548.5" y="561" font-size="12.3" text-anchor="middle">0</text>
<text x="581.5" y="561" font-size="12.3" text-anchor="middle">1</text>
<text x="614.5" y="561" font-size="12.3" text-anchor="middle">2</text>
<text x="546.6" y="575.5" font-size="12.3" text-anchor="middle" textLength="158.4" lengthAdjust="spacingAndGlyphs">T difference from climatology</text>
<text x="699.5" y="285" font-size="12.3" text-anchor="middle">98</text><text x="734.5" y="285" font-size="12.3" text-anchor="middle">100</text><text x="769.5" y="285" font-size="12.3" text-anchor="middle">102</text><text x="803.5" y="285" font-size="12.3" text-anchor="middle">104</text><text x="838.5" y="285" font-size="12.3" text-anchor="middle">106</text><text x="872.5" y="285" font-size="12.3" text-anchor="middle">108</text><text x="673.6" y="68.5" font-size="12.3" text-anchor="end">-22</text><text x="673.6" y="107.5" font-size="12.3" text-anchor="end">-24</text><text x="673.6" y="145.5" font-size="12.3" text-anchor="end">-26</text><text x="673.6" y="184.5" font-size="12.3" text-anchor="end">-28</text><text x="673.6" y="223.5" font-size="12.3" text-anchor="end">-30</text><text x="673.6" y="261.5" font-size="12.3" text-anchor="end">-32</text><text x="776" y="27" font-size="12.3" text-anchor="middle" textLength="127" lengthAdjust="spacingAndGlyphs">sat. SST: 21 Argo: 21.1</text>
<text x="699.5" y="575" font-size="12.3" text-anchor="middle">98</text><text x="734.5" y="575" font-size="12.3" text-anchor="middle">100</text><text x="769.5" y="575" font-size="12.3" text-anchor="middle">102</text><text x="803.5" y="575" font-size="12.3" text-anchor="middle">104</text><text x="838.5" y="575" font-size="12.3" text-anchor="middle">106</text><text x="872.5" y="575" font-size="12.3" text-anchor="middle">108</text><text x="673.6" y="359.5" font-size="12.3" text-anchor="end">-22</text><text x="673.6" y="398.5" font-size="12.3" text-anchor="end">-24</text><text x="673.6" y="436.5" font-size="12.3" text-anchor="end">-26</text><text x="673.6" y="475.5" font-size="12.3" text-anchor="end">-28</text><text x="673.6" y="514.5" font-size="12.3" text-anchor="end">-30</text><text x="673.6" y="552.5" font-size="12.3" text-anchor="end">-32</text><text x="713" y="302" font-size="12.3" textLength="87" lengthAdjust="spacingAndGlyphs">Altim. SLA: 0.29</text><text x="693" y="316.5" font-size="12.3" textLength="167" lengthAdjust="spacingAndGlyphs">Argo h1000: NaN h2000: NaN</text></g><g filter="url(#crisp3)"><text transform="translate(894,536.5) rotate(-90)" font-size="12.3" textLength="157.5" lengthAdjust="spacingAndGlyphs">IMOS 19-Oct-2012 17:01:13</text></g>
</svg></body></html>
